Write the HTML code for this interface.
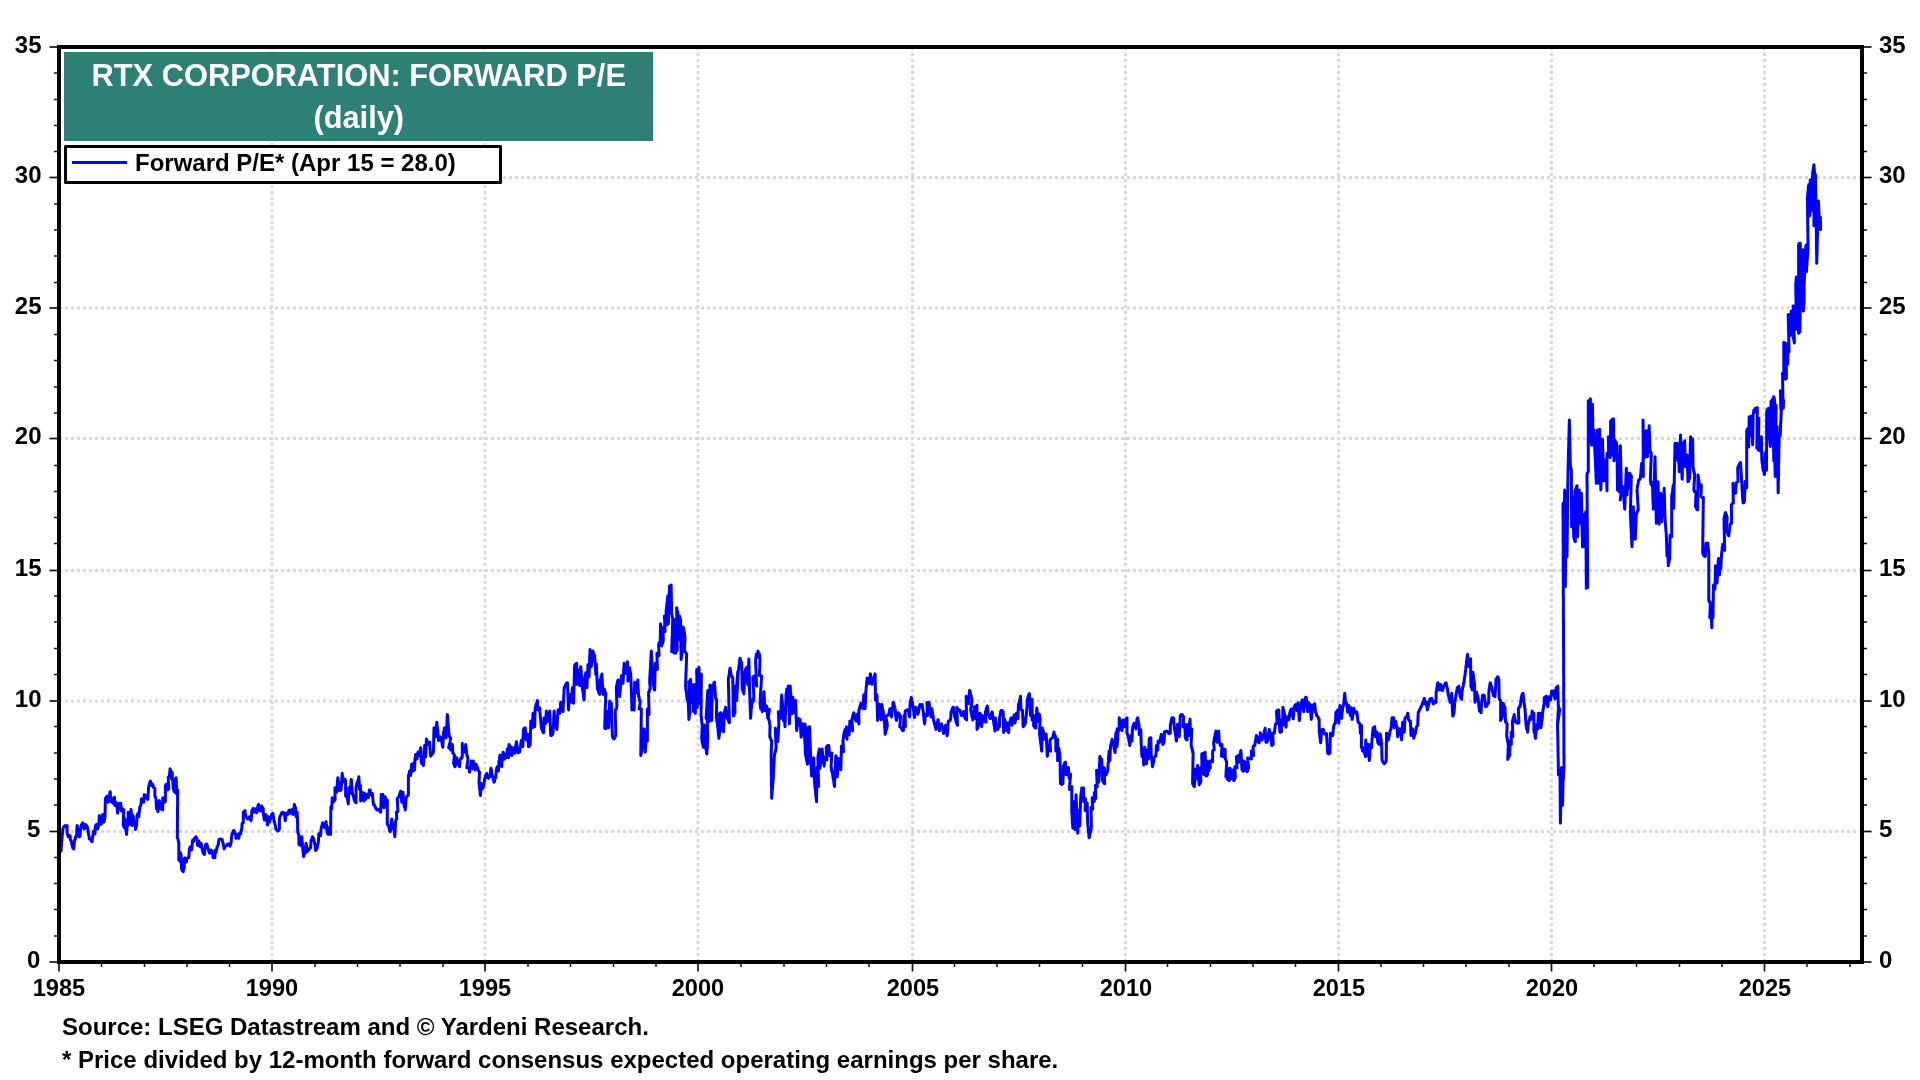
<!DOCTYPE html>
<html><head><meta charset="utf-8"><title>RTX Corporation: Forward P/E</title>
<style>
html,body{margin:0;padding:0;background:#fff;}
body{width:1920px;height:1080px;position:relative;overflow:hidden;font-family:"Liberation Sans",sans-serif;font-weight:bold;color:#000;}
.yl,.yr,.xl,.ft,#legend .tx,#title span{will-change:transform;}
#title span{display:block;}
.yl,.yr,.xl{position:absolute;font-size:24px;line-height:28px;height:28px;white-space:nowrap;}
.yl{left:0;width:41.5px;text-align:right;}
.yr{left:1879px;text-align:left;}
.xl{top:974px;width:80px;text-align:center;font-size:23.6px;}
#title{position:absolute;left:63.5px;top:51.5px;width:589.5px;height:89.5px;background:#2e7f74;color:#fff;text-align:center;font-size:30.8px;line-height:41.5px;box-sizing:border-box;padding-top:3.5px;}
#legend{position:absolute;left:63.5px;top:144.5px;width:438px;height:39px;border:3px solid #000;border-radius:1.5px;box-sizing:border-box;background:#fff;}
#legend .ln{position:absolute;left:5.5px;top:13.5px;width:55px;height:3px;background:#0000ff;}
#legend .tx{position:absolute;left:68.7px;top:0.5px;font-size:24px;line-height:30px;white-space:nowrap;}
.ft{position:absolute;left:62px;font-size:24px;line-height:28px;white-space:nowrap;}
</style></head><body>
<svg width="1920" height="1080" viewBox="0 0 1920 1080" style="position:absolute;left:0;top:0">
<line x1="59" x2="1860" y1="831.5" y2="831.5" stroke="#dadada" stroke-width="3" stroke-dasharray="3 3"/>
<line x1="59" x2="1860" y1="701" y2="701" stroke="#dadada" stroke-width="3" stroke-dasharray="3 3"/>
<line x1="59" x2="1860" y1="570.5" y2="570.5" stroke="#dadada" stroke-width="3" stroke-dasharray="3 3"/>
<line x1="59" x2="1860" y1="438.5" y2="438.5" stroke="#dadada" stroke-width="3" stroke-dasharray="3 3"/>
<line x1="59" x2="1860" y1="308" y2="308" stroke="#dadada" stroke-width="3" stroke-dasharray="3 3"/>
<line x1="59" x2="1860" y1="177.5" y2="177.5" stroke="#dadada" stroke-width="3" stroke-dasharray="3 3"/>
<line x1="272" x2="272" y1="47" y2="960" stroke="#dadada" stroke-width="3" stroke-dasharray="3 3"/>
<line x1="485" x2="485" y1="47" y2="960" stroke="#dadada" stroke-width="3" stroke-dasharray="3 3"/>
<line x1="698" x2="698" y1="47" y2="960" stroke="#dadada" stroke-width="3" stroke-dasharray="3 3"/>
<line x1="912.5" x2="912.5" y1="47" y2="960" stroke="#dadada" stroke-width="3" stroke-dasharray="3 3"/>
<line x1="1125.5" x2="1125.5" y1="47" y2="960" stroke="#dadada" stroke-width="3" stroke-dasharray="3 3"/>
<line x1="1338.5" x2="1338.5" y1="47" y2="960" stroke="#dadada" stroke-width="3" stroke-dasharray="3 3"/>
<line x1="1551.5" x2="1551.5" y1="47" y2="960" stroke="#dadada" stroke-width="3" stroke-dasharray="3 3"/>
<line x1="1764.5" x2="1764.5" y1="47" y2="960" stroke="#dadada" stroke-width="3" stroke-dasharray="3 3"/>
<path d="M61.0,851.1 61.1,850.6 61.2,848.2 61.2,848.4 61.3,847.3 61.4,844.9 61.5,845.1 61.6,843.3 61.6,843.0 61.7,840.6 61.8,840.9 61.9,838.6 62.0,838.9 62.1,837.9 62.2,835.6 62.3,834.5 62.4,834.8 62.5,832.5 62.6,832.8 62.7,831.1 62.9,829.4 63.2,828.2 63.5,827.1 63.8,826.7 64.9,825.6 66.0,826.7 67.1,825.6 67.1,826.0 67.1,827.1 67.1,829.5 67.1,830.6 67.1,830.5 67.1,832.2 67.4,834.0 67.7,835.1 67.9,834.9 68.2,836.7 69.1,836.8 69.9,835.6 70.0,836.0 70.2,837.1 70.3,838.2 70.4,840.0 71.0,840.5 71.6,842.2 71.8,844.0 72.0,843.8 72.2,846.2 72.4,846.0 72.7,847.8 73.8,848.9 73.9,847.1 74.0,847.3 74.1,844.9 74.1,845.1 74.2,842.7 74.3,842.2 74.6,840.5 74.9,839.4 75.2,839.5 75.4,837.8 76.0,836.0 76.6,835.6 76.6,833.9 76.7,834.2 76.7,833.2 76.8,830.9 76.8,829.9 76.9,828.9 76.9,829.2 77.0,826.9 77.1,825.9 77.1,825.6 77.5,826.0 77.9,828.4 78.2,828.9 78.3,830.6 78.4,830.5 78.5,832.9 78.5,834.0 78.6,833.8 78.7,834.9 78.8,836.7 79.9,836.7 80.0,834.9 80.1,835.1 80.2,832.7 80.3,832.9 80.4,831.1 80.6,829.4 80.8,828.2 81.0,828.4 81.2,826.0 81.4,824.9 81.6,824.4 82.1,824.3 82.7,822.8 82.9,823.1 83.2,824.1 83.5,826.3 83.8,826.7 84.1,828.4 84.3,828.9 84.6,828.4 84.9,826.0 85.2,826.2 85.4,824.4 86.6,825.6 86.9,826.0 87.3,827.1 87.7,828.9 87.9,829.4 88.0,831.8 88.2,831.6 88.4,834.0 88.6,833.8 88.8,835.6 89.0,836.0 89.1,837.1 89.3,838.9 90.2,838.8 91.0,840.0 91.6,841.5 92.1,841.7 92.2,840.0 92.3,839.0 92.4,838.0 92.6,837.0 92.7,836.7 92.9,834.9 93.1,835.1 93.3,832.7 93.6,831.6 93.8,831.1 94.3,833.1 94.9,833.9 95.0,833.5 95.0,831.2 95.1,831.4 95.2,830.4 95.3,828.1 95.4,827.0 95.4,826.7 96.0,824.9 96.6,824.4 96.8,824.9 97.1,827.3 97.4,828.4 97.7,828.9 97.9,827.1 98.2,827.3 98.5,824.9 98.8,824.4 98.8,822.7 98.9,821.6 99.0,821.8 99.1,820.6 99.1,819.5 99.2,817.1 99.3,816.0 99.3,815.6 100.4,816.7 100.5,818.4 100.6,818.2 100.7,819.4 100.8,820.5 100.8,821.6 100.9,824.0 101.0,824.4 101.3,824.0 101.6,821.6 101.8,820.5 102.1,820.0 102.2,819.5 102.3,818.4 102.4,816.0 102.6,816.2 102.7,814.4 102.8,814.9 103.0,816.0 103.1,817.1 103.3,819.5 103.5,819.4 103.6,821.8 103.8,822.2 104.1,821.8 104.3,820.6 104.6,819.5 104.9,817.8 104.9,817.4 105.0,816.3 105.0,815.3 105.0,814.2 105.0,813.2 105.1,812.1 105.1,809.8 105.1,810.0 105.2,809.0 105.2,806.6 105.2,805.6 105.3,805.8 105.3,803.5 105.3,802.4 105.4,801.4 105.4,800.3 105.4,799.3 105.4,798.9 106.0,797.3 106.6,797.7 107.1,796.1 107.3,797.8 107.5,797.5 107.7,799.8 107.9,800.8 108.0,800.6 108.2,802.2 108.4,801.8 108.7,800.6 108.9,799.5 109.1,797.1 109.3,796.7 109.5,796.3 109.6,795.3 109.8,793.0 110.0,793.3 110.1,791.7 110.2,792.0 110.3,793.1 110.3,794.1 110.4,795.1 110.5,797.5 110.6,797.2 110.7,798.9 111.0,800.6 111.3,801.8 111.6,802.2 111.9,800.5 112.3,799.4 112.7,798.9 112.8,799.4 112.9,800.5 113.1,801.6 113.2,803.3 113.4,803.0 113.6,801.9 113.8,800.9 114.0,798.6 114.1,797.6 114.3,797.2 114.4,797.6 114.5,800.0 114.5,799.7 114.6,800.7 114.7,803.1 114.8,804.1 114.8,803.9 114.9,805.6 115.3,805.1 115.6,802.7 116.0,802.2 116.2,802.7 116.4,803.8 116.7,804.9 116.9,807.3 117.1,807.8 117.2,808.2 117.3,809.4 117.4,811.8 117.6,811.6 117.7,813.3 117.7,812.9 117.8,811.8 117.9,810.6 117.9,808.2 118.0,808.4 118.1,806.0 118.2,806.2 118.2,804.4 119.3,803.3 119.4,805.1 119.6,804.9 119.7,807.3 119.8,808.4 119.9,808.9 120.1,808.4 120.2,806.0 120.4,806.2 120.6,805.1 120.8,803.3 120.9,805.1 121.0,806.2 121.1,806.0 121.2,808.4 121.3,808.2 121.4,809.4 121.6,811.1 122.1,810.6 122.7,808.9 123.8,810.0 123.7,810.4 123.7,811.4 123.7,812.5 123.6,813.5 123.6,814.5 123.6,816.9 123.5,816.6 123.5,817.6 123.4,820.0 123.4,821.0 123.4,822.1 123.3,821.8 123.3,824.1 123.3,823.9 123.2,825.6 123.8,826.0 124.3,827.8 124.4,827.3 124.5,824.9 124.5,825.1 124.6,822.7 124.7,822.9 124.8,820.5 124.8,819.4 124.9,818.9 125.0,819.3 125.1,820.3 125.2,822.6 125.3,822.3 125.4,823.3 125.4,824.4 125.5,825.4 125.6,826.4 125.7,827.4 125.8,829.7 125.9,829.4 126.0,831.1 126.2,831.6 126.4,834.0 126.6,834.4 126.6,832.7 126.7,832.9 126.8,831.8 126.9,830.6 127.0,829.5 127.0,827.1 127.1,826.7 127.4,826.2 127.7,823.8 128.0,823.3 128.0,821.7 128.0,822.0 128.1,819.7 128.1,819.9 128.1,818.9 128.1,816.6 128.1,816.9 128.2,815.9 128.2,813.6 128.2,813.9 128.2,812.2 129.3,813.3 129.4,813.7 129.4,816.0 129.5,817.0 129.5,818.0 129.6,817.7 129.6,818.7 129.7,819.8 129.7,822.1 129.8,823.1 129.8,822.8 129.9,824.4 130.0,822.8 130.0,823.1 130.1,820.8 130.2,821.1 130.3,820.1 130.3,817.8 130.4,818.1 130.5,815.8 130.6,816.1 130.6,815.1 130.7,812.8 130.8,813.1 130.9,810.8 130.9,809.8 131.0,809.4 131.1,809.8 131.2,812.1 131.3,811.9 131.4,812.9 131.5,813.9 131.6,815.6 131.6,815.9 131.7,818.2 131.7,817.9 131.8,818.9 131.8,821.2 131.9,822.2 131.9,821.9 132.0,822.9 132.1,825.2 132.1,825.6 132.2,825.2 132.3,824.2 132.4,823.2 132.6,822.2 132.7,821.2 132.8,818.9 132.9,819.2 133.0,818.2 133.1,815.9 133.2,815.6 133.3,817.3 133.4,817.1 133.5,818.2 133.6,819.4 133.7,821.8 133.8,822.2 134.9,821.7 135.0,823.4 135.0,824.5 135.1,825.6 135.2,826.8 135.3,826.6 135.4,829.0 135.4,829.4 135.7,827.8 136.0,828.1 136.3,825.9 136.6,825.6 136.6,823.9 136.7,824.2 136.7,821.9 136.8,820.9 136.8,821.2 136.9,818.9 136.9,819.2 137.0,816.9 137.1,817.2 137.1,815.6 137.7,813.8 138.2,813.3 138.4,815.1 138.6,816.2 138.8,816.7 138.9,816.3 139.0,815.3 139.1,813.0 139.2,813.3 139.3,811.0 139.4,811.3 139.6,809.0 139.7,809.3 139.8,808.3 139.9,806.7 140.4,806.2 141.0,804.4 141.1,802.7 141.2,802.9 141.3,801.8 141.4,799.4 141.6,798.9 142.7,800.0 143.2,801.8 143.8,802.2 143.9,801.8 143.9,799.4 144.0,799.5 144.1,798.4 144.2,796.0 144.3,796.2 144.3,794.4 145.4,795.6 146.0,797.3 146.6,797.8 147.1,798.0 147.7,799.4 147.8,799.1 147.9,798.1 147.9,797.0 148.0,794.7 148.1,795.0 148.2,793.3 148.3,793.0 148.4,790.6 148.5,789.6 148.5,788.6 148.6,787.5 148.7,786.5 148.8,786.1 149.1,785.8 149.4,783.5 149.8,783.8 150.1,781.5 150.4,781.1 150.7,781.6 151.0,782.7 151.3,783.8 151.6,785.6 152.7,784.4 153.0,784.9 153.4,787.3 153.8,787.8 154.9,788.3 154.9,790.0 154.9,789.8 154.9,792.1 154.9,793.1 154.9,794.2 154.9,795.2 154.9,796.3 154.9,796.7 155.4,797.1 156.0,798.9 156.1,799.2 156.1,801.5 156.2,802.5 156.2,803.5 156.3,803.2 156.3,805.5 156.4,805.2 156.4,806.2 156.5,808.5 156.6,808.9 157.0,809.2 157.5,810.1 158.0,811.7 158.1,810.0 158.2,809.0 158.3,809.2 158.4,806.9 158.6,807.2 158.7,806.1 158.8,804.4 159.0,802.5 159.1,801.2 159.3,800.6 159.5,800.9 159.6,802.0 159.8,803.0 159.9,804.1 160.0,805.1 160.2,806.2 160.3,807.2 160.4,808.9 160.7,808.4 161.0,807.3 161.3,806.2 161.6,804.4 161.8,804.9 162.0,806.0 162.2,807.1 162.4,808.2 162.7,810.0 162.7,809.6 162.7,807.3 162.7,807.6 162.7,805.3 162.7,804.3 162.7,803.2 162.7,802.2 162.7,802.5 162.7,800.2 162.7,800.5 162.7,799.4 162.7,797.8 162.9,798.2 163.2,800.6 163.5,800.5 163.8,802.2 164.6,802.3 165.4,801.1 165.4,800.7 165.4,798.4 165.4,798.6 165.4,796.3 165.4,796.6 165.4,795.5 165.4,793.2 165.4,792.2 165.4,792.4 165.4,790.1 165.4,790.4 165.4,788.0 165.4,788.3 165.4,785.9 165.4,785.6 166.3,784.1 167.1,783.9 167.2,785.6 167.3,786.6 167.4,787.6 167.5,787.3 167.6,789.6 167.7,790.0 168.8,788.9 168.7,788.5 168.7,786.1 168.6,786.4 168.6,784.0 168.5,782.9 168.5,781.9 168.4,782.1 168.4,779.8 168.3,778.7 168.3,777.6 168.2,777.2 169.3,776.1 169.4,774.4 169.6,774.7 169.7,772.4 169.8,771.3 169.9,771.6 170.0,769.3 170.1,768.9 170.6,770.6 171.0,771.1 171.1,772.9 171.2,774.0 171.2,773.8 171.3,774.9 171.4,776.0 171.5,777.1 171.6,778.9 171.6,778.4 171.7,776.0 171.8,776.2 171.9,773.8 172.0,772.7 172.1,772.2 172.2,774.0 172.3,775.1 172.3,776.2 172.4,776.0 172.5,778.4 172.6,779.5 172.7,780.0 172.7,781.8 172.8,781.6 172.9,784.0 173.0,785.1 173.1,786.2 173.1,787.3 173.2,787.8 173.5,789.4 173.8,789.1 174.1,791.3 174.3,791.7 174.4,791.3 174.5,788.9 174.5,787.9 174.6,788.1 174.6,785.8 174.7,784.7 174.8,783.7 174.8,782.6 174.9,782.2 175.2,780.5 175.4,779.4 175.7,778.2 176.0,777.8 176.1,778.1 176.1,779.1 176.2,780.1 176.2,781.1 176.3,782.1 176.3,783.1 176.4,785.4 176.4,785.1 176.5,787.4 176.6,787.8 176.4,788.2 176.2,790.6 176.1,790.5 175.9,792.9 175.8,793.3 176.4,791.6 177.0,790.5 177.7,790.0 177.7,790.4 177.7,792.7 177.6,792.4 177.6,794.7 177.6,795.7 177.6,795.4 177.6,796.5 177.6,798.8 177.6,798.5 177.6,800.8 177.6,801.8 177.6,802.8 177.6,802.6 177.6,804.9 177.6,804.6 177.6,806.9 177.5,806.6 177.5,808.9 177.5,810.0 177.5,809.7 177.5,812.0 177.5,811.7 177.5,814.0 177.5,815.0 177.5,814.8 177.5,817.1 177.5,818.1 177.5,817.8 177.5,820.1 177.5,819.8 177.4,820.9 177.4,821.9 177.4,822.9 177.4,825.2 177.4,826.2 177.4,827.2 177.4,827.0 177.4,828.0 177.4,830.3 177.4,831.3 177.4,831.0 177.4,832.0 177.4,833.1 177.4,834.1 177.3,836.4 177.3,836.1 177.3,837.8 177.7,838.2 178.1,839.4 178.4,841.8 178.8,842.2 178.8,842.6 178.8,843.7 178.8,846.0 178.8,847.1 178.8,848.1 178.8,849.1 178.8,850.2 178.8,851.2 178.8,852.3 178.8,852.0 178.8,853.1 178.8,854.1 178.8,856.5 178.8,857.5 178.8,857.3 178.8,859.6 178.8,860.0 179.9,861.1 179.9,859.4 179.9,859.5 179.9,857.1 179.9,857.3 179.9,856.2 179.9,853.8 179.9,852.7 179.9,852.2 180.4,852.7 181.0,854.4 181.0,854.8 181.1,855.9 181.1,858.2 181.2,859.2 181.2,859.0 181.2,861.3 181.3,862.3 181.3,863.3 181.4,864.4 181.4,865.4 181.4,866.4 181.5,867.5 181.5,868.5 181.6,868.9 182.1,870.5 182.7,870.1 183.2,871.7 183.4,870.0 183.7,869.0 183.9,869.3 184.1,868.3 184.3,866.7 184.3,864.9 184.2,865.1 184.1,864.0 184.0,862.9 183.9,861.8 183.9,860.6 183.8,858.9 184.9,857.8 185.2,859.5 185.4,860.6 185.7,860.5 186.0,862.2 186.4,861.8 186.7,859.4 187.1,858.9 187.9,857.7 188.8,857.8 188.8,857.3 188.9,856.2 189.0,855.1 189.1,854.0 189.1,851.6 189.2,851.8 189.3,849.4 189.3,848.9 190.2,847.1 191.0,846.7 191.2,848.4 191.4,849.5 191.6,850.0 191.7,849.6 191.8,848.6 191.9,847.6 192.0,845.4 192.1,844.4 192.2,844.6 192.3,843.6 192.4,841.4 192.6,840.4 192.7,840.0 193.8,841.1 194.1,839.4 194.5,838.2 194.9,837.8 196.0,836.7 196.4,838.4 196.7,838.2 197.1,840.0 197.2,840.5 197.3,841.6 197.4,844.0 197.6,845.1 197.7,845.6 197.9,843.8 198.2,842.7 198.5,842.9 198.8,841.1 199.0,842.9 199.2,844.0 199.4,845.1 199.7,844.9 199.9,846.7 200.3,844.9 200.6,845.1 201.0,843.3 201.2,843.8 201.4,844.9 201.7,846.0 201.9,847.1 202.1,848.9 202.4,850.6 202.7,850.5 202.9,851.6 203.2,853.3 204.3,854.4 204.5,854.0 204.6,851.6 204.8,850.5 204.9,850.6 205.0,849.5 205.2,847.1 205.3,847.3 205.4,845.6 206.0,844.1 206.6,843.9 206.8,844.2 207.1,845.2 207.4,846.2 207.7,847.8 208.0,848.2 208.4,849.4 208.8,851.1 209.3,852.9 209.9,853.3 210.3,852.9 210.6,851.8 211.0,850.0 212.1,851.1 212.3,852.9 212.5,852.7 212.7,855.1 212.9,854.9 213.0,857.3 213.2,857.8 214.9,857.8 215.0,856.0 215.0,856.2 215.1,853.8 215.2,852.7 215.3,851.6 215.4,850.5 215.4,850.0 215.8,851.8 216.1,852.2 216.3,850.5 216.6,849.4 216.8,849.5 217.0,847.1 217.2,846.7 217.8,846.2 218.3,844.4 218.4,842.8 218.6,843.1 218.7,840.8 218.8,841.1 218.9,839.4 220.6,838.9 222.2,839.4 222.4,841.1 222.7,842.1 222.9,843.1 223.1,842.8 223.3,844.4 223.6,846.2 223.8,846.0 224.0,848.4 224.2,848.9 224.7,847.3 225.1,846.4 225.6,846.1 226.7,845.6 227.5,844.1 228.3,843.9 229.2,844.4 230.0,846.1 230.3,844.5 230.6,844.8 230.8,843.8 231.1,842.2 231.2,841.8 231.3,840.6 231.4,838.2 231.5,837.1 231.6,836.0 231.7,835.6 232.0,833.8 232.4,834.0 232.8,832.2 233.3,830.7 233.9,830.6 234.4,832.0 235.0,832.2 235.2,833.9 235.4,833.6 235.6,834.6 235.7,835.6 235.9,838.0 236.1,838.3 236.4,836.7 236.7,835.7 236.9,836.1 237.2,834.4 237.6,834.8 237.9,837.0 238.3,838.0 238.7,838.3 238.8,836.7 239.0,837.0 239.1,836.0 239.3,833.7 239.4,833.3 240.6,833.9 240.8,833.5 241.0,831.2 241.2,831.5 241.4,830.5 241.7,828.9 241.8,828.4 241.9,827.3 242.0,824.9 242.1,825.1 242.2,823.3 243.3,822.8 243.3,821.1 243.3,820.0 243.3,820.3 243.3,817.9 243.3,816.9 243.3,817.1 243.3,816.0 243.3,815.0 243.3,812.6 243.3,812.2 244.2,812.0 245.0,810.6 245.1,812.2 245.2,813.2 245.3,814.2 245.4,813.9 245.6,815.6 246.1,817.3 246.7,817.8 247.5,819.0 248.3,818.9 248.9,817.1 249.4,816.7 249.9,817.0 250.3,818.0 250.7,820.2 251.1,820.6 251.2,818.9 251.3,817.8 251.4,816.7 251.5,817.0 251.6,815.9 251.6,813.6 251.7,813.8 251.8,811.5 251.9,811.7 252.0,810.0 252.7,809.8 253.3,808.3 253.6,809.0 253.9,811.6 254.2,812.2 254.7,810.5 255.1,809.4 255.6,808.9 255.8,809.2 256.1,810.2 256.4,811.2 256.7,812.8 256.9,812.4 257.0,810.1 257.2,809.1 257.4,808.1 257.6,807.0 257.8,806.7 258.2,804.9 258.6,804.4 258.7,806.1 258.9,805.8 259.1,808.1 259.3,809.1 259.4,809.4 260.0,810.9 260.6,811.1 260.8,809.5 261.0,808.5 261.2,808.8 261.4,807.8 261.7,806.1 262.4,807.9 263.1,808.3 263.2,808.7 263.2,811.0 263.2,810.7 263.3,811.7 263.3,813.3 263.5,815.1 263.7,816.2 263.9,816.0 264.1,818.4 264.3,819.5 264.4,820.0 264.7,818.2 264.9,818.4 265.1,817.3 265.3,816.2 265.6,814.4 265.9,814.9 266.3,816.0 266.7,817.8 266.8,818.2 266.9,819.2 267.0,821.5 267.2,822.6 267.3,822.3 267.4,824.6 267.6,825.0 267.7,824.6 267.8,822.3 267.8,822.5 267.9,821.5 268.0,819.1 268.1,819.4 268.2,817.1 268.3,816.7 268.6,818.4 268.8,818.2 269.0,819.4 269.2,821.8 269.4,822.2 269.7,820.5 270.0,820.6 270.3,819.5 270.6,817.8 270.9,817.3 271.3,816.2 271.7,814.4 272.8,813.3 273.0,813.8 273.1,816.2 273.3,816.0 273.5,817.1 273.7,819.5 273.9,820.0 274.2,821.8 274.4,821.6 274.7,822.7 275.0,824.4 275.2,824.8 275.4,825.8 275.7,828.1 275.9,829.1 276.1,829.4 276.9,829.6 277.8,831.1 278.6,830.6 279.4,828.9 279.4,828.5 279.4,827.5 279.4,825.2 279.4,824.2 279.4,823.2 279.4,822.2 279.4,821.2 279.4,820.2 279.4,819.2 279.4,818.9 279.9,817.1 280.3,816.0 280.7,814.9 281.1,814.4 281.7,812.7 282.2,812.2 283.9,812.8 284.1,814.5 284.3,815.6 284.5,815.5 284.7,816.6 284.9,817.7 285.1,820.1 285.3,820.6 285.4,820.2 285.6,817.8 285.7,818.1 285.8,815.8 285.9,816.0 286.0,815.0 286.1,813.3 286.9,813.2 287.8,814.4 288.2,814.0 288.6,811.6 289.0,810.5 289.4,810.0 289.8,811.8 290.2,812.9 290.6,813.3 291.0,813.0 291.4,812.0 291.8,809.8 292.2,809.4 292.4,811.1 292.6,812.1 292.8,813.1 292.9,814.1 293.1,814.4 293.2,814.1 293.4,811.8 293.5,810.8 293.6,811.1 293.8,808.8 293.9,809.1 294.0,808.1 294.2,807.1 294.3,804.8 294.4,804.4 294.8,806.2 295.2,807.3 295.6,807.8 295.6,809.5 295.7,809.4 295.8,811.8 295.8,812.9 295.9,814.0 296.0,815.1 296.0,814.9 296.1,816.7 296.4,816.2 296.7,815.1 296.9,814.0 297.2,812.2 297.2,812.6 297.3,814.9 297.3,814.6 297.3,815.6 297.4,816.6 297.4,818.9 297.4,818.6 297.4,820.9 297.5,820.6 297.5,821.6 297.5,823.9 297.6,823.6 297.6,825.9 297.6,825.6 297.6,827.9 297.7,828.9 297.7,828.6 297.7,829.6 297.8,831.9 297.8,832.2 298.3,834.0 298.9,834.4 298.9,834.8 298.9,835.8 298.9,838.1 298.9,837.8 298.9,840.1 298.9,839.8 298.9,842.1 298.9,841.8 298.9,844.1 298.9,844.4 299.7,844.4 300.6,845.6 300.7,843.8 300.8,844.0 301.0,841.6 301.1,840.5 301.2,839.4 301.4,838.2 301.5,837.1 301.7,836.7 301.8,837.0 301.9,838.0 302.0,840.3 302.1,841.4 302.2,841.1 302.3,842.1 302.4,843.1 302.5,845.4 302.6,846.4 302.7,846.1 302.8,847.8 302.9,849.5 303.0,850.6 303.1,851.8 303.2,852.9 303.3,854.0 303.4,855.1 303.5,854.9 303.6,856.7 304.0,854.9 304.5,853.8 305.0,853.3 305.1,853.0 305.2,852.0 305.3,851.0 305.4,850.0 305.6,849.0 305.7,846.7 305.8,845.7 305.9,846.0 306.0,845.0 306.1,843.3 306.2,845.0 306.4,844.8 306.5,845.8 306.7,848.1 306.8,849.2 306.9,850.2 307.1,850.0 307.2,851.7 308.1,850.2 308.9,850.0 309.7,848.2 310.6,847.8 310.6,847.3 310.7,846.2 310.8,845.1 310.9,844.0 311.0,841.6 311.0,840.5 311.1,840.0 311.6,839.5 312.0,838.4 312.4,836.7 312.9,838.4 313.4,838.2 313.9,840.0 314.2,841.8 314.4,841.6 314.7,844.0 315.0,844.4 315.1,844.8 315.2,845.8 315.3,848.1 315.4,847.9 315.5,850.2 315.6,850.6 316.1,849.0 316.7,849.4 317.2,847.8 317.4,846.0 317.7,844.9 317.9,843.8 318.1,844.0 318.3,842.2 318.4,841.8 318.5,839.5 318.5,839.7 318.6,837.4 318.7,837.7 318.8,836.6 318.8,834.3 318.9,833.9 319.7,834.1 320.6,835.6 320.6,835.1 320.7,834.0 320.8,831.6 320.9,831.8 321.0,830.6 321.1,828.9 321.4,827.2 321.7,826.2 321.9,826.5 322.2,824.2 322.5,823.1 322.8,822.8 323.1,823.1 323.3,824.1 323.6,826.3 323.9,826.7 325.0,827.8 325.2,827.4 325.4,826.4 325.6,825.4 325.7,824.4 325.9,822.0 326.1,821.7 326.2,823.4 326.3,824.4 326.4,824.2 326.6,825.2 326.7,826.3 326.8,828.6 326.9,828.4 327.0,829.5 327.1,831.8 327.2,832.2 327.8,834.0 328.3,834.4 328.4,834.0 328.5,831.6 328.6,830.5 328.7,829.4 328.8,828.2 328.9,827.8 329.2,829.5 329.4,830.6 329.7,830.5 330.0,831.6 330.3,834.0 330.6,834.4 330.6,832.8 330.6,831.7 330.6,830.7 330.6,829.7 330.6,828.7 330.6,828.9 330.6,826.6 330.7,826.9 330.7,825.8 330.7,823.5 330.7,823.8 330.7,821.4 330.7,820.4 330.7,819.4 330.7,818.4 330.8,818.6 330.8,817.6 330.8,815.3 330.8,814.2 330.8,813.2 330.8,813.5 330.8,811.2 330.8,811.4 330.9,810.4 330.9,809.4 330.9,807.0 330.9,806.7 331.3,807.1 331.7,808.9 331.7,808.5 331.8,807.5 331.8,806.5 331.9,804.2 331.9,804.5 332.0,802.2 332.0,802.5 332.1,800.2 332.1,800.4 332.2,798.1 332.2,797.8 332.5,798.2 332.8,800.6 333.1,800.5 333.3,802.2 334.2,800.5 335.0,800.0 335.0,799.6 335.0,798.6 335.0,797.6 335.0,796.6 335.0,795.6 335.0,794.5 335.0,793.5 335.0,791.2 335.0,790.2 335.0,789.2 335.0,788.1 335.0,787.8 335.4,789.5 335.8,790.6 336.2,790.5 336.7,792.2 336.7,790.5 336.8,789.5 336.9,789.8 337.0,788.7 337.1,786.4 337.1,786.7 337.2,785.6 337.3,783.3 337.4,782.3 337.5,781.3 337.5,780.2 337.6,780.5 337.7,779.5 337.8,777.8 338.0,778.2 338.1,780.6 338.3,781.8 338.5,781.6 338.7,782.7 338.9,784.4 339.0,784.8 339.1,787.1 339.2,788.1 339.3,787.9 339.4,788.9 339.4,790.6 341.1,790.0 341.2,789.6 341.2,787.3 341.3,786.2 341.4,785.2 341.5,785.4 341.5,783.1 341.6,783.4 341.7,781.0 341.7,781.3 341.8,778.9 341.9,777.9 341.9,778.1 342.0,775.8 342.1,774.8 342.2,775.0 342.2,773.3 342.3,773.8 342.4,774.9 342.6,776.0 342.7,777.1 342.8,778.2 342.9,780.6 343.0,780.5 343.1,782.2 343.6,781.8 344.0,779.4 344.4,778.9 345.0,779.4 345.6,781.1 345.6,781.5 345.6,782.5 345.6,784.9 345.6,785.9 345.6,786.9 345.6,786.7 345.6,787.7 345.6,788.7 345.6,791.0 345.6,792.1 345.6,793.1 345.6,794.1 345.6,795.2 345.6,795.6 346.4,796.8 347.2,796.7 347.4,797.0 347.5,799.4 347.7,800.4 347.9,800.1 348.0,802.5 348.2,802.2 348.3,803.9 348.4,803.5 348.4,802.5 348.4,800.2 348.5,800.5 348.5,798.2 348.5,797.2 348.6,797.5 348.6,795.2 348.6,794.2 348.7,793.2 348.7,793.5 348.8,791.2 348.8,791.4 348.8,789.1 348.9,788.1 348.9,787.8 349.1,789.5 349.3,789.4 349.6,791.8 349.8,792.9 350.0,793.3 350.1,792.9 350.2,790.5 350.3,790.8 350.4,789.7 350.5,788.6 350.6,786.3 350.7,786.5 350.8,785.4 350.9,784.4 351.0,782.0 351.1,780.9 351.2,779.9 351.3,779.4 351.4,779.9 351.5,782.2 351.6,782.0 351.6,783.1 351.7,785.4 351.8,785.2 351.9,787.5 351.9,787.3 352.0,788.4 352.1,789.4 352.1,790.5 352.2,792.2 352.5,792.7 352.8,795.1 353.1,794.9 353.3,796.7 353.7,797.1 354.1,799.5 354.4,800.0 355.0,801.6 355.6,801.2 356.1,802.8 356.1,801.1 356.1,800.1 356.1,800.4 356.1,798.1 356.1,798.4 356.1,797.4 356.1,796.4 356.1,794.1 356.1,793.1 356.1,792.1 356.1,792.4 356.1,791.3 356.1,789.0 356.1,789.3 356.1,788.3 356.1,786.7 356.4,786.2 356.8,783.8 357.1,782.7 357.4,782.9 357.8,781.1 358.1,780.6 358.3,779.5 358.6,778.4 358.9,776.7 358.9,777.0 359.0,779.4 359.0,779.1 359.1,781.4 359.1,781.1 359.2,782.1 359.2,783.1 359.3,785.5 359.3,786.5 359.4,786.2 359.4,787.2 359.4,788.9 359.8,787.1 360.2,786.0 360.6,785.6 360.6,787.2 360.6,788.3 360.6,789.3 360.6,789.1 360.6,791.4 360.6,791.1 360.6,792.2 360.6,794.5 360.6,794.2 360.6,796.6 360.6,797.6 360.6,797.4 360.6,799.7 360.6,800.7 360.6,801.1 360.7,800.8 360.9,798.5 361.1,798.8 361.3,796.5 361.5,796.8 361.7,794.5 361.9,794.8 362.0,793.9 362.2,792.2 362.4,792.6 362.6,793.5 362.8,795.8 363.0,795.5 363.1,797.8 363.3,797.5 363.5,799.8 363.7,799.5 363.9,801.1 364.0,800.6 364.0,798.2 364.1,798.4 364.2,796.0 364.3,796.2 364.4,795.1 364.4,793.3 364.6,795.0 364.8,796.0 365.0,795.7 365.2,798.1 365.4,797.8 365.6,799.4 365.9,797.8 366.2,798.1 366.6,797.1 366.9,794.8 367.2,794.4 367.6,794.9 368.0,796.0 368.3,797.8 368.5,797.3 368.7,796.2 368.8,795.1 369.0,792.7 369.1,792.9 369.3,790.5 369.4,790.0 370.1,790.0 370.4,791.8 370.7,792.9 370.9,792.7 371.2,794.4 372.3,793.3 372.4,795.0 372.5,796.0 372.6,795.7 372.7,798.0 372.8,797.7 372.9,798.7 373.0,801.1 373.1,802.1 373.2,801.8 373.3,802.8 373.4,804.4 374.3,804.9 375.1,806.7 375.7,808.4 376.2,808.2 376.8,810.0 378.4,809.4 379.2,809.7 379.9,811.9 380.7,812.2 380.7,811.8 380.7,809.5 380.8,809.7 380.8,808.7 380.8,807.6 380.9,806.6 380.9,804.3 380.9,804.5 381.0,802.2 381.0,801.1 381.0,801.4 381.1,799.0 381.1,798.0 381.1,796.9 381.2,797.2 381.2,796.1 381.2,794.4 382.9,794.4 383.0,796.1 383.1,795.8 383.1,798.2 383.2,799.2 383.3,798.9 383.4,801.2 383.5,801.0 383.6,803.3 383.7,803.0 383.7,804.1 383.8,806.4 383.9,806.1 384.0,807.8 384.1,806.1 384.2,806.4 384.3,804.1 384.4,804.4 384.5,803.4 384.6,801.1 384.7,800.1 384.8,799.0 384.9,799.3 385.0,798.3 385.1,796.7 385.3,798.3 385.5,798.0 385.7,800.3 385.9,800.0 386.0,802.3 386.2,803.2 386.4,804.2 386.6,803.9 386.8,805.6 386.9,803.8 387.0,802.7 387.1,802.9 387.2,801.8 387.3,800.0 387.3,801.7 387.3,801.4 387.3,803.7 387.3,803.4 387.3,805.7 387.3,806.8 387.3,806.5 387.3,808.8 387.3,808.5 387.3,809.5 387.3,811.9 387.3,811.6 387.3,813.9 387.3,813.6 387.3,815.9 387.3,815.6 387.3,816.7 387.3,819.0 387.3,818.7 387.3,819.7 387.3,820.7 387.3,821.8 387.3,824.1 387.3,824.4 388.0,824.9 388.7,826.7 389.0,827.0 389.2,828.0 389.5,830.3 389.8,831.3 390.1,831.7 390.4,831.0 390.6,829.7 390.9,827.8 391.0,826.0 391.1,826.2 391.2,823.8 391.3,824.0 391.4,821.6 391.6,820.5 391.7,820.6 391.8,818.9 391.9,820.5 392.0,821.5 392.1,821.2 392.2,823.5 392.3,824.5 392.4,824.2 392.6,826.5 392.7,827.5 392.8,827.2 392.9,828.9 393.0,828.5 393.2,826.2 393.4,826.5 393.5,824.2 393.7,823.9 393.8,824.3 393.9,826.7 393.9,827.7 394.0,828.8 394.1,829.9 394.2,830.9 394.3,832.0 394.4,833.1 394.5,834.1 394.6,835.2 394.7,835.0 394.8,836.7 394.8,835.0 394.9,835.2 395.0,834.2 395.0,833.2 395.1,832.1 395.1,829.8 395.2,828.8 395.3,829.0 395.3,828.0 395.4,825.6 395.4,824.6 395.5,824.9 395.5,823.8 395.6,821.5 395.7,821.1 396.2,819.4 396.8,818.9 396.7,818.4 396.7,816.0 396.6,816.2 396.6,815.1 396.5,812.7 396.4,812.2 397.9,811.7 397.8,810.0 397.8,808.9 397.8,807.8 397.7,808.1 397.7,807.0 397.6,805.9 397.6,804.9 397.5,802.5 397.5,802.7 397.4,801.7 397.4,800.6 397.3,798.9 398.2,797.1 399.0,796.7 399.3,796.2 399.7,793.8 400.0,792.7 400.3,792.9 400.7,791.1 400.8,792.8 400.9,793.8 401.0,793.5 401.1,794.5 401.2,795.5 401.3,797.8 401.4,798.8 401.5,798.5 401.6,800.9 401.7,800.6 401.8,802.2 401.9,801.9 402.0,799.6 402.1,799.9 402.2,797.6 402.3,797.9 402.4,795.6 402.6,794.6 402.7,794.9 402.8,792.6 402.9,792.2 403.0,793.9 403.1,793.6 403.2,794.6 403.3,796.9 403.4,798.0 403.4,799.0 403.5,800.0 403.6,799.7 403.7,800.7 403.8,801.8 403.9,804.1 404.0,804.4 404.3,806.2 404.5,807.3 404.8,807.1 405.1,808.2 405.3,810.0 405.4,808.3 405.5,807.3 405.6,807.6 405.6,805.3 405.7,804.3 405.8,803.2 405.9,803.5 405.9,802.5 406.0,800.2 406.1,799.2 406.1,798.1 406.2,797.8 407.1,796.0 407.9,795.6 408.4,794.4 408.4,794.0 408.4,791.7 408.4,791.9 408.4,789.6 408.4,789.8 408.4,787.5 408.4,787.7 408.4,785.4 408.4,784.4 408.4,783.3 408.4,783.6 408.4,782.5 408.4,781.5 408.4,779.1 408.4,778.1 408.4,777.0 408.4,776.0 408.4,775.6 408.7,775.1 409.0,774.0 409.3,772.9 409.6,771.1 409.8,772.9 410.1,772.7 410.4,773.8 410.7,775.6 410.7,775.2 410.8,774.2 410.9,773.2 411.0,770.9 411.1,769.9 411.2,770.1 411.2,769.1 411.3,766.8 411.4,765.8 411.5,766.1 411.6,764.4 411.8,764.9 412.0,767.3 412.2,768.4 412.4,768.2 412.7,770.6 412.9,771.1 413.0,770.6 413.0,769.5 413.1,768.4 413.2,766.0 413.3,766.2 413.4,765.1 413.4,763.3 413.6,765.1 413.8,764.9 414.0,766.0 414.2,768.4 414.4,768.2 414.6,770.0 414.6,768.4 414.6,768.6 414.7,766.4 414.7,766.6 414.7,764.4 414.8,764.6 414.8,762.4 414.8,762.6 414.9,760.4 414.9,760.0 415.0,758.2 415.2,758.4 415.4,757.3 415.5,756.2 415.7,754.4 416.0,754.9 416.4,757.3 416.8,758.4 417.1,758.9 417.2,757.1 417.4,756.0 417.5,756.2 417.6,753.8 417.8,752.7 417.9,752.2 418.3,752.7 418.6,755.1 419.0,755.6 419.2,755.1 419.5,754.0 419.7,751.6 420.0,750.5 420.2,750.6 420.4,749.5 420.7,747.8 420.7,749.5 420.7,750.5 420.8,751.5 420.8,752.6 420.9,752.3 420.9,753.3 420.9,755.6 421.0,755.4 421.0,756.4 421.1,757.4 421.1,758.5 421.1,759.5 421.2,760.5 421.2,762.2 421.8,763.7 422.3,763.2 422.9,764.1 423.4,765.6 423.5,763.9 423.6,762.9 423.6,761.9 423.7,760.9 423.7,759.9 423.8,760.2 423.8,757.9 423.9,756.9 423.9,757.2 424.0,756.2 424.1,755.2 424.1,754.2 424.2,751.9 424.2,750.9 424.3,749.9 424.3,750.2 424.4,747.9 424.4,748.2 424.5,747.2 424.6,745.6 424.7,745.9 424.8,746.9 424.9,747.9 425.0,750.2 425.1,751.3 425.2,751.0 425.3,753.3 425.4,753.0 425.5,754.0 425.6,756.3 425.7,756.7 425.7,756.3 425.8,755.2 425.8,752.9 425.8,753.1 425.9,752.1 425.9,749.7 426.0,750.0 426.0,749.0 426.1,746.6 426.1,745.6 426.2,745.8 426.2,744.8 426.3,742.4 426.3,742.7 426.4,740.3 426.4,740.6 426.4,738.9 426.7,740.6 427.0,740.5 427.3,741.6 427.6,744.0 427.9,744.4 428.7,744.0 429.6,742.2 429.6,742.6 429.7,743.7 429.8,746.1 429.9,745.8 430.0,748.2 430.1,749.3 430.2,750.4 430.2,750.1 430.3,751.2 430.4,753.6 430.5,753.3 430.6,755.7 430.7,756.1 431.5,754.6 432.3,754.4 432.9,752.7 433.4,752.2 433.5,750.6 433.5,749.5 433.5,748.5 433.5,747.5 433.6,746.5 433.6,746.8 433.6,744.4 433.6,743.4 433.7,743.7 433.7,741.4 433.7,740.4 433.7,739.4 433.7,739.6 433.8,737.3 433.8,737.6 433.8,735.3 433.8,734.3 433.9,733.2 433.9,733.5 433.9,731.2 433.9,731.5 434.0,730.5 434.0,729.4 434.0,727.8 434.2,729.4 434.4,730.4 434.6,731.4 434.7,731.1 434.9,733.4 435.1,734.4 435.3,734.0 435.5,735.0 435.7,736.7 435.7,735.0 435.8,735.3 435.9,734.2 436.0,731.9 436.1,732.2 436.1,731.1 436.2,730.1 436.3,729.1 436.4,728.0 436.5,725.7 436.5,724.7 436.6,724.9 436.7,722.6 436.8,722.2 436.9,722.6 437.0,724.9 437.1,725.9 437.2,725.6 437.3,727.9 437.4,727.6 437.6,728.6 437.7,729.6 437.8,730.6 437.9,732.2 438.0,732.6 438.0,733.7 438.1,736.0 438.2,737.0 438.2,736.8 438.3,737.8 438.4,740.2 438.4,740.6 438.9,740.2 439.3,739.3 439.7,738.3 440.1,736.7 440.4,737.1 440.8,739.5 441.1,740.6 441.4,740.5 441.8,742.2 442.0,742.6 442.2,743.6 442.4,745.9 442.7,746.9 442.9,747.2 442.9,745.5 443.0,744.4 443.0,743.4 443.1,742.3 443.1,741.2 443.2,740.2 443.2,739.1 443.3,739.4 443.3,738.3 443.4,737.2 443.4,734.9 443.4,734.4 443.6,732.7 443.8,731.6 444.0,731.8 444.2,729.4 444.4,728.2 444.6,727.8 444.7,728.1 444.9,729.1 445.1,731.4 445.2,732.4 445.4,732.1 445.6,734.4 445.7,734.1 445.9,735.1 446.1,736.1 446.2,737.8 446.3,736.1 446.3,736.4 446.4,734.1 446.4,733.1 446.5,732.1 446.5,732.3 446.6,731.3 446.6,729.0 446.7,729.3 446.7,728.3 446.8,727.3 446.8,726.3 446.9,725.2 446.9,722.9 446.9,723.2 447.0,720.9 447.0,721.2 447.1,720.2 447.1,717.9 447.2,716.8 447.2,715.8 447.3,714.8 447.3,714.4 447.4,714.8 447.5,717.1 447.6,716.8 447.7,717.8 447.8,720.1 447.8,721.1 447.9,722.1 448.0,721.8 448.1,722.8 448.2,725.1 448.2,724.8 448.3,725.8 448.4,728.1 448.5,727.8 448.6,728.8 448.7,731.1 448.8,732.1 448.8,731.8 448.9,734.1 449.0,734.4 449.4,736.2 449.8,737.3 450.2,737.1 450.7,738.9 450.4,739.2 450.2,741.5 450.0,742.5 449.8,743.5 449.6,744.5 449.3,744.2 449.1,746.5 448.9,746.1 448.7,747.8 449.7,748.2 450.7,750.0 451.0,749.5 451.3,748.4 451.7,747.3 452.0,746.2 452.3,744.4 452.4,744.9 452.5,747.3 452.5,747.1 452.6,749.5 452.7,750.6 452.8,751.8 452.8,752.9 452.9,753.3 453.7,753.8 454.6,755.6 454.4,756.0 454.2,757.1 454.1,759.5 453.9,759.4 453.8,761.8 453.6,762.9 453.4,763.3 454.0,763.8 454.6,766.2 455.1,766.7 455.3,765.0 455.5,765.3 455.7,763.1 455.9,763.4 456.0,761.1 456.2,760.1 456.4,760.4 456.6,758.1 456.8,757.8 457.0,759.5 457.1,759.4 457.3,760.5 457.5,761.6 457.7,764.0 457.9,764.4 458.7,764.9 459.6,766.7 459.6,766.2 459.7,763.8 459.8,762.7 459.9,762.9 460.0,761.8 460.1,760.0 460.7,758.5 461.2,757.7 461.8,758.1 462.3,756.7 462.3,756.3 462.3,755.3 462.3,752.9 462.3,753.2 462.3,750.9 462.3,749.9 462.3,750.1 462.3,749.1 462.3,748.1 462.3,747.1 462.3,744.7 462.3,743.7 462.3,743.3 462.5,745.0 462.7,746.0 462.9,746.9 463.1,746.6 463.3,748.9 463.4,748.6 463.6,750.9 463.8,751.9 464.0,752.2 464.2,751.8 464.5,750.6 464.7,749.5 465.0,747.1 465.2,746.0 465.4,746.2 465.7,744.4 465.8,746.1 465.9,745.8 466.0,748.1 466.1,747.8 466.2,748.8 466.3,751.1 466.4,752.1 466.6,751.8 466.7,754.1 466.8,754.4 467.1,756.2 467.3,756.0 467.6,757.1 467.9,758.9 467.8,760.6 467.6,761.8 467.5,762.9 467.3,764.0 467.2,763.8 467.1,764.9 466.9,767.3 466.8,767.8 467.9,767.1 469.0,767.8 469.1,769.5 469.3,770.6 469.4,771.8 469.6,772.2 469.7,771.9 469.9,769.6 470.0,768.5 470.2,768.8 470.3,766.5 470.5,765.5 470.6,764.5 470.8,764.8 470.9,763.8 471.1,762.8 471.2,761.1 471.5,761.6 471.7,764.0 471.9,763.8 472.2,764.9 472.4,766.0 472.7,767.1 472.9,768.9 473.0,767.1 473.0,767.3 473.1,766.2 473.2,763.8 473.3,764.0 473.4,762.9 473.4,761.1 473.6,762.7 473.8,762.4 474.0,763.4 474.2,765.7 474.4,765.4 474.6,766.4 474.7,768.7 474.9,768.4 475.1,770.0 475.3,768.2 475.6,767.1 475.8,767.3 476.0,764.9 476.2,764.4 476.6,766.2 477.1,767.3 477.5,767.1 477.9,768.9 478.4,770.6 479.0,771.8 479.6,772.2 479.5,773.9 479.4,773.6 479.4,774.6 479.3,776.9 479.3,777.9 479.2,777.6 479.2,778.6 479.1,780.9 479.1,781.9 479.0,782.2 479.1,783.9 479.2,783.6 479.3,784.6 479.4,787.0 479.6,786.7 479.7,789.0 479.8,790.1 479.9,789.8 480.0,790.8 480.1,793.1 480.2,792.9 480.3,793.9 480.4,795.6 480.5,795.2 480.6,794.2 480.6,791.9 480.7,792.1 480.8,789.8 480.8,788.8 480.9,789.1 481.0,786.8 481.0,785.7 481.1,784.7 481.2,783.7 481.2,783.3 481.4,783.8 481.7,786.2 481.9,786.0 482.1,787.1 482.3,788.9 482.9,788.4 483.4,786.7 483.6,784.9 483.8,785.1 484.0,784.0 484.2,782.9 484.4,781.8 484.6,780.0 484.8,778.2 485.1,778.4 485.4,776.0 485.7,775.6 486.2,775.1 486.8,773.3 487.1,775.0 487.4,776.0 487.8,775.7 488.1,778.0 488.4,778.3 489.3,776.9 490.1,776.7 490.2,776.3 490.3,775.2 490.4,774.2 490.5,771.9 490.6,772.1 490.7,769.8 490.8,768.7 490.9,768.3 491.1,768.7 491.3,769.7 491.5,770.8 491.7,773.1 491.9,774.1 492.1,775.2 492.3,775.6 492.6,776.0 492.9,777.1 493.2,779.5 493.4,779.4 493.7,780.5 494.0,782.2 494.4,781.8 494.8,779.4 495.2,778.2 495.7,777.8 495.8,777.3 495.9,774.9 495.9,775.1 496.0,774.0 496.1,772.9 496.2,771.1 496.5,769.4 496.8,768.2 497.1,767.1 497.3,766.7 497.6,768.4 497.9,768.2 498.2,769.4 498.4,771.1 498.5,769.5 498.6,768.5 498.6,768.8 498.7,766.5 498.7,766.8 498.8,765.8 498.8,764.8 498.9,763.8 498.9,761.5 499.0,761.1 499.2,760.7 499.4,759.7 499.6,757.4 499.7,757.7 499.9,755.4 500.1,755.0 500.3,756.7 500.4,757.8 500.6,757.5 500.7,759.9 500.9,759.7 501.0,762.0 501.2,763.1 501.3,762.8 501.5,763.9 501.6,766.3 501.8,766.7 501.9,764.9 501.9,763.8 502.0,762.7 502.1,761.6 502.2,761.8 502.3,759.4 502.3,758.9 502.5,758.4 502.6,756.0 502.7,754.9 502.9,753.8 503.0,752.7 503.1,752.2 503.4,752.7 503.6,755.1 503.8,756.2 504.1,757.3 504.3,757.1 504.6,758.9 505.4,757.7 506.2,757.8 506.4,756.0 506.5,754.9 506.6,753.8 506.8,752.7 506.9,752.9 507.1,751.8 507.2,749.4 507.3,748.9 507.5,750.6 507.6,751.8 507.8,752.9 507.9,754.0 508.0,755.1 508.2,756.2 508.3,756.0 508.4,757.8 508.5,757.4 508.5,756.4 508.6,754.1 508.6,754.3 508.7,753.3 508.7,752.3 508.7,749.9 508.8,750.2 508.8,749.2 508.9,746.9 508.9,745.8 509.0,746.1 509.0,744.4 509.8,746.2 510.7,746.7 510.8,748.4 510.9,748.2 511.1,749.4 511.2,750.5 511.4,752.9 511.5,754.0 511.6,755.1 511.8,755.6 511.9,753.8 512.1,754.0 512.3,752.9 512.4,751.8 512.6,750.6 512.7,748.2 512.9,747.8 513.2,748.2 513.6,749.4 513.9,750.5 514.2,752.9 514.6,753.3 514.7,751.6 514.9,751.8 515.1,750.6 515.3,748.2 515.5,747.1 515.7,746.7 515.8,745.0 516.0,744.0 516.1,744.3 516.3,743.3 516.4,741.7 516.6,743.3 516.7,744.3 516.8,744.0 517.0,746.4 517.1,746.1 517.2,748.4 517.4,749.4 517.5,749.1 517.6,750.1 517.8,752.4 517.9,752.8 519.6,752.2 519.7,750.5 519.9,750.6 520.0,748.2 520.2,747.1 520.3,747.3 520.5,746.2 520.7,744.4 520.9,742.7 521.2,741.6 521.5,740.5 521.8,740.0 522.0,740.5 522.1,741.6 522.3,744.0 522.5,745.1 522.7,746.2 522.9,746.7 522.9,745.0 523.0,743.9 523.0,744.2 523.0,743.1 523.1,740.8 523.1,739.8 523.1,740.0 523.2,739.0 523.2,737.9 523.2,736.9 523.3,734.6 523.3,734.8 523.3,733.8 523.4,731.4 523.4,731.7 523.4,730.0 524.3,728.2 525.2,727.8 525.3,729.4 525.4,729.2 525.5,730.2 525.6,731.2 525.7,732.2 525.8,734.5 525.9,734.3 526.0,736.6 526.1,736.3 526.1,737.3 526.2,738.3 526.3,740.0 526.7,738.2 527.0,738.4 527.3,736.0 527.7,734.9 528.0,734.4 528.0,734.8 528.1,735.8 528.1,738.1 528.2,737.9 528.2,740.2 528.3,741.2 528.3,740.9 528.4,743.2 528.4,744.3 528.5,745.3 528.5,746.3 528.6,746.7 529.4,746.2 530.2,744.4 530.2,742.8 530.3,741.8 530.3,742.1 530.3,741.0 530.3,740.0 530.4,739.0 530.4,736.7 530.4,737.0 530.4,734.7 530.5,733.6 530.5,732.6 530.5,731.6 530.5,731.9 530.6,729.6 530.6,728.6 530.6,728.9 530.6,726.5 530.7,725.5 530.7,724.5 530.7,723.5 530.7,722.5 530.8,721.5 530.8,721.1 531.1,722.9 531.3,724.0 531.6,725.1 531.9,726.2 532.2,726.0 532.4,727.8 532.5,726.1 532.5,726.4 532.6,724.0 532.6,724.3 532.6,722.0 532.7,722.2 532.7,719.9 532.8,720.2 532.8,719.1 532.8,716.8 532.9,717.1 532.9,714.7 533.0,713.7 533.0,713.3 533.1,713.7 533.3,714.7 533.4,715.8 533.5,716.8 533.6,717.8 533.8,720.1 533.9,719.9 534.0,720.9 534.2,723.2 534.3,722.9 534.4,724.0 534.5,725.0 534.7,726.7 534.7,726.3 534.7,723.9 534.8,724.2 534.8,723.1 534.8,720.8 534.9,721.0 534.9,720.0 534.9,718.9 534.9,717.9 535.0,715.5 535.0,714.5 535.0,713.4 535.1,712.4 535.1,712.6 535.1,711.6 535.2,710.5 535.2,708.2 535.2,707.8 535.5,707.4 535.9,705.1 536.2,704.0 536.5,704.3 536.8,703.3 537.1,702.2 537.4,700.6 537.5,701.0 537.6,703.3 537.6,703.1 537.7,704.1 537.8,706.5 537.8,707.5 537.9,707.3 537.9,708.3 538.0,710.0 538.8,709.5 539.7,707.8 539.8,708.1 539.8,709.1 539.9,711.4 540.0,712.4 540.1,713.4 540.2,714.4 540.2,714.1 540.3,716.4 540.4,717.4 540.5,717.1 540.6,718.1 540.7,719.1 540.8,721.4 540.8,722.4 540.9,722.1 541.0,723.1 541.1,725.4 541.2,726.4 541.2,726.1 541.3,727.8 541.8,729.4 542.2,729.1 542.7,731.4 543.1,732.4 543.6,732.8 543.6,731.1 543.6,730.1 543.7,729.1 543.7,729.4 543.7,728.4 543.8,727.4 543.8,726.4 543.9,725.4 543.9,724.4 543.9,722.1 544.0,722.4 544.0,721.4 544.0,720.4 544.1,718.1 544.1,717.8 544.4,719.5 544.8,719.4 545.1,720.5 545.4,722.9 545.8,723.3 545.8,721.7 545.9,720.6 545.9,720.9 546.0,718.6 546.0,718.9 546.1,717.9 546.1,715.6 546.1,715.8 546.2,713.5 546.2,713.8 546.3,712.8 546.3,711.1 546.5,712.8 546.7,712.5 546.8,713.5 547.0,714.5 547.2,715.5 547.3,717.8 547.5,718.8 547.7,719.8 547.8,719.5 548.0,721.1 548.2,719.5 548.3,718.5 548.5,717.5 548.7,716.5 548.8,716.8 549.0,714.5 549.2,714.8 549.3,713.8 549.5,712.8 549.7,711.1 549.7,711.5 549.8,713.8 549.8,714.8 549.9,714.5 549.9,715.6 549.9,717.9 550.0,717.6 550.0,718.6 550.1,719.6 550.1,720.6 550.2,721.7 550.2,724.0 550.3,723.7 550.3,726.0 550.4,725.7 550.4,728.1 550.5,727.8 550.5,728.8 550.5,731.1 550.6,732.1 550.6,733.1 550.7,734.2 550.7,735.2 550.8,735.6 551.5,735.5 552.3,734.7 553.0,733.3 553.1,731.7 553.1,730.7 553.2,731.0 553.2,728.6 553.3,727.6 553.3,726.6 553.4,726.9 553.4,725.9 553.5,724.9 553.5,723.9 553.6,721.6 553.6,721.9 553.7,720.9 553.7,718.5 553.8,718.8 553.8,717.8 553.9,715.5 553.9,714.5 554.0,714.8 554.0,713.8 554.1,711.5 554.1,711.1 554.2,712.8 554.3,712.5 554.4,714.8 554.5,715.8 554.6,715.6 554.7,716.6 554.8,717.6 554.9,719.9 554.9,719.6 555.0,720.6 555.1,721.7 555.2,723.3 555.5,725.0 555.8,724.7 556.1,725.7 556.3,728.1 556.6,727.8 556.9,729.4 556.9,727.8 557.0,728.0 557.1,727.0 557.1,726.0 557.2,725.0 557.2,722.7 557.3,722.9 557.4,721.9 557.4,719.6 557.5,718.6 557.5,718.8 557.6,717.8 557.6,716.8 557.7,714.5 557.8,713.4 557.8,712.4 557.9,712.7 557.9,711.7 558.0,710.0 558.6,711.8 559.1,712.9 559.7,713.3 559.8,713.0 559.9,712.0 560.0,711.0 560.1,708.6 560.2,707.6 560.3,707.9 560.4,706.9 560.5,704.6 560.6,703.6 560.7,702.6 560.8,702.2 561.6,703.4 562.4,703.3 562.5,703.7 562.6,706.1 562.7,707.1 562.7,706.9 562.8,709.2 562.9,708.9 562.9,710.0 563.0,711.7 563.1,711.3 563.1,710.2 563.2,709.2 563.2,706.9 563.3,705.8 563.3,704.8 563.4,703.8 563.4,704.0 563.5,701.7 563.5,700.7 563.6,699.6 563.6,699.9 563.7,697.6 563.7,696.5 563.8,695.5 563.8,695.8 563.9,694.7 563.9,693.7 564.0,692.6 564.0,691.6 564.1,689.3 564.1,688.9 564.5,687.1 564.9,687.3 565.4,684.9 565.8,684.4 566.6,683.0 567.4,682.8 567.5,683.1 567.5,685.4 567.6,686.5 567.6,686.2 567.7,688.5 567.7,688.2 567.7,689.2 567.8,691.5 567.8,692.5 567.9,693.5 567.9,693.2 567.9,695.5 568.0,695.2 568.0,697.5 568.1,698.6 568.1,699.6 568.1,699.3 568.2,700.3 568.2,702.6 568.3,702.3 568.3,703.3 568.3,705.6 568.4,706.6 568.4,707.6 568.5,707.3 568.5,709.6 568.6,710.0 568.6,708.3 568.7,707.3 568.8,706.2 568.9,705.2 568.9,704.2 569.0,703.1 569.1,702.1 569.1,701.1 569.2,701.3 569.3,699.0 569.4,697.9 569.4,696.9 569.5,695.9 569.6,694.8 569.7,694.4 569.9,694.9 570.1,697.3 570.4,698.4 570.6,699.5 570.9,700.6 571.1,701.8 571.3,702.2 571.4,701.8 571.5,700.8 571.6,698.5 571.7,697.4 571.7,696.4 571.8,695.4 571.9,695.6 572.0,693.3 572.0,693.6 572.1,692.6 572.2,690.2 572.3,689.2 572.4,689.5 572.4,687.8 572.5,689.5 572.6,689.2 572.7,690.2 572.7,692.6 572.8,692.3 572.9,694.6 573.0,694.4 573.0,695.4 573.1,696.5 573.2,697.5 573.3,698.5 573.3,700.9 573.4,701.9 573.5,701.6 573.6,703.3 573.6,701.7 573.6,701.9 573.6,699.6 573.7,698.6 573.7,698.9 573.7,697.9 573.8,696.8 573.8,694.5 573.8,694.8 573.9,692.5 573.9,692.8 573.9,691.7 573.9,690.7 574.0,688.4 574.0,688.7 574.0,687.6 574.1,685.3 574.1,685.6 574.1,683.3 574.2,683.6 574.2,681.2 574.2,681.5 574.2,680.5 574.3,679.5 574.3,677.2 574.3,676.1 574.4,676.4 574.4,675.4 574.4,673.1 574.5,673.4 574.5,671.0 574.5,671.3 574.5,669.0 574.6,668.0 574.6,666.9 574.6,667.2 574.7,665.6 575.7,663.8 576.7,663.3 576.7,663.7 576.7,666.0 576.7,665.7 576.7,668.0 576.7,669.0 576.7,670.0 576.7,671.0 576.8,670.7 576.8,673.0 576.8,674.0 576.8,673.7 576.8,676.0 576.8,675.8 576.8,676.8 576.8,679.1 576.8,678.8 576.8,681.1 576.9,682.1 576.9,681.8 576.9,682.8 576.9,684.4 577.0,682.8 577.1,683.0 577.2,680.7 577.4,681.0 577.5,679.9 577.6,678.9 577.7,677.9 577.8,675.5 578.0,675.8 578.1,673.5 578.2,672.4 578.3,672.7 578.4,671.7 578.6,670.0 578.6,671.7 578.7,672.7 578.8,673.8 578.9,673.5 578.9,675.8 579.0,675.6 579.1,676.6 579.1,678.9 579.2,678.7 579.3,679.7 579.4,680.8 579.4,683.1 579.5,682.8 579.6,683.9 579.7,685.6 579.7,683.9 579.8,684.1 579.9,683.1 579.9,682.0 580.0,681.0 580.0,679.9 580.1,678.9 580.2,677.8 580.2,676.8 580.3,675.7 580.3,673.4 580.4,672.3 580.5,671.3 580.5,670.2 580.6,669.2 580.7,669.4 580.7,667.1 580.8,666.7 580.9,667.0 580.9,668.0 581.0,670.3 581.1,671.4 581.2,671.1 581.2,673.4 581.3,674.4 581.4,674.1 581.5,676.4 581.5,677.4 581.6,677.1 581.7,679.4 581.8,680.4 581.8,681.5 581.9,681.2 582.0,682.2 582.1,683.2 582.1,684.2 582.2,686.5 582.3,687.5 582.4,688.5 582.4,688.9 582.6,690.5 582.7,690.3 582.9,691.3 583.1,693.6 583.2,693.3 583.4,694.3 583.5,696.6 583.7,696.3 583.8,698.6 584.0,699.6 584.1,700.0 584.1,698.3 584.2,698.6 584.2,697.6 584.2,696.6 584.2,695.6 584.3,694.6 584.3,692.3 584.3,692.6 584.3,690.3 584.4,689.3 584.4,688.3 584.4,688.6 584.5,687.6 584.5,686.6 584.5,685.6 584.5,684.6 584.6,683.6 584.6,681.3 584.6,680.2 584.6,680.5 584.7,678.9 584.9,677.2 585.0,676.2 585.2,675.2 585.4,675.5 585.6,674.4 585.8,672.8 585.9,673.1 585.9,674.1 586.0,675.1 586.1,676.1 586.1,677.1 586.2,679.4 586.3,680.4 586.4,681.4 586.4,681.1 586.5,682.1 586.6,684.4 586.7,684.1 586.7,686.4 586.8,686.1 586.9,687.8 586.9,687.4 587.0,686.4 587.0,685.4 587.1,684.4 587.1,683.4 587.2,681.0 587.2,681.3 587.3,679.0 587.3,679.3 587.4,678.3 587.4,676.0 587.5,676.3 587.5,675.2 587.6,674.2 587.6,673.2 587.7,672.2 587.7,671.2 587.8,668.9 587.8,669.2 587.9,668.1 587.9,665.8 588.0,664.8 588.0,664.4 588.1,664.8 588.2,667.1 588.3,666.9 588.4,669.2 588.5,670.2 588.6,671.2 588.6,672.2 588.7,671.9 588.8,674.3 588.9,675.3 589.0,676.3 589.1,676.7 589.1,676.3 589.2,675.3 589.2,674.3 589.2,673.3 589.3,672.3 589.3,670.0 589.3,669.0 589.4,668.0 589.4,668.2 589.4,665.9 589.5,664.9 589.5,665.2 589.5,664.2 589.6,663.2 589.6,660.9 589.6,659.9 589.7,658.9 589.7,657.9 589.7,656.9 589.8,657.2 589.8,654.8 589.8,655.1 589.9,654.1 589.9,653.1 589.9,652.1 590.0,649.8 590.0,649.4 590.1,649.8 590.2,652.1 590.2,653.1 590.3,652.8 590.4,655.2 590.5,654.9 590.5,657.2 590.6,658.2 590.7,657.9 590.8,660.2 590.9,661.2 590.9,661.0 591.0,663.3 591.1,664.3 591.2,665.3 591.3,665.0 591.3,666.7 591.4,665.0 591.6,663.9 591.7,662.9 591.8,661.9 591.9,662.1 592.0,661.1 592.1,658.8 592.2,659.0 592.3,656.7 592.4,656.9 592.6,655.9 592.7,654.9 592.8,653.8 592.9,652.8 593.0,651.1 593.4,652.9 593.8,654.0 594.2,655.1 594.7,655.6 594.7,657.3 594.8,658.3 594.9,659.4 594.9,659.1 595.0,660.2 595.0,661.2 595.1,663.6 595.2,663.3 595.2,665.6 595.3,665.4 595.3,667.7 595.4,668.8 595.5,669.8 595.5,670.9 595.6,671.9 595.7,671.7 595.7,674.0 595.8,674.4 595.8,674.0 595.9,671.7 595.9,671.9 596.0,670.9 596.1,668.5 596.1,668.8 596.2,667.7 596.2,665.4 596.3,664.3 596.3,663.9 596.4,664.2 596.4,666.5 596.5,667.5 596.5,668.5 596.6,669.5 596.6,669.2 596.6,671.5 596.7,671.2 596.7,673.5 596.8,674.5 596.8,674.2 596.9,675.2 596.9,676.2 597.0,678.5 597.0,678.2 597.0,680.5 597.1,681.5 597.1,681.2 597.2,683.5 597.2,684.5 597.3,684.2 597.3,686.5 597.4,687.5 597.4,687.2 597.4,688.9 597.9,689.4 598.3,690.5 598.8,692.9 599.2,692.7 599.7,694.4 599.7,692.8 599.7,693.0 599.8,690.7 599.8,689.7 599.9,688.6 599.9,688.9 599.9,686.6 600.0,685.5 600.0,684.5 600.1,683.5 600.1,683.7 600.1,682.7 600.2,680.4 600.2,680.0 600.5,679.6 600.8,678.6 601.1,676.3 601.3,676.6 601.6,675.6 601.9,673.9 601.9,674.3 602.0,676.6 602.1,677.6 602.1,678.6 602.2,679.7 602.2,680.7 602.3,680.4 602.3,682.8 602.4,683.8 602.4,683.5 602.5,684.5 602.6,685.6 602.6,686.6 602.7,688.9 602.7,688.7 602.8,689.7 602.8,690.7 602.9,693.0 602.9,692.8 603.0,694.4 603.2,694.0 603.4,692.9 603.7,690.5 603.9,689.4 604.1,688.9 604.4,689.4 604.8,690.5 605.1,692.9 605.4,692.7 605.8,694.4 605.7,696.1 605.7,695.8 605.7,696.9 605.6,699.2 605.6,700.2 605.6,701.3 605.5,702.3 605.5,703.3 605.5,704.3 605.4,705.4 605.4,706.4 605.4,706.1 605.3,708.4 605.3,709.5 605.3,709.2 605.2,710.2 605.2,712.6 605.2,712.3 605.1,713.3 605.1,715.6 605.1,715.4 605.0,716.4 605.0,717.4 605.0,719.7 604.9,720.8 604.9,720.5 604.9,722.8 604.8,723.8 604.8,723.6 604.8,725.9 604.7,726.9 604.7,728.0 604.7,728.3 605.8,728.7 606.9,727.8 607.0,726.1 607.0,726.3 607.1,725.3 607.2,724.3 607.2,721.9 607.3,720.9 607.4,719.8 607.4,720.1 607.5,719.1 607.6,716.7 607.7,717.0 607.7,715.9 607.8,713.6 607.9,713.8 607.9,712.8 608.0,711.1 608.0,712.8 608.1,713.8 608.1,713.6 608.1,714.6 608.2,717.0 608.2,718.0 608.2,719.1 608.3,720.1 608.3,719.8 608.3,722.2 608.4,721.9 608.4,723.0 608.5,725.3 608.5,725.0 608.5,727.4 608.6,727.8 608.6,726.1 608.6,726.4 608.7,725.4 608.7,723.0 608.8,723.3 608.8,722.3 608.9,719.9 608.9,720.2 608.9,717.9 609.0,718.2 609.0,715.8 609.1,716.1 609.1,713.8 609.2,712.8 609.2,713.0 609.2,710.7 609.3,711.0 609.3,710.0 609.4,707.6 609.4,707.9 609.5,706.9 609.5,705.9 609.5,703.5 609.6,703.8 609.6,701.5 609.7,701.1 610.5,702.9 611.3,703.3 611.4,703.7 611.4,706.1 611.4,707.1 611.5,706.9 611.5,709.2 611.5,709.0 611.5,710.0 611.6,712.4 611.6,712.1 611.6,714.5 611.7,714.2 611.7,715.3 611.7,717.6 611.8,718.7 611.8,719.7 611.8,720.8 611.9,721.8 611.9,722.2 611.9,723.9 612.0,723.6 612.0,726.0 612.0,727.0 612.1,726.7 612.1,727.8 612.2,728.8 612.2,731.1 612.2,730.9 612.3,731.9 612.3,734.2 612.4,735.3 612.4,735.0 612.4,736.7 613.3,738.4 614.1,738.9 614.5,738.4 614.9,737.3 615.4,736.2 615.8,734.4 615.8,734.1 615.7,731.8 615.7,732.1 615.7,729.7 615.7,728.7 615.6,729.0 615.6,726.7 615.6,725.7 615.6,726.0 615.5,724.9 615.5,723.9 615.5,721.6 615.5,721.9 615.4,719.6 615.4,719.9 615.4,718.9 615.4,717.8 615.3,715.5 615.3,714.5 615.3,713.5 615.3,712.5 615.2,711.5 615.2,711.1 615.6,709.4 616.1,709.5 616.5,708.4 616.9,706.7 616.9,705.0 616.8,703.9 616.8,702.9 616.8,703.1 616.7,700.8 616.7,701.0 616.7,700.0 616.6,698.9 616.6,697.9 616.6,696.8 616.5,694.5 616.5,693.4 616.5,693.7 616.5,691.3 616.4,690.3 616.4,690.5 616.4,688.2 616.3,687.8 616.6,686.0 616.8,684.9 617.0,683.8 617.3,684.0 617.5,681.6 617.8,680.5 618.0,680.0 618.1,681.7 618.2,682.7 618.3,683.8 618.4,684.8 618.5,684.6 618.6,685.6 618.7,687.9 618.8,687.7 618.9,690.0 619.0,689.8 619.1,692.1 619.2,693.1 619.4,692.9 619.5,693.9 619.6,695.0 619.7,696.7 619.8,695.0 619.8,695.3 619.9,692.9 620.0,693.2 620.1,692.2 620.2,689.9 620.3,688.8 620.4,689.1 620.4,686.8 620.5,685.8 620.6,686.0 620.7,685.0 620.8,683.3 620.9,681.6 621.0,680.5 621.1,679.4 621.2,678.2 621.3,677.1 621.4,676.0 621.6,675.6 621.8,676.0 622.0,678.4 622.2,679.5 622.4,679.4 622.6,681.8 622.8,682.9 623.0,683.3 623.1,681.7 623.1,680.7 623.2,681.0 623.2,680.0 623.3,677.7 623.3,678.0 623.4,677.0 623.4,674.7 623.5,673.7 623.6,672.7 623.6,671.7 623.7,672.0 623.7,669.7 623.8,668.7 623.8,669.0 623.9,668.0 623.9,667.0 624.0,666.0 624.1,665.0 624.1,663.3 624.3,665.0 624.4,664.7 624.6,665.7 624.8,668.0 624.9,667.7 625.1,670.0 625.3,671.0 625.4,672.0 625.6,673.0 625.8,673.3 625.9,672.9 626.1,670.6 626.2,670.8 626.4,668.4 626.5,667.4 626.7,667.6 626.8,666.6 627.0,664.2 627.1,664.4 627.3,663.4 627.4,661.7 627.5,663.3 627.5,664.4 627.5,665.4 627.6,666.4 627.6,667.4 627.6,667.2 627.6,668.2 627.7,669.2 627.7,670.2 627.7,671.3 627.8,672.3 627.8,673.3 627.8,674.3 627.9,676.6 627.9,676.4 627.9,677.4 627.9,679.7 628.0,680.7 628.0,681.1 628.1,680.7 628.3,678.4 628.4,677.4 628.5,677.7 628.6,676.6 628.8,674.3 628.9,674.6 629.0,672.3 629.2,671.2 629.3,671.5 629.4,669.2 629.5,668.2 629.7,667.8 629.8,669.5 630.0,670.6 630.1,670.5 630.3,672.9 630.5,672.7 630.6,673.8 630.8,675.6 630.8,675.9 630.9,678.3 630.9,679.3 630.9,679.0 631.0,680.0 631.0,682.4 631.1,683.4 631.1,683.1 631.2,685.4 631.2,685.2 631.2,686.2 631.3,688.5 631.3,688.9 631.4,690.5 631.4,690.2 631.4,691.3 631.4,692.3 631.5,693.3 631.5,694.3 631.5,696.6 631.5,697.6 631.6,698.6 631.6,699.6 631.6,699.3 631.7,700.3 631.7,701.3 631.7,703.6 631.7,703.3 631.8,704.3 631.8,706.6 631.8,707.6 631.8,708.6 631.9,708.3 631.9,710.0 633.0,709.4 634.1,710.0 634.1,709.6 634.2,708.6 634.2,706.3 634.2,705.2 634.2,704.2 634.2,704.5 634.3,703.4 634.3,702.4 634.3,700.1 634.3,699.1 634.3,698.0 634.4,698.3 634.4,696.0 634.4,696.2 634.4,695.2 634.4,692.9 634.5,691.9 634.5,692.1 634.5,689.8 634.5,690.1 634.5,689.0 634.6,686.7 634.6,685.7 634.6,686.0 634.6,684.9 634.6,682.6 634.7,682.2 634.8,683.9 634.9,683.6 635.0,684.6 635.1,686.9 635.2,687.9 635.3,688.9 635.4,689.9 635.5,691.0 635.6,690.7 635.7,691.7 635.8,693.3 635.9,693.0 636.1,690.6 636.2,690.9 636.4,689.9 636.5,688.9 636.7,686.5 636.9,685.5 637.0,685.8 637.2,684.8 637.3,683.7 637.5,682.7 637.6,681.7 637.8,680.0 637.8,680.4 637.9,681.4 637.9,683.8 638.0,684.8 638.0,685.8 638.1,685.6 638.1,687.9 638.2,688.9 638.2,690.0 638.3,691.0 638.3,690.8 638.4,693.1 638.5,694.1 638.5,693.9 638.6,695.6 638.8,697.3 639.1,697.1 639.4,699.5 639.7,700.6 639.9,701.8 640.2,702.2 640.0,704.0 639.9,703.8 639.7,706.2 639.5,706.0 639.3,708.4 639.1,708.9 640.2,708.2 641.3,708.9 641.3,709.3 641.3,710.3 641.3,712.6 641.3,713.6 641.3,714.6 641.3,715.6 641.2,716.6 641.2,716.4 641.2,717.4 641.2,719.7 641.2,720.7 641.2,721.7 641.2,721.4 641.2,723.7 641.2,724.8 641.1,725.8 641.1,725.5 641.1,726.5 641.1,727.5 641.1,728.5 641.1,729.5 641.1,730.6 641.1,732.9 641.0,733.9 641.0,733.6 641.0,735.9 641.0,736.9 641.0,736.6 641.0,739.0 641.0,740.0 641.0,739.7 640.9,742.0 640.9,743.0 640.9,742.7 640.9,745.0 640.9,746.1 640.9,747.1 640.9,746.8 640.9,749.1 640.9,748.8 640.8,751.1 640.8,752.1 640.8,753.2 640.8,752.9 640.8,753.9 640.8,755.6 641.0,753.9 641.1,754.2 641.3,753.2 641.5,751.0 641.7,751.3 641.9,749.0 642.1,748.0 642.3,748.3 642.4,746.7 642.5,746.3 642.6,743.9 642.6,742.9 642.7,741.8 642.8,742.1 642.8,739.7 642.9,740.0 643.0,737.7 643.0,737.9 643.1,736.9 643.2,734.5 643.2,734.8 643.3,733.7 643.4,731.4 643.4,731.6 643.5,729.3 643.6,728.9 643.6,730.6 643.7,731.6 643.8,731.3 643.8,733.6 643.9,734.6 644.0,735.6 644.1,736.6 644.1,737.7 644.2,738.7 644.3,738.4 644.4,740.7 644.4,741.7 644.5,742.7 644.6,743.7 644.6,744.8 644.7,744.5 644.8,745.5 644.9,747.8 644.9,747.5 645.0,748.5 645.1,750.8 645.1,751.9 645.2,752.2 645.3,750.6 645.4,750.8 645.4,748.5 645.5,747.5 645.6,746.5 645.7,746.8 645.7,744.5 645.8,744.8 645.9,742.4 645.9,741.4 646.0,741.7 646.1,739.4 646.2,739.7 646.2,738.7 646.3,737.7 646.4,735.3 646.5,735.6 646.5,734.6 646.6,732.3 646.7,731.3 646.7,731.6 646.8,729.3 646.9,728.9 646.9,729.3 647.0,730.3 647.0,732.6 647.1,732.3 647.1,733.3 647.2,734.4 647.2,735.4 647.3,737.7 647.3,737.4 647.4,739.7 647.4,739.4 647.4,741.1 647.4,740.8 647.4,739.7 647.4,737.4 647.4,737.7 647.4,736.7 647.4,734.4 647.4,733.4 647.4,733.7 647.4,731.4 647.4,730.4 647.4,730.7 647.4,728.4 647.4,727.4 647.4,727.7 647.4,726.7 647.4,725.6 647.4,723.3 647.4,722.3 647.4,721.3 647.4,720.3 647.4,720.6 647.4,718.3 647.4,717.3 647.4,717.6 647.4,716.6 647.4,714.3 647.4,714.6 647.4,713.6 647.4,712.6 647.4,710.3 647.4,709.2 647.4,708.9 647.8,710.6 648.1,710.5 648.4,711.6 648.8,712.7 649.1,714.4 649.1,712.8 649.1,713.1 649.0,712.1 649.0,711.1 649.0,710.0 649.0,707.7 648.9,708.0 648.9,705.7 648.9,706.0 648.9,705.0 648.8,704.0 648.8,701.7 648.8,700.7 648.8,699.7 648.7,698.6 648.7,698.9 648.7,696.6 648.7,695.6 648.6,695.9 648.6,693.6 648.6,693.9 648.6,692.2 649.1,691.8 649.7,689.4 650.2,688.9 650.2,688.5 650.1,686.2 650.0,686.4 649.9,684.1 649.9,684.3 649.8,683.3 649.7,682.2 649.7,680.6 649.7,678.9 649.8,679.2 649.8,676.9 649.9,675.8 650.0,674.8 650.0,673.8 650.1,672.8 650.1,673.1 650.2,670.8 650.2,671.1 650.3,670.0 650.4,669.0 650.4,668.0 650.5,665.7 650.5,664.7 650.6,665.0 650.6,662.6 650.7,661.6 650.8,660.6 650.8,660.9 650.9,659.9 650.9,658.9 651.0,657.9 651.0,655.5 651.1,654.5 651.2,654.8 651.2,652.5 651.3,651.5 651.3,651.1 651.4,652.8 651.4,653.8 651.5,654.8 651.5,654.5 651.6,655.5 651.6,657.8 651.7,658.8 651.7,658.5 651.8,659.6 651.8,661.9 651.9,661.6 651.9,663.9 652.0,663.6 652.0,664.6 652.1,666.9 652.1,667.9 652.2,667.6 652.2,669.9 652.3,669.7 652.3,670.7 652.4,673.0 652.4,672.7 652.5,675.0 652.5,674.7 652.6,675.7 652.6,678.0 652.7,679.0 652.7,678.7 652.8,681.1 652.8,682.1 652.9,681.8 652.9,682.8 653.0,684.4 653.3,684.9 653.7,686.0 654.0,688.4 654.3,689.5 654.7,690.0 654.7,688.3 654.7,688.6 654.7,687.6 654.8,685.2 654.8,685.5 654.8,683.2 654.8,682.2 654.8,682.4 654.9,680.1 654.9,679.1 654.9,679.4 654.9,678.3 654.9,676.0 655.0,676.3 655.0,674.0 655.0,672.9 655.0,673.2 655.1,672.2 655.1,669.9 655.1,668.8 655.1,669.1 655.1,666.8 655.2,667.1 655.2,666.0 655.2,665.0 655.2,663.3 655.6,665.0 656.0,666.0 656.3,667.0 656.7,668.1 657.1,667.8 657.4,669.4 657.4,667.8 657.4,666.8 657.3,665.8 657.3,664.8 657.3,665.1 657.2,662.8 657.2,663.0 657.2,662.0 657.1,659.7 657.1,658.7 657.1,657.7 657.0,656.7 657.0,655.7 657.0,656.0 656.9,653.7 656.9,653.3 657.6,653.4 658.4,654.2 659.1,655.6 659.1,655.2 659.0,652.9 659.0,653.2 658.9,650.9 658.9,651.2 658.8,650.1 658.8,647.8 658.7,648.1 658.7,645.8 658.6,646.1 658.6,644.4 659.1,642.7 659.7,642.9 660.2,641.1 660.2,639.4 660.3,638.4 660.3,637.4 660.3,637.7 660.3,636.7 660.3,634.4 660.4,634.7 660.4,633.7 660.4,632.6 660.4,630.3 660.4,630.6 660.5,629.6 660.5,628.6 660.5,627.6 660.5,626.6 660.5,624.3 660.6,623.9 660.6,625.5 660.7,626.6 660.7,627.6 660.8,627.3 660.8,628.3 660.9,630.6 660.9,630.3 661.0,632.6 661.0,633.6 661.1,634.6 661.1,634.4 661.2,635.4 661.2,636.4 661.3,638.7 661.3,639.7 661.4,640.7 661.4,641.7 661.5,642.7 661.5,643.7 661.6,644.7 661.6,644.5 661.7,646.1 662.0,644.4 662.3,643.2 662.7,643.4 663.0,641.0 663.3,640.6 663.3,640.2 663.2,639.2 663.2,638.1 663.2,635.8 663.1,636.1 663.1,635.1 663.0,634.0 663.0,631.7 662.9,632.0 662.9,629.6 662.9,629.9 662.8,627.6 662.8,627.2 663.3,627.7 663.9,628.8 664.4,629.9 665.0,631.7 665.0,630.0 664.9,628.9 664.9,629.2 664.9,626.9 664.8,627.1 664.8,626.1 664.7,625.1 664.7,622.7 664.7,621.7 664.6,621.9 664.6,619.6 664.6,618.6 664.5,618.8 664.5,617.8 664.4,616.1 664.6,617.8 664.7,617.5 664.8,618.5 664.9,619.5 665.1,620.5 665.2,622.2 665.4,620.4 665.7,620.7 665.9,619.0 666.0,619.3 666.2,620.3 666.3,621.3 666.4,622.3 666.5,623.3 666.7,625.0 666.6,623.3 666.6,622.3 666.5,621.3 666.5,621.5 666.5,620.5 666.4,618.2 666.4,618.5 666.3,616.1 666.3,616.4 666.2,614.1 666.2,614.4 666.2,612.0 666.1,611.7 666.2,610.0 666.3,608.9 666.4,609.2 666.6,606.9 666.7,607.1 666.8,604.8 666.9,605.1 667.0,602.7 667.1,603.0 667.2,601.9 667.3,600.9 667.4,598.6 667.6,597.5 667.7,597.8 667.8,596.1 667.8,596.5 667.8,597.5 667.8,599.8 667.9,600.9 667.9,601.9 667.9,602.9 667.9,604.0 667.9,603.7 668.0,604.7 668.0,605.7 668.0,608.1 668.0,609.1 668.0,608.8 668.1,611.2 668.1,612.2 668.1,611.9 668.1,614.3 668.1,615.3 668.2,615.0 668.2,617.3 668.2,618.4 668.2,618.1 668.3,620.4 668.3,621.5 668.3,622.5 668.3,622.2 668.3,623.9 668.4,622.2 668.4,621.2 668.4,621.5 668.5,620.5 668.5,618.1 668.5,618.4 668.5,617.4 668.6,616.4 668.6,615.3 668.6,614.3 668.7,613.3 668.7,612.3 668.7,610.0 668.8,608.9 668.8,607.9 668.8,608.2 668.8,607.2 668.9,606.2 668.9,603.8 668.9,604.1 669.0,601.8 669.0,602.1 669.0,601.1 669.1,598.7 669.1,599.0 669.1,598.0 669.1,597.0 669.2,596.0 669.2,593.6 669.2,592.6 669.3,592.9 669.3,590.6 669.3,589.5 669.4,588.5 669.4,588.8 669.4,587.8 669.4,586.1 670.3,586.2 671.1,585.0 671.1,586.7 671.2,587.7 671.2,587.4 671.2,588.5 671.2,589.5 671.2,590.5 671.2,592.9 671.3,592.6 671.3,593.6 671.3,596.0 671.3,595.7 671.3,596.7 671.4,599.1 671.4,598.8 671.4,601.1 671.4,600.9 671.4,603.2 671.5,602.9 671.5,604.0 671.5,605.0 671.5,607.3 671.5,607.0 671.6,609.4 671.6,610.4 671.6,611.4 671.6,611.2 671.6,613.5 671.7,613.9 671.9,614.4 672.1,615.5 672.3,617.9 672.6,617.7 672.8,619.4 672.7,619.8 672.7,620.8 672.7,621.8 672.6,624.1 672.6,623.8 672.6,626.1 672.5,625.8 672.5,628.1 672.5,627.9 672.4,628.9 672.4,629.9 672.4,632.2 672.3,633.2 672.3,632.9 672.3,635.2 672.2,636.2 672.2,635.9 672.2,636.9 672.1,637.9 672.1,640.2 672.0,639.9 672.0,642.2 672.0,643.3 671.9,644.3 671.9,645.3 671.9,645.0 671.8,647.3 671.8,648.3 671.8,649.3 671.7,650.3 671.7,651.3 671.7,651.7 672.8,651.6 673.9,652.8 673.9,651.1 674.0,651.4 674.0,650.4 674.0,649.4 674.1,647.1 674.1,646.1 674.1,646.4 674.2,644.0 674.2,644.3 674.2,643.3 674.3,641.0 674.3,640.0 674.3,639.0 674.4,638.0 674.4,637.0 674.4,636.0 674.5,636.3 674.5,633.9 674.5,632.9 674.6,633.2 674.6,632.2 674.6,629.9 674.7,630.2 674.7,629.2 674.7,628.2 674.8,625.9 674.8,624.9 674.8,623.8 674.9,622.8 674.9,623.1 674.9,620.8 675.0,619.8 675.0,619.4 675.0,621.1 675.0,620.8 675.1,621.9 675.1,624.2 675.1,623.9 675.1,625.0 675.1,627.3 675.1,627.0 675.2,628.0 675.2,629.1 675.2,631.4 675.2,632.4 675.2,633.4 675.2,633.2 675.3,634.2 675.3,635.2 675.3,636.3 675.3,637.3 675.3,639.6 675.3,640.6 675.4,640.4 675.4,642.7 675.4,642.4 675.4,644.7 675.4,645.8 675.4,645.5 675.5,647.8 675.5,647.5 675.5,648.6 675.5,650.9 675.5,650.6 675.5,651.7 675.6,653.3 676.1,651.8 676.7,650.8 677.2,650.6 677.2,650.2 677.2,649.2 677.2,648.1 677.2,645.8 677.2,646.1 677.1,643.8 677.1,644.1 677.1,641.8 677.1,642.0 677.1,639.7 677.1,640.0 677.1,639.0 677.1,636.7 677.0,635.6 677.0,634.6 677.0,633.6 677.0,632.6 677.0,631.6 677.0,630.6 677.0,629.5 676.9,629.8 676.9,628.8 676.9,627.8 676.9,625.5 676.9,625.7 676.9,624.7 676.9,622.4 676.9,621.4 676.8,620.4 676.8,620.6 676.8,619.6 676.8,617.3 676.8,616.3 676.8,615.3 676.8,615.6 676.7,613.2 676.7,613.5 676.7,611.2 676.7,610.2 676.7,610.5 676.7,609.4 676.7,607.8 676.9,609.5 677.1,610.5 677.3,611.6 677.5,611.3 677.7,612.3 677.9,613.4 678.1,615.7 678.3,616.1 678.3,616.5 678.3,618.8 678.3,618.5 678.2,620.8 678.2,620.6 678.2,621.6 678.2,623.9 678.1,624.9 678.1,625.9 678.1,625.6 678.1,626.7 678.1,627.7 678.0,630.0 678.0,631.0 678.0,632.0 678.0,633.1 677.9,632.8 677.9,635.1 677.9,634.8 677.9,637.1 677.8,636.9 677.8,639.2 677.8,640.2 677.8,640.6 677.8,638.9 677.9,639.2 678.0,638.1 678.1,635.8 678.1,634.8 678.2,633.8 678.3,632.8 678.3,633.1 678.4,630.7 678.5,629.7 678.5,628.7 678.6,629.0 678.7,628.0 678.8,626.9 678.8,624.6 678.9,624.9 679.0,623.9 679.0,621.6 679.1,620.6 679.2,619.5 679.2,618.5 679.3,618.8 679.4,617.8 679.4,616.1 679.7,616.6 680.0,619.0 680.3,618.8 680.6,620.6 680.6,622.2 680.6,623.3 680.6,624.3 680.6,625.3 680.6,626.3 680.6,627.3 680.7,628.4 680.7,629.4 680.7,630.4 680.7,630.1 680.7,631.2 680.7,633.5 680.7,633.2 680.8,634.2 680.8,636.6 680.8,637.6 680.8,637.3 680.8,639.6 680.8,639.4 680.8,640.4 680.9,641.4 680.9,642.4 680.9,643.4 680.9,644.5 680.9,645.5 680.9,647.8 681.0,647.5 681.0,649.9 681.0,650.9 681.0,651.9 681.0,652.9 681.0,654.0 681.0,655.0 681.1,654.7 681.1,657.0 681.1,656.7 681.1,659.1 681.1,659.4 681.2,659.0 681.4,657.9 681.5,655.5 681.7,655.6 681.8,653.2 681.9,653.4 682.1,651.0 682.2,650.6 682.2,650.2 682.2,649.2 682.1,646.9 682.1,645.9 682.1,646.2 682.1,643.8 682.0,644.1 682.0,641.8 682.0,640.8 682.0,639.8 681.9,640.1 681.9,637.8 681.9,638.1 681.9,637.1 681.8,634.8 681.8,633.7 681.8,632.7 681.8,631.7 681.7,630.7 681.7,631.0 681.7,628.7 681.7,628.3 682.5,627.1 683.3,627.2 683.5,628.9 683.7,628.6 683.8,629.6 684.0,631.9 684.2,631.6 684.3,632.6 684.5,633.6 684.7,635.9 684.8,635.6 685.0,637.2 685.0,637.6 684.9,638.6 684.9,641.0 684.8,640.7 684.8,641.7 684.8,642.8 684.7,645.1 684.7,646.1 684.6,647.2 684.6,648.2 684.6,647.9 684.5,649.0 684.5,650.0 684.4,651.7 685.2,651.9 685.9,652.9 686.7,654.4 686.6,656.1 686.6,655.8 686.6,656.9 686.5,659.2 686.5,658.9 686.5,661.2 686.4,662.2 686.4,662.0 686.3,664.3 686.3,664.0 686.3,666.3 686.2,667.4 686.2,668.4 686.2,668.1 686.1,670.4 686.1,671.4 686.1,671.2 686.0,673.5 686.0,673.2 685.9,674.2 685.9,675.2 685.9,676.3 685.8,677.3 685.8,678.3 685.8,680.6 685.7,680.4 685.7,681.4 685.7,683.7 685.6,684.7 685.6,685.7 685.6,686.1 685.7,687.8 685.8,688.8 685.9,689.8 686.1,690.9 686.2,691.9 686.3,691.6 686.5,692.6 686.6,693.7 686.7,696.0 686.8,695.7 687.0,698.0 687.1,699.1 687.2,699.4 687.6,699.9 688.0,702.3 688.3,702.8 688.4,704.5 688.4,705.5 688.4,706.6 688.5,707.6 688.5,708.6 688.5,708.4 688.6,709.4 688.6,711.8 688.6,711.5 688.7,713.8 688.7,713.6 688.8,714.6 688.8,715.7 688.8,718.0 688.9,719.1 688.9,719.4 689.1,717.7 689.3,716.6 689.4,715.5 689.6,714.4 689.8,713.2 690.0,712.8 690.0,712.4 689.9,711.4 689.9,710.4 689.9,708.1 689.8,708.4 689.8,707.4 689.7,705.1 689.7,705.4 689.7,703.1 689.6,702.1 689.6,701.1 689.6,700.1 689.5,700.4 689.5,699.4 689.5,697.1 689.4,697.4 689.4,695.1 689.4,695.4 689.3,694.4 689.3,692.1 689.2,691.1 689.2,691.3 689.2,690.3 689.1,688.0 689.1,687.0 689.1,686.0 689.0,686.3 689.0,684.0 689.0,683.0 688.9,682.0 688.9,681.7 689.7,681.2 690.6,679.4 690.6,679.8 690.7,682.1 690.7,681.8 690.7,684.2 690.8,683.9 690.8,684.9 690.9,685.9 690.9,686.9 691.0,689.2 691.0,688.9 691.1,690.0 691.1,692.3 691.2,692.0 691.2,694.3 691.3,695.3 691.3,696.3 691.4,696.0 691.4,697.1 691.5,699.4 691.5,700.4 691.6,700.1 691.6,701.1 691.7,702.8 691.7,701.1 691.8,700.0 691.9,699.0 691.9,697.9 692.0,696.9 692.1,695.9 692.1,696.1 692.2,695.1 692.3,692.7 692.3,693.0 692.4,691.9 692.5,690.9 692.5,689.8 692.6,687.5 692.6,687.7 692.7,686.7 692.8,685.0 692.8,685.4 692.8,686.4 692.9,688.7 692.9,689.8 692.9,689.5 693.0,690.5 693.0,692.8 693.0,692.6 693.0,694.9 693.1,694.6 693.1,695.6 693.1,698.0 693.2,699.0 693.2,700.0 693.2,701.0 693.3,700.8 693.3,703.1 693.3,702.8 693.3,703.8 693.4,704.9 693.4,705.9 693.4,708.2 693.5,709.2 693.5,710.3 693.5,710.0 693.6,711.7 693.6,711.3 693.6,709.0 693.7,709.3 693.7,708.3 693.7,706.0 693.8,705.0 693.8,704.0 693.8,704.3 693.9,701.9 693.9,700.9 693.9,701.2 694.0,698.9 694.0,697.9 694.0,696.9 694.0,697.2 694.1,694.9 694.1,693.9 694.1,694.2 694.2,693.2 694.2,692.2 694.2,689.8 694.3,688.8 694.3,689.1 694.3,688.1 694.4,685.8 694.4,686.1 694.4,684.4 694.5,684.8 694.5,685.9 694.5,688.2 694.6,689.2 694.6,690.3 694.6,691.3 694.7,691.0 694.7,693.3 694.7,693.1 694.8,694.1 694.8,695.1 694.8,696.2 694.9,697.2 694.9,699.5 694.9,699.3 695.0,701.6 695.0,701.3 695.0,703.7 695.0,703.4 695.1,705.7 695.1,705.5 695.1,707.8 695.2,708.8 695.2,709.9 695.2,709.6 695.3,711.9 695.3,713.0 695.3,713.3 695.4,711.7 695.4,710.7 695.4,709.6 695.4,708.6 695.5,708.9 695.5,706.6 695.5,705.6 695.5,704.6 695.6,704.8 695.6,703.8 695.6,701.5 695.7,701.8 695.7,700.8 695.7,699.8 695.7,698.8 695.8,697.7 695.8,695.4 695.8,694.4 695.8,693.4 695.9,693.7 695.9,692.7 695.9,691.6 696.0,689.3 696.0,689.6 696.0,687.3 696.0,687.6 696.1,686.6 696.1,684.3 696.1,683.9 696.2,685.6 696.2,686.6 696.3,686.3 696.3,687.3 696.4,688.3 696.4,689.3 696.4,690.3 696.5,692.7 696.5,693.7 696.6,693.4 696.6,694.4 696.7,695.4 696.7,696.4 696.8,698.7 696.8,699.8 696.9,700.8 696.9,701.8 697.0,701.5 697.0,703.8 697.1,703.5 697.1,704.5 697.2,705.6 697.2,707.2 697.2,705.6 697.2,704.5 697.2,704.8 697.2,703.8 697.1,701.5 697.1,701.7 697.1,700.7 697.1,698.4 697.1,697.4 697.1,696.4 697.1,695.3 697.0,695.6 697.0,694.6 697.0,692.3 697.0,691.3 697.0,690.2 697.0,689.2 697.0,688.2 696.9,687.2 696.9,686.2 696.9,685.1 696.9,684.1 696.9,683.1 696.9,682.1 696.8,681.0 696.8,680.0 696.8,679.0 696.8,679.3 696.8,678.3 696.8,675.9 696.8,674.9 696.7,673.9 696.7,674.2 696.7,671.9 696.7,672.1 696.7,669.8 696.7,669.4 696.7,671.1 696.7,670.8 696.8,673.1 696.8,672.8 696.9,673.8 696.9,674.9 696.9,677.2 697.0,678.2 697.0,677.9 697.1,678.9 697.1,681.2 697.2,682.2 697.2,683.2 697.2,684.2 697.3,683.9 697.3,685.0 697.4,686.0 697.4,688.3 697.4,689.3 697.5,690.3 697.5,691.3 697.6,691.0 697.6,693.3 697.6,693.0 697.7,694.0 697.7,695.1 697.8,696.1 697.8,697.1 697.8,699.4 697.9,699.1 697.9,701.4 698.0,701.1 698.0,702.8 698.0,701.1 698.1,700.1 698.1,699.1 698.1,698.1 698.1,697.0 698.2,697.3 698.2,696.3 698.2,695.3 698.2,694.3 698.3,693.3 698.3,691.0 698.3,691.2 698.3,690.2 698.4,689.2 698.4,688.2 698.4,685.9 698.4,684.9 698.5,685.1 698.5,682.8 698.5,683.1 698.5,680.8 698.6,679.8 698.6,680.1 698.6,679.0 698.6,678.0 698.7,677.0 698.7,674.7 698.7,675.0 698.7,674.0 698.8,673.0 698.8,670.6 698.8,670.9 698.8,668.6 698.9,668.9 698.9,667.2 698.9,668.9 699.0,668.6 699.0,670.9 699.0,671.9 699.0,671.7 699.1,672.7 699.1,673.7 699.1,674.7 699.2,675.7 699.2,676.8 699.2,679.1 699.3,680.1 699.3,681.1 699.3,680.8 699.4,683.1 699.4,684.2 699.4,685.2 699.4,686.2 699.5,685.9 699.5,686.9 699.5,688.0 699.6,689.0 699.6,690.0 699.6,692.3 699.7,693.3 699.7,693.1 699.7,694.1 699.8,695.1 699.8,697.4 699.8,697.1 699.8,698.1 699.9,699.2 699.9,700.2 699.9,702.5 700.0,702.2 700.0,703.9 700.0,702.2 700.1,701.2 700.1,701.5 700.2,700.5 700.2,698.2 700.3,697.2 700.3,697.5 700.4,695.2 700.4,694.2 700.4,694.5 700.5,693.5 700.5,691.2 700.6,691.5 700.6,689.2 700.7,689.5 700.7,688.5 700.8,687.5 700.8,686.5 700.8,684.2 700.9,684.5 700.9,682.2 701.0,682.5 701.0,681.5 701.1,679.2 701.1,678.2 701.2,677.2 701.2,676.2 701.2,676.5 701.3,675.5 701.3,673.9 701.3,674.2 701.3,676.5 701.3,677.6 701.3,677.3 701.3,679.6 701.3,679.3 701.3,680.3 701.3,682.6 701.3,682.3 701.3,684.6 701.3,684.3 701.3,686.6 701.3,687.6 701.3,688.6 701.3,688.3 701.2,689.3 701.2,690.3 701.2,691.3 701.2,692.3 701.2,694.6 701.2,695.6 701.2,696.7 701.2,697.7 701.2,698.7 701.2,698.4 701.2,699.4 701.2,700.4 701.2,701.4 701.2,703.7 701.2,704.7 701.2,705.7 701.2,706.7 701.2,707.7 701.2,708.7 701.1,708.4 701.1,709.4 701.1,710.4 701.1,712.7 701.1,713.7 701.1,713.5 701.1,714.5 701.1,716.1 701.2,716.6 701.4,717.7 701.5,720.1 701.7,721.2 701.8,722.3 701.9,723.4 702.1,723.2 702.2,725.0 702.2,726.7 702.1,727.7 702.1,728.7 702.1,728.5 702.0,729.5 702.0,731.8 701.9,731.5 701.9,733.9 701.8,734.9 701.8,734.6 701.8,735.6 701.7,736.7 701.7,738.3 701.9,738.7 702.0,741.0 702.2,741.9 702.4,742.9 702.6,742.6 702.8,743.6 703.0,745.9 703.1,745.6 703.3,747.2 703.4,746.9 703.4,745.9 703.5,744.8 703.5,742.5 703.6,742.8 703.6,740.5 703.7,739.5 703.7,739.8 703.8,738.8 703.8,737.8 703.9,735.5 703.9,734.5 704.0,734.7 704.0,733.7 704.1,732.7 704.1,731.7 704.2,730.7 704.2,728.4 704.3,728.7 704.3,726.4 704.4,726.7 704.4,725.0 704.5,725.4 704.5,727.7 704.6,728.7 704.6,728.4 704.7,730.7 704.7,730.4 704.8,732.8 704.8,733.8 704.9,733.5 704.9,735.8 705.0,736.8 705.0,736.5 705.1,738.8 705.1,739.9 705.2,740.9 705.2,741.9 705.3,741.6 705.3,743.9 705.4,743.6 705.4,744.6 705.5,745.7 705.5,746.7 705.6,748.3 705.8,748.8 706.1,749.9 706.4,751.0 706.6,753.4 706.9,753.9 706.9,752.2 707.0,751.1 707.0,750.1 707.1,749.1 707.2,749.3 707.2,748.3 707.3,747.2 707.3,744.9 707.4,743.8 707.4,744.1 707.5,743.0 707.5,740.7 707.6,739.6 707.6,738.6 707.7,738.9 707.7,737.8 707.8,736.1 707.7,734.4 707.7,734.7 707.7,733.6 707.6,732.6 707.6,730.3 707.6,729.2 707.5,728.2 707.5,728.4 707.5,726.1 707.4,726.3 707.4,724.0 707.4,724.3 707.3,723.2 707.3,720.9 707.3,719.8 707.2,719.4 706.1,718.3 706.2,716.7 706.2,716.9 706.3,714.6 706.4,713.6 706.4,713.8 706.5,712.8 706.5,711.8 706.6,709.5 706.7,709.7 706.7,708.7 706.8,707.7 706.9,705.3 706.9,704.3 707.0,703.3 707.0,703.6 707.1,701.2 707.2,700.2 707.2,699.2 707.3,698.1 707.3,698.4 707.4,697.4 707.5,696.3 707.5,694.0 707.6,694.3 707.7,692.0 707.7,692.2 707.8,690.6 707.8,692.2 707.8,691.9 707.9,692.9 707.9,695.2 708.0,696.2 708.0,695.9 708.0,696.9 708.1,699.2 708.1,698.9 708.1,699.9 708.2,700.9 708.2,703.2 708.2,704.3 708.3,704.0 708.3,705.0 708.4,707.3 708.4,707.0 708.4,708.0 708.5,709.0 708.5,711.3 708.5,712.3 708.6,713.3 708.6,713.0 708.6,715.3 708.7,715.0 708.7,717.3 708.7,717.0 708.8,719.3 708.8,719.0 708.9,721.3 708.9,721.7 708.9,720.0 709.0,720.3 709.0,718.0 709.0,718.2 709.0,715.9 709.1,716.2 709.1,715.2 709.1,714.2 709.2,713.1 709.2,712.1 709.2,709.8 709.3,708.8 709.3,707.8 709.3,708.1 709.4,707.0 709.4,704.7 709.4,703.7 709.4,704.0 709.5,703.0 709.5,700.6 709.5,699.6 709.6,698.6 709.6,698.9 709.6,696.6 709.7,695.6 709.7,694.5 709.7,693.5 709.8,693.8 709.8,692.8 709.8,691.8 709.8,689.4 709.9,688.4 709.9,688.7 709.9,686.4 710.0,685.4 710.0,685.0 710.0,686.7 710.1,686.4 710.1,687.4 710.2,688.4 710.2,690.7 710.3,691.7 710.3,692.8 710.4,692.5 710.4,693.5 710.5,695.8 710.5,695.5 710.6,697.8 710.6,697.6 710.7,698.6 710.7,700.9 710.8,701.9 710.8,702.9 710.9,702.6 710.9,703.7 711.0,704.7 711.0,705.7 711.0,706.7 711.1,707.7 711.1,710.0 711.2,709.7 711.2,710.8 711.3,713.1 711.3,714.1 711.4,713.8 711.4,714.8 711.5,717.1 711.5,718.2 711.6,717.9 711.6,720.2 711.7,720.6 711.7,718.9 711.7,719.2 711.7,716.9 711.7,715.9 711.8,714.9 711.8,713.8 711.8,714.1 711.8,713.1 711.8,712.1 711.8,711.1 711.9,708.8 711.9,707.8 711.9,708.1 711.9,707.1 711.9,704.8 711.9,705.0 712.0,704.0 712.0,701.7 712.0,700.7 712.0,701.0 712.0,698.7 712.0,699.0 712.1,696.7 712.1,697.0 712.1,694.7 712.1,693.6 712.1,692.6 712.1,691.6 712.2,690.6 712.2,690.9 712.2,689.9 712.2,688.9 712.2,687.2 712.7,685.6 713.1,685.9 713.6,684.9 714.0,682.6 714.4,682.2 714.5,682.6 714.6,684.9 714.7,685.9 714.7,685.6 714.8,686.6 714.9,687.6 715.0,688.6 715.0,690.9 715.1,690.6 715.2,691.6 715.3,692.6 715.3,693.6 715.4,695.9 715.5,695.6 715.6,697.2 715.9,699.0 716.3,698.8 716.7,700.6 716.7,702.2 716.6,703.3 716.6,704.3 716.6,704.1 716.6,706.4 716.6,707.5 716.6,708.5 716.6,708.2 716.5,710.6 716.5,711.6 716.5,712.7 716.5,712.4 716.5,713.4 716.5,714.5 716.5,715.5 716.4,717.2 716.6,718.9 716.7,718.6 716.8,720.9 717.0,721.9 717.1,721.6 717.2,722.6 717.4,723.6 717.5,724.6 717.6,726.9 717.8,727.2 717.9,728.9 718.0,728.6 718.1,729.6 718.2,731.9 718.3,732.9 718.4,733.9 718.5,733.6 718.6,736.0 718.7,735.7 718.8,736.7 718.9,738.3 719.0,736.7 719.1,735.7 719.2,736.0 719.3,735.0 719.4,734.0 719.6,731.7 719.7,732.0 719.8,729.7 719.9,728.7 720.0,728.3 720.0,726.7 719.9,726.9 719.9,725.9 719.8,723.6 719.8,723.8 719.8,722.8 719.7,721.8 719.7,720.7 719.6,718.4 719.6,717.4 719.6,717.6 719.5,715.3 719.5,715.6 719.4,713.9 720.3,712.7 721.1,712.8 721.2,713.2 721.2,715.5 721.3,716.6 721.4,716.3 721.4,718.7 721.5,718.4 721.6,719.4 721.6,721.8 721.7,722.8 721.8,722.6 721.8,724.9 721.9,726.0 722.0,725.7 722.0,726.8 722.1,729.1 722.2,728.9 722.2,730.6 723.6,731.7 723.6,730.0 723.6,728.9 723.7,729.2 723.7,728.1 723.8,725.8 723.8,726.0 723.8,723.7 723.9,724.0 723.9,722.9 723.9,720.6 724.0,719.5 724.0,718.5 724.1,717.4 724.1,716.4 724.1,716.6 724.2,715.6 724.2,713.9 724.4,713.4 724.7,711.0 724.9,709.9 725.1,710.1 725.3,709.0 725.6,707.2 725.7,707.6 725.9,709.9 726.0,709.6 726.2,711.9 726.3,711.6 726.5,712.6 726.6,713.6 726.8,716.0 726.9,717.0 727.1,718.0 727.2,718.3 727.8,718.8 728.3,719.9 728.9,722.3 729.4,722.8 729.4,722.4 729.4,721.4 729.4,719.1 729.3,719.4 729.3,717.0 729.3,716.0 729.3,716.3 729.2,714.0 729.2,714.3 729.2,711.9 729.2,710.9 729.1,709.9 729.1,708.9 729.1,709.2 729.0,708.1 729.0,705.8 729.0,704.8 729.0,705.1 728.9,702.8 728.9,701.8 728.9,700.7 728.9,701.0 728.8,698.7 728.8,699.0 728.8,698.0 728.8,696.9 728.7,694.6 728.7,693.6 728.7,692.6 728.7,692.9 728.6,690.6 728.6,689.5 728.6,689.8 728.5,687.5 728.5,687.8 728.5,686.8 728.5,685.7 728.4,683.4 728.4,682.4 728.4,681.4 728.4,680.4 728.3,680.0 728.5,678.3 728.6,677.2 728.8,676.2 728.9,676.4 729.1,675.3 729.2,674.3 729.4,673.2 729.5,670.9 729.7,669.8 729.8,670.0 730.0,668.3 730.2,668.8 730.4,671.2 730.6,671.0 730.7,673.4 730.9,673.2 731.1,675.0 731.7,676.8 732.2,676.6 732.8,678.3 732.8,680.0 732.8,681.0 732.8,680.7 732.8,683.1 732.9,684.1 732.9,685.1 732.9,684.8 732.9,687.2 732.9,686.9 732.9,689.2 732.9,690.2 733.0,691.2 733.0,691.0 733.0,692.0 733.0,693.0 733.0,695.3 733.0,696.3 733.0,696.1 733.1,698.4 733.1,698.1 733.1,699.1 733.1,701.4 733.1,702.5 733.1,702.2 733.2,704.5 733.2,704.2 733.2,705.3 733.2,706.3 733.2,707.3 733.2,708.3 733.2,709.3 733.3,710.4 733.3,712.7 733.3,713.7 733.3,714.7 733.3,714.4 733.3,716.1 733.9,715.6 734.4,713.2 735.0,712.8 735.0,711.1 735.0,711.4 734.9,710.4 734.9,708.0 734.9,708.3 734.9,706.0 734.8,705.0 734.8,704.0 734.8,704.2 734.8,703.2 734.8,700.9 734.7,701.2 734.7,700.1 734.7,697.8 734.7,698.1 734.6,697.1 734.6,696.0 734.6,693.7 734.6,694.0 734.6,693.0 734.5,692.0 734.5,689.6 734.5,689.9 734.5,687.6 734.4,687.2 735.6,686.0 736.7,686.1 736.7,685.7 736.8,683.4 736.9,682.4 737.0,682.6 737.1,680.3 737.1,679.3 737.2,679.5 737.3,677.2 737.4,677.5 737.5,676.4 737.5,674.1 737.6,674.4 737.7,672.0 737.8,671.7 737.7,672.0 737.7,674.4 737.7,675.4 737.6,676.4 737.6,677.5 737.5,678.5 737.5,678.2 737.5,679.3 737.4,680.3 737.4,682.6 737.3,683.7 737.3,684.7 737.3,684.4 737.2,686.8 737.2,686.5 737.1,688.8 737.1,689.9 737.1,689.6 737.0,691.9 737.0,693.0 736.9,692.7 736.9,693.7 736.9,696.0 736.8,697.1 736.8,698.1 736.7,699.1 736.7,698.9 736.7,700.6 736.7,698.9 736.8,699.2 736.8,696.9 736.9,697.2 736.9,694.9 737.0,693.9 737.1,692.9 737.1,691.9 737.2,692.2 737.2,689.9 737.3,690.2 737.3,689.2 737.4,688.2 737.4,687.2 737.5,684.9 737.6,685.2 737.6,684.2 737.7,683.2 737.7,682.2 737.8,681.2 737.8,678.9 737.9,679.2 737.9,676.9 738.0,675.9 738.1,674.9 738.1,675.2 738.2,672.9 738.2,671.9 738.3,672.2 738.3,670.6 738.5,670.2 738.6,669.2 738.8,666.9 738.9,665.8 739.0,664.8 739.2,665.1 739.3,664.1 739.4,663.1 739.6,662.0 739.7,659.7 739.9,660.0 740.0,658.3 740.4,658.8 740.8,661.2 741.2,662.3 741.7,662.8 741.7,663.2 741.7,664.2 741.7,666.5 741.8,667.5 741.8,668.5 741.8,668.3 741.8,670.6 741.8,671.6 741.9,671.3 741.9,673.6 741.9,674.7 741.9,675.7 742.0,676.7 742.0,677.7 742.0,678.8 742.0,678.5 742.0,679.5 742.1,680.5 742.1,681.6 742.1,682.6 742.1,684.9 742.2,684.6 742.2,685.6 742.2,686.7 742.2,688.3 742.6,690.1 742.9,689.9 743.2,692.3 743.6,692.1 743.9,693.9 743.9,692.2 744.0,691.2 744.0,691.5 744.1,689.2 744.1,689.5 744.2,688.5 744.2,686.2 744.3,685.2 744.3,685.4 744.4,683.1 744.4,682.1 744.5,682.4 744.5,681.4 744.6,679.1 744.6,679.4 744.7,677.1 744.7,677.4 744.8,675.1 744.8,675.3 744.9,673.0 744.9,673.3 745.0,671.7 745.4,669.9 745.8,668.8 746.2,669.0 746.7,667.2 746.7,668.9 746.8,668.7 746.9,671.0 746.9,672.1 747.0,671.8 747.1,674.1 747.1,675.2 747.2,674.9 747.3,677.3 747.3,678.3 747.4,679.4 747.5,679.1 747.5,680.2 747.6,682.5 747.6,682.3 747.7,683.3 747.8,685.0 747.8,683.3 747.9,683.6 747.9,682.6 747.9,680.3 748.0,679.3 748.0,678.3 748.1,677.3 748.1,677.6 748.2,675.3 748.2,674.3 748.2,673.3 748.3,672.3 748.3,672.6 748.4,670.3 748.4,669.3 748.5,668.3 748.5,668.6 748.5,667.6 748.6,666.6 748.6,664.3 748.7,664.6 748.7,662.3 748.8,661.3 748.8,660.2 748.8,660.5 748.9,658.9 748.9,659.2 748.9,661.6 749.0,662.6 749.0,662.3 749.0,663.3 749.0,665.6 749.0,666.6 749.1,666.3 749.1,668.6 749.1,669.6 749.1,669.3 749.1,671.6 749.2,672.6 749.2,673.7 749.2,674.7 749.2,674.4 749.2,675.4 749.3,676.4 749.3,677.4 749.3,678.4 749.3,679.4 749.3,681.7 749.4,681.4 749.4,682.4 749.4,683.4 749.4,684.5 749.4,686.1 749.5,686.5 749.5,687.5 749.5,689.8 749.6,690.8 749.6,691.8 749.7,692.8 749.7,693.8 749.7,694.8 749.8,695.8 749.8,695.5 749.8,697.8 749.9,698.8 749.9,698.6 749.9,700.9 750.0,700.6 750.0,702.9 750.0,703.9 750.1,703.6 750.1,705.9 750.1,705.6 750.2,707.9 750.2,708.9 750.2,709.9 750.3,709.6 750.3,711.9 750.3,711.6 750.4,712.6 750.4,715.0 750.5,714.7 750.5,717.0 750.5,716.7 750.6,718.3 750.6,718.0 750.7,716.9 750.8,715.9 750.9,714.9 751.0,712.5 751.0,711.5 751.1,710.5 751.2,709.4 751.3,708.4 751.3,708.7 751.4,707.6 751.5,706.6 751.6,705.6 751.7,703.9 751.8,703.4 752.0,702.3 752.2,701.1 752.4,699.4 752.8,699.9 753.1,701.8 753.3,701.3 753.5,700.1 753.7,697.7 753.9,697.2 753.8,696.9 753.8,695.9 753.7,693.6 753.7,693.9 753.6,691.6 753.6,690.6 753.5,689.6 753.4,689.9 753.4,687.6 753.3,687.9 753.3,685.6 753.2,684.6 753.2,684.9 753.1,683.9 753.1,682.9 753.0,680.6 752.9,679.6 752.9,678.6 752.8,677.6 752.8,677.2 753.9,676.0 755.0,676.1 755.2,677.8 755.3,677.5 755.5,679.8 755.7,679.5 755.8,681.8 756.0,682.8 756.2,683.8 756.3,684.8 756.5,685.8 756.7,686.1 756.6,685.7 756.6,683.4 756.5,683.7 756.5,682.7 756.4,681.6 756.4,679.3 756.4,679.6 756.3,678.6 756.3,677.6 756.2,675.2 756.2,674.2 756.1,674.5 756.1,672.2 756.0,671.1 756.0,670.1 756.0,670.4 755.9,668.1 755.9,668.4 755.8,667.3 755.8,665.0 755.7,664.0 755.7,663.0 755.6,663.2 755.6,662.2 755.6,660.6 755.7,658.8 755.8,659.1 756.0,658.0 756.1,655.6 756.2,655.9 756.4,654.1 756.6,654.6 756.9,655.8 757.2,657.5 757.3,655.8 757.4,654.7 757.6,653.7 757.7,653.9 757.9,651.5 758.0,651.1 758.1,651.5 758.3,653.9 758.4,654.9 758.5,654.7 758.7,656.4 759.0,654.4 759.3,653.6 759.5,655.3 759.6,656.4 759.7,656.1 759.9,658.5 760.0,658.9 760.0,660.6 759.9,660.3 759.9,662.7 759.9,663.7 759.8,663.4 759.8,664.5 759.8,665.5 759.7,667.9 759.7,667.6 759.7,668.7 759.6,671.0 759.6,670.7 759.5,671.8 759.5,674.1 759.5,675.2 759.4,675.6 760.6,675.2 761.7,676.1 761.6,676.5 761.5,677.5 761.5,679.8 761.4,680.9 761.3,680.6 761.3,681.6 761.2,682.6 761.2,685.0 761.1,684.7 761.0,687.0 761.0,688.0 760.9,687.8 760.8,688.8 760.8,689.8 760.7,690.8 760.6,693.2 760.6,692.9 760.5,693.9 760.4,694.9 760.4,696.0 760.3,698.3 760.3,698.0 760.2,700.4 760.1,701.4 760.1,702.4 760.0,702.8 760.1,704.4 760.2,704.1 760.4,706.4 760.5,707.5 760.6,707.2 760.7,708.8 761.0,707.1 761.2,706.0 761.5,705.6 761.6,707.3 761.7,707.0 761.8,709.3 762.0,710.3 762.1,710.0 762.2,711.7 762.3,710.0 762.4,709.0 762.5,708.0 762.6,708.3 762.6,706.0 762.7,705.0 762.8,704.0 762.9,704.3 763.0,703.3 763.1,702.3 763.1,700.0 763.2,700.3 763.3,698.0 763.4,698.3 763.5,697.3 763.6,695.0 763.6,694.0 763.7,694.3 763.8,692.0 763.9,691.7 764.0,692.1 764.0,693.1 764.1,694.2 764.1,695.2 764.2,696.3 764.3,697.3 764.3,699.7 764.4,700.7 764.4,701.8 764.5,701.5 764.6,703.9 764.6,703.6 764.7,704.7 764.8,705.7 764.8,706.8 764.9,709.1 764.9,710.2 765.0,710.6 765.4,710.1 765.8,709.0 766.2,707.9 766.7,706.1 766.8,706.5 766.9,707.5 766.9,709.8 767.0,710.8 767.1,710.6 767.2,711.6 767.3,712.6 767.4,713.6 767.5,714.6 767.6,715.6 767.7,718.0 767.8,718.3 768.0,718.0 768.1,717.0 768.3,714.7 768.5,715.0 768.7,712.7 768.9,713.1 769.1,710.8 769.3,709.8 769.4,709.4 769.3,711.2 769.1,711.0 769.0,712.1 768.8,714.5 768.7,715.6 768.5,715.5 768.3,717.2 768.6,717.7 768.8,720.1 769.0,719.9 769.3,721.0 769.5,723.4 769.8,724.5 770.0,725.0 770.0,726.7 770.0,727.7 769.9,727.4 769.9,729.7 769.9,730.7 769.9,731.8 769.9,731.5 769.9,733.8 769.8,733.5 769.8,734.5 769.8,736.9 769.8,737.2 770.4,737.7 771.0,740.1 771.7,740.6 771.6,742.2 771.6,743.3 771.5,744.3 771.5,745.3 771.5,745.1 771.4,747.4 771.4,748.4 771.3,748.2 771.3,749.2 771.3,751.5 771.2,751.3 771.2,752.3 771.2,754.6 771.1,755.0 771.1,755.4 771.1,757.7 771.1,757.4 771.2,758.4 771.2,759.4 771.2,760.4 771.2,762.7 771.2,762.4 771.2,764.7 771.2,764.4 771.3,765.4 771.3,766.4 771.3,768.8 771.3,768.5 771.3,769.5 771.3,770.5 771.3,772.8 771.3,773.8 771.4,773.5 771.4,774.5 771.4,776.8 771.4,776.5 771.4,777.5 771.4,778.5 771.4,780.8 771.4,781.9 771.5,782.9 771.5,783.9 771.5,784.9 771.5,785.9 771.5,785.6 771.5,787.9 771.5,787.6 771.6,788.6 771.6,790.9 771.6,790.6 771.6,792.9 771.6,792.6 771.6,793.7 771.6,796.0 771.6,797.0 771.7,798.0 771.7,798.3 771.7,798.0 771.8,797.0 771.9,794.7 772.0,793.7 772.1,792.7 772.1,791.7 772.2,790.6 772.3,789.6 772.4,789.9 772.5,788.9 772.5,787.9 772.6,786.9 772.7,785.9 772.8,783.6 772.9,783.9 772.9,781.6 773.0,781.9 773.1,779.6 773.2,778.6 773.3,778.9 773.3,777.2 773.4,775.6 773.4,775.9 773.5,774.8 773.5,772.5 773.6,772.8 773.6,771.8 773.7,770.8 773.7,768.5 773.8,767.5 773.8,766.5 773.9,765.5 773.9,765.8 774.0,764.7 774.0,762.4 774.1,762.7 774.1,761.7 774.2,760.7 774.2,758.4 774.3,757.4 774.3,756.4 774.4,756.7 774.4,755.0 774.7,753.2 775.0,753.4 775.3,751.0 775.6,751.2 775.8,748.8 776.1,748.3 776.1,746.7 776.0,745.7 776.0,746.0 776.0,743.7 775.9,744.0 775.9,741.7 775.8,742.0 775.8,739.7 775.8,738.7 775.7,739.0 775.7,736.7 775.6,737.0 775.6,736.0 775.6,735.0 775.5,734.0 775.5,733.0 775.5,732.0 775.4,731.0 775.4,728.7 775.3,728.3 775.4,728.7 775.5,729.7 775.6,730.7 775.7,731.7 775.8,732.7 775.9,733.7 776.0,734.7 776.1,737.0 776.1,737.4 776.3,736.9 776.5,734.4 776.7,733.1 776.9,732.6 777.0,733.0 777.1,734.0 777.2,735.0 777.3,737.3 777.4,738.3 777.5,739.3 777.6,740.3 777.7,741.3 777.8,741.7 777.8,740.0 777.9,738.9 778.0,739.2 778.0,736.8 778.1,737.1 778.1,736.0 778.2,733.7 778.3,733.9 778.3,732.9 778.4,731.8 778.5,730.8 778.5,729.7 778.6,727.4 778.6,726.3 778.7,726.6 778.8,725.5 778.8,723.2 778.9,722.8 778.8,721.1 778.8,721.4 778.7,720.4 778.7,719.4 778.6,717.1 778.6,716.1 778.5,716.4 778.5,715.3 778.4,713.0 778.4,713.3 778.3,711.7 778.5,713.4 778.7,713.3 778.9,714.4 779.1,716.2 779.4,714.4 779.8,713.8 780.0,714.3 780.2,715.4 780.4,717.9 780.6,718.3 780.6,716.7 780.7,717.0 780.7,715.9 780.7,714.9 780.8,713.9 780.8,712.9 780.9,711.9 780.9,710.9 781.0,708.6 781.0,708.8 781.1,706.5 781.1,705.5 781.2,705.8 781.2,704.8 781.3,702.5 781.3,702.8 781.4,700.4 781.4,700.7 781.5,698.4 781.5,697.4 781.6,697.7 781.6,695.4 781.7,695.0 781.8,696.7 781.8,697.7 781.9,698.7 782.0,699.8 782.1,699.5 782.2,701.8 782.3,702.8 782.4,702.6 782.4,703.6 782.5,704.6 782.6,705.6 782.7,706.7 782.8,708.3 782.8,710.0 782.9,711.1 783.0,710.8 783.0,713.1 783.1,712.9 783.1,713.9 783.2,716.3 783.3,716.0 783.3,717.0 783.4,719.4 783.5,720.4 783.5,720.8 783.6,719.0 783.8,718.0 783.9,716.9 784.0,715.8 784.1,714.7 784.2,714.2 784.3,714.6 784.4,716.9 784.4,718.0 784.5,719.0 784.6,720.0 784.6,719.8 784.7,720.8 784.7,723.2 784.8,722.9 784.9,723.9 784.9,725.0 785.0,726.7 785.0,725.0 785.1,724.0 785.1,724.3 785.1,721.9 785.2,722.2 785.2,721.2 785.3,718.9 785.3,717.8 785.3,716.8 785.4,717.1 785.4,714.8 785.4,713.8 785.5,714.0 785.5,711.7 785.5,712.0 785.6,711.0 785.6,708.7 785.6,707.6 785.7,707.9 785.7,705.6 785.8,705.9 785.8,703.5 785.8,702.5 785.9,701.5 785.9,701.8 785.9,699.5 786.0,698.4 786.0,697.4 786.0,697.7 786.1,695.4 786.1,695.0 786.2,693.3 786.4,692.3 786.5,692.6 786.6,690.3 786.7,689.3 786.8,689.0 787.1,690.7 787.3,690.4 787.6,692.2 787.7,690.5 787.8,689.5 788.0,688.5 788.1,687.5 788.2,687.8 788.3,686.1 788.4,686.5 788.4,687.5 788.4,689.8 788.5,689.5 788.5,690.6 788.5,691.6 788.5,692.6 788.6,693.6 788.6,694.7 788.6,697.0 788.7,696.7 788.7,699.0 788.7,700.0 788.8,699.8 788.8,700.8 788.8,701.8 788.8,702.8 788.9,703.8 788.9,706.2 788.9,705.9 789.0,706.9 789.0,707.9 789.0,710.2 789.1,711.3 789.1,712.3 789.1,713.3 789.1,714.3 789.2,714.0 789.2,716.4 789.2,716.1 789.3,717.1 789.3,719.4 789.3,719.2 789.4,720.2 789.4,721.2 789.4,722.2 789.4,723.9 789.5,723.5 789.5,722.5 789.5,720.2 789.5,719.2 789.5,719.4 789.6,717.1 789.6,716.1 789.6,716.4 789.6,714.0 789.7,713.0 789.7,713.3 789.7,711.0 789.7,711.3 789.7,710.2 789.8,709.2 789.8,706.9 789.8,707.2 789.8,706.2 789.8,703.8 789.9,704.1 789.9,701.8 789.9,700.8 789.9,701.1 789.9,700.0 790.0,699.0 790.0,696.7 790.0,697.0 790.0,696.0 790.1,694.9 790.1,693.9 790.1,691.6 790.1,690.6 790.1,690.8 790.2,689.8 790.2,687.5 790.2,687.8 790.2,686.1 790.3,687.8 790.3,687.5 790.4,689.8 790.4,690.9 790.5,691.9 790.5,692.9 790.6,692.7 790.7,693.7 790.7,696.0 790.8,697.0 790.8,696.8 790.9,699.1 790.9,698.8 791.0,699.9 791.0,700.9 791.1,701.9 791.1,704.3 791.2,704.0 791.2,705.0 791.3,707.3 791.3,707.1 791.4,709.4 791.5,710.4 791.5,710.2 791.6,711.2 791.6,713.5 791.7,713.9 791.7,713.5 791.8,712.5 791.9,711.4 791.9,710.4 792.0,708.0 792.1,708.3 792.2,705.9 792.2,704.9 792.3,705.2 792.4,702.8 792.4,701.8 792.5,702.0 792.6,699.7 792.6,698.7 792.7,697.6 792.8,697.2 792.9,697.6 792.9,698.6 793.0,701.0 793.1,702.0 793.1,701.8 793.2,702.8 793.3,703.8 793.4,706.2 793.4,705.9 793.5,708.2 793.6,709.3 793.7,709.0 793.7,710.1 793.8,712.4 793.9,712.8 794.0,711.1 794.2,711.4 794.3,709.1 794.4,709.4 794.6,707.0 794.7,707.3 794.9,706.3 795.0,704.0 795.1,704.3 795.3,703.2 795.4,702.2 795.6,700.6 795.6,700.9 795.6,703.2 795.7,702.9 795.7,705.2 795.7,704.9 795.8,705.9 795.8,706.9 795.9,707.9 795.9,710.2 795.9,711.2 796.0,710.9 796.0,713.2 796.0,714.2 796.1,715.2 796.1,714.9 796.1,717.2 796.2,718.2 796.2,719.2 796.3,720.2 796.3,721.2 796.3,722.2 796.4,721.9 796.4,722.9 796.4,725.2 796.5,724.9 796.5,727.2 796.6,726.9 796.6,729.2 796.6,728.9 796.7,730.6 796.8,728.9 796.9,729.2 797.1,726.9 797.2,725.8 797.4,726.1 797.5,723.8 797.6,722.8 797.8,723.1 797.9,720.7 798.1,721.0 798.2,720.0 798.3,718.3 799.2,719.5 800.0,719.4 800.1,719.8 800.1,722.2 800.2,721.9 800.3,723.0 800.3,725.3 800.4,725.1 800.5,726.1 800.5,728.5 800.6,728.2 800.7,729.3 800.7,731.6 800.8,731.3 800.8,732.4 800.9,733.4 801.0,734.5 801.0,735.5 801.1,737.2 801.2,736.8 801.4,735.8 801.5,734.8 801.6,733.8 801.8,732.7 801.9,731.7 802.0,730.7 802.1,729.7 802.3,727.3 802.4,727.6 802.5,726.6 802.6,724.3 802.8,723.9 802.9,725.5 803.1,726.5 803.3,727.5 803.4,728.5 803.6,728.2 803.8,729.2 803.9,730.2 804.1,731.2 804.3,732.2 804.4,733.9 804.5,734.2 804.6,736.5 804.6,737.5 804.7,738.5 804.7,738.2 804.8,739.2 804.8,740.2 804.9,742.5 804.9,742.2 805.0,744.5 805.1,744.2 805.1,745.2 805.2,747.5 805.2,748.5 805.3,748.2 805.3,749.2 805.4,750.2 805.4,751.2 805.5,752.2 805.6,753.9 805.7,754.2 805.9,756.5 806.1,757.5 806.2,757.2 806.4,758.2 806.6,760.5 806.7,760.2 806.9,761.2 807.1,762.2 807.2,763.9 807.3,763.5 807.3,762.5 807.3,761.5 807.3,760.5 807.4,759.4 807.4,758.4 807.4,757.4 807.5,756.4 807.5,755.4 807.5,753.1 807.6,753.3 807.6,751.0 807.6,750.0 807.7,749.0 807.7,748.0 807.7,748.2 807.7,747.2 807.8,744.9 807.8,743.9 807.8,744.2 807.9,743.1 807.9,740.8 807.9,739.8 808.0,740.1 808.0,737.8 808.0,738.1 808.1,735.7 808.1,736.0 808.1,733.7 808.1,734.0 808.2,733.0 808.2,730.6 808.2,730.9 808.3,729.9 808.3,727.6 808.3,727.2 808.4,728.9 808.4,728.6 808.4,729.6 808.5,730.6 808.5,732.9 808.5,732.6 808.6,733.6 808.6,735.9 808.7,735.6 808.7,736.6 808.7,737.6 808.8,739.9 808.8,739.6 808.8,740.6 808.9,742.9 808.9,743.9 808.9,744.9 809.0,745.9 809.0,745.6 809.1,746.6 809.1,747.6 809.1,750.0 809.2,751.0 809.2,750.7 809.2,753.0 809.3,754.0 809.3,755.0 809.3,756.0 809.4,757.0 809.4,758.0 809.4,758.3 809.1,760.0 808.8,759.6 808.5,760.6 808.1,762.9 807.8,762.5 807.5,764.2 807.4,762.5 807.4,762.7 807.4,761.7 807.3,760.6 807.3,758.3 807.3,757.3 807.2,757.5 807.2,756.5 807.2,754.1 807.1,753.1 807.1,752.1 807.1,752.3 807.0,751.3 807.0,748.9 807.0,747.9 806.9,748.1 806.9,745.8 806.8,744.8 806.8,743.7 806.8,743.3 806.7,745.0 806.5,744.7 806.4,745.7 806.3,746.7 806.1,747.7 806.0,750.0 805.9,751.1 805.8,750.8 805.6,753.1 805.5,754.1 805.4,754.4 805.4,752.8 805.3,751.8 805.3,750.7 805.3,749.7 805.3,750.0 805.2,749.0 805.2,748.0 805.2,746.9 805.2,745.9 805.2,744.9 805.1,742.6 805.1,741.6 805.1,740.6 805.1,739.5 805.0,739.8 805.0,737.5 805.0,736.5 805.0,736.8 804.9,734.4 804.9,733.4 804.9,732.4 804.9,731.4 804.9,731.7 804.8,729.4 804.8,729.6 804.8,727.3 804.8,726.3 804.7,725.3 804.7,725.6 804.7,723.9 804.9,724.2 805.1,725.2 805.3,726.2 805.5,728.5 805.7,729.5 805.9,729.2 806.1,731.5 806.3,732.5 806.5,732.2 806.7,734.5 806.9,735.5 807.1,736.4 807.3,737.4 807.5,737.8 807.7,736.1 807.9,736.4 808.0,734.1 808.2,733.1 808.4,733.4 808.6,731.1 808.8,730.1 809.0,729.0 809.2,728.0 809.4,728.3 809.6,726.7 809.6,728.3 809.6,728.1 809.7,730.4 809.7,731.4 809.7,731.1 809.8,732.1 809.8,734.4 809.9,735.5 809.9,736.5 809.9,737.5 810.0,738.5 810.0,739.5 810.0,740.6 810.1,740.3 810.1,741.3 810.1,743.6 810.2,743.3 810.2,744.4 810.3,745.4 810.3,746.4 810.3,748.7 810.4,749.7 810.4,750.7 810.4,751.8 810.5,751.5 810.5,752.5 810.6,754.8 810.6,754.5 810.6,755.6 810.7,757.2 810.7,757.6 810.8,758.7 810.8,759.7 810.9,762.0 810.9,763.1 811.0,762.8 811.0,765.2 811.1,766.2 811.2,765.9 811.2,768.3 811.3,768.0 811.3,769.1 811.4,770.1 811.4,771.2 811.5,773.5 811.5,773.2 811.6,774.3 811.6,776.0 811.8,775.6 811.9,773.3 812.0,772.3 812.1,771.3 812.2,771.6 812.3,770.6 812.4,769.6 812.6,767.3 812.7,766.3 812.8,766.6 812.9,765.6 813.0,763.3 813.1,762.3 813.3,762.6 813.4,760.3 813.5,759.3 813.6,758.3 813.7,757.9 813.8,758.3 813.8,759.4 813.8,761.7 813.8,762.7 813.9,762.5 813.9,763.5 813.9,764.6 814.0,765.6 814.0,767.9 814.0,769.0 814.1,768.7 814.1,771.1 814.1,772.1 814.2,771.9 814.2,772.9 814.2,775.2 814.3,775.0 814.3,777.3 814.3,778.4 814.4,779.4 814.4,779.1 814.4,780.8 814.5,782.5 814.6,782.3 814.7,783.3 814.8,785.6 814.9,785.4 815.0,787.7 815.1,787.5 815.2,789.8 815.4,789.6 815.5,790.6 815.6,792.9 815.7,794.0 815.8,793.7 815.9,796.1 816.0,797.1 816.1,798.1 816.2,797.9 816.3,798.9 816.4,801.3 816.5,801.7 816.5,800.0 816.5,800.3 816.6,798.0 816.6,798.2 816.6,795.9 816.6,794.9 816.6,795.2 816.7,792.8 816.7,793.1 816.7,792.1 816.7,791.1 816.7,788.8 816.8,787.7 816.8,788.0 816.8,787.0 816.8,784.7 816.8,785.0 816.9,782.6 816.9,781.6 816.9,780.6 816.9,779.6 816.9,778.5 817.0,777.5 817.0,777.8 817.0,775.5 817.0,775.8 817.1,774.7 817.1,773.7 817.1,771.4 817.1,770.4 817.1,769.4 817.2,769.6 817.2,767.3 817.2,766.9 817.3,768.6 817.3,768.3 817.4,770.7 817.5,770.4 817.6,771.4 817.6,772.4 817.7,774.8 817.8,775.8 817.9,776.8 817.9,777.8 818.0,777.6 818.1,779.9 818.1,780.9 818.2,781.9 818.3,782.9 818.4,782.7 818.4,785.0 818.5,784.7 818.6,786.4 818.6,786.0 818.5,785.0 818.5,784.0 818.5,783.0 818.5,782.0 818.4,781.0 818.4,778.7 818.4,779.0 818.4,778.0 818.3,777.0 818.3,774.7 818.3,773.7 818.3,772.7 818.2,773.0 818.2,772.0 818.2,770.9 818.2,769.9 818.2,768.9 818.1,767.9 818.1,765.6 818.1,765.9 818.1,764.9 818.0,763.9 818.0,762.9 818.0,761.9 818.0,760.9 817.9,759.9 817.9,757.6 817.9,757.2 818.1,756.8 818.2,754.5 818.4,754.7 818.6,752.4 818.8,752.7 818.9,751.6 819.1,750.6 819.3,748.9 819.3,749.3 819.4,751.6 819.4,751.3 819.4,752.3 819.5,754.7 819.5,755.7 819.5,756.7 819.6,757.7 819.6,757.4 819.6,759.8 819.7,759.5 819.7,760.5 819.8,762.8 819.8,763.9 819.8,764.9 819.9,764.6 819.9,765.6 819.9,766.7 820.0,768.3 820.1,766.7 820.2,765.6 820.3,765.9 820.4,763.6 820.5,763.9 820.6,762.8 820.7,761.8 820.8,760.8 821.0,759.8 821.1,758.7 821.2,757.7 821.3,756.7 821.4,755.7 821.5,754.7 821.6,752.3 821.7,751.3 821.8,750.3 821.9,750.6 822.1,748.9 822.2,749.3 822.3,751.6 822.4,751.3 822.5,752.3 822.7,753.3 822.8,755.7 822.9,755.4 823.0,757.7 823.2,758.7 823.3,758.5 823.4,760.8 823.5,760.5 823.6,762.8 823.8,763.8 823.9,764.9 824.0,764.6 824.1,766.2 824.2,764.6 824.3,763.6 824.4,763.9 824.4,762.9 824.5,760.6 824.6,760.9 824.7,759.9 824.8,757.6 824.8,757.2 825.5,758.8 826.2,758.4 826.9,760.0 826.9,759.6 826.8,758.6 826.7,757.5 826.7,756.5 826.6,755.4 826.6,754.4 826.5,752.1 826.5,751.0 826.4,751.3 826.3,748.9 826.3,747.9 826.2,747.5 827.1,746.2 827.9,745.5 828.7,745.4 828.8,747.1 828.9,746.9 829.0,747.9 829.1,748.9 829.2,751.3 829.3,751.0 829.4,752.1 829.5,754.4 829.6,754.1 829.7,755.8 830.4,755.6 831.1,754.6 831.8,753.1 831.7,753.5 831.7,754.5 831.6,756.9 831.6,756.7 831.5,757.7 831.5,758.8 831.4,759.9 831.4,761.0 831.3,763.3 831.2,763.1 831.2,765.5 831.1,765.2 831.1,766.9 831.3,767.3 831.5,769.6 831.7,770.6 831.8,771.6 832.0,771.3 832.2,772.4 832.4,773.4 832.6,774.4 832.8,775.4 833.0,777.7 833.2,778.1 833.3,779.7 833.5,779.5 833.7,780.5 833.9,782.9 834.0,783.9 834.2,785.0 834.4,786.0 834.6,786.4 834.6,786.0 834.6,785.0 834.6,783.9 834.6,781.6 834.7,780.5 834.7,779.5 834.7,779.7 834.7,777.4 834.8,776.4 834.8,775.3 834.8,775.6 834.8,773.9 834.9,773.5 835.0,772.5 835.0,770.2 835.1,769.2 835.1,768.2 835.2,767.2 835.3,767.5 835.3,765.2 835.4,765.5 835.5,764.5 835.5,762.2 835.6,762.5 835.6,760.2 835.7,759.2 835.8,758.2 835.8,757.2 835.9,756.2 835.9,755.8 836.0,756.2 836.1,757.3 836.2,758.3 836.2,759.4 836.3,761.7 836.4,761.4 836.4,763.8 836.5,763.5 836.6,764.6 836.6,766.9 836.7,767.9 836.8,769.0 836.8,770.0 836.9,769.8 837.0,770.8 837.1,771.9 837.1,772.9 837.2,775.2 837.3,776.3 837.3,776.7 837.4,775.0 837.5,775.3 837.6,773.0 837.6,772.0 837.7,771.0 837.8,770.0 837.9,770.3 838.0,768.0 838.0,767.0 838.1,766.0 838.2,765.0 838.3,764.0 838.3,764.3 838.4,762.0 838.5,761.0 838.6,760.0 838.6,760.3 838.7,758.6 838.9,760.3 839.1,761.3 839.3,762.3 839.5,763.3 839.7,763.0 839.9,764.0 840.0,766.3 840.2,766.0 840.4,767.1 840.6,769.4 840.8,769.7 840.8,768.0 840.9,768.3 840.9,766.0 840.9,766.3 841.0,763.9 841.0,762.9 841.0,761.9 841.0,762.2 841.1,759.8 841.1,760.1 841.1,757.8 841.2,758.1 841.2,755.7 841.2,754.7 841.3,755.0 841.3,753.9 841.3,751.6 841.3,751.9 841.4,750.9 841.4,749.8 841.4,747.5 841.5,747.8 841.5,746.1 841.9,746.6 842.3,749.0 842.8,750.1 843.2,751.2 843.6,751.7 843.5,751.3 843.5,749.0 843.4,749.3 843.3,748.3 843.3,746.0 843.2,745.0 843.1,745.2 843.1,742.9 843.0,743.2 843.0,740.9 842.9,740.6 843.1,740.2 843.3,739.2 843.5,738.2 843.6,735.9 843.8,734.9 844.0,733.8 844.2,732.8 844.4,733.1 844.6,730.8 844.8,731.1 845.0,729.4 845.2,731.2 845.4,732.3 845.7,733.3 845.9,733.1 846.1,735.5 846.4,735.3 846.6,737.7 846.8,737.4 847.1,739.2 847.0,738.8 846.9,736.4 846.9,736.7 846.8,734.4 846.8,733.3 846.7,733.6 846.7,732.5 846.6,730.2 846.5,729.1 846.5,729.4 846.4,728.4 846.4,726.7 846.7,728.4 847.1,728.1 847.4,729.1 847.8,730.2 848.1,731.2 848.4,733.6 848.8,733.3 849.1,735.0 849.2,733.3 849.2,733.5 849.3,731.1 849.4,730.1 849.4,729.0 849.5,727.9 849.5,726.9 849.6,725.8 849.6,726.0 849.7,725.0 849.7,723.9 849.8,722.8 849.8,721.1 850.1,722.7 850.4,722.4 850.7,723.4 850.9,725.6 851.2,725.3 851.5,727.6 851.8,727.3 852.1,728.2 852.3,730.5 852.6,730.8 852.5,730.5 852.5,728.2 852.4,727.2 852.4,726.1 852.3,726.4 852.2,725.4 852.2,723.1 852.1,722.1 852.0,721.1 852.0,720.1 851.9,719.7 852.2,719.4 852.4,718.4 852.7,716.1 852.9,716.4 853.2,714.1 853.5,714.4 853.7,712.8 854.0,713.2 854.3,715.5 854.6,715.3 854.9,716.3 855.2,718.6 855.5,719.7 855.8,720.7 856.1,721.1 856.3,719.5 856.5,718.5 856.7,718.8 856.9,716.5 857.1,715.5 857.3,714.5 857.5,714.2 857.6,714.6 857.8,715.7 857.9,718.1 858.1,719.1 858.2,718.9 858.4,720.0 858.6,721.1 858.7,723.5 858.9,723.9 858.9,723.5 858.9,722.4 858.9,721.3 858.9,720.3 858.9,719.2 858.9,718.1 858.9,715.8 858.9,714.7 858.9,714.9 858.9,712.6 858.9,711.5 858.9,711.7 858.9,710.0 859.2,709.7 859.5,708.7 859.8,706.4 860.1,706.7 860.3,705.7 860.6,704.7 860.9,703.1 861.4,704.8 861.8,705.9 862.2,705.7 862.6,708.1 863.0,708.6 863.1,708.2 863.1,707.1 863.2,704.8 863.2,705.0 863.3,703.9 863.3,701.6 863.4,701.8 863.5,699.4 863.5,698.3 863.6,697.3 863.6,696.2 863.7,695.1 863.7,694.7 863.8,695.1 863.9,696.2 864.0,697.3 864.1,698.3 864.3,699.4 864.4,701.8 864.5,701.6 864.6,702.6 864.7,705.0 864.8,706.1 864.9,707.1 865.0,708.2 865.1,708.6 865.2,706.9 865.2,707.2 865.2,706.1 865.3,705.1 865.3,704.1 865.4,703.0 865.4,702.0 865.5,700.9 865.5,699.9 865.5,697.5 865.6,697.8 865.6,695.5 865.7,695.7 865.7,693.4 865.8,693.6 865.8,691.9 865.9,690.2 866.0,690.5 866.1,689.4 866.2,687.0 866.3,687.3 866.4,686.2 866.6,685.1 866.7,682.7 866.8,681.7 866.9,680.6 867.0,679.5 867.1,678.5 867.2,678.1 867.6,678.5 868.0,680.9 868.4,682.0 868.9,683.1 869.3,683.6 869.4,683.2 869.5,682.1 869.6,679.7 869.8,678.6 869.9,677.6 870.0,676.5 870.1,676.7 870.3,674.3 870.4,673.9 870.6,674.3 870.7,675.3 870.9,677.7 871.1,678.7 871.2,678.4 871.4,680.8 871.6,680.5 871.7,682.9 871.9,682.6 872.1,684.3 872.3,682.6 872.5,682.9 872.8,681.8 873.0,679.5 873.2,679.7 873.4,678.1 873.9,677.7 874.3,676.6 874.7,675.6 875.1,673.9 875.1,675.6 875.1,675.3 875.2,677.6 875.2,677.3 875.2,678.3 875.2,679.3 875.2,681.6 875.2,682.7 875.3,683.7 875.3,684.7 875.3,684.4 875.3,685.4 875.3,687.7 875.3,688.7 875.4,688.5 875.4,690.8 875.4,691.8 875.4,692.8 875.4,692.5 875.4,694.8 875.4,694.6 875.5,695.6 875.5,697.9 875.5,698.9 875.5,698.6 875.5,700.3 875.8,699.8 876.1,697.4 876.4,697.6 876.6,695.2 876.9,694.7 876.9,696.4 877.0,696.1 877.0,697.2 877.0,699.5 877.1,699.2 877.1,700.2 877.1,702.6 877.1,703.6 877.2,703.3 877.2,705.6 877.2,706.7 877.2,706.4 877.3,708.7 877.3,709.8 877.3,710.8 877.4,710.5 877.4,712.8 877.4,712.6 877.4,713.6 877.5,714.6 877.5,717.0 877.5,716.7 877.6,719.0 877.6,718.7 877.6,720.4 877.7,720.1 877.9,719.1 878.0,716.8 878.1,717.1 878.3,716.1 878.4,715.1 878.5,712.8 878.7,711.8 878.8,710.8 878.9,711.1 879.0,710.1 879.2,707.8 879.3,706.8 879.4,707.1 879.6,704.8 879.7,704.4 879.8,704.8 879.9,705.8 880.0,708.1 880.1,707.9 880.2,708.9 880.2,711.2 880.3,710.9 880.4,713.2 880.5,714.3 880.6,714.0 880.7,715.0 880.8,717.3 880.9,717.0 881.0,718.1 881.1,719.7 881.1,718.1 881.2,717.0 881.2,717.3 881.3,715.0 881.3,714.0 881.4,713.0 881.4,711.9 881.5,712.2 881.5,709.9 881.5,708.9 881.6,707.9 881.6,706.9 881.7,705.8 881.7,706.1 881.8,704.4 882.0,706.1 882.2,707.1 882.3,708.1 882.5,707.8 882.7,710.1 882.9,711.2 883.1,710.9 883.3,711.9 883.5,714.2 883.7,713.9 883.9,715.6 883.9,717.2 884.0,717.0 884.1,719.3 884.2,720.4 884.2,720.1 884.3,721.2 884.4,723.5 884.5,723.2 884.6,724.3 884.6,725.3 884.7,727.7 884.8,727.4 884.9,729.7 884.9,729.5 885.0,730.5 885.1,732.9 885.2,733.9 885.2,734.3 885.5,732.7 885.7,731.6 885.9,730.6 886.2,729.6 886.4,729.9 886.6,728.9 886.9,727.9 887.1,726.9 887.3,725.3 887.2,723.6 887.0,722.5 886.8,721.5 886.6,721.8 886.5,720.7 886.3,718.4 886.1,718.6 885.9,716.9 886.9,715.6 887.8,714.9 888.7,714.9 889.0,713.2 889.2,712.1 889.4,712.4 889.6,710.0 889.9,709.0 890.1,708.6 890.3,710.3 890.5,711.3 890.6,712.4 890.8,713.4 891.0,714.5 891.2,715.5 891.3,716.6 891.5,716.9 891.6,716.6 891.7,714.2 891.9,714.5 892.0,712.1 892.1,711.1 892.2,710.0 892.3,710.3 892.5,709.3 892.6,706.9 892.7,707.2 892.8,706.1 892.9,705.1 893.0,702.8 893.2,702.4 893.5,702.8 893.8,703.8 894.1,704.8 894.4,705.9 894.7,706.9 895.0,708.6 895.1,709.0 895.2,710.1 895.4,711.2 895.5,713.6 895.6,714.6 895.7,715.7 895.9,716.8 896.0,717.8 896.1,718.9 896.2,720.0 896.4,720.4 896.7,720.0 897.0,717.6 897.3,717.8 897.6,715.4 897.8,714.3 898.1,714.5 898.4,712.8 899.0,714.5 899.5,714.2 900.0,715.3 900.5,716.9 900.5,717.4 900.4,719.8 900.3,719.5 900.2,721.9 900.1,723.0 900.1,722.8 900.0,725.2 899.9,724.9 899.8,726.7 900.5,726.9 901.2,727.7 901.9,729.8 902.6,730.6 903.3,730.8 903.4,729.2 903.4,728.1 903.4,728.4 903.5,727.4 903.5,725.1 903.6,725.4 903.6,724.4 903.7,722.0 903.7,722.3 903.8,720.0 903.8,719.0 903.9,719.3 903.9,716.9 904.0,717.2 904.0,715.6 904.1,715.9 904.3,718.2 904.4,717.9 904.5,718.9 904.6,720.0 904.8,721.0 904.9,723.3 905.0,723.0 905.1,724.0 905.3,725.0 905.4,726.7 905.4,725.0 905.4,725.3 905.3,724.3 905.3,721.9 905.3,720.9 905.3,721.2 905.3,720.2 905.2,719.2 905.2,718.1 905.2,717.1 905.2,714.8 905.2,713.8 905.1,714.1 905.1,713.1 905.1,711.4 906.1,710.3 907.1,709.8 908.2,710.0 908.4,710.3 908.6,712.6 908.8,713.6 909.0,714.6 909.2,715.6 909.4,715.3 909.6,716.9 909.6,716.6 909.6,715.6 909.7,713.2 909.7,712.2 909.8,712.5 909.8,711.5 909.9,710.5 909.9,709.4 910.0,707.1 910.0,706.1 910.1,706.4 910.1,704.1 910.2,704.4 910.2,702.0 910.2,701.7 910.5,701.3 910.7,700.2 911.0,699.2 911.2,697.5 911.4,697.9 911.7,700.2 911.9,701.3 912.1,702.3 912.4,702.1 912.6,703.1 912.8,705.4 913.0,705.8 913.2,707.6 913.3,708.6 913.4,708.4 913.5,710.8 913.7,710.5 913.8,711.6 913.9,714.0 914.0,715.1 914.2,714.8 914.3,717.2 914.4,717.6 914.6,717.2 914.7,714.9 914.8,715.2 915.0,714.1 915.1,713.1 915.2,712.0 915.4,709.7 915.5,710.0 915.7,707.6 915.8,707.2 916.1,707.6 916.4,708.6 916.7,710.8 917.0,711.8 917.3,711.5 917.6,713.8 917.9,714.2 918.1,712.4 918.4,712.7 918.6,710.3 918.8,709.2 919.0,709.4 919.3,708.3 919.5,706.0 919.7,706.2 920.0,704.4 921.0,705.1 922.1,704.4 922.2,704.8 922.4,707.2 922.6,706.9 922.8,709.3 922.9,710.3 923.1,711.3 923.3,712.4 923.4,712.8 923.5,713.1 923.6,715.4 923.7,716.5 923.8,716.2 923.9,718.5 924.1,719.5 924.2,720.5 924.3,721.5 924.4,721.2 924.5,722.2 924.6,723.9 924.7,722.2 924.8,722.4 924.9,721.3 925.0,720.2 925.1,717.8 925.2,718.1 925.3,717.0 925.4,714.6 925.5,714.2 926.6,715.5 927.6,715.6 927.6,715.2 927.5,714.2 927.5,711.9 927.4,712.1 927.3,709.8 927.3,710.1 927.2,709.1 927.2,706.8 927.1,707.1 927.1,706.1 927.0,703.7 927.0,704.0 926.9,702.4 928.0,703.0 929.0,702.4 929.1,702.8 929.3,705.1 929.4,704.8 929.6,705.9 929.7,708.2 929.9,708.0 930.0,709.0 930.2,710.0 930.3,711.1 930.5,713.4 930.6,714.5 930.8,714.2 930.9,716.6 931.1,716.9 931.2,716.6 931.3,715.5 931.3,713.2 931.4,712.1 931.5,712.4 931.6,711.3 931.7,709.0 931.8,708.6 932.0,709.0 932.1,711.3 932.3,712.4 932.5,712.1 932.6,713.2 932.8,714.2 933.0,715.3 933.2,717.6 933.3,717.3 933.5,719.7 933.7,720.7 933.9,721.1 934.1,721.5 934.4,723.8 934.6,723.6 934.9,724.6 935.2,727.0 935.4,726.7 935.7,727.8 935.9,729.4 936.2,729.0 936.4,727.9 936.6,725.6 936.9,725.8 937.1,724.7 937.3,722.3 937.6,722.5 937.8,720.2 938.0,719.7 938.2,720.1 938.3,722.4 938.4,722.1 938.5,724.4 938.7,725.4 938.8,726.4 938.9,726.1 939.0,727.2 939.2,728.2 939.3,729.2 939.4,730.8 939.7,729.2 940.0,728.2 940.3,728.5 940.6,726.2 940.9,726.5 941.2,724.2 941.5,723.9 941.7,725.6 942.0,725.4 942.2,727.8 942.4,727.6 942.7,728.6 942.9,731.0 943.1,732.1 943.4,731.9 943.6,733.6 943.8,731.9 944.1,732.2 944.4,731.1 944.6,728.8 944.9,727.8 945.1,726.7 945.4,727.0 945.7,725.3 945.8,725.7 945.9,728.0 946.1,727.8 946.2,730.1 946.4,729.8 946.5,730.9 946.6,731.9 946.8,734.3 946.9,734.0 947.1,735.7 947.2,735.3 947.3,733.0 947.4,733.2 947.5,730.9 947.6,731.1 947.7,730.1 947.8,729.1 947.8,726.7 947.9,725.7 948.0,724.6 948.1,724.9 948.2,722.5 948.3,721.5 948.4,721.1 949.5,721.1 950.5,719.7 950.6,718.0 950.7,718.3 950.8,715.9 950.9,716.2 951.0,713.9 951.0,712.8 951.1,713.1 951.2,711.4 951.7,711.0 952.3,708.7 952.8,707.6 953.3,707.2 953.5,709.0 953.6,708.7 953.8,711.1 953.9,712.2 954.1,712.0 954.2,713.1 954.4,714.1 954.5,715.2 954.7,716.9 955.0,717.3 955.4,718.4 955.7,719.4 956.1,721.8 956.4,722.8 956.8,723.8 957.1,724.9 957.5,725.3 957.4,723.6 957.4,723.9 957.4,721.6 957.3,721.9 957.3,719.6 957.2,718.6 957.2,717.6 957.2,716.6 957.1,715.6 957.1,714.6 957.0,713.6 957.0,712.6 957.0,711.6 956.9,711.9 956.9,709.6 956.9,708.6 956.8,707.6 956.8,707.2 957.7,708.8 958.6,709.7 959.6,710.0 960.0,710.5 960.4,711.6 960.8,714.0 961.2,713.8 961.6,715.6 962.2,715.2 962.7,714.1 963.2,713.1 963.7,711.4 963.9,711.9 964.1,713.0 964.3,715.4 964.5,715.3 964.7,717.0 965.3,718.7 966.0,718.4 966.6,720.0 966.6,718.3 966.6,717.3 966.5,716.3 966.5,715.2 966.5,714.2 966.5,713.2 966.5,712.1 966.4,712.4 966.4,710.1 966.4,710.3 966.4,708.0 966.4,707.0 966.3,707.3 966.3,706.2 966.3,705.2 966.3,702.9 966.3,703.1 966.2,700.8 966.2,699.8 966.2,698.7 966.2,697.7 966.2,698.0 966.1,696.3 966.5,698.0 966.8,699.1 967.1,698.8 967.4,701.2 967.7,700.9 968.1,703.3 968.4,703.7 968.5,702.0 968.6,702.3 968.6,700.0 968.7,699.0 968.8,697.9 968.9,696.9 969.0,695.9 969.1,696.1 969.2,693.8 969.3,694.1 969.4,691.8 969.5,690.7 969.6,690.4 969.8,690.8 970.1,691.8 970.3,692.8 970.6,695.2 970.8,694.9 971.1,695.9 971.3,698.3 971.6,698.0 971.8,699.1 972.1,700.7 971.9,701.1 971.7,702.1 971.6,704.4 971.4,705.3 971.3,705.0 971.1,707.3 970.9,707.0 970.8,708.0 970.6,709.6 970.8,710.0 971.0,712.4 971.3,713.4 971.5,713.1 971.7,714.2 971.9,716.5 972.1,717.5 972.4,717.3 972.6,718.3 972.8,720.0 972.9,718.3 973.0,718.6 973.2,716.3 973.3,716.5 973.4,715.5 973.5,714.5 973.6,712.2 973.7,711.1 973.8,711.4 974.0,710.4 974.1,709.4 974.2,707.0 974.3,706.7 974.4,707.1 974.5,708.2 974.6,710.5 974.7,711.6 974.8,711.4 974.9,712.5 975.1,713.6 975.2,715.9 975.3,717.0 975.4,716.8 975.5,718.5 975.6,718.1 975.7,715.8 975.8,716.1 975.9,713.8 976.1,712.7 976.2,713.0 976.3,710.7 976.4,709.7 976.5,708.6 976.6,707.6 976.7,706.6 976.8,705.6 977.0,705.2 977.0,706.9 977.0,707.9 977.0,707.6 977.0,709.9 977.0,710.9 977.0,710.6 977.0,711.7 977.0,714.0 977.0,715.0 977.0,716.0 977.0,715.7 977.0,716.8 977.0,719.1 977.0,718.8 977.0,721.1 977.0,720.8 977.0,721.9 977.0,722.9 977.0,723.9 977.0,726.2 977.0,727.2 977.0,728.2 977.0,728.0 977.0,729.6 977.3,727.9 977.7,728.2 978.0,727.2 978.4,724.8 978.7,724.4 978.8,724.1 979.0,723.1 979.1,720.8 979.2,721.1 979.3,718.7 979.4,719.0 979.5,716.7 979.6,717.0 979.7,714.7 979.8,713.7 979.9,713.3 980.1,713.7 980.2,714.7 980.3,717.1 980.5,716.8 980.6,717.8 980.7,720.1 980.9,721.2 981.0,720.9 981.2,723.2 981.3,722.9 981.4,725.3 981.6,725.0 981.7,726.7 981.8,726.3 981.8,725.3 981.9,724.3 982.0,723.3 982.0,722.3 982.1,720.0 982.2,718.9 982.2,717.9 982.3,718.2 982.4,715.9 982.4,715.6 982.8,715.9 983.1,716.9 983.4,717.9 983.7,720.2 984.0,721.1 984.4,721.5 986.1,722.2 986.1,720.5 986.0,720.8 985.9,719.8 985.9,717.4 985.8,717.7 985.7,716.6 985.6,715.6 985.6,714.6 985.5,712.2 985.4,711.9 985.7,711.5 986.0,710.5 986.4,708.2 986.7,708.6 987.0,707.6 987.3,705.9 987.5,707.7 987.6,708.8 987.7,709.9 987.9,709.7 988.0,712.1 988.1,713.2 988.2,713.1 988.4,714.8 988.9,715.1 989.3,716.0 989.8,718.2 990.3,718.5 990.6,718.1 990.9,715.6 991.2,715.8 991.5,713.4 991.8,713.6 992.1,711.9 992.2,712.3 992.4,713.3 992.6,714.4 992.7,716.8 992.9,717.9 993.1,718.9 993.2,718.7 993.4,721.1 993.6,721.5 993.7,721.9 993.9,724.3 994.0,725.3 994.2,725.1 994.4,726.2 994.5,727.3 994.7,729.6 994.9,729.4 995.0,731.1 995.0,729.4 995.0,729.7 995.0,728.7 995.0,727.7 995.0,725.3 995.0,724.3 995.0,723.3 995.0,722.3 995.0,722.5 995.0,721.5 995.0,720.5 995.0,719.5 995.0,717.8 995.3,718.1 995.5,719.1 995.7,720.1 995.9,722.4 996.1,722.1 996.4,724.4 996.6,724.0 996.8,725.0 997.0,727.3 997.3,728.3 997.5,729.3 997.7,729.6 998.3,728.0 998.9,727.0 999.5,726.7 999.5,724.9 999.5,723.8 999.5,722.7 999.5,722.9 999.5,720.5 999.5,720.6 999.5,719.5 999.5,717.8 999.7,717.4 999.9,716.3 1000.1,715.3 1000.3,714.2 1000.5,713.1 1000.8,710.8 1001.0,710.4 1002.1,710.5 1003.2,711.9 1003.2,712.2 1003.2,714.6 1003.3,714.3 1003.3,716.6 1003.3,717.7 1003.3,717.4 1003.3,718.5 1003.4,720.8 1003.4,721.8 1003.4,721.6 1003.4,722.6 1003.5,723.6 1003.5,724.7 1003.5,725.7 1003.5,726.8 1003.5,727.8 1003.6,730.1 1003.6,729.9 1003.6,730.9 1003.6,732.6 1003.7,730.9 1003.8,731.2 1003.9,730.2 1003.9,729.1 1004.0,726.8 1004.1,725.8 1004.2,724.8 1004.3,723.7 1004.3,724.0 1004.4,721.7 1004.5,722.0 1004.6,719.6 1004.7,719.3 1004.8,720.9 1004.9,720.6 1005.1,721.6 1005.2,723.9 1005.3,725.0 1005.5,724.7 1005.6,725.7 1005.7,726.7 1005.9,729.0 1006.0,728.7 1006.1,730.4 1006.3,728.7 1006.4,728.9 1006.5,727.8 1006.6,726.8 1006.7,725.7 1006.8,724.7 1006.9,723.0 1007.1,724.7 1007.3,725.8 1007.5,725.5 1007.7,726.6 1007.9,727.7 1008.1,730.0 1008.3,729.8 1008.5,732.2 1008.7,732.6 1008.7,732.2 1008.8,731.2 1008.8,728.9 1008.9,729.2 1008.9,726.9 1009.0,725.8 1009.1,724.8 1009.1,724.4 1009.4,722.8 1009.7,721.9 1010.1,722.2 1010.4,721.3 1010.7,719.0 1011.0,718.1 1011.3,717.8 1011.4,718.2 1011.5,720.5 1011.7,720.3 1011.8,721.4 1011.9,723.7 1012.0,724.8 1012.1,725.2 1012.3,723.5 1012.5,722.5 1012.7,722.7 1013.0,720.4 1013.2,719.4 1013.4,718.3 1013.6,718.6 1013.9,716.2 1014.1,715.2 1014.3,714.8 1014.4,715.2 1014.5,717.5 1014.6,718.5 1014.7,719.5 1014.8,720.6 1014.9,721.6 1014.9,721.3 1015.0,723.0 1015.2,721.2 1015.4,720.2 1015.5,720.4 1015.7,719.3 1015.9,718.3 1016.0,717.2 1016.2,716.1 1016.4,715.1 1016.5,713.3 1016.8,713.7 1017.1,716.1 1017.4,717.1 1017.7,718.1 1018.0,718.5 1018.0,716.9 1018.1,717.2 1018.1,716.2 1018.1,715.1 1018.2,712.8 1018.2,713.1 1018.2,710.8 1018.3,711.1 1018.3,710.1 1018.3,707.8 1018.3,706.8 1018.4,707.1 1018.4,706.1 1018.4,704.4 1018.7,704.1 1019.0,703.1 1019.2,702.0 1019.5,701.0 1019.7,700.0 1020.0,699.0 1020.3,698.0 1020.5,696.3 1020.6,698.0 1020.6,697.7 1020.6,700.0 1020.7,699.7 1020.7,700.8 1020.7,703.1 1020.8,704.1 1020.8,705.2 1020.8,704.9 1020.9,705.9 1020.9,708.2 1020.9,709.3 1021.0,709.6 1022.4,710.4 1022.5,710.7 1022.5,711.8 1022.6,712.8 1022.6,715.1 1022.7,716.1 1022.7,717.1 1022.8,716.9 1022.8,717.9 1022.9,718.9 1022.9,721.2 1023.0,720.9 1023.0,723.2 1023.0,724.3 1023.1,725.3 1023.1,726.3 1023.2,726.7 1023.7,725.1 1024.3,725.5 1024.9,724.5 1025.4,723.0 1025.5,722.6 1025.6,720.3 1025.7,719.3 1025.8,718.3 1025.9,718.6 1026.0,716.3 1026.1,715.3 1026.3,715.6 1026.4,714.6 1026.5,712.3 1026.6,712.6 1026.7,711.5 1026.8,709.2 1026.9,708.9 1026.9,708.5 1027.0,707.4 1027.0,706.3 1027.1,704.0 1027.1,704.2 1027.2,703.1 1027.2,700.7 1027.3,699.7 1027.3,699.3 1027.7,698.8 1028.2,696.4 1028.6,695.2 1029.0,694.1 1029.4,693.6 1029.5,695.3 1029.5,696.4 1029.6,696.1 1029.6,698.5 1029.7,698.2 1029.7,700.5 1029.8,701.6 1029.9,702.6 1029.9,703.7 1030.0,703.4 1030.0,704.5 1030.1,705.5 1030.1,706.6 1030.2,708.9 1030.3,708.6 1030.3,709.7 1030.4,712.0 1030.4,711.8 1030.5,714.1 1030.5,713.9 1030.6,715.6 1030.7,715.2 1030.8,714.2 1030.9,713.1 1031.0,710.8 1031.1,711.1 1031.1,710.1 1031.2,707.8 1031.3,708.1 1031.4,707.0 1031.5,704.7 1031.6,705.0 1031.7,704.0 1031.8,703.0 1031.9,701.9 1032.0,699.6 1032.1,699.3 1032.1,700.9 1032.1,700.7 1032.1,703.0 1032.1,704.1 1032.1,703.8 1032.1,706.1 1032.1,705.9 1032.1,708.2 1032.1,707.9 1032.1,710.3 1032.1,711.3 1032.1,711.1 1032.1,713.4 1032.1,713.1 1032.1,714.2 1032.1,715.2 1032.1,717.5 1032.1,717.3 1032.1,719.6 1032.1,720.0 1032.5,718.2 1033.0,718.4 1033.4,716.0 1033.9,715.6 1033.8,717.2 1033.8,718.3 1033.8,719.3 1033.7,719.1 1033.7,721.4 1033.7,722.4 1033.6,723.5 1033.6,724.5 1033.6,724.2 1033.6,725.9 1034.3,726.0 1035.0,728.1 1035.8,728.1 1035.8,727.8 1035.9,726.8 1035.9,724.5 1036.0,723.5 1036.0,722.5 1036.1,721.5 1036.1,720.5 1036.2,720.8 1036.2,719.8 1036.3,718.8 1036.3,716.5 1036.4,715.5 1036.5,715.8 1036.5,713.5 1036.6,713.8 1036.6,711.5 1036.7,711.8 1036.7,709.5 1036.8,709.8 1036.8,708.1 1036.9,709.8 1037.0,709.5 1037.1,710.6 1037.2,711.6 1037.3,713.9 1037.4,713.7 1037.5,714.7 1037.5,717.0 1037.6,718.0 1037.7,717.8 1037.8,720.1 1037.9,719.8 1038.0,721.5 1038.2,719.8 1038.3,718.7 1038.5,719.0 1038.7,716.6 1038.8,716.8 1039.0,714.5 1039.2,714.1 1039.4,714.5 1039.7,716.9 1040.0,718.1 1040.2,718.5 1040.2,718.9 1040.1,719.9 1040.1,721.0 1040.0,722.0 1040.0,724.4 1039.9,725.4 1039.9,725.1 1039.8,727.5 1039.8,727.2 1039.7,728.2 1039.7,730.6 1039.6,730.3 1039.6,732.6 1039.5,733.7 1039.5,734.1 1039.6,734.4 1039.7,735.4 1039.9,736.4 1040.0,737.4 1040.1,738.4 1040.3,740.7 1040.4,740.4 1040.5,741.4 1040.7,743.7 1040.8,743.4 1040.9,744.4 1041.1,745.5 1041.2,746.5 1041.3,748.8 1041.4,748.5 1041.6,750.8 1041.7,751.1 1041.7,749.4 1041.8,748.4 1041.8,747.3 1041.8,747.6 1041.9,745.2 1041.9,744.2 1041.9,744.5 1042.0,743.4 1042.0,742.4 1042.0,741.3 1042.1,740.3 1042.1,739.2 1042.1,738.2 1042.2,735.8 1042.2,734.8 1042.2,735.1 1042.3,734.0 1042.3,731.7 1042.3,731.9 1042.4,729.6 1042.4,729.8 1042.4,728.1 1042.6,729.8 1042.8,729.5 1043.1,730.5 1043.3,731.5 1043.5,732.5 1043.7,733.6 1043.9,735.9 1044.1,735.6 1044.3,736.6 1044.5,738.9 1044.7,739.3 1045.0,737.6 1045.3,736.5 1045.6,736.8 1045.9,735.8 1046.1,734.1 1046.2,734.4 1046.3,736.7 1046.3,736.5 1046.4,738.8 1046.4,738.5 1046.5,739.5 1046.5,740.5 1046.6,742.8 1046.6,742.5 1046.7,743.5 1046.7,744.5 1046.8,746.8 1046.8,747.9 1046.9,747.6 1047.0,749.9 1047.0,749.6 1047.1,751.9 1047.1,752.9 1047.2,752.6 1047.2,754.9 1047.3,754.6 1047.3,756.3 1047.4,755.9 1047.5,754.9 1047.6,753.9 1047.7,751.6 1047.8,750.6 1047.9,749.6 1048.0,749.9 1048.1,748.9 1048.2,747.9 1048.3,746.8 1048.4,745.2 1048.7,746.8 1049.1,747.8 1049.5,748.8 1049.9,749.8 1050.2,749.5 1050.6,751.1 1050.5,749.4 1050.4,749.7 1050.4,747.4 1050.3,746.3 1050.2,745.3 1050.1,744.2 1050.1,743.2 1050.0,742.2 1049.9,742.4 1049.9,740.7 1050.6,739.4 1051.3,738.6 1052.1,737.9 1052.8,737.8 1053.0,737.4 1053.2,735.2 1053.4,734.2 1053.6,734.5 1053.8,733.5 1054.0,731.9 1054.3,733.6 1054.6,734.7 1054.9,735.8 1055.2,735.6 1055.5,736.8 1055.8,738.5 1055.8,740.2 1055.8,741.3 1055.8,742.3 1055.8,743.4 1055.8,743.1 1055.8,745.5 1055.8,745.2 1055.8,747.6 1055.8,748.6 1055.8,748.4 1055.8,749.4 1055.8,751.1 1055.9,750.7 1056.1,748.3 1056.3,748.5 1056.4,746.2 1056.6,746.4 1056.7,745.3 1056.9,744.2 1057.1,743.1 1057.2,742.1 1057.4,739.7 1057.6,739.3 1057.6,739.6 1057.6,740.7 1057.6,741.7 1057.6,744.0 1057.6,745.0 1057.6,746.0 1057.6,747.1 1057.6,748.1 1057.6,747.8 1057.6,750.1 1057.6,751.2 1057.6,750.9 1057.6,751.9 1057.6,752.9 1057.6,754.0 1057.6,755.0 1057.6,757.3 1057.6,757.0 1057.6,759.3 1057.6,760.4 1057.6,760.7 1057.7,760.3 1057.8,759.3 1057.9,758.2 1058.0,755.9 1058.0,754.8 1058.1,753.8 1058.2,754.0 1058.3,751.7 1058.4,751.9 1058.5,749.6 1058.6,749.8 1058.7,748.1 1058.9,749.9 1059.1,749.6 1059.2,750.7 1059.4,753.0 1059.6,752.8 1059.8,755.1 1059.9,755.6 1059.9,755.9 1060.0,758.2 1060.0,759.2 1060.0,758.9 1060.0,761.2 1060.1,760.9 1060.1,761.9 1060.1,762.9 1060.1,764.0 1060.1,765.0 1060.2,767.3 1060.2,767.0 1060.2,769.3 1060.2,770.3 1060.2,771.3 1060.3,772.3 1060.3,773.3 1060.3,773.0 1060.3,775.3 1060.3,776.3 1060.4,777.3 1060.4,777.0 1060.4,778.0 1060.4,779.0 1060.5,781.3 1060.5,782.3 1060.5,783.3 1060.5,783.7 1061.7,784.4 1062.9,783.7 1062.9,783.3 1063.0,782.3 1063.0,780.0 1063.0,778.9 1063.1,777.9 1063.1,776.9 1063.1,777.2 1063.2,776.1 1063.2,773.8 1063.2,772.8 1063.3,771.7 1063.3,772.0 1063.3,769.7 1063.3,770.0 1063.4,767.6 1063.4,767.9 1063.4,766.9 1063.5,765.2 1064.1,764.8 1064.8,762.6 1065.4,762.2 1065.5,762.6 1065.5,765.0 1065.6,764.7 1065.7,767.1 1065.7,766.8 1065.8,767.9 1065.8,768.9 1065.9,770.0 1066.0,772.3 1066.0,772.1 1066.1,774.4 1066.1,774.8 1066.5,773.1 1066.8,772.0 1067.1,771.0 1067.4,769.9 1067.7,768.9 1068.1,769.1 1068.4,767.4 1068.4,767.8 1068.5,770.1 1068.6,771.1 1068.6,772.1 1068.7,773.1 1068.8,772.8 1068.8,775.1 1068.9,776.1 1069.0,775.8 1069.0,776.9 1069.1,778.5 1069.5,778.1 1069.9,776.9 1070.2,775.8 1070.6,774.1 1070.5,775.8 1070.4,776.8 1070.4,776.5 1070.3,778.9 1070.2,779.9 1070.1,779.6 1070.0,780.7 1070.0,781.7 1069.9,782.8 1069.8,785.1 1069.7,784.8 1069.6,787.2 1069.6,788.2 1069.5,789.2 1069.4,789.6 1070.2,788.0 1071.0,788.3 1071.8,786.7 1071.8,788.3 1071.8,789.4 1071.8,789.1 1071.8,790.1 1071.8,791.2 1071.8,793.5 1071.8,793.2 1071.8,794.3 1071.8,795.3 1071.8,797.6 1071.8,797.4 1071.8,799.7 1071.8,799.4 1071.8,800.4 1071.8,801.5 1071.8,802.5 1071.8,804.8 1071.8,804.6 1071.8,805.6 1071.8,806.6 1071.8,809.0 1071.8,810.0 1071.8,810.4 1071.8,812.1 1071.9,813.1 1072.0,814.2 1072.0,813.9 1072.1,816.2 1072.1,816.0 1072.2,818.3 1072.3,819.4 1072.3,820.4 1072.4,821.5 1072.4,821.2 1072.5,823.6 1072.6,823.3 1072.6,824.4 1072.7,826.7 1072.8,826.5 1072.8,828.1 1072.9,827.8 1072.9,825.4 1073.0,825.7 1073.0,824.7 1073.1,822.4 1073.2,821.3 1073.2,820.3 1073.3,820.6 1073.3,819.6 1073.4,818.5 1073.4,817.5 1073.5,816.5 1073.6,814.2 1073.6,814.4 1073.7,813.4 1073.7,811.1 1073.8,811.4 1073.8,810.3 1073.9,809.3 1074.0,808.3 1074.0,807.3 1074.1,804.9 1074.1,803.9 1074.2,802.9 1074.2,803.2 1074.3,801.5 1074.3,803.1 1074.3,804.1 1074.4,805.1 1074.4,806.2 1074.4,805.9 1074.5,806.9 1074.5,807.9 1074.5,808.9 1074.5,811.2 1074.6,810.9 1074.6,811.9 1074.6,814.2 1074.6,815.2 1074.7,814.9 1074.7,817.2 1074.7,818.2 1074.7,817.9 1074.8,818.9 1074.8,819.9 1074.8,820.9 1074.9,821.9 1074.9,822.9 1074.9,824.0 1074.9,825.0 1075.0,826.0 1075.0,828.3 1075.0,828.0 1075.0,829.6 1075.1,829.3 1075.1,828.2 1075.1,825.9 1075.2,824.9 1075.2,823.9 1075.2,824.1 1075.3,821.8 1075.3,820.8 1075.3,819.8 1075.3,820.0 1075.4,817.7 1075.4,818.0 1075.4,817.0 1075.5,814.6 1075.5,813.6 1075.5,812.6 1075.6,812.9 1075.6,810.5 1075.6,809.5 1075.6,809.8 1075.7,808.8 1075.7,807.8 1075.7,806.7 1075.8,804.4 1075.8,804.7 1075.8,803.7 1075.9,801.3 1075.9,800.3 1075.9,799.3 1076.0,799.6 1076.0,798.5 1076.0,797.5 1076.0,796.5 1076.1,794.8 1076.1,795.2 1076.2,797.5 1076.2,797.2 1076.2,798.2 1076.3,800.5 1076.3,801.5 1076.4,802.6 1076.4,803.6 1076.5,803.3 1076.5,804.3 1076.5,805.3 1076.6,807.6 1076.6,807.3 1076.7,809.7 1076.7,809.4 1076.8,810.4 1076.8,812.7 1076.8,812.4 1076.9,814.7 1076.9,814.4 1077.0,816.8 1077.0,816.5 1077.1,818.8 1077.1,818.5 1077.1,819.5 1077.2,820.5 1077.2,821.5 1077.3,822.5 1077.3,823.6 1077.4,825.9 1077.4,826.9 1077.4,827.9 1077.5,827.6 1077.5,829.9 1077.6,830.9 1077.6,830.7 1077.7,833.0 1077.7,833.3 1077.8,832.9 1077.8,830.6 1077.8,829.6 1077.9,829.8 1077.9,827.5 1078.0,827.7 1078.0,826.7 1078.1,825.6 1078.1,823.3 1078.2,822.2 1078.2,822.5 1078.3,821.5 1078.3,820.4 1078.4,818.1 1078.4,818.3 1078.5,817.3 1078.5,814.9 1078.6,815.2 1078.6,812.9 1078.6,811.8 1078.7,810.8 1078.7,810.4 1078.8,812.1 1078.9,813.1 1078.9,812.8 1079.0,815.2 1079.1,814.9 1079.2,815.9 1079.2,818.3 1079.3,819.3 1079.4,819.1 1079.4,821.4 1079.5,822.4 1079.6,823.5 1079.6,823.2 1079.7,825.5 1079.8,825.9 1079.8,825.6 1079.8,824.6 1079.9,822.3 1079.9,822.6 1079.9,820.2 1080.0,820.5 1080.0,818.2 1080.0,818.5 1080.1,816.2 1080.1,815.2 1080.1,814.2 1080.2,814.5 1080.2,812.2 1080.2,812.5 1080.3,811.5 1080.3,810.5 1080.3,809.5 1080.3,808.5 1080.4,807.5 1080.4,805.2 1080.4,805.5 1080.5,804.5 1080.5,802.2 1080.5,802.4 1080.6,800.1 1080.6,799.1 1080.6,798.1 1080.7,797.8 1080.8,796.1 1080.9,795.0 1081.0,795.2 1081.1,792.8 1081.2,791.8 1081.4,792.0 1081.5,790.9 1081.6,789.9 1081.7,788.1 1083.6,788.1 1083.6,789.8 1083.6,789.5 1083.6,790.6 1083.6,792.9 1083.6,792.6 1083.6,795.0 1083.6,796.0 1083.6,797.0 1083.6,798.0 1083.6,797.8 1083.6,798.8 1083.6,801.1 1083.6,801.5 1084.2,801.1 1084.8,798.9 1085.4,798.5 1085.4,798.9 1085.4,800.0 1085.3,802.4 1085.3,802.2 1085.3,803.3 1085.2,805.6 1085.2,806.7 1085.2,807.8 1085.2,807.6 1085.1,808.6 1085.1,810.4 1085.4,808.7 1085.7,807.6 1086.0,807.8 1086.3,806.8 1086.6,804.4 1086.9,804.7 1087.2,803.0 1087.2,803.3 1087.2,804.3 1087.3,806.7 1087.3,807.7 1087.3,807.4 1087.3,809.7 1087.3,810.7 1087.4,811.7 1087.4,811.4 1087.4,812.4 1087.4,813.5 1087.5,815.8 1087.5,816.8 1087.5,817.8 1087.5,817.5 1087.6,819.8 1087.6,820.8 1087.6,821.9 1087.6,822.2 1087.7,822.6 1087.8,824.9 1087.9,826.0 1088.0,825.7 1088.1,826.8 1088.2,827.8 1088.3,828.8 1088.4,829.9 1088.5,832.2 1088.6,833.2 1088.7,833.0 1088.8,834.0 1088.9,836.4 1089.0,836.1 1089.1,837.8 1089.4,837.4 1089.6,836.3 1089.9,833.9 1090.1,832.8 1090.3,833.1 1090.6,830.7 1090.8,829.6 1091.1,829.9 1091.3,828.1 1091.3,826.5 1091.3,825.4 1091.3,824.4 1091.3,824.6 1091.3,822.3 1091.2,821.3 1091.2,820.2 1091.2,820.5 1091.2,819.5 1091.2,817.1 1091.2,816.1 1091.2,815.1 1091.1,814.0 1091.1,814.3 1091.1,811.9 1091.1,812.2 1091.1,811.2 1091.1,808.8 1091.1,807.8 1091.0,807.4 1091.9,807.5 1092.8,808.9 1092.7,808.5 1092.7,807.5 1092.6,805.2 1092.5,804.2 1092.5,804.5 1092.4,803.5 1092.3,801.2 1092.3,801.5 1092.2,799.1 1092.1,798.1 1092.1,797.8 1092.6,799.4 1093.2,799.0 1093.7,799.9 1094.3,801.5 1094.3,801.0 1094.3,798.6 1094.3,797.5 1094.3,797.7 1094.3,795.3 1094.3,795.5 1094.3,794.4 1094.3,792.6 1094.5,792.9 1094.8,795.2 1095.0,794.9 1095.3,795.9 1095.5,798.2 1095.8,798.5 1095.8,796.8 1095.7,797.1 1095.7,796.1 1095.7,795.1 1095.7,792.7 1095.6,791.7 1095.6,792.0 1095.6,791.0 1095.6,789.9 1095.5,787.6 1095.5,786.6 1095.5,785.6 1095.5,785.2 1096.4,785.3 1097.3,786.7 1097.2,785.0 1097.2,785.3 1097.1,784.3 1097.1,781.9 1097.0,782.2 1097.0,779.9 1096.9,780.2 1096.9,779.2 1096.8,776.9 1096.8,777.1 1096.8,776.1 1096.7,775.1 1096.7,774.1 1096.6,771.8 1096.6,770.7 1096.5,770.4 1096.7,772.0 1096.9,773.0 1097.1,772.7 1097.3,775.0 1097.4,774.7 1097.6,776.9 1097.8,776.6 1098.0,778.9 1098.2,778.6 1098.4,779.6 1098.6,780.6 1098.7,782.2 1098.8,781.8 1098.8,780.8 1098.9,779.8 1098.9,777.4 1099.0,777.7 1099.0,776.6 1099.1,774.3 1099.1,774.6 1099.2,772.2 1099.2,771.2 1099.3,771.5 1099.3,769.1 1099.4,768.1 1099.4,768.4 1099.5,766.0 1099.5,766.3 1099.5,765.2 1099.6,762.9 1099.6,763.2 1099.7,760.8 1099.7,761.1 1099.8,760.1 1099.8,757.7 1099.9,756.7 1099.9,756.3 1100.5,757.9 1101.1,758.9 1101.7,759.3 1101.7,760.9 1101.8,760.7 1101.8,763.0 1101.8,764.0 1101.9,765.0 1101.9,766.0 1102.0,765.8 1102.0,766.8 1102.0,769.1 1102.1,768.8 1102.1,769.9 1102.1,770.9 1102.2,773.2 1102.2,774.2 1102.2,775.3 1102.3,776.3 1102.3,776.0 1102.3,778.3 1102.4,778.0 1102.4,779.1 1102.4,780.7 1103.2,781.1 1103.9,783.4 1104.7,783.7 1104.6,783.3 1104.6,781.0 1104.5,781.3 1104.5,780.3 1104.4,778.0 1104.4,776.9 1104.3,775.9 1104.3,774.9 1104.2,773.9 1104.2,772.9 1104.2,773.1 1104.1,772.1 1104.1,769.8 1104.0,770.1 1104.0,767.8 1103.9,767.4 1104.2,767.8 1104.6,770.2 1104.9,771.2 1105.2,772.3 1105.5,773.3 1105.8,774.4 1106.1,774.8 1106.5,773.1 1106.9,773.2 1107.3,772.1 1107.6,770.4 1107.7,770.0 1107.8,769.0 1107.9,768.0 1107.9,767.0 1108.0,766.0 1108.1,763.6 1108.2,762.6 1108.3,762.9 1108.3,761.9 1108.4,760.9 1108.5,758.6 1108.6,757.6 1108.6,756.5 1108.7,756.8 1108.8,755.8 1108.9,753.5 1109.0,753.8 1109.0,752.8 1109.1,751.1 1109.2,752.8 1109.3,752.6 1109.4,753.7 1109.4,754.7 1109.5,757.1 1109.6,758.2 1109.7,759.3 1109.8,759.0 1109.9,760.7 1109.9,759.1 1110.0,759.3 1110.0,758.3 1110.0,757.2 1110.1,754.9 1110.1,753.9 1110.2,752.8 1110.2,753.1 1110.3,750.8 1110.3,749.7 1110.4,748.7 1110.4,748.9 1110.5,746.6 1110.5,746.9 1110.6,745.2 1110.8,744.8 1111.1,743.9 1111.3,742.9 1111.6,741.9 1111.8,740.9 1112.1,739.3 1112.3,740.9 1112.5,740.7 1112.8,743.0 1113.0,742.7 1113.2,743.7 1113.4,744.8 1113.7,745.8 1113.9,746.8 1114.1,749.1 1114.4,748.9 1114.6,751.2 1114.8,750.9 1115.0,752.6 1115.1,750.9 1115.1,749.9 1115.2,750.2 1115.2,749.2 1115.2,748.2 1115.3,747.2 1115.3,744.8 1115.3,745.1 1115.4,744.1 1115.4,741.8 1115.5,740.8 1115.5,741.1 1115.5,740.1 1115.6,739.1 1115.6,736.7 1115.7,737.0 1115.7,734.7 1115.7,735.0 1115.8,733.3 1116.1,732.9 1116.5,731.8 1116.9,730.6 1117.3,728.9 1117.3,729.3 1117.3,731.6 1117.4,732.6 1117.4,732.4 1117.5,734.7 1117.5,734.5 1117.6,736.8 1117.6,737.8 1117.7,738.9 1117.7,739.3 1117.6,739.7 1117.5,740.7 1117.4,741.8 1117.3,744.1 1117.2,745.2 1117.1,745.0 1117.0,746.7 1117.1,745.0 1117.1,743.9 1117.2,742.9 1117.3,743.2 1117.4,742.1 1117.4,741.1 1117.5,738.8 1117.6,739.0 1117.7,738.0 1117.7,735.6 1117.8,734.6 1117.9,734.9 1118.0,732.5 1118.0,732.8 1118.1,731.1 1118.7,730.6 1119.2,728.9 1119.2,728.5 1119.2,726.2 1119.2,726.5 1119.2,724.2 1119.2,723.2 1119.2,723.5 1119.2,722.5 1119.2,721.5 1119.2,720.4 1119.2,719.4 1119.2,717.8 1119.5,719.5 1119.8,719.4 1120.1,721.8 1120.3,722.9 1120.6,724.0 1120.9,724.4 1121.1,724.8 1121.3,727.1 1121.4,726.9 1121.6,729.2 1121.8,730.2 1122.0,730.6 1122.1,728.9 1122.2,729.1 1122.3,726.7 1122.4,725.7 1122.6,724.6 1122.7,724.9 1122.8,722.5 1122.9,721.5 1123.0,720.4 1123.1,720.0 1123.4,721.8 1123.7,722.9 1123.9,724.0 1124.2,723.8 1124.5,724.9 1124.8,726.7 1124.9,724.9 1125.1,725.1 1125.3,722.7 1125.4,722.9 1125.6,721.8 1125.7,720.6 1125.9,718.9 1127.0,717.8 1127.0,718.2 1127.0,720.5 1127.0,721.5 1127.0,722.6 1127.0,722.3 1127.0,723.4 1127.0,724.4 1127.0,726.7 1127.0,727.8 1127.0,727.5 1127.0,728.5 1127.0,729.6 1127.0,731.9 1127.0,731.6 1127.0,733.3 1127.3,733.8 1127.7,734.9 1128.0,736.0 1128.3,737.1 1128.7,738.9 1128.9,739.4 1129.0,741.8 1129.2,741.6 1129.4,742.7 1129.6,743.8 1129.8,745.6 1129.9,745.2 1130.0,744.2 1130.1,743.2 1130.2,742.2 1130.3,741.2 1130.4,738.9 1130.6,737.9 1130.7,738.2 1130.8,737.2 1130.9,735.6 1131.1,737.3 1131.3,738.4 1131.6,739.5 1131.8,739.4 1132.0,741.1 1132.0,739.4 1132.1,739.7 1132.1,737.4 1132.2,736.4 1132.2,736.6 1132.3,735.6 1132.3,734.6 1132.3,732.3 1132.4,731.2 1132.4,730.2 1132.5,730.5 1132.5,729.5 1132.6,727.8 1133.0,726.0 1133.4,724.9 1133.8,723.8 1134.2,723.3 1134.6,723.8 1134.9,724.9 1135.2,726.0 1135.6,727.1 1135.9,728.9 1136.0,728.4 1136.1,726.0 1136.2,724.9 1136.3,723.8 1136.4,724.0 1136.6,721.6 1136.7,721.1 1137.0,719.4 1137.3,718.2 1137.6,717.8 1137.7,718.1 1137.9,720.4 1138.1,721.4 1138.3,721.1 1138.5,723.4 1138.7,723.1 1138.9,724.0 1139.0,726.3 1139.2,726.7 1139.2,728.4 1139.2,729.5 1139.2,729.4 1139.2,730.5 1139.2,731.6 1139.2,734.0 1139.2,734.4 1139.6,734.0 1140.1,731.6 1140.5,731.8 1140.9,730.0 1140.9,731.7 1140.9,732.7 1140.9,732.4 1141.0,734.7 1141.0,734.4 1141.0,736.8 1141.0,737.8 1141.0,737.5 1141.1,739.8 1141.1,740.8 1141.1,740.6 1141.1,742.2 1141.2,742.6 1141.2,744.9 1141.3,744.7 1141.4,745.7 1141.4,746.7 1141.5,749.1 1141.6,750.1 1141.6,751.1 1141.7,752.2 1141.7,751.9 1141.8,754.2 1141.9,755.3 1141.9,756.3 1142.0,756.7 1142.2,754.9 1142.3,753.8 1142.5,752.7 1142.6,751.6 1142.8,751.8 1143.0,749.4 1143.1,748.9 1143.1,749.2 1143.2,751.6 1143.2,752.6 1143.2,753.6 1143.3,754.6 1143.3,755.6 1143.4,755.3 1143.4,756.3 1143.4,758.6 1143.5,759.6 1143.5,759.3 1143.5,760.3 1143.6,762.6 1143.6,763.6 1143.6,764.6 1143.7,765.0 1143.7,763.3 1143.8,763.6 1143.9,762.5 1143.9,761.5 1144.0,759.1 1144.1,758.1 1144.1,758.3 1144.2,757.3 1144.3,756.2 1144.3,755.2 1144.4,752.8 1144.5,753.1 1144.5,750.8 1144.6,749.7 1144.6,748.7 1144.7,748.9 1144.8,747.2 1144.9,748.9 1145.0,750.0 1145.1,751.0 1145.2,752.0 1145.3,753.1 1145.4,752.8 1145.5,755.2 1145.6,754.9 1145.7,755.9 1145.8,757.0 1145.9,758.0 1146.0,759.1 1146.1,761.4 1146.2,761.2 1146.3,762.2 1146.4,763.9 1146.5,763.5 1146.5,762.4 1146.6,760.0 1146.6,760.3 1146.7,757.9 1146.7,756.8 1146.7,757.1 1146.8,756.0 1146.8,754.9 1146.9,753.9 1146.9,752.8 1147.0,750.4 1147.0,750.0 1147.2,750.3 1147.3,752.6 1147.5,752.3 1147.6,754.6 1147.8,754.3 1148.0,756.6 1148.1,756.3 1148.3,757.3 1148.4,758.9 1148.5,758.5 1148.5,757.5 1148.6,756.5 1148.6,755.5 1148.6,753.2 1148.7,752.2 1148.7,751.2 1148.8,751.5 1148.8,749.2 1148.8,749.5 1148.9,748.5 1148.9,746.2 1148.9,745.2 1149.0,744.2 1149.0,743.2 1149.1,743.5 1149.1,741.2 1149.1,741.5 1149.2,739.2 1149.2,738.9 1150.1,737.7 1150.9,737.8 1150.9,739.5 1150.9,740.5 1150.9,740.2 1150.9,741.3 1151.0,743.6 1151.0,743.4 1151.0,744.4 1151.0,746.7 1151.0,746.5 1151.0,747.5 1151.1,749.8 1151.1,750.9 1151.1,751.9 1151.1,752.9 1151.1,753.3 1151.2,755.0 1151.3,756.0 1151.4,757.1 1151.6,758.1 1151.7,759.1 1151.8,760.1 1151.9,759.9 1152.0,762.2 1152.1,761.9 1152.2,764.2 1152.3,764.0 1152.4,766.3 1152.6,766.7 1152.7,766.3 1152.9,764.0 1153.1,763.1 1153.3,763.4 1153.5,761.1 1153.7,761.4 1153.9,759.1 1154.0,758.1 1154.2,757.8 1155.1,756.3 1155.9,756.1 1155.9,754.4 1156.0,753.4 1156.1,753.6 1156.1,752.5 1156.2,751.5 1156.2,750.4 1156.3,748.1 1156.3,747.0 1156.4,747.3 1156.4,745.6 1156.8,747.3 1157.1,748.4 1157.4,749.5 1157.8,750.0 1157.8,749.5 1157.9,747.1 1157.9,746.0 1157.9,744.9 1158.0,743.8 1158.0,742.7 1158.1,742.9 1158.1,741.1 1158.9,742.3 1159.8,742.2 1160.0,741.8 1160.3,740.6 1160.5,738.2 1160.7,737.1 1161.0,736.0 1161.2,734.9 1161.4,734.4 1161.6,736.1 1161.7,735.8 1161.9,738.1 1162.0,737.8 1162.2,738.8 1162.3,741.1 1162.5,740.8 1162.6,741.8 1162.7,744.1 1162.9,744.4 1163.3,744.0 1163.8,742.9 1164.2,741.1 1164.2,739.4 1164.3,739.7 1164.3,738.6 1164.3,736.3 1164.3,736.5 1164.4,734.2 1164.4,733.1 1164.4,732.1 1164.4,731.7 1165.4,732.0 1166.4,731.1 1167.3,731.3 1168.1,732.8 1169.2,733.7 1170.3,733.3 1170.3,731.6 1170.3,731.8 1170.3,730.6 1170.3,729.5 1170.3,727.1 1170.3,727.3 1170.3,725.6 1170.6,723.8 1170.8,724.0 1171.0,721.6 1171.3,721.8 1171.5,719.4 1171.8,718.2 1172.0,717.8 1173.7,718.3 1173.7,720.0 1173.8,721.1 1173.9,722.1 1173.9,721.9 1174.0,724.2 1174.1,723.9 1174.2,726.3 1174.2,726.7 1174.4,728.4 1174.6,729.5 1174.8,730.6 1175.0,730.5 1175.1,731.6 1175.3,733.3 1175.5,735.1 1175.7,736.2 1175.8,736.0 1176.0,737.1 1176.1,739.5 1176.3,739.4 1176.4,741.1 1176.5,739.4 1176.6,738.4 1176.7,737.3 1176.7,736.3 1176.8,735.3 1176.9,734.2 1176.9,734.5 1177.0,733.4 1177.1,732.4 1177.1,731.3 1177.2,730.3 1177.3,728.0 1177.3,728.2 1177.4,725.9 1177.5,724.8 1177.6,724.4 1177.7,724.8 1177.8,727.1 1178.0,726.9 1178.1,727.9 1178.2,728.9 1178.4,731.2 1178.5,730.9 1178.7,733.2 1178.8,734.3 1178.9,735.3 1179.1,736.3 1179.2,736.7 1179.3,736.3 1179.3,734.0 1179.4,734.3 1179.4,732.0 1179.5,732.3 1179.5,731.3 1179.6,729.0 1179.6,728.0 1179.7,728.3 1179.8,727.3 1179.8,725.0 1179.9,724.0 1179.9,724.2 1180.0,721.9 1180.0,722.2 1180.1,719.9 1180.1,718.9 1180.2,717.9 1180.2,718.2 1180.3,717.2 1180.3,715.6 1181.2,714.4 1182.0,714.4 1182.8,716.2 1183.7,716.7 1183.6,718.3 1183.6,718.0 1183.5,720.3 1183.4,720.0 1183.4,722.3 1183.3,722.0 1183.3,723.0 1183.2,724.0 1183.2,725.0 1183.1,726.7 1183.9,724.9 1184.8,724.4 1184.8,724.8 1184.9,727.1 1184.9,726.9 1184.9,729.2 1185.0,728.9 1185.0,729.9 1185.1,732.3 1185.1,732.0 1185.2,733.0 1185.2,735.4 1185.2,736.4 1185.3,737.4 1185.3,737.8 1186.2,739.5 1187.0,740.0 1187.0,739.6 1187.1,738.6 1187.1,737.5 1187.1,735.2 1187.2,734.2 1187.2,733.1 1187.3,733.4 1187.3,732.4 1187.3,730.0 1187.4,729.0 1187.4,727.9 1187.4,728.2 1187.5,727.2 1187.5,726.1 1187.6,724.4 1187.7,726.1 1187.9,727.1 1188.0,728.1 1188.2,727.8 1188.3,728.8 1188.5,729.9 1188.6,730.9 1188.8,731.9 1188.9,734.2 1189.1,733.9 1189.2,735.6 1189.3,735.2 1189.3,734.1 1189.4,733.1 1189.4,730.7 1189.5,731.0 1189.5,728.7 1189.6,727.6 1189.6,726.6 1189.7,726.8 1189.7,725.8 1189.8,724.7 1189.8,723.7 1189.9,721.4 1189.9,720.3 1190.0,720.6 1190.0,718.9 1190.0,719.2 1190.1,720.2 1190.1,721.2 1190.1,722.2 1190.2,723.2 1190.2,725.5 1190.2,726.5 1190.3,727.5 1190.3,728.5 1190.3,728.9 1191.8,728.9 1191.7,730.6 1191.7,731.6 1191.7,731.4 1191.6,732.4 1191.6,733.4 1191.5,734.5 1191.5,736.8 1191.4,737.9 1191.4,738.9 1191.4,738.7 1191.3,739.7 1191.3,742.0 1191.2,743.1 1191.2,742.8 1191.2,745.2 1191.1,745.6 1191.4,745.9 1191.6,746.9 1191.9,749.1 1192.1,748.8 1192.4,749.8 1192.6,752.0 1192.9,751.7 1193.1,753.3 1193.1,755.0 1193.1,756.0 1193.1,757.0 1193.0,758.1 1193.0,757.8 1193.0,758.8 1193.0,759.8 1193.0,760.8 1192.9,761.9 1192.9,762.9 1192.9,765.2 1192.9,764.9 1192.9,765.9 1192.9,768.2 1192.8,769.3 1192.8,770.3 1192.8,771.3 1192.8,772.3 1192.8,772.0 1192.7,774.4 1192.7,775.4 1192.7,776.4 1192.7,777.4 1192.7,777.1 1192.6,779.4 1192.6,779.2 1192.6,780.2 1192.6,781.2 1192.6,783.5 1192.6,783.9 1193.2,784.2 1193.8,786.4 1194.4,786.7 1194.5,785.0 1194.5,785.2 1194.6,784.2 1194.6,781.8 1194.6,782.1 1194.7,781.0 1194.7,778.7 1194.8,779.0 1194.8,776.6 1194.8,776.9 1194.9,775.8 1194.9,774.8 1195.0,772.4 1195.0,771.4 1195.0,771.6 1195.1,770.6 1195.1,768.9 1195.2,770.5 1195.4,771.5 1195.5,772.5 1195.6,773.5 1195.8,774.5 1195.9,775.5 1196.0,776.5 1196.2,777.5 1196.3,777.2 1196.4,778.9 1196.5,778.5 1196.6,777.5 1196.7,775.2 1196.8,775.4 1196.9,773.1 1197.0,772.1 1197.0,772.4 1197.1,770.0 1197.2,770.3 1197.3,768.0 1197.4,768.3 1197.5,767.2 1197.6,765.6 1197.6,765.9 1197.7,768.3 1197.8,769.3 1197.9,770.3 1198.0,771.3 1198.1,772.3 1198.2,772.1 1198.3,773.1 1198.3,775.4 1198.4,776.4 1198.5,777.5 1198.6,777.2 1198.7,779.5 1198.8,779.2 1198.9,781.6 1199.0,782.6 1199.0,782.3 1199.1,783.3 1199.2,785.0 1199.6,783.4 1200.1,782.4 1200.5,782.7 1200.9,781.1 1200.8,780.7 1200.8,778.4 1200.8,777.4 1200.7,777.7 1200.7,776.6 1200.6,775.6 1200.6,774.6 1200.5,773.6 1200.5,771.2 1200.5,771.5 1200.4,769.2 1200.4,768.2 1200.3,767.8 1200.7,768.2 1201.0,769.4 1201.3,771.8 1201.7,771.6 1202.0,773.3 1202.0,771.7 1202.0,771.9 1202.0,769.6 1202.0,769.9 1201.9,768.9 1201.9,766.5 1201.9,766.8 1201.9,764.5 1201.9,764.8 1201.9,762.4 1201.9,762.7 1201.9,760.4 1201.8,759.4 1201.8,758.4 1201.8,758.6 1201.8,756.3 1201.8,756.6 1201.8,754.3 1201.8,753.9 1203.1,753.3 1203.1,753.7 1203.2,756.0 1203.2,755.7 1203.2,758.0 1203.2,759.0 1203.3,758.7 1203.3,759.7 1203.3,762.0 1203.3,761.7 1203.4,762.7 1203.4,763.7 1203.4,766.0 1203.5,767.1 1203.5,766.8 1203.5,767.8 1203.5,768.8 1203.6,769.8 1203.6,770.8 1203.6,773.1 1203.6,774.1 1203.7,774.4 1203.7,774.1 1203.8,773.1 1203.9,770.8 1203.9,769.8 1204.0,770.0 1204.1,769.0 1204.1,766.7 1204.2,765.7 1204.3,766.0 1204.3,765.0 1204.4,764.0 1204.5,761.7 1204.5,760.7 1204.6,761.0 1204.7,759.9 1204.7,758.9 1204.8,756.6 1204.8,756.9 1204.9,755.9 1205.0,754.9 1205.0,753.9 1205.1,752.2 1205.1,753.9 1205.2,754.9 1205.2,756.0 1205.2,757.0 1205.3,756.8 1205.3,757.8 1205.3,760.1 1205.4,761.2 1205.4,762.2 1205.4,763.3 1205.5,763.0 1205.5,764.0 1205.6,766.4 1205.6,767.4 1205.6,768.5 1205.7,768.2 1205.7,769.2 1205.7,771.6 1205.8,771.3 1205.8,772.3 1205.8,774.7 1205.9,775.7 1205.9,776.1 1206.7,775.9 1207.6,774.4 1207.5,772.8 1207.5,773.0 1207.4,770.7 1207.4,771.0 1207.3,770.0 1207.3,768.9 1207.3,766.6 1207.2,766.9 1207.2,764.6 1207.1,764.8 1207.1,763.8 1207.0,762.8 1207.0,761.1 1207.2,761.5 1207.3,763.8 1207.5,764.8 1207.7,765.8 1207.8,766.8 1208.0,766.5 1208.2,768.8 1208.3,768.5 1208.5,769.5 1208.7,771.1 1209.2,769.4 1209.8,768.2 1210.3,767.8 1210.2,766.0 1210.1,766.2 1210.1,763.8 1210.0,762.7 1209.9,762.9 1209.8,761.1 1211.2,760.7 1212.6,761.7 1212.6,761.3 1212.6,758.9 1212.6,757.9 1212.6,756.8 1212.6,757.0 1212.6,756.0 1212.6,754.9 1212.6,752.6 1212.6,751.5 1212.6,751.1 1213.4,749.9 1214.2,750.0 1214.1,748.2 1214.1,747.1 1214.0,746.0 1213.9,744.9 1213.8,745.1 1213.7,742.7 1213.7,742.2 1213.9,741.9 1214.1,739.6 1214.3,739.8 1214.5,737.5 1214.7,736.5 1214.9,736.8 1215.1,735.8 1215.3,733.5 1215.5,733.8 1215.7,732.8 1215.9,731.1 1216.0,732.8 1216.1,733.8 1216.2,733.5 1216.3,735.8 1216.4,735.5 1216.5,737.8 1216.6,737.5 1216.7,739.8 1216.8,739.6 1216.9,741.9 1217.0,742.2 1217.2,741.9 1217.3,739.6 1217.5,739.8 1217.6,738.8 1217.8,736.5 1217.9,736.8 1218.1,735.8 1218.2,734.8 1218.4,733.8 1218.5,731.5 1218.7,731.1 1218.7,732.8 1218.8,733.8 1218.8,733.5 1218.9,734.5 1218.9,735.5 1219.0,736.5 1219.0,738.8 1219.1,738.5 1219.1,739.6 1219.2,740.6 1219.2,742.2 1219.6,742.7 1220.0,743.8 1220.3,745.6 1221.2,744.4 1222.0,744.4 1221.9,744.9 1221.9,745.9 1221.8,748.3 1221.8,748.0 1221.7,750.4 1221.7,750.2 1221.6,752.5 1221.6,752.3 1221.5,753.3 1221.5,755.7 1221.4,756.1 1223.1,756.7 1223.2,754.9 1223.3,755.1 1223.3,754.0 1223.4,751.6 1223.5,751.8 1223.6,750.6 1223.7,748.9 1225.1,749.4 1225.1,749.8 1225.2,752.2 1225.2,753.2 1225.2,753.0 1225.2,755.3 1225.3,756.4 1225.3,757.4 1225.3,757.2 1225.3,758.9 1225.8,759.2 1226.2,761.4 1226.7,761.7 1226.6,763.3 1226.6,764.3 1226.5,765.3 1226.5,765.0 1226.4,767.3 1226.4,768.3 1226.3,769.3 1226.3,769.0 1226.2,771.3 1226.1,772.3 1226.1,772.0 1226.0,774.3 1226.0,774.0 1225.9,776.3 1225.9,776.7 1226.4,776.9 1227.0,777.9 1227.6,779.4 1228.4,779.4 1229.2,780.6 1229.1,778.8 1229.0,779.1 1228.9,778.0 1228.8,777.0 1228.7,774.6 1228.6,773.5 1228.5,773.8 1228.4,772.7 1228.3,771.7 1228.2,770.6 1228.1,768.9 1230.0,768.3 1230.1,768.7 1230.2,771.1 1230.3,772.1 1230.4,773.2 1230.4,774.3 1230.5,775.3 1230.6,775.1 1230.7,777.4 1230.8,778.5 1230.9,778.9 1231.1,778.6 1231.3,777.6 1231.4,775.3 1231.6,775.6 1231.8,774.6 1232.0,773.6 1232.2,772.6 1232.4,771.6 1232.6,770.0 1232.7,770.4 1232.8,772.8 1232.9,772.5 1233.0,774.9 1233.1,774.6 1233.2,777.0 1233.3,778.0 1233.4,779.1 1233.6,778.9 1233.7,780.6 1234.2,780.3 1234.8,778.1 1235.3,777.8 1235.3,776.1 1235.2,775.1 1235.2,774.1 1235.1,773.1 1235.1,772.1 1235.0,771.1 1235.0,771.4 1234.9,769.0 1234.9,769.3 1234.8,767.0 1234.8,766.7 1235.9,767.9 1237.0,767.8 1236.9,767.4 1236.9,766.4 1236.8,765.4 1236.8,763.1 1236.7,762.1 1236.7,762.4 1236.6,761.4 1236.6,760.3 1236.5,759.3 1236.5,757.0 1236.4,756.7 1237.3,756.8 1238.1,755.6 1238.2,756.0 1238.3,757.1 1238.4,759.5 1238.5,759.4 1238.6,760.5 1238.7,762.2 1238.9,760.6 1239.0,760.9 1239.2,759.9 1239.4,757.6 1239.6,757.9 1239.8,755.6 1240.0,754.7 1240.1,755.0 1240.3,753.3 1240.6,751.3 1240.9,750.6 1240.9,752.2 1241.0,753.3 1241.1,753.0 1241.1,755.3 1241.2,755.0 1241.2,757.3 1241.3,757.1 1241.4,758.1 1241.4,760.4 1241.5,761.4 1241.5,761.2 1241.6,762.2 1241.6,763.2 1241.7,765.5 1241.8,766.6 1241.8,766.3 1241.9,767.3 1241.9,769.6 1242.0,770.0 1243.1,771.2 1244.2,771.1 1244.2,770.8 1244.1,768.5 1244.1,767.5 1244.0,766.5 1243.9,765.5 1243.9,764.5 1243.8,763.5 1243.8,762.5 1243.7,761.5 1243.7,761.1 1244.5,762.3 1245.3,762.2 1245.5,762.6 1245.7,763.7 1245.9,766.0 1246.1,765.8 1246.3,766.8 1246.4,767.9 1246.6,770.2 1246.8,771.3 1247.0,771.7 1247.4,771.3 1247.8,770.4 1248.2,768.1 1248.7,767.8 1248.6,767.4 1248.4,765.1 1248.3,764.1 1248.2,763.1 1248.1,763.4 1248.0,762.4 1247.9,761.4 1247.8,760.4 1247.7,758.1 1247.6,757.8 1248.7,758.4 1249.8,757.8 1250.6,759.0 1251.4,758.9 1251.4,757.1 1251.4,756.0 1251.4,754.9 1251.4,753.8 1251.4,752.7 1251.4,751.6 1251.4,751.1 1252.0,752.9 1252.6,752.7 1253.1,753.8 1253.7,755.6 1253.6,753.8 1253.5,752.7 1253.5,751.6 1253.4,751.8 1253.3,750.6 1253.2,749.5 1253.2,748.4 1253.1,746.7 1253.9,745.5 1254.8,745.6 1254.9,745.2 1255.1,742.9 1255.3,743.2 1255.4,740.9 1255.6,739.9 1255.8,740.2 1255.9,739.2 1256.1,736.9 1256.3,737.2 1256.4,735.6 1256.7,737.3 1257.0,737.1 1257.3,739.5 1257.6,740.0 1258.1,741.6 1258.7,742.5 1259.2,742.8 1259.3,741.1 1259.4,741.4 1259.6,739.1 1259.7,738.1 1259.8,737.1 1259.9,736.1 1260.0,736.4 1260.1,735.4 1260.2,734.4 1260.3,732.8 1260.6,734.5 1260.8,734.2 1261.0,736.5 1261.3,737.6 1261.5,738.6 1261.8,739.6 1262.0,740.0 1262.3,739.5 1262.7,737.1 1263.0,737.3 1263.3,736.2 1263.7,734.4 1263.9,734.1 1264.1,733.1 1264.4,730.7 1264.6,731.0 1264.9,730.0 1265.1,728.3 1265.2,730.1 1265.2,731.1 1265.3,730.9 1265.4,733.3 1265.4,733.0 1265.5,734.1 1265.5,736.5 1265.6,737.5 1265.6,738.6 1265.7,739.7 1265.8,739.4 1265.8,740.5 1265.9,742.2 1266.7,742.3 1267.6,741.1 1267.7,739.4 1267.9,738.3 1268.0,737.3 1268.2,736.2 1268.3,735.2 1268.5,735.4 1268.6,733.0 1268.8,732.0 1268.9,730.9 1269.1,729.9 1269.2,729.4 1269.4,729.8 1269.6,730.9 1269.8,731.9 1270.1,733.0 1270.3,734.0 1270.5,735.0 1270.7,736.1 1270.9,737.8 1271.0,738.2 1271.1,740.6 1271.3,740.5 1271.4,741.6 1271.5,744.0 1271.7,743.8 1271.8,745.6 1273.2,744.4 1273.2,742.8 1273.1,743.1 1273.1,742.1 1273.0,739.8 1273.0,740.0 1272.9,737.7 1272.9,738.0 1272.8,735.7 1272.8,736.0 1272.7,735.0 1272.7,733.3 1274.3,733.3 1274.5,731.6 1274.6,731.8 1274.8,729.4 1274.9,728.2 1275.0,728.4 1275.2,726.0 1275.3,724.9 1275.4,724.4 1276.3,723.2 1277.1,723.3 1277.1,723.0 1277.0,721.9 1277.0,720.9 1276.9,718.6 1276.9,717.6 1276.8,716.6 1276.8,716.9 1276.7,714.5 1276.7,714.8 1276.6,712.5 1276.6,712.8 1276.6,711.1 1277.7,709.9 1278.8,710.0 1278.8,710.4 1278.9,712.7 1278.9,713.7 1279.0,713.4 1279.0,714.4 1279.1,716.7 1279.1,717.7 1279.2,718.7 1279.2,718.4 1279.3,720.8 1279.3,720.5 1279.4,722.8 1279.4,723.8 1279.5,723.5 1279.5,725.8 1279.6,725.5 1279.6,727.8 1279.7,728.8 1279.7,728.5 1279.8,729.6 1279.8,730.6 1279.9,732.2 1281.6,731.7 1281.5,730.0 1281.5,730.2 1281.4,729.1 1281.4,726.8 1281.3,727.0 1281.3,726.0 1281.2,723.6 1281.2,722.5 1281.1,721.5 1281.1,720.4 1281.0,720.0 1281.3,721.8 1281.7,722.9 1282.0,724.0 1282.3,723.8 1282.7,725.6 1282.7,725.2 1282.7,724.2 1282.7,721.9 1282.7,720.8 1282.7,721.1 1282.7,718.8 1282.8,717.8 1282.8,718.1 1282.8,715.7 1282.8,716.0 1282.8,715.0 1282.8,714.0 1282.8,711.7 1282.8,711.9 1282.9,710.9 1282.9,709.9 1282.9,708.9 1282.9,707.2 1283.1,708.9 1283.4,709.9 1283.6,709.6 1283.9,711.9 1284.1,711.7 1284.3,713.3 1284.5,713.8 1284.6,714.8 1284.7,717.2 1284.8,718.3 1285.0,718.0 1285.1,720.4 1285.2,720.2 1285.4,721.2 1285.5,723.6 1285.6,724.7 1285.7,724.4 1285.9,726.8 1286.0,727.2 1286.1,726.8 1286.1,725.8 1286.2,723.4 1286.2,722.4 1286.3,722.6 1286.3,720.2 1286.4,719.2 1286.4,718.1 1286.5,718.4 1286.6,716.7 1287.1,718.1 1287.7,719.0 1288.2,719.8 1288.8,720.0 1288.9,719.5 1289.1,718.4 1289.3,717.3 1289.4,714.9 1289.6,715.1 1289.7,712.7 1289.9,712.2 1290.4,710.5 1291.0,709.4 1291.6,708.9 1291.7,709.2 1291.9,711.5 1292.1,711.2 1292.2,713.5 1292.4,713.2 1292.6,715.5 1292.7,716.5 1292.9,716.2 1293.1,718.5 1293.2,718.9 1293.3,717.2 1293.4,717.5 1293.5,715.2 1293.6,715.5 1293.7,714.4 1293.8,713.4 1293.9,711.1 1294.0,711.4 1294.1,709.1 1294.1,709.4 1294.2,707.0 1294.3,706.7 1295.2,704.9 1296.0,704.4 1296.2,706.1 1296.4,705.8 1296.6,708.1 1296.7,707.9 1296.9,710.2 1297.1,710.6 1297.3,708.8 1297.4,707.7 1297.6,707.9 1297.7,706.8 1297.9,705.6 1298.1,703.2 1298.2,702.8 1298.3,704.5 1298.4,705.5 1298.4,706.6 1298.5,707.6 1298.5,708.7 1298.6,708.4 1298.7,709.4 1298.7,710.5 1298.8,712.8 1298.9,712.6 1298.9,714.9 1299.0,714.7 1299.1,717.0 1299.1,716.8 1299.2,719.1 1299.3,720.2 1299.3,720.6 1299.4,718.9 1299.5,719.2 1299.6,716.9 1299.7,715.8 1299.8,714.8 1299.9,715.1 1300.0,712.8 1300.1,711.8 1300.2,710.7 1300.3,711.0 1300.4,710.0 1300.4,708.3 1300.7,706.6 1300.9,705.6 1301.1,705.9 1301.3,703.5 1301.5,703.8 1301.7,701.4 1301.9,701.7 1302.1,700.0 1302.3,700.4 1302.4,701.5 1302.6,703.8 1302.7,704.9 1302.9,706.0 1303.0,707.0 1303.2,708.1 1303.3,707.8 1303.5,708.9 1303.6,710.0 1303.8,711.7 1303.9,710.0 1304.0,710.2 1304.1,709.1 1304.1,708.1 1304.2,705.7 1304.3,704.6 1304.4,703.6 1304.5,702.5 1304.6,702.7 1304.7,700.4 1304.8,699.3 1304.9,698.9 1305.6,697.4 1306.2,697.2 1306.3,697.6 1306.4,698.6 1306.5,701.0 1306.6,700.7 1306.7,701.7 1306.8,704.1 1306.9,703.8 1307.0,704.8 1307.2,705.9 1307.3,706.9 1307.4,707.9 1307.5,710.3 1307.6,710.0 1307.7,711.7 1307.8,709.9 1307.9,708.8 1308.1,709.0 1308.2,706.6 1308.4,705.5 1308.5,704.4 1308.6,704.5 1308.8,702.8 1309.3,704.3 1309.9,704.4 1310.0,704.8 1310.1,707.1 1310.2,706.8 1310.3,707.8 1310.4,708.8 1310.5,709.8 1310.6,710.8 1310.7,711.8 1310.8,714.1 1310.9,715.1 1310.9,714.8 1311.0,717.1 1311.1,716.8 1311.2,717.8 1311.3,719.4 1311.4,717.8 1311.5,718.0 1311.6,717.0 1311.7,716.0 1311.8,714.9 1311.9,713.9 1312.0,711.6 1312.1,711.8 1312.2,709.5 1312.3,709.8 1312.4,708.7 1312.5,706.4 1312.6,706.7 1312.7,705.0 1313.7,705.1 1314.7,703.9 1314.8,705.6 1314.9,705.3 1315.0,706.4 1315.1,708.7 1315.2,708.4 1315.2,709.5 1315.3,710.5 1315.4,712.2 1315.9,712.5 1316.3,713.5 1316.7,715.8 1317.1,716.1 1317.8,716.4 1318.4,718.6 1319.1,718.9 1319.1,719.3 1319.1,721.6 1319.2,722.6 1319.2,722.3 1319.2,724.7 1319.2,725.7 1319.2,726.7 1319.2,727.7 1319.3,727.5 1319.3,729.8 1319.3,729.5 1319.3,731.8 1319.3,732.2 1319.5,732.6 1319.6,733.7 1319.7,734.7 1319.9,737.1 1320.0,738.1 1320.1,739.2 1320.3,739.0 1320.4,741.3 1320.5,741.1 1320.7,742.8 1320.7,742.4 1320.8,741.3 1320.9,740.2 1321.0,739.2 1321.0,738.1 1321.1,735.7 1321.2,736.0 1321.3,733.6 1321.3,732.5 1321.4,731.5 1321.5,730.4 1321.6,730.0 1323.2,729.4 1323.5,729.9 1323.8,732.3 1324.1,733.4 1324.3,733.9 1325.4,733.2 1326.6,733.9 1326.6,735.6 1326.7,736.6 1326.7,737.6 1326.8,737.3 1326.8,738.4 1326.9,739.4 1327.0,741.7 1327.0,742.7 1327.1,743.7 1327.1,744.8 1327.2,744.5 1327.3,746.8 1327.3,746.5 1327.4,747.6 1327.4,749.9 1327.5,749.6 1327.5,751.9 1327.6,751.7 1327.7,753.3 1328.8,754.0 1329.9,753.3 1329.9,751.7 1329.9,750.7 1330.0,751.0 1330.0,748.7 1330.0,749.0 1330.1,748.0 1330.1,747.0 1330.1,746.0 1330.1,745.0 1330.2,742.7 1330.2,741.7 1330.2,742.0 1330.2,741.0 1330.3,738.7 1330.3,739.0 1330.3,738.0 1330.4,735.7 1330.4,734.7 1330.4,733.7 1330.4,733.3 1331.2,734.7 1331.9,734.2 1332.7,735.6 1332.8,735.2 1332.9,732.9 1333.0,731.9 1333.1,732.2 1333.2,729.9 1333.3,728.9 1333.4,729.2 1333.6,726.9 1333.7,727.2 1333.8,725.6 1334.6,723.8 1335.4,723.3 1335.5,721.7 1335.5,722.0 1335.6,719.7 1335.6,719.9 1335.7,718.9 1335.7,717.9 1335.8,715.6 1335.8,714.6 1335.9,713.6 1335.9,712.6 1336.0,712.2 1336.8,711.8 1337.7,710.0 1337.8,711.7 1337.8,711.4 1337.9,713.7 1338.0,714.8 1338.1,715.8 1338.2,716.8 1338.3,717.8 1338.4,718.9 1338.4,719.9 1338.5,720.9 1338.6,721.9 1338.7,723.0 1338.8,723.3 1338.8,722.9 1338.9,720.6 1339.0,719.5 1339.0,718.5 1339.1,717.5 1339.2,717.7 1339.2,715.4 1339.3,715.6 1339.4,714.6 1339.4,713.5 1339.5,712.5 1339.6,710.1 1339.6,710.4 1339.7,709.3 1339.8,708.3 1339.8,707.3 1339.9,705.6 1340.0,707.3 1340.2,707.0 1340.3,709.4 1340.4,709.2 1340.6,710.2 1340.7,712.6 1340.9,712.4 1341.0,714.7 1341.1,714.5 1341.3,715.6 1341.4,717.9 1341.6,718.3 1341.7,716.6 1341.8,716.9 1341.9,715.8 1342.0,713.5 1342.1,712.4 1342.2,711.4 1342.3,711.6 1342.4,709.2 1342.6,709.5 1342.7,707.8 1342.9,706.2 1343.2,706.5 1343.5,704.2 1343.8,703.9 1343.9,702.2 1344.0,701.1 1344.0,700.1 1344.1,699.0 1344.2,699.3 1344.3,698.2 1344.4,695.9 1344.5,694.8 1344.6,695.0 1344.7,693.3 1344.8,693.8 1344.9,694.9 1345.0,697.3 1345.1,697.1 1345.2,698.2 1345.3,700.6 1345.4,701.1 1346.0,702.6 1346.6,702.8 1346.7,703.2 1346.8,705.5 1346.9,705.3 1347.0,706.3 1347.2,708.7 1347.3,709.7 1347.4,710.8 1347.5,711.8 1347.7,712.2 1347.9,711.8 1348.0,710.6 1348.2,708.2 1348.4,708.4 1348.6,706.0 1348.8,705.6 1348.9,705.9 1349.1,706.9 1349.3,707.9 1349.4,710.2 1349.6,709.9 1349.8,712.2 1349.9,711.9 1350.1,714.2 1350.3,713.9 1350.4,715.6 1350.5,713.8 1350.6,714.0 1350.7,711.6 1350.8,711.8 1350.8,709.4 1350.9,709.5 1351.0,707.8 1351.1,708.2 1351.2,710.5 1351.3,711.6 1351.4,712.7 1351.5,712.4 1351.6,714.8 1351.7,715.9 1351.8,715.6 1351.9,718.0 1352.0,719.0 1352.1,719.4 1352.3,719.1 1352.4,716.8 1352.6,717.1 1352.7,716.1 1352.9,713.7 1353.0,714.0 1353.2,713.0 1353.3,712.0 1353.5,709.7 1353.6,710.0 1353.8,708.3 1354.1,710.0 1354.4,711.0 1354.8,710.7 1355.1,713.0 1355.4,713.3 1356.9,712.2 1357.0,713.9 1357.2,714.9 1357.3,714.6 1357.4,716.9 1357.6,717.9 1357.7,717.6 1357.8,719.9 1358.0,720.9 1358.1,721.9 1358.2,722.2 1359.1,722.7 1359.9,724.4 1360.0,724.9 1360.0,727.3 1360.1,727.1 1360.2,728.2 1360.2,729.4 1360.3,731.8 1360.4,732.9 1360.4,733.3 1360.6,732.9 1360.8,730.5 1360.9,730.6 1361.1,728.2 1361.2,728.4 1361.4,726.0 1361.6,725.6 1361.5,725.9 1361.5,728.2 1361.5,727.9 1361.5,728.9 1361.5,731.2 1361.5,732.2 1361.5,733.2 1361.5,734.2 1361.5,733.9 1361.4,736.2 1361.4,737.2 1361.4,738.2 1361.4,737.9 1361.4,740.2 1361.4,739.9 1361.4,742.2 1361.4,741.9 1361.4,744.2 1361.3,743.9 1361.3,745.6 1361.6,747.3 1361.9,748.4 1362.1,748.2 1362.4,750.6 1362.7,751.1 1363.0,749.4 1363.4,748.2 1363.8,747.8 1364.0,748.1 1364.1,750.4 1364.3,751.4 1364.5,751.1 1364.7,753.4 1364.9,754.4 1365.1,754.0 1365.3,755.0 1365.4,756.7 1365.5,756.3 1365.5,755.2 1365.5,754.2 1365.5,753.1 1365.5,750.8 1365.6,749.8 1365.6,750.0 1365.6,749.0 1365.6,746.6 1365.7,745.6 1365.7,744.6 1365.7,744.8 1365.7,743.8 1365.7,741.4 1365.8,741.7 1365.8,740.0 1365.9,741.7 1366.0,742.7 1366.0,742.5 1366.1,744.8 1366.2,745.8 1366.3,746.9 1366.4,747.9 1366.5,748.9 1366.6,748.7 1366.7,749.7 1366.8,752.1 1366.8,753.1 1366.9,754.1 1367.0,753.9 1367.1,755.6 1367.2,753.9 1367.3,754.2 1367.4,751.9 1367.5,750.9 1367.6,751.2 1367.7,748.8 1367.8,747.8 1367.9,746.8 1368.0,747.1 1368.1,744.8 1368.2,744.4 1368.3,746.1 1368.4,747.1 1368.4,746.8 1368.5,747.8 1368.6,748.8 1368.6,749.8 1368.7,752.1 1368.8,753.1 1368.8,754.2 1368.9,755.2 1369.0,754.9 1369.1,757.2 1369.1,756.9 1369.2,759.2 1369.3,760.2 1369.3,760.6 1369.4,758.9 1369.5,757.9 1369.5,756.9 1369.6,757.2 1369.7,756.2 1369.8,755.2 1369.8,752.9 1369.9,751.9 1370.0,750.8 1370.0,751.1 1370.1,750.1 1370.2,747.8 1370.2,746.8 1370.3,747.1 1370.4,746.1 1370.4,744.4 1370.8,746.2 1371.2,747.3 1371.6,747.8 1371.6,746.1 1371.7,746.4 1371.7,744.1 1371.8,744.4 1371.8,743.4 1371.9,742.4 1371.9,741.4 1372.0,740.4 1372.1,739.4 1372.1,737.8 1372.2,737.4 1372.3,736.4 1372.4,734.1 1372.6,734.4 1372.7,733.4 1372.8,731.1 1372.9,730.1 1373.0,730.4 1373.1,728.1 1373.2,727.8 1374.7,726.7 1374.7,728.3 1374.8,729.3 1374.9,729.0 1375.0,730.0 1375.1,732.3 1375.1,732.0 1375.2,733.0 1375.3,734.0 1375.4,736.3 1375.4,736.7 1375.9,736.2 1376.3,735.1 1376.7,732.7 1377.1,732.2 1377.2,733.9 1377.2,734.9 1377.3,734.6 1377.3,736.9 1377.4,737.9 1377.4,738.9 1377.5,739.9 1377.6,739.6 1377.6,741.9 1377.7,742.2 1378.5,744.0 1379.3,744.4 1379.4,742.7 1379.5,741.7 1379.6,740.6 1379.7,740.9 1379.8,738.5 1379.9,737.5 1380.0,736.4 1380.0,736.6 1380.1,735.6 1380.2,733.9 1380.4,735.6 1380.5,735.3 1380.7,736.4 1380.8,737.4 1381.0,738.5 1381.1,739.5 1381.3,741.9 1381.4,742.9 1381.6,743.3 1381.6,745.0 1381.6,744.8 1381.7,747.1 1381.7,746.9 1381.7,749.2 1381.8,748.9 1381.8,750.0 1381.8,751.0 1381.9,753.4 1381.9,754.4 1381.9,755.4 1382.0,756.5 1382.0,756.2 1382.0,757.3 1382.1,758.3 1382.1,760.0 1382.7,761.6 1383.2,762.6 1383.8,762.3 1384.3,763.9 1385.0,762.1 1385.6,762.3 1386.2,760.6 1386.2,758.9 1386.2,757.9 1386.3,758.2 1386.3,755.9 1386.3,756.2 1386.3,753.9 1386.3,754.1 1386.3,753.1 1386.3,752.1 1386.3,751.1 1386.4,748.8 1386.4,749.1 1386.4,748.1 1386.4,745.8 1386.4,744.8 1386.4,743.8 1386.4,744.1 1386.4,743.1 1386.5,740.7 1386.5,739.7 1386.5,738.7 1386.5,739.0 1386.5,738.0 1386.5,737.0 1386.5,734.7 1386.5,735.0 1386.6,733.3 1386.8,735.1 1387.1,734.9 1387.4,736.0 1387.7,737.1 1387.9,738.2 1388.2,740.0 1388.5,739.5 1388.7,738.4 1388.9,736.0 1389.2,736.2 1389.4,733.8 1389.7,734.0 1389.9,732.2 1390.4,730.2 1391.0,729.4 1391.1,727.7 1391.2,726.7 1391.3,726.9 1391.4,725.9 1391.5,724.8 1391.6,722.4 1391.7,721.4 1391.8,721.6 1391.9,719.2 1392.0,718.2 1392.1,717.8 1393.8,717.8 1393.8,719.4 1393.9,720.4 1393.9,721.4 1394.0,721.1 1394.1,723.4 1394.1,723.1 1394.2,724.1 1394.2,725.1 1394.3,727.4 1394.3,727.8 1394.5,727.3 1394.7,724.9 1394.9,723.8 1395.1,724.0 1395.3,721.6 1395.4,721.1 1395.7,721.6 1396.0,722.7 1396.3,725.1 1396.6,726.2 1396.8,726.0 1397.1,727.8 1397.2,729.5 1397.2,730.6 1397.3,731.8 1397.4,731.6 1397.5,732.7 1397.5,733.8 1397.6,736.2 1397.7,736.7 1397.8,736.2 1398.0,733.8 1398.1,732.7 1398.3,731.6 1398.5,730.5 1398.6,729.4 1398.8,728.9 1400.4,728.9 1400.5,730.5 1400.6,730.3 1400.7,731.3 1400.8,732.3 1400.9,734.6 1401.1,735.6 1401.2,736.6 1401.3,737.6 1401.4,737.3 1401.5,738.3 1401.6,740.0 1401.6,739.6 1401.7,738.6 1401.8,736.2 1401.8,736.5 1401.9,735.4 1401.9,734.4 1402.0,732.0 1402.1,731.0 1402.1,731.2 1402.2,730.2 1402.3,727.8 1402.3,728.1 1402.4,727.1 1402.5,726.0 1402.5,723.7 1402.6,722.6 1402.7,722.2 1402.8,723.9 1403.0,723.6 1403.2,724.6 1403.3,725.6 1403.5,727.9 1403.7,728.9 1403.8,729.9 1404.0,730.9 1404.2,731.9 1404.3,732.2 1404.4,730.5 1404.4,729.5 1404.5,728.5 1404.5,728.8 1404.5,727.7 1404.6,725.4 1404.6,725.7 1404.7,724.7 1404.7,722.3 1404.8,722.6 1404.8,721.6 1404.8,720.6 1404.9,718.9 1405.7,717.1 1406.6,716.7 1406.9,716.2 1407.3,715.1 1407.7,713.3 1407.9,713.8 1408.0,716.2 1408.2,716.0 1408.4,718.4 1408.6,719.5 1408.8,720.0 1409.6,721.2 1410.4,721.1 1410.5,722.8 1410.5,722.5 1410.6,724.9 1410.6,725.9 1410.6,726.9 1410.7,726.7 1410.7,729.0 1410.8,728.7 1410.8,731.0 1410.8,732.1 1410.9,731.8 1410.9,732.8 1411.0,733.9 1411.0,735.6 1411.3,735.1 1411.6,734.0 1411.8,732.9 1412.1,730.5 1412.4,729.4 1412.7,728.9 1412.8,729.3 1412.9,731.6 1413.0,732.7 1413.2,732.4 1413.3,733.5 1413.4,735.8 1413.5,736.9 1413.7,736.6 1413.8,738.3 1414.1,736.7 1414.4,735.7 1414.8,734.7 1415.1,733.7 1415.4,733.3 1415.6,731.6 1415.8,730.5 1416.0,729.4 1416.2,729.5 1416.4,727.1 1416.6,726.7 1417.7,725.6 1417.7,725.2 1417.8,724.2 1417.8,723.1 1417.8,720.8 1417.9,721.1 1417.9,718.8 1418.0,719.0 1418.0,718.0 1418.1,715.7 1418.1,714.6 1418.1,714.9 1418.2,712.6 1418.2,712.2 1418.8,711.8 1419.3,710.6 1419.9,708.9 1420.4,708.4 1421.0,706.7 1421.6,706.4 1422.1,704.2 1422.7,703.9 1423.0,702.1 1423.3,702.3 1423.7,701.2 1424.0,698.8 1424.3,698.3 1424.6,700.0 1424.8,701.0 1425.1,700.7 1425.3,703.1 1425.5,704.1 1425.8,704.4 1426.2,704.0 1426.7,702.2 1426.7,704.0 1426.8,703.8 1426.9,706.2 1427.0,706.0 1427.1,708.4 1427.1,708.2 1427.2,710.0 1427.5,709.5 1427.8,707.1 1428.1,707.3 1428.3,706.2 1428.6,705.1 1428.9,703.3 1429.2,701.6 1429.4,701.8 1429.7,699.4 1430.0,698.9 1431.7,698.3 1432.0,700.1 1432.3,699.9 1432.7,702.3 1433.0,703.4 1433.3,703.9 1433.9,703.6 1434.4,702.7 1435.0,701.1 1436.1,702.2 1436.1,701.8 1436.1,699.4 1436.1,699.5 1436.1,697.1 1436.1,697.3 1436.1,694.9 1436.1,695.1 1436.1,693.3 1436.3,691.6 1436.4,690.6 1436.6,690.8 1436.8,688.5 1436.9,687.4 1437.1,686.4 1437.3,685.3 1437.4,684.2 1437.6,684.5 1437.8,682.8 1438.0,683.2 1438.3,685.5 1438.5,686.5 1438.7,687.6 1439.0,687.3 1439.2,689.6 1439.4,690.0 1439.7,688.2 1439.9,687.1 1440.1,687.3 1440.3,686.2 1440.6,684.4 1440.8,684.8 1441.1,685.8 1441.4,686.9 1441.7,689.2 1441.9,690.2 1442.2,690.6 1442.6,690.2 1442.9,689.2 1443.2,688.2 1443.6,685.9 1443.9,685.6 1444.6,685.3 1445.4,683.1 1446.1,682.8 1446.3,684.4 1446.6,685.4 1446.8,686.4 1447.0,687.4 1447.2,687.8 1447.4,688.2 1447.6,689.4 1447.8,691.8 1448.0,691.6 1448.1,694.0 1448.3,694.4 1448.6,696.2 1448.8,696.0 1449.0,698.4 1449.3,698.2 1449.5,699.4 1449.8,700.5 1450.0,702.2 1450.2,700.6 1450.4,700.9 1450.6,699.9 1450.7,698.9 1450.9,696.6 1451.1,695.6 1451.3,696.0 1451.5,693.7 1451.7,693.3 1451.7,695.0 1451.8,694.8 1451.8,697.1 1451.9,696.8 1451.9,697.9 1452.0,698.9 1452.0,699.9 1452.1,701.0 1452.1,702.0 1452.2,704.3 1452.2,705.4 1452.3,706.4 1452.3,707.4 1452.4,707.2 1452.4,709.5 1452.5,710.5 1452.5,711.6 1452.6,712.6 1452.6,713.7 1452.7,713.4 1452.7,714.4 1452.8,716.1 1453.3,715.4 1453.9,713.3 1454.0,713.0 1454.1,710.6 1454.2,710.9 1454.3,708.6 1454.4,707.6 1454.4,707.9 1454.5,706.9 1454.6,704.5 1454.7,703.5 1454.8,702.5 1454.9,701.5 1455.0,701.1 1455.2,700.6 1455.4,698.2 1455.6,697.1 1455.7,697.3 1455.9,696.2 1456.1,694.4 1456.3,694.0 1456.5,691.6 1456.7,691.8 1456.9,690.6 1457.0,689.5 1457.2,687.8 1458.1,687.6 1458.9,686.1 1459.0,687.8 1459.1,688.9 1459.3,689.9 1459.4,691.0 1459.5,692.0 1459.6,693.1 1459.8,692.8 1459.9,693.9 1460.0,695.6 1460.4,697.2 1460.8,698.1 1461.2,697.8 1461.7,699.4 1461.7,697.7 1461.8,696.7 1461.9,695.6 1461.9,694.6 1462.0,694.8 1462.0,693.8 1462.1,691.4 1462.2,691.7 1462.2,690.0 1462.5,689.5 1462.7,687.1 1462.9,687.3 1463.2,686.2 1463.4,683.8 1463.7,684.0 1463.9,682.2 1464.1,681.8 1464.3,679.4 1464.4,678.2 1464.6,678.4 1464.8,676.0 1465.0,675.6 1465.1,673.9 1465.2,674.2 1465.3,671.9 1465.4,670.9 1465.6,671.2 1465.7,670.2 1465.8,669.2 1465.9,666.9 1466.0,667.2 1466.1,665.6 1466.2,665.2 1466.4,664.2 1466.5,661.9 1466.6,660.9 1466.8,661.2 1466.9,658.8 1467.0,657.8 1467.2,656.8 1467.3,657.1 1467.4,654.8 1467.6,654.4 1467.7,654.8 1467.8,655.8 1467.9,658.1 1468.0,659.2 1468.1,658.9 1468.2,659.9 1468.3,660.9 1468.4,661.9 1468.6,664.3 1468.7,665.3 1468.8,665.0 1468.9,666.7 1469.1,666.2 1469.4,665.1 1469.6,664.0 1469.8,662.9 1470.1,661.8 1470.3,659.4 1470.6,658.9 1470.6,659.3 1470.6,661.6 1470.6,662.6 1470.6,662.4 1470.6,664.7 1470.6,664.4 1470.6,665.4 1470.7,666.5 1470.7,668.8 1470.7,668.5 1470.7,669.6 1470.7,671.9 1470.7,671.6 1470.7,672.6 1470.7,675.0 1470.8,674.7 1470.8,677.0 1470.8,676.8 1470.8,679.1 1470.8,678.8 1470.8,679.8 1470.8,680.9 1470.8,681.9 1470.9,682.9 1470.9,684.0 1470.9,685.0 1470.9,686.7 1471.3,687.1 1471.8,688.2 1472.2,690.0 1472.3,689.6 1472.3,687.3 1472.3,686.2 1472.4,686.5 1472.4,684.1 1472.4,684.4 1472.5,682.0 1472.5,682.3 1472.5,679.9 1472.5,678.9 1472.6,679.1 1472.6,676.8 1472.6,675.8 1472.7,674.7 1472.7,675.0 1472.7,672.6 1472.8,672.2 1472.9,673.9 1473.1,673.6 1473.2,674.6 1473.4,675.6 1473.5,677.9 1473.7,678.9 1473.8,679.9 1474.0,679.7 1474.1,680.7 1474.3,681.7 1474.4,683.3 1474.5,685.0 1474.5,684.8 1474.5,685.8 1474.6,686.9 1474.6,689.2 1474.6,690.3 1474.7,691.3 1474.7,691.1 1474.7,693.4 1474.8,693.2 1474.8,694.2 1474.8,696.6 1474.8,696.3 1474.9,698.7 1474.9,699.7 1474.9,700.8 1475.0,701.8 1475.0,702.2 1475.2,700.6 1475.3,699.6 1475.5,699.9 1475.7,698.9 1475.8,696.6 1476.0,695.6 1476.2,695.9 1476.3,693.6 1476.5,692.6 1476.7,692.2 1476.9,694.0 1477.1,695.1 1477.4,694.9 1477.6,696.0 1477.9,697.1 1478.1,698.2 1478.3,700.0 1478.4,701.7 1478.5,701.4 1478.6,702.4 1478.7,704.7 1478.8,705.7 1478.9,706.7 1479.0,707.7 1479.1,707.4 1479.2,708.4 1479.3,709.5 1479.4,711.1 1480.3,711.3 1481.1,712.8 1481.2,711.1 1481.2,711.3 1481.3,709.0 1481.3,707.9 1481.4,706.9 1481.4,707.1 1481.5,704.7 1481.6,705.0 1481.6,703.9 1481.7,702.2 1481.8,701.8 1482.0,699.5 1482.1,699.8 1482.3,698.7 1482.5,696.4 1482.6,695.4 1482.8,695.0 1484.4,695.6 1484.5,697.2 1484.6,696.9 1484.7,699.2 1484.8,698.9 1484.9,700.0 1485.1,701.0 1485.2,702.0 1485.3,703.0 1485.4,705.3 1485.5,705.0 1485.6,706.7 1486.4,706.5 1487.2,705.0 1487.9,703.2 1488.7,702.8 1488.7,701.1 1488.7,700.0 1488.7,700.2 1488.7,697.9 1488.8,698.1 1488.8,695.8 1488.8,694.7 1488.8,694.9 1488.8,693.9 1488.9,691.5 1488.9,691.1 1489.1,689.4 1489.2,688.4 1489.4,687.3 1489.6,687.6 1489.7,686.6 1489.9,684.2 1490.1,684.5 1490.2,682.8 1490.6,683.1 1490.9,685.4 1491.3,686.3 1491.7,686.7 1491.9,687.0 1492.0,688.0 1492.2,690.3 1492.4,691.3 1492.6,692.3 1492.8,691.9 1493.0,692.9 1493.1,693.9 1493.3,695.6 1494.2,695.5 1495.0,696.7 1495.1,695.0 1495.1,693.9 1495.2,692.9 1495.3,691.8 1495.3,690.8 1495.4,691.0 1495.5,690.0 1495.5,689.0 1495.6,687.9 1495.7,686.9 1495.7,685.8 1495.8,683.5 1495.8,682.4 1495.9,681.4 1496.0,681.6 1496.0,680.6 1496.1,678.9 1496.8,678.4 1497.6,676.7 1498.0,677.1 1498.4,678.2 1498.9,680.0 1498.9,681.7 1498.9,682.7 1498.9,682.5 1498.9,684.8 1499.0,685.9 1499.0,686.9 1499.0,686.7 1499.0,687.7 1499.0,690.1 1499.0,689.8 1499.0,690.9 1499.0,693.2 1499.1,692.9 1499.1,694.0 1499.1,696.3 1499.1,696.1 1499.1,697.8 1499.6,699.4 1500.1,700.3 1500.6,700.6 1500.6,700.9 1500.6,703.2 1500.6,704.2 1500.6,705.2 1500.6,706.2 1500.6,707.2 1500.6,708.2 1500.6,709.2 1500.6,710.2 1500.6,709.9 1500.6,710.9 1500.6,711.9 1500.6,712.9 1500.6,713.9 1500.6,716.2 1500.6,715.9 1500.6,716.9 1500.6,717.9 1500.6,720.2 1500.6,720.6 1501.0,718.9 1501.4,719.3 1501.8,718.3 1502.2,716.7 1502.3,715.0 1502.4,715.3 1502.5,712.9 1502.6,711.9 1502.6,710.9 1502.7,709.9 1502.8,710.1 1502.9,707.8 1503.0,708.1 1503.1,707.1 1503.2,704.7 1503.2,705.0 1503.3,703.3 1503.8,705.1 1504.2,706.2 1504.6,707.3 1505.0,707.8 1505.0,709.5 1505.1,710.5 1505.1,710.2 1505.2,711.3 1505.2,713.6 1505.2,713.3 1505.3,714.4 1505.3,715.4 1505.4,717.7 1505.4,717.4 1505.4,718.5 1505.5,719.5 1505.5,720.5 1505.6,722.2 1506.4,722.7 1507.2,724.4 1507.2,724.8 1507.1,725.8 1507.1,726.8 1507.0,729.1 1507.0,728.8 1506.9,731.2 1506.9,730.9 1506.8,731.9 1506.8,734.2 1506.7,733.9 1506.7,735.6 1506.9,737.2 1507.0,736.9 1507.2,737.9 1507.4,740.2 1507.6,741.1 1507.8,742.1 1508.0,741.8 1508.1,744.1 1508.3,744.4 1508.3,744.8 1508.3,745.8 1508.2,748.1 1508.2,747.8 1508.1,750.1 1508.1,751.1 1508.1,752.1 1508.0,753.1 1508.0,754.1 1508.0,753.8 1507.9,756.1 1507.9,757.1 1507.9,756.8 1507.8,757.8 1507.8,759.4 1508.3,757.8 1508.8,756.9 1509.3,755.9 1509.8,755.6 1509.8,755.2 1509.8,752.8 1509.8,751.8 1509.8,752.1 1509.9,749.7 1509.9,750.0 1509.9,747.7 1509.9,748.0 1509.9,745.6 1509.9,744.6 1510.0,743.6 1510.0,743.8 1510.0,742.8 1510.0,741.1 1510.4,741.6 1510.9,744.0 1511.3,744.4 1511.3,742.8 1511.3,743.1 1511.3,740.7 1511.3,739.7 1511.2,740.0 1511.2,739.0 1511.2,738.0 1511.2,736.9 1511.2,734.6 1511.1,733.6 1511.1,732.6 1511.1,732.2 1511.5,734.0 1511.9,735.1 1512.4,734.9 1512.8,736.7 1512.8,735.0 1512.7,735.3 1512.7,732.9 1512.7,733.2 1512.7,730.9 1512.6,731.1 1512.6,730.1 1512.6,729.1 1512.6,726.7 1512.5,725.7 1512.5,726.0 1512.5,723.6 1512.5,723.9 1512.4,722.2 1512.7,720.5 1513.0,719.4 1513.2,718.2 1513.5,717.1 1513.7,717.3 1514.0,716.2 1514.2,714.4 1514.4,716.2 1514.6,717.3 1514.8,717.1 1515.0,719.5 1515.2,719.4 1515.4,720.5 1515.6,722.2 1516.4,722.1 1517.2,723.3 1518.9,722.8 1518.8,722.4 1518.8,720.0 1518.8,718.9 1518.7,719.2 1518.7,716.8 1518.6,717.0 1518.6,715.9 1518.5,713.6 1518.5,712.5 1518.5,712.7 1518.4,711.7 1518.4,709.3 1518.3,708.9 1519.2,707.1 1520.0,706.7 1520.2,705.0 1520.3,705.3 1520.5,704.3 1520.6,703.3 1520.8,701.0 1520.9,701.3 1521.1,700.2 1521.2,697.9 1521.4,696.9 1521.5,697.2 1521.7,695.6 1522.4,693.8 1523.1,693.3 1523.2,695.1 1523.3,696.2 1523.4,696.0 1523.5,697.1 1523.6,698.2 1523.7,700.6 1523.8,701.8 1523.9,702.2 1524.1,702.7 1524.3,705.1 1524.4,704.9 1524.6,706.0 1524.8,708.4 1525.0,708.9 1525.1,709.3 1525.1,711.6 1525.2,711.4 1525.3,712.4 1525.3,713.4 1525.4,714.5 1525.5,715.5 1525.6,716.6 1525.6,718.9 1525.7,720.0 1525.8,721.0 1525.8,720.7 1525.9,723.1 1526.0,722.8 1526.0,725.2 1526.1,725.6 1526.4,727.3 1526.6,728.4 1526.8,729.5 1527.1,729.4 1527.3,730.5 1527.6,732.2 1527.7,730.5 1527.8,730.6 1527.9,728.2 1528.0,728.4 1528.1,727.3 1528.2,724.9 1528.3,724.4 1528.6,722.7 1528.8,722.9 1529.0,720.5 1529.3,720.6 1529.5,719.5 1529.8,718.4 1530.0,716.7 1530.6,717.4 1531.1,719.4 1531.2,717.8 1531.4,716.7 1531.5,715.7 1531.7,715.9 1531.8,714.9 1531.9,713.8 1532.1,711.5 1532.2,711.1 1533.1,712.9 1533.9,713.3 1533.9,715.0 1533.9,714.8 1533.9,717.1 1533.9,716.9 1533.9,719.2 1533.9,718.9 1533.9,721.3 1533.9,722.3 1533.9,723.4 1533.9,724.4 1533.9,725.4 1533.9,726.5 1533.9,727.5 1533.9,727.3 1533.9,729.6 1533.9,730.0 1534.1,731.7 1534.3,732.7 1534.5,732.5 1534.7,733.5 1534.9,734.6 1535.1,736.9 1535.3,737.9 1535.6,738.3 1535.6,737.9 1535.7,735.5 1535.8,734.5 1535.9,734.7 1536.0,732.3 1536.1,732.6 1536.2,730.2 1536.2,730.4 1536.3,728.1 1536.4,727.0 1536.5,725.9 1536.6,726.2 1536.7,724.4 1536.9,724.9 1537.2,726.0 1537.5,727.1 1537.8,728.9 1537.8,727.2 1537.9,726.2 1537.9,725.1 1537.9,725.4 1538.0,724.4 1538.0,722.0 1538.0,721.0 1538.1,719.9 1538.1,720.2 1538.1,719.2 1538.2,718.1 1538.2,715.8 1538.3,716.1 1538.3,713.7 1538.3,713.3 1540.0,713.3 1540.1,715.0 1540.1,714.7 1540.2,715.8 1540.3,718.1 1540.3,719.1 1540.4,720.2 1540.4,721.2 1540.5,720.9 1540.6,723.3 1540.6,723.0 1540.7,725.3 1540.8,726.4 1540.8,726.1 1540.9,727.8 1541.1,726.0 1541.2,726.2 1541.4,725.1 1541.6,722.7 1541.7,721.6 1541.9,720.5 1542.1,720.6 1542.2,718.9 1542.3,717.1 1542.4,717.3 1542.5,714.9 1542.5,713.8 1542.6,712.7 1542.7,712.9 1542.8,711.1 1543.0,710.8 1543.1,708.5 1543.3,708.8 1543.5,706.5 1543.7,706.8 1543.9,704.5 1544.1,704.8 1544.3,703.9 1544.4,702.2 1544.4,701.8 1544.3,700.6 1544.3,698.2 1544.2,697.8 1545.2,697.6 1546.1,696.1 1546.3,697.8 1546.4,698.9 1546.6,698.6 1546.8,701.0 1546.9,702.0 1547.1,703.1 1547.3,704.1 1547.4,705.2 1547.6,706.3 1547.8,706.7 1547.9,706.3 1548.0,704.0 1548.1,704.3 1548.2,703.3 1548.3,701.0 1548.4,701.3 1548.6,700.3 1548.7,698.0 1548.8,698.3 1548.9,696.7 1549.4,697.1 1550.0,698.2 1550.6,700.0 1550.7,699.5 1550.8,697.1 1551.0,696.0 1551.1,696.2 1551.2,695.1 1551.4,692.7 1551.5,691.6 1551.7,691.1 1553.3,691.1 1553.6,692.9 1553.8,692.7 1554.0,695.1 1554.3,696.2 1554.5,697.3 1554.8,697.1 1555.0,698.9 1555.1,698.5 1555.2,696.2 1555.3,695.2 1555.4,694.2 1555.5,693.2 1555.6,692.2 1555.7,691.2 1555.8,690.2 1555.9,689.1 1556.0,689.4 1556.1,687.8 1556.9,687.6 1557.8,686.1 1557.8,687.8 1557.8,688.8 1557.9,688.5 1557.9,689.6 1557.9,691.9 1557.9,691.6 1558.0,694.0 1558.0,695.0 1558.0,696.0 1558.1,697.0 1558.1,698.1 1558.1,699.1 1558.1,700.1 1558.2,701.1 1558.2,700.9 1558.2,701.9 1558.2,704.2 1558.3,704.0 1558.3,705.0 1558.3,706.7 1558.8,706.9 1559.3,709.2 1559.8,709.4 1559.6,711.1 1559.5,710.8 1559.3,711.8 1559.2,714.1 1559.1,715.1 1558.9,716.0 1558.8,715.7 1558.6,716.7 1558.5,717.7 1558.3,720.0 1558.2,719.7 1558.1,720.7 1557.9,723.0 1557.8,723.3 1557.8,721.7 1557.9,720.7 1557.9,719.6 1558.0,719.9 1558.0,717.6 1558.1,716.6 1558.1,716.9 1558.2,715.9 1558.2,714.8 1558.3,713.8 1558.3,711.5 1558.4,710.5 1558.4,710.8 1558.5,708.5 1558.5,708.1 1558.4,708.5 1558.4,709.5 1558.3,710.6 1558.2,711.6 1558.2,712.7 1558.1,713.7 1558.0,714.7 1558.0,715.8 1557.9,716.8 1557.8,719.1 1557.8,718.9 1557.7,719.9 1557.6,722.3 1557.6,723.3 1557.5,723.7 1557.5,724.1 1557.5,725.1 1557.6,727.4 1557.6,727.1 1557.6,728.1 1557.6,729.1 1557.6,731.4 1557.7,732.4 1557.7,733.4 1557.7,733.1 1557.7,735.4 1557.7,736.4 1557.8,736.1 1557.8,737.1 1557.8,738.1 1557.8,739.1 1557.8,740.1 1557.9,741.1 1557.9,743.4 1557.9,744.4 1557.9,745.4 1557.9,745.1 1558.0,746.1 1558.0,747.1 1558.0,749.4 1558.0,750.4 1558.0,751.4 1558.0,751.1 1558.1,753.4 1558.1,754.4 1558.1,754.1 1558.1,756.4 1558.1,756.1 1558.2,758.4 1558.2,758.1 1558.2,759.1 1558.2,761.4 1558.2,761.1 1558.3,763.4 1558.3,764.4 1558.3,764.1 1558.3,765.1 1558.3,766.1 1558.4,768.4 1558.4,769.4 1558.4,770.4 1558.4,770.1 1558.4,771.1 1558.5,772.1 1558.5,774.4 1558.5,774.8 1559.2,773.4 1560.0,773.3 1560.0,775.0 1560.0,776.0 1560.0,777.0 1560.0,776.7 1560.0,779.0 1560.0,780.0 1560.1,779.8 1560.1,780.8 1560.1,781.8 1560.1,782.8 1560.1,785.1 1560.1,784.8 1560.1,787.1 1560.1,786.9 1560.1,787.9 1560.1,790.2 1560.1,791.2 1560.1,790.9 1560.2,793.2 1560.2,792.9 1560.2,794.0 1560.2,795.0 1560.2,797.3 1560.2,797.0 1560.2,798.0 1560.2,799.0 1560.2,800.0 1560.2,801.0 1560.2,803.4 1560.2,803.1 1560.3,804.1 1560.3,806.4 1560.3,807.4 1560.3,807.1 1560.3,809.4 1560.3,809.2 1560.3,810.2 1560.3,812.5 1560.3,812.2 1560.3,813.2 1560.3,814.2 1560.3,815.2 1560.4,816.3 1560.4,818.6 1560.4,818.3 1560.4,819.3 1560.4,821.6 1560.4,821.3 1560.4,823.0 1560.4,821.3 1560.4,821.6 1560.5,820.6 1560.5,819.6 1560.5,818.6 1560.5,817.6 1560.5,815.3 1560.6,815.6 1560.6,814.6 1560.6,812.2 1560.6,811.2 1560.6,810.2 1560.7,810.5 1560.7,808.2 1560.7,807.2 1560.7,806.2 1560.7,806.5 1560.8,804.2 1560.8,804.4 1560.8,802.1 1560.8,802.4 1560.8,800.1 1560.9,800.4 1560.9,799.4 1560.9,798.4 1560.9,797.4 1560.9,796.4 1561.0,794.0 1561.0,793.0 1561.0,793.3 1561.0,791.0 1561.0,791.3 1561.1,789.0 1561.1,789.3 1561.1,788.3 1561.1,786.0 1561.1,786.2 1561.2,783.9 1561.2,784.2 1561.2,783.2 1561.2,782.2 1561.2,779.9 1561.3,780.2 1561.3,779.2 1561.3,776.9 1561.3,775.8 1561.3,776.1 1561.4,773.8 1561.4,774.1 1561.4,771.8 1561.4,770.8 1561.4,769.8 1561.5,768.8 1561.5,769.1 1561.5,767.4 1561.5,769.1 1561.6,770.1 1561.6,771.1 1561.6,772.1 1561.6,771.9 1561.7,774.2 1561.7,773.9 1561.7,774.9 1561.7,777.2 1561.8,777.0 1561.8,779.3 1561.8,779.0 1561.9,780.0 1561.9,781.1 1561.9,782.1 1561.9,784.4 1562.0,784.1 1562.0,786.4 1562.0,786.2 1562.0,788.5 1562.1,789.5 1562.1,790.5 1562.1,790.2 1562.1,792.6 1562.2,793.6 1562.2,793.3 1562.2,795.6 1562.3,795.4 1562.3,797.7 1562.3,798.7 1562.3,798.4 1562.4,799.4 1562.4,800.5 1562.4,802.8 1562.4,803.8 1562.5,803.5 1562.5,805.2 1562.5,803.5 1562.5,803.8 1562.6,802.8 1562.6,800.5 1562.6,799.4 1562.6,799.7 1562.7,798.7 1562.7,796.4 1562.7,795.3 1562.7,794.3 1562.8,794.6 1562.8,793.6 1562.8,791.2 1562.8,790.2 1562.9,789.2 1562.9,788.2 1562.9,788.4 1562.9,786.1 1563.0,786.4 1563.0,784.1 1563.0,783.7 1563.1,782.0 1563.1,781.0 1563.2,781.3 1563.2,780.3 1563.3,778.0 1563.4,778.2 1563.4,775.9 1563.5,774.9 1563.6,773.9 1563.6,772.9 1563.7,773.1 1563.8,770.8 1563.8,769.8 1563.9,768.8 1563.9,767.8 1564.0,767.4 1564.0,765.7 1564.0,766.0 1564.0,763.7 1564.0,764.0 1564.0,763.0 1564.0,762.0 1564.0,761.0 1564.0,758.7 1564.0,757.7 1564.0,758.0 1564.0,757.0 1564.0,756.0 1564.0,753.7 1563.9,754.0 1563.9,753.0 1563.9,752.0 1563.9,749.7 1563.9,750.0 1563.9,749.0 1563.9,746.7 1563.9,747.0 1563.9,746.0 1563.9,745.0 1563.9,744.0 1563.9,741.7 1563.9,740.7 1563.9,741.0 1563.9,740.0 1563.9,739.0 1563.9,736.7 1563.9,737.0 1563.9,734.7 1563.9,735.0 1563.9,732.7 1563.9,731.7 1563.9,730.7 1563.9,731.0 1563.9,730.0 1563.9,727.7 1563.8,726.7 1563.8,727.0 1563.8,724.7 1563.8,725.0 1563.8,722.7 1563.8,721.7 1563.8,720.7 1563.8,719.7 1563.8,720.0 1563.8,717.7 1563.8,718.0 1563.8,717.0 1563.8,714.7 1563.8,715.0 1563.8,714.0 1563.8,711.7 1563.8,712.0 1563.8,711.0 1563.8,708.7 1563.8,709.0 1563.8,706.7 1563.8,707.0 1563.8,704.7 1563.8,703.7 1563.8,704.0 1563.8,703.0 1563.8,700.7 1563.7,699.7 1563.7,698.7 1563.7,699.0 1563.7,696.7 1563.7,695.7 1563.7,694.7 1563.7,695.0 1563.7,692.7 1563.7,691.7 1563.7,692.0 1563.7,689.7 1563.7,690.0 1563.7,689.0 1563.7,686.7 1563.7,687.0 1563.7,686.0 1563.7,685.0 1563.7,684.0 1563.7,681.7 1563.7,680.7 1563.7,679.7 1563.7,678.7 1563.7,677.7 1563.7,678.0 1563.7,675.7 1563.7,676.0 1563.6,675.0 1563.6,672.7 1563.6,673.0 1563.6,672.0 1563.6,671.0 1563.6,670.0 1563.6,669.0 1563.6,668.0 1563.6,665.7 1563.6,664.7 1563.6,663.7 1563.6,662.7 1563.6,661.7 1563.6,662.0 1563.6,659.7 1563.6,658.7 1563.6,657.7 1563.6,658.0 1563.6,655.7 1563.6,654.7 1563.6,655.0 1563.6,654.0 1563.6,651.7 1563.6,652.0 1563.6,651.0 1563.6,648.7 1563.5,647.7 1563.5,646.7 1563.5,647.0 1563.5,644.7 1563.5,643.7 1563.5,644.0 1563.5,643.0 1563.5,642.0 1563.5,641.0 1563.5,640.0 1563.5,637.7 1563.5,636.7 1563.5,635.7 1563.5,634.7 1563.5,633.7 1563.5,632.7 1563.5,631.7 1563.5,632.0 1563.5,629.7 1563.5,630.0 1563.5,627.7 1563.5,626.7 1563.5,627.0 1563.5,624.7 1563.5,625.0 1563.5,622.7 1563.5,621.7 1563.4,622.0 1563.4,621.0 1563.4,620.0 1563.4,617.7 1563.4,618.0 1563.4,617.0 1563.4,614.7 1563.4,613.7 1563.4,612.7 1563.4,611.7 1563.4,610.7 1563.4,611.0 1563.4,608.7 1563.4,607.7 1563.4,608.0 1563.4,605.7 1563.4,604.7 1563.4,603.7 1563.4,604.0 1563.4,601.7 1563.4,600.7 1563.4,599.7 1563.4,598.7 1563.4,597.7 1563.4,598.0 1563.4,597.0 1563.3,596.0 1563.3,595.0 1563.3,594.0 1563.3,593.0 1563.3,592.0 1563.3,591.0 1563.3,588.7 1563.3,589.0 1563.3,588.0 1563.3,587.0 1563.3,586.0 1563.3,583.7 1563.3,584.0 1563.3,583.0 1563.3,580.7 1563.3,579.7 1563.3,578.7 1563.3,577.7 1563.3,578.0 1563.3,575.7 1563.3,574.7 1563.3,573.7 1563.3,572.7 1563.3,573.0 1563.3,570.7 1563.3,569.7 1563.2,570.0 1563.2,569.0 1563.2,566.7 1563.2,567.0 1563.2,566.0 1563.2,565.0 1563.2,564.0 1563.2,563.0 1563.2,562.0 1563.2,561.0 1563.2,558.7 1563.2,557.7 1563.2,558.0 1563.2,555.7 1563.2,556.0 1563.2,555.0 1563.2,552.7 1563.2,553.0 1563.2,552.0 1563.2,549.7 1563.2,550.0 1563.2,547.7 1563.2,546.7 1563.2,545.7 1563.2,546.0 1563.2,545.0 1563.2,542.7 1563.1,543.0 1563.1,542.0 1563.1,541.0 1563.1,540.0 1563.1,539.0 1563.1,538.0 1563.1,535.7 1563.1,534.7 1563.1,535.0 1563.1,532.7 1563.1,533.0 1563.1,530.7 1563.1,529.7 1563.1,530.0 1563.1,527.7 1563.1,526.7 1563.1,525.7 1563.1,524.7 1563.1,523.7 1563.1,522.7 1563.1,523.0 1563.1,520.7 1563.1,521.0 1563.1,518.7 1563.1,517.7 1563.1,516.7 1563.0,517.0 1563.0,514.7 1563.0,515.0 1563.0,514.0 1563.0,513.0 1563.0,512.0 1563.0,509.7 1563.0,508.7 1563.0,509.0 1563.0,506.7 1563.0,507.0 1563.0,506.0 1563.0,503.7 1563.0,503.3 1563.0,505.0 1563.0,504.7 1563.0,505.7 1563.0,506.7 1563.0,509.0 1563.1,508.7 1563.1,509.7 1563.1,512.0 1563.1,513.0 1563.1,512.7 1563.1,513.7 1563.1,516.0 1563.1,517.0 1563.1,516.7 1563.1,519.0 1563.2,518.7 1563.2,521.0 1563.2,522.0 1563.2,523.0 1563.2,522.7 1563.2,525.0 1563.2,526.0 1563.2,527.0 1563.2,528.0 1563.2,527.7 1563.2,528.7 1563.3,529.7 1563.3,530.7 1563.3,531.7 1563.3,532.7 1563.3,535.0 1563.3,534.7 1563.3,535.7 1563.3,536.7 1563.3,539.0 1563.3,540.0 1563.4,539.7 1563.4,540.7 1563.4,541.7 1563.4,542.7 1563.4,543.7 1563.4,546.0 1563.4,545.7 1563.4,546.7 1563.4,547.7 1563.4,548.7 1563.4,549.7 1563.5,552.0 1563.5,551.7 1563.5,554.0 1563.5,555.0 1563.5,556.0 1563.5,555.7 1563.5,556.7 1563.5,557.7 1563.5,558.7 1563.5,561.0 1563.6,562.0 1563.6,561.7 1563.6,562.7 1563.6,563.7 1563.6,564.7 1563.6,565.7 1563.6,566.7 1563.6,567.7 1563.6,570.0 1563.6,571.0 1563.6,572.0 1563.7,571.7 1563.7,573.3 1563.7,573.0 1563.7,570.7 1563.7,569.7 1563.7,568.7 1563.7,569.0 1563.7,566.7 1563.8,565.7 1563.8,564.7 1563.8,564.9 1563.8,562.6 1563.8,562.9 1563.8,561.9 1563.8,559.6 1563.8,558.6 1563.8,557.6 1563.9,556.6 1563.9,555.6 1563.9,555.9 1563.9,553.6 1563.9,552.6 1563.9,552.9 1563.9,551.9 1563.9,549.6 1564.0,549.9 1564.0,548.9 1564.0,546.6 1564.0,545.6 1564.0,545.9 1564.0,544.9 1564.0,543.9 1564.0,542.9 1564.1,540.6 1564.1,540.9 1564.1,538.5 1564.1,537.5 1564.1,536.5 1564.1,535.5 1564.1,535.8 1564.1,533.5 1564.1,533.8 1564.2,532.8 1564.2,530.5 1564.2,529.5 1564.2,529.8 1564.2,528.8 1564.2,526.5 1564.2,525.5 1564.2,524.5 1564.3,523.5 1564.3,523.8 1564.3,522.8 1564.3,520.5 1564.3,519.5 1564.3,519.8 1564.3,517.5 1564.3,517.8 1564.4,516.8 1564.4,515.8 1564.4,513.4 1564.4,512.4 1564.4,512.7 1564.4,511.7 1564.4,509.4 1564.4,508.4 1564.4,508.7 1564.5,507.7 1564.5,506.7 1564.5,504.4 1564.5,504.7 1564.5,503.7 1564.5,502.7 1564.5,501.7 1564.5,499.4 1564.6,499.7 1564.6,498.7 1564.6,496.4 1564.6,495.4 1564.6,495.7 1564.6,494.7 1564.6,493.7 1564.6,492.7 1564.7,491.7 1564.7,490.0 1564.7,491.7 1564.7,492.7 1564.7,493.7 1564.7,494.7 1564.7,494.4 1564.7,496.7 1564.7,496.4 1564.7,498.7 1564.7,499.7 1564.7,500.7 1564.7,501.7 1564.8,501.4 1564.8,502.4 1564.8,504.7 1564.8,505.8 1564.8,505.5 1564.8,506.5 1564.8,508.8 1564.8,508.5 1564.8,509.5 1564.8,510.5 1564.8,512.8 1564.8,513.8 1564.8,514.8 1564.8,514.5 1564.8,516.8 1564.9,516.5 1564.9,517.5 1564.9,519.9 1564.9,519.6 1564.9,520.6 1564.9,521.6 1564.9,523.9 1564.9,523.6 1564.9,524.6 1564.9,525.6 1564.9,526.6 1564.9,528.9 1564.9,528.6 1564.9,529.6 1565.0,530.6 1565.0,531.6 1565.0,533.9 1565.0,533.7 1565.0,536.0 1565.0,535.7 1565.0,536.7 1565.0,537.7 1565.0,538.7 1565.0,539.7 1565.0,542.0 1565.0,541.7 1565.0,544.0 1565.0,543.7 1565.0,544.7 1565.1,545.7 1565.1,546.7 1565.1,547.8 1565.1,548.8 1565.1,551.1 1565.1,552.1 1565.1,553.1 1565.1,552.8 1565.1,555.1 1565.1,554.8 1565.1,557.1 1565.1,556.8 1565.1,559.1 1565.1,558.8 1565.2,559.8 1565.2,560.8 1565.2,561.9 1565.2,562.9 1565.2,563.9 1565.2,566.2 1565.2,565.9 1565.2,566.9 1565.2,569.2 1565.2,570.2 1565.2,569.9 1565.2,570.9 1565.2,571.9 1565.2,572.9 1565.2,575.2 1565.3,576.2 1565.3,577.2 1565.3,577.0 1565.3,579.3 1565.3,579.0 1565.3,580.0 1565.3,582.3 1565.3,583.3 1565.3,584.3 1565.3,584.0 1565.3,586.3 1565.3,586.7 1565.3,586.3 1565.4,585.3 1565.4,583.0 1565.4,583.3 1565.4,581.0 1565.4,581.3 1565.4,579.0 1565.4,579.3 1565.4,577.0 1565.4,577.3 1565.5,575.0 1565.5,575.3 1565.5,574.3 1565.5,573.3 1565.5,571.0 1565.5,571.3 1565.5,569.0 1565.5,568.0 1565.5,566.9 1565.5,565.9 1565.6,566.2 1565.6,565.2 1565.6,562.9 1565.6,563.2 1565.6,560.9 1565.6,561.2 1565.6,560.2 1565.6,557.9 1565.6,558.2 1565.7,557.2 1565.7,556.2 1565.7,555.2 1565.7,554.2 1565.7,553.2 1565.7,552.2 1565.7,551.2 1565.7,548.9 1565.7,547.9 1565.8,548.2 1565.8,545.9 1565.8,544.9 1565.8,545.2 1565.8,542.9 1565.8,541.9 1565.8,540.9 1565.8,539.9 1565.8,538.8 1565.8,539.1 1565.9,538.1 1565.9,537.1 1565.9,534.8 1565.9,535.1 1565.9,532.8 1565.9,533.1 1565.9,532.1 1565.9,531.1 1565.9,530.1 1566.0,527.8 1566.0,528.1 1566.0,527.1 1566.0,526.1 1566.0,523.8 1566.0,522.8 1566.0,523.1 1566.0,520.8 1566.0,521.1 1566.1,518.8 1566.1,517.8 1566.1,518.1 1566.1,517.1 1566.1,514.8 1566.1,513.8 1566.1,512.8 1566.1,513.1 1566.1,512.0 1566.2,511.0 1566.2,510.0 1566.2,507.7 1566.2,508.0 1566.2,505.7 1566.2,506.0 1566.2,503.7 1566.2,502.7 1566.2,503.0 1566.2,500.7 1566.3,501.0 1566.3,500.0 1566.3,499.0 1566.3,498.0 1566.3,495.7 1566.3,496.0 1566.3,493.7 1566.3,493.3 1566.3,495.0 1566.4,496.0 1566.4,495.7 1566.4,496.7 1566.4,497.7 1566.4,498.7 1566.4,501.0 1566.4,500.7 1566.4,503.0 1566.4,502.7 1566.4,503.7 1566.5,504.7 1566.5,507.1 1566.5,508.1 1566.5,509.1 1566.5,510.1 1566.5,511.1 1566.5,512.1 1566.5,513.1 1566.5,514.1 1566.6,513.8 1566.6,516.1 1566.6,517.1 1566.6,518.1 1566.6,517.8 1566.6,520.1 1566.6,521.1 1566.6,522.1 1566.6,523.1 1566.7,522.8 1566.7,523.8 1566.7,524.9 1566.7,527.2 1566.7,526.9 1566.7,529.2 1566.7,530.2 1566.7,531.2 1566.7,532.2 1566.7,533.2 1566.8,532.9 1566.8,533.9 1566.8,534.9 1566.8,535.9 1566.8,538.2 1566.8,537.9 1566.8,540.2 1566.8,541.2 1566.8,542.2 1566.9,543.2 1566.9,542.9 1566.9,544.0 1566.9,546.3 1566.9,547.3 1566.9,547.0 1566.9,549.3 1566.9,550.3 1566.9,551.3 1566.9,551.0 1567.0,553.3 1567.0,553.0 1567.0,555.3 1567.0,555.0 1567.0,556.7 1567.0,556.3 1567.0,555.3 1567.0,554.3 1567.0,552.0 1567.1,551.0 1567.1,550.0 1567.1,550.3 1567.1,548.0 1567.1,547.0 1567.1,547.3 1567.1,546.3 1567.1,544.0 1567.2,543.0 1567.2,543.3 1567.2,541.0 1567.2,540.0 1567.2,540.3 1567.2,538.0 1567.2,537.0 1567.2,536.0 1567.2,536.3 1567.3,534.0 1567.3,534.3 1567.3,532.0 1567.3,531.0 1567.3,530.0 1567.3,530.3 1567.3,528.0 1567.3,527.0 1567.4,527.3 1567.4,525.0 1567.4,525.3 1567.4,524.3 1567.4,523.3 1567.4,522.3 1567.4,520.0 1567.4,520.3 1567.4,518.0 1567.5,518.3 1567.5,517.3 1567.5,516.3 1567.5,515.3 1567.5,514.3 1567.5,512.0 1567.5,511.0 1567.5,510.0 1567.6,509.0 1567.6,509.3 1567.6,507.0 1567.6,506.0 1567.6,506.3 1567.6,505.3 1567.6,503.0 1567.6,503.3 1567.6,501.0 1567.7,501.3 1567.7,499.0 1567.7,498.0 1567.7,497.0 1567.7,496.0 1567.7,495.0 1567.7,495.3 1567.7,493.0 1567.8,492.0 1567.8,492.3 1567.8,490.0 1567.8,489.0 1567.8,489.3 1567.8,487.0 1567.8,487.3 1567.8,485.0 1567.8,484.0 1567.9,483.0 1567.9,483.3 1567.9,481.0 1567.9,481.3 1567.9,479.0 1567.9,479.3 1567.9,477.0 1567.9,476.0 1568.0,475.0 1568.0,475.3 1568.0,473.0 1568.0,472.0 1568.0,471.7 1568.0,470.0 1568.1,470.3 1568.1,469.3 1568.1,468.3 1568.1,467.3 1568.2,466.2 1568.2,465.2 1568.2,464.2 1568.2,463.2 1568.3,462.2 1568.3,459.9 1568.3,458.9 1568.3,459.1 1568.4,458.1 1568.4,457.1 1568.4,454.8 1568.4,453.8 1568.5,454.1 1568.5,451.8 1568.5,452.1 1568.5,451.0 1568.6,450.0 1568.6,449.0 1568.6,448.0 1568.7,447.0 1568.7,446.0 1568.7,443.7 1568.7,444.0 1568.8,442.9 1568.8,441.9 1568.8,440.9 1568.8,439.9 1568.9,437.6 1568.9,436.6 1568.9,435.6 1568.9,435.8 1569.0,434.8 1569.0,433.8 1569.0,432.8 1569.0,431.8 1569.1,429.5 1569.1,428.5 1569.1,428.8 1569.2,427.7 1569.2,426.7 1569.2,425.7 1569.2,424.7 1569.3,423.7 1569.3,422.7 1569.3,420.4 1569.3,420.0 1569.4,420.4 1569.4,422.7 1569.4,423.7 1569.4,424.7 1569.4,424.4 1569.5,425.4 1569.5,426.5 1569.5,428.8 1569.5,429.8 1569.6,429.5 1569.6,430.5 1569.6,432.8 1569.6,433.8 1569.6,434.9 1569.7,435.9 1569.7,436.9 1569.7,437.9 1569.7,437.6 1569.7,438.6 1569.8,440.9 1569.8,442.0 1569.8,441.7 1569.8,444.0 1569.9,445.0 1569.9,444.7 1569.9,445.7 1569.9,448.0 1569.9,447.8 1570.0,450.1 1570.0,449.8 1570.0,452.1 1570.0,451.8 1570.1,452.8 1570.1,455.1 1570.1,456.2 1570.1,455.9 1570.1,456.9 1570.2,457.9 1570.2,458.9 1570.2,461.2 1570.2,460.9 1570.2,462.0 1570.3,463.0 1570.3,464.0 1570.3,465.0 1570.3,466.7 1570.7,467.1 1571.0,468.2 1571.3,470.0 1571.3,470.4 1571.3,472.7 1571.4,473.7 1571.4,473.4 1571.4,474.4 1571.4,475.4 1571.4,477.7 1571.4,478.7 1571.4,478.5 1571.4,480.8 1571.4,481.8 1571.4,482.8 1571.4,483.8 1571.4,484.8 1571.4,484.5 1571.4,486.8 1571.4,487.9 1571.4,487.6 1571.4,488.6 1571.5,490.9 1571.5,491.9 1571.5,491.6 1571.5,492.6 1571.5,494.9 1571.5,494.6 1571.5,497.0 1571.5,498.0 1571.5,497.7 1571.5,498.7 1571.5,499.7 1571.5,502.0 1571.5,503.0 1571.5,504.0 1571.5,505.1 1571.5,506.1 1571.5,505.8 1571.6,506.8 1571.6,507.8 1571.6,510.1 1571.6,509.8 1571.6,512.1 1571.6,513.1 1571.6,512.9 1571.6,513.9 1571.6,514.9 1571.6,517.2 1571.6,516.9 1571.6,517.9 1571.6,518.9 1571.6,519.9 1571.6,521.0 1571.6,522.0 1571.6,523.0 1571.7,525.3 1571.7,526.3 1571.7,526.7 1571.7,526.3 1571.8,524.0 1571.8,524.3 1571.8,523.3 1571.9,522.3 1571.9,521.3 1572.0,520.3 1572.0,518.0 1572.1,518.3 1572.1,517.3 1572.2,516.3 1572.2,514.0 1572.2,514.3 1572.3,513.3 1572.3,512.3 1572.4,510.0 1572.4,510.3 1572.5,509.3 1572.5,508.3 1572.6,507.3 1572.6,506.3 1572.6,505.3 1572.7,504.3 1572.7,503.3 1572.8,501.0 1572.8,501.3 1572.9,500.3 1572.9,499.3 1573.0,497.0 1573.0,496.7 1573.0,497.0 1573.0,499.3 1573.0,500.3 1573.1,501.3 1573.1,502.3 1573.1,502.0 1573.1,503.0 1573.1,504.0 1573.2,506.3 1573.2,507.3 1573.2,507.0 1573.2,508.0 1573.2,509.0 1573.2,511.3 1573.2,511.0 1573.3,512.0 1573.3,513.0 1573.3,514.0 1573.3,515.0 1573.3,516.0 1573.4,518.3 1573.4,518.0 1573.4,519.0 1573.4,521.3 1573.4,521.0 1573.4,522.0 1573.5,524.3 1573.5,524.0 1573.5,526.3 1573.5,527.3 1573.5,528.3 1573.5,528.0 1573.5,529.0 1573.6,530.0 1573.6,532.3 1573.6,533.3 1573.6,533.0 1573.6,534.0 1573.7,536.3 1573.7,536.7 1574.0,538.3 1574.3,539.3 1574.7,540.3 1575.0,541.3 1575.3,541.7 1575.3,540.0 1575.3,539.0 1575.3,539.3 1575.3,537.0 1575.3,536.0 1575.3,536.3 1575.3,534.0 1575.3,534.3 1575.3,533.3 1575.3,531.0 1575.3,531.3 1575.3,529.0 1575.2,528.0 1575.2,528.3 1575.2,527.3 1575.2,526.3 1575.2,525.3 1575.2,524.3 1575.2,523.3 1575.2,522.3 1575.2,520.0 1575.2,519.0 1575.2,518.0 1575.2,517.0 1575.2,516.0 1575.2,516.3 1575.2,515.3 1575.1,514.3 1575.1,512.0 1575.1,512.3 1575.1,511.3 1575.1,510.3 1575.1,508.0 1575.1,507.0 1575.1,507.3 1575.1,506.3 1575.1,504.0 1575.1,504.3 1575.1,503.3 1575.1,502.3 1575.1,500.0 1575.1,500.3 1575.0,499.3 1575.0,498.3 1575.0,497.3 1575.0,496.3 1575.0,494.0 1575.0,494.3 1575.0,492.0 1575.0,491.7 1575.3,490.0 1575.7,489.1 1576.0,489.4 1576.3,488.4 1576.7,486.2 1577.0,485.8 1577.0,486.2 1577.0,488.5 1577.0,489.5 1577.0,489.2 1577.0,490.3 1577.1,492.6 1577.1,493.6 1577.1,493.3 1577.1,494.3 1577.1,495.4 1577.1,497.7 1577.1,498.7 1577.1,499.7 1577.1,500.7 1577.2,501.7 1577.2,502.7 1577.2,503.8 1577.2,503.5 1577.2,504.5 1577.2,506.8 1577.2,507.8 1577.2,508.8 1577.2,509.9 1577.2,509.6 1577.2,510.6 1577.3,511.6 1577.3,512.6 1577.3,513.6 1577.3,516.0 1577.3,517.0 1577.3,516.7 1577.3,517.7 1577.3,520.0 1577.3,521.0 1577.3,522.1 1577.4,521.8 1577.4,524.1 1577.4,523.8 1577.4,526.1 1577.4,527.1 1577.4,526.9 1577.4,529.2 1577.4,530.2 1577.4,531.2 1577.5,532.2 1577.5,531.9 1577.5,534.3 1577.5,534.0 1577.5,536.3 1577.5,536.7 1577.5,536.3 1577.6,535.3 1577.6,533.0 1577.6,532.0 1577.7,532.2 1577.7,529.9 1577.8,528.9 1577.8,527.9 1577.8,528.2 1577.9,527.2 1577.9,526.2 1577.9,523.8 1578.0,524.1 1578.0,523.1 1578.0,520.8 1578.1,519.8 1578.1,518.8 1578.2,519.1 1578.2,518.0 1578.2,515.7 1578.3,516.0 1578.3,515.0 1578.3,514.0 1578.4,511.7 1578.4,512.0 1578.4,510.9 1578.5,509.9 1578.5,507.6 1578.6,507.9 1578.6,506.9 1578.6,505.9 1578.7,503.6 1578.7,503.8 1578.7,502.8 1578.8,501.8 1578.8,500.8 1578.8,498.5 1578.9,497.5 1578.9,497.8 1578.9,495.4 1579.0,495.7 1579.0,493.4 1579.1,492.4 1579.1,491.4 1579.1,490.4 1579.2,490.0 1579.2,491.7 1579.2,491.4 1579.2,493.7 1579.2,493.4 1579.2,494.4 1579.3,496.7 1579.3,497.7 1579.3,498.7 1579.3,499.7 1579.3,500.8 1579.3,501.8 1579.3,501.5 1579.4,502.5 1579.4,503.5 1579.4,505.8 1579.4,506.8 1579.4,507.8 1579.4,508.8 1579.5,508.5 1579.5,509.6 1579.5,511.9 1579.5,512.9 1579.5,513.9 1579.5,514.9 1579.5,514.6 1579.6,516.9 1579.6,516.6 1579.6,518.9 1579.6,518.6 1579.6,519.7 1579.6,522.0 1579.7,521.7 1579.7,523.3 1579.7,523.0 1579.8,520.7 1579.8,521.0 1579.9,520.0 1579.9,519.0 1580.0,518.0 1580.1,515.7 1580.1,516.0 1580.2,513.7 1580.2,512.7 1580.3,511.7 1580.3,510.7 1580.4,511.0 1580.4,508.7 1580.5,507.7 1580.6,508.0 1580.6,507.0 1580.7,504.7 1580.7,503.7 1580.8,502.7 1580.8,501.7 1580.9,502.0 1580.9,499.7 1581.0,500.0 1581.1,497.7 1581.1,498.0 1581.2,497.0 1581.2,496.0 1581.3,493.7 1581.3,493.3 1581.4,493.7 1581.4,496.0 1581.4,497.0 1581.4,496.7 1581.4,497.7 1581.5,498.7 1581.5,499.7 1581.5,500.7 1581.5,501.7 1581.6,504.0 1581.6,505.1 1581.6,504.8 1581.6,505.8 1581.6,508.1 1581.7,507.8 1581.7,510.1 1581.7,509.8 1581.7,510.8 1581.8,513.1 1581.8,512.8 1581.8,513.8 1581.8,516.1 1581.8,515.8 1581.9,516.8 1581.9,519.1 1581.9,518.8 1581.9,519.9 1581.9,520.9 1582.0,523.2 1582.0,522.9 1582.0,523.9 1582.0,526.2 1582.1,525.9 1582.1,528.2 1582.1,527.9 1582.1,528.9 1582.1,529.9 1582.2,530.9 1582.2,533.2 1582.2,534.2 1582.2,533.9 1582.3,536.2 1582.3,537.3 1582.3,538.3 1582.3,538.0 1582.3,539.0 1582.4,540.0 1582.4,542.3 1582.4,542.0 1582.4,544.3 1582.5,544.0 1582.5,545.0 1582.5,546.7 1584.2,546.7 1584.1,546.3 1584.1,544.0 1584.1,544.2 1584.1,541.9 1584.1,542.2 1584.1,539.9 1584.0,540.1 1584.0,539.1 1584.0,536.8 1584.0,535.8 1584.0,534.7 1583.9,535.0 1583.9,534.0 1583.9,533.0 1583.9,530.6 1583.9,529.6 1583.8,529.9 1583.8,527.6 1583.8,527.8 1583.8,526.8 1583.8,524.5 1583.7,524.8 1583.7,522.4 1583.7,521.4 1583.7,520.4 1583.7,520.0 1583.8,519.5 1584.0,517.1 1584.1,516.0 1584.2,514.8 1584.4,514.3 1584.6,514.7 1584.9,515.7 1585.1,517.3 1585.2,516.9 1585.4,515.7 1585.5,514.6 1585.7,512.2 1585.8,511.7 1585.8,513.3 1585.8,514.3 1585.9,515.3 1585.9,516.4 1585.9,516.1 1585.9,517.1 1585.9,518.1 1585.9,520.4 1585.9,521.4 1585.9,521.1 1585.9,523.4 1585.9,523.1 1585.9,524.1 1585.9,526.4 1585.9,526.1 1585.9,527.2 1585.9,528.2 1586.0,529.2 1586.0,530.2 1586.0,532.5 1586.0,532.2 1586.0,533.2 1586.0,534.2 1586.0,536.5 1586.0,537.5 1586.0,537.2 1586.0,538.3 1586.0,540.6 1586.0,540.3 1586.0,542.6 1586.0,542.3 1586.0,544.6 1586.1,544.3 1586.1,546.6 1586.1,547.6 1586.1,547.3 1586.1,548.3 1586.1,549.4 1586.1,550.4 1586.1,552.7 1586.1,553.7 1586.1,553.4 1586.1,555.7 1586.1,556.7 1586.1,556.4 1586.1,557.4 1586.1,559.7 1586.1,559.4 1586.2,560.4 1586.2,562.8 1586.2,563.8 1586.2,563.5 1586.2,564.5 1586.2,565.5 1586.2,566.5 1586.2,567.5 1586.2,568.5 1586.2,569.5 1586.2,570.5 1586.2,572.8 1586.2,572.6 1586.2,573.6 1586.2,575.9 1586.3,576.9 1586.3,576.6 1586.3,578.9 1586.3,579.9 1586.3,580.9 1586.3,581.9 1586.3,582.9 1586.3,583.9 1586.3,584.9 1586.3,586.0 1586.3,587.0 1586.3,588.0 1586.3,588.3 1587.7,587.5 1587.7,585.8 1587.7,584.8 1587.6,585.1 1587.6,584.1 1587.6,581.8 1587.6,582.1 1587.6,581.1 1587.6,580.1 1587.6,579.1 1587.6,578.1 1587.6,575.8 1587.6,576.1 1587.6,575.1 1587.6,574.1 1587.6,571.8 1587.6,572.1 1587.6,571.1 1587.6,570.1 1587.6,567.8 1587.5,566.8 1587.5,565.8 1587.5,566.1 1587.5,565.0 1587.5,564.0 1587.5,563.0 1587.5,562.0 1587.5,561.0 1587.5,558.7 1587.5,557.7 1587.5,556.7 1587.5,557.0 1587.5,554.7 1587.5,555.0 1587.5,552.7 1587.5,553.0 1587.5,552.0 1587.4,549.7 1587.4,548.7 1587.4,547.7 1587.4,546.7 1587.4,545.7 1587.4,546.0 1587.4,545.0 1587.4,542.7 1587.4,541.6 1587.4,540.6 1587.4,540.9 1587.4,538.6 1587.4,538.9 1587.4,537.9 1587.4,536.9 1587.4,534.6 1587.4,533.6 1587.3,532.6 1587.3,532.9 1587.3,531.9 1587.3,529.6 1587.3,529.9 1587.3,527.6 1587.3,527.9 1587.3,525.6 1587.3,525.9 1587.3,524.9 1587.3,523.9 1587.3,522.9 1587.3,521.9 1587.3,520.9 1587.3,519.8 1587.3,518.8 1587.2,516.5 1587.2,515.5 1587.2,515.8 1587.2,513.5 1587.2,512.5 1587.2,511.5 1587.2,510.5 1587.2,510.8 1587.2,509.8 1587.2,508.8 1587.2,507.8 1587.2,505.5 1587.2,505.8 1587.2,503.5 1587.2,502.5 1587.2,502.8 1587.2,501.8 1587.1,499.5 1587.1,499.8 1587.1,497.5 1587.1,496.4 1587.1,496.7 1587.1,495.7 1587.1,494.7 1587.1,493.7 1587.1,491.4 1587.1,491.7 1587.1,490.7 1587.1,488.4 1587.1,487.4 1587.1,486.4 1587.1,485.4 1587.1,485.7 1587.1,484.7 1587.0,483.7 1587.0,482.7 1587.0,481.7 1587.0,480.7 1587.0,479.7 1587.0,477.4 1587.0,477.7 1587.0,475.4 1587.0,475.0 1587.4,473.2 1587.9,472.1 1588.3,471.7 1588.3,470.0 1588.3,470.3 1588.3,468.0 1588.3,467.0 1588.3,467.3 1588.3,466.2 1588.3,463.9 1588.3,464.2 1588.3,463.2 1588.3,462.2 1588.3,459.9 1588.3,458.9 1588.3,459.2 1588.3,458.1 1588.3,457.1 1588.3,454.8 1588.3,455.1 1588.3,452.8 1588.3,453.1 1588.3,450.8 1588.3,449.8 1588.3,450.1 1588.3,447.7 1588.3,448.0 1588.3,445.7 1588.3,444.7 1588.3,445.0 1588.3,444.0 1588.3,441.7 1588.3,440.7 1588.3,440.9 1588.3,439.9 1588.3,438.9 1588.3,437.9 1588.3,436.9 1588.3,435.9 1588.3,434.9 1588.3,432.6 1588.3,432.9 1588.3,431.8 1588.3,430.8 1588.3,428.5 1588.3,427.5 1588.3,427.8 1588.3,425.5 1588.3,424.5 1588.3,424.8 1588.3,422.4 1588.3,422.7 1588.3,420.4 1588.3,419.4 1588.3,419.7 1588.3,418.7 1588.3,417.7 1588.3,415.4 1588.3,414.4 1588.3,414.6 1588.3,413.6 1588.3,411.3 1588.3,411.6 1588.3,410.6 1588.3,409.6 1588.3,408.6 1588.3,406.3 1588.3,406.5 1588.3,404.2 1588.3,403.2 1588.3,403.5 1588.3,402.5 1588.3,400.8 1588.4,401.2 1588.4,403.5 1588.4,403.2 1588.4,404.3 1588.5,405.3 1588.5,406.3 1588.5,407.3 1588.5,408.4 1588.6,409.4 1588.6,411.7 1588.6,411.4 1588.6,412.4 1588.7,413.5 1588.7,414.5 1588.7,416.8 1588.7,417.8 1588.8,417.5 1588.8,418.6 1588.8,420.9 1588.8,420.6 1588.9,421.6 1588.9,423.9 1588.9,425.0 1588.9,424.7 1589.0,427.0 1589.0,428.0 1589.0,429.0 1589.0,430.1 1589.1,429.8 1589.1,432.1 1589.1,433.1 1589.1,432.9 1589.2,435.2 1589.2,436.2 1589.2,435.9 1589.2,436.9 1589.3,438.0 1589.3,440.3 1589.3,441.3 1589.3,441.7 1589.4,440.0 1589.4,440.3 1589.4,439.3 1589.4,438.3 1589.4,436.0 1589.5,436.3 1589.5,434.0 1589.5,433.0 1589.5,432.0 1589.6,431.0 1589.6,430.0 1589.6,430.3 1589.6,428.0 1589.7,427.0 1589.7,427.3 1589.7,426.3 1589.7,425.3 1589.8,423.0 1589.8,422.0 1589.8,421.0 1589.8,421.3 1589.8,420.3 1589.9,418.0 1589.9,417.0 1589.9,417.3 1589.9,416.3 1590.0,415.3 1590.0,413.0 1590.0,413.3 1590.0,411.0 1590.1,410.0 1590.1,409.0 1590.1,408.0 1590.1,408.3 1590.1,406.0 1590.2,405.0 1590.2,405.3 1590.2,404.3 1590.2,403.3 1590.3,402.3 1590.3,400.0 1590.3,400.3 1590.3,398.7 1590.4,399.0 1590.4,401.3 1590.4,402.3 1590.4,402.0 1590.5,404.4 1590.5,405.4 1590.5,406.4 1590.5,407.4 1590.6,408.4 1590.6,409.4 1590.6,409.1 1590.6,411.4 1590.7,412.4 1590.7,412.1 1590.7,413.1 1590.7,414.1 1590.8,416.4 1590.8,417.4 1590.8,417.2 1590.8,419.5 1590.9,420.5 1590.9,421.5 1590.9,422.5 1590.9,422.2 1591.0,424.5 1591.0,424.2 1591.0,426.5 1591.0,426.2 1591.1,428.5 1591.1,429.5 1591.1,430.5 1591.1,430.2 1591.2,431.3 1591.2,433.6 1591.2,434.6 1591.2,434.3 1591.3,436.6 1591.3,436.3 1591.3,437.3 1591.3,439.6 1591.4,440.6 1591.4,441.6 1591.4,442.6 1591.4,443.6 1591.5,443.3 1591.5,445.0 1591.5,443.3 1591.5,442.3 1591.6,442.6 1591.6,440.3 1591.6,439.2 1591.7,439.5 1591.7,438.5 1591.7,436.2 1591.7,436.5 1591.8,435.4 1591.8,434.4 1591.8,432.1 1591.8,432.4 1591.8,431.4 1591.9,429.0 1591.9,429.3 1591.9,428.3 1592.0,426.0 1592.0,426.3 1592.0,425.2 1592.0,422.9 1592.0,423.2 1592.1,422.2 1592.1,419.9 1592.1,418.8 1592.2,419.1 1592.2,418.1 1592.2,415.8 1592.2,416.0 1592.2,415.0 1592.3,412.7 1592.3,413.0 1592.3,412.0 1592.3,410.9 1592.4,408.6 1592.4,408.9 1592.4,407.9 1592.5,406.9 1592.5,404.5 1592.5,404.2 1592.5,405.8 1592.5,406.9 1592.5,407.9 1592.5,408.9 1592.6,409.9 1592.6,409.6 1592.6,410.7 1592.6,413.0 1592.6,412.7 1592.6,415.0 1592.6,416.0 1592.7,415.8 1592.7,418.1 1592.7,419.1 1592.7,418.8 1592.7,421.1 1592.7,422.2 1592.7,423.2 1592.7,424.2 1592.8,423.9 1592.8,425.0 1592.8,426.0 1592.8,427.0 1592.8,428.0 1592.8,430.3 1592.8,431.4 1592.8,432.4 1592.8,433.4 1592.9,434.4 1592.9,434.1 1592.9,436.5 1592.9,437.5 1592.9,437.2 1592.9,439.5 1592.9,440.5 1593.0,441.6 1593.0,441.3 1593.0,443.6 1593.0,443.3 1593.0,445.0 1593.1,444.6 1593.2,443.6 1593.2,441.4 1593.3,441.6 1593.4,439.4 1593.5,438.4 1593.5,437.4 1593.6,437.6 1593.7,436.6 1593.8,434.4 1593.9,433.4 1593.9,432.4 1594.0,431.4 1594.1,430.4 1594.2,430.0 1594.2,430.4 1594.2,432.7 1594.3,433.7 1594.3,433.4 1594.3,435.7 1594.4,436.7 1594.4,437.8 1594.5,437.5 1594.5,439.8 1594.5,439.5 1594.6,441.8 1594.6,442.8 1594.6,442.5 1594.7,444.9 1594.7,445.9 1594.7,445.6 1594.8,447.9 1594.8,448.9 1594.9,449.9 1594.9,450.9 1594.9,452.0 1595.0,451.7 1595.0,453.3 1595.0,453.7 1595.1,454.7 1595.1,455.7 1595.2,456.7 1595.2,459.0 1595.3,460.0 1595.3,459.7 1595.4,460.7 1595.4,463.0 1595.4,464.0 1595.5,465.0 1595.5,466.0 1595.6,465.7 1595.6,468.0 1595.7,467.7 1595.7,470.0 1595.8,469.7 1595.8,472.0 1595.8,471.7 1595.9,472.7 1595.9,475.0 1596.0,476.0 1596.0,477.0 1596.1,478.0 1596.1,477.7 1596.2,478.7 1596.2,481.0 1596.2,480.7 1596.3,483.0 1596.3,483.3 1596.4,481.7 1596.4,482.0 1596.4,481.0 1596.4,478.7 1596.4,479.0 1596.5,476.6 1596.5,475.6 1596.5,474.6 1596.5,474.9 1596.6,473.9 1596.6,472.9 1596.6,471.9 1596.6,470.9 1596.6,469.9 1596.7,468.9 1596.7,466.6 1596.7,466.9 1596.7,465.9 1596.8,463.6 1596.8,463.9 1596.8,461.6 1596.8,461.8 1596.8,459.5 1596.9,458.5 1596.9,457.5 1596.9,456.5 1596.9,455.5 1596.9,455.8 1597.0,453.5 1597.0,452.5 1597.0,452.8 1597.0,451.8 1597.1,449.5 1597.1,449.8 1597.1,447.5 1597.1,446.5 1597.1,446.8 1597.2,444.4 1597.2,444.7 1597.2,442.4 1597.2,442.7 1597.3,441.7 1597.3,440.7 1597.3,439.7 1597.3,438.7 1597.3,437.7 1597.4,436.7 1597.4,435.7 1597.4,434.7 1597.4,433.7 1597.5,431.4 1597.5,431.7 1597.5,430.0 1597.5,430.4 1597.5,432.7 1597.6,433.7 1597.6,434.7 1597.6,434.4 1597.6,436.7 1597.7,437.7 1597.7,437.4 1597.7,438.4 1597.7,439.4 1597.7,441.7 1597.8,441.4 1597.8,443.7 1597.8,444.7 1597.8,445.7 1597.9,446.8 1597.9,447.8 1597.9,447.5 1597.9,449.8 1597.9,450.8 1598.0,450.5 1598.0,452.8 1598.0,452.5 1598.0,453.5 1598.1,455.8 1598.1,455.5 1598.1,456.5 1598.1,457.5 1598.1,458.5 1598.2,459.5 1598.2,461.8 1598.2,461.6 1598.2,462.6 1598.2,464.9 1598.3,464.6 1598.3,466.9 1598.3,467.9 1598.3,467.6 1598.4,468.6 1598.4,470.9 1598.4,470.6 1598.4,471.6 1598.4,472.6 1598.5,473.6 1598.5,474.6 1598.5,476.9 1598.5,477.9 1598.6,477.7 1598.6,480.0 1598.6,479.7 1598.6,480.7 1598.6,481.7 1598.7,483.3 1598.7,483.0 1598.7,480.7 1598.7,479.7 1598.7,478.7 1598.8,477.7 1598.8,478.0 1598.8,477.0 1598.8,476.0 1598.8,473.7 1598.9,472.7 1598.9,471.6 1598.9,471.9 1598.9,470.9 1598.9,468.6 1598.9,468.9 1599.0,467.9 1599.0,466.9 1599.0,464.6 1599.0,463.6 1599.0,463.9 1599.1,462.9 1599.1,461.9 1599.1,459.6 1599.1,458.6 1599.1,458.9 1599.1,457.9 1599.2,456.9 1599.2,454.6 1599.2,454.9 1599.2,453.9 1599.2,451.6 1599.3,451.9 1599.3,450.9 1599.3,449.9 1599.3,448.9 1599.3,446.6 1599.4,446.9 1599.4,445.9 1599.4,444.9 1599.4,443.9 1599.4,442.9 1599.4,440.6 1599.5,439.6 1599.5,439.8 1599.5,437.5 1599.5,437.8 1599.5,435.5 1599.6,435.8 1599.6,434.8 1599.6,432.5 1599.6,432.8 1599.6,431.8 1599.6,430.8 1599.7,429.2 1599.7,430.8 1599.7,431.8 1599.7,432.9 1599.7,433.9 1599.8,433.6 1599.8,435.9 1599.8,435.6 1599.8,437.9 1599.8,438.9 1599.9,440.0 1599.9,439.7 1599.9,442.0 1599.9,443.0 1599.9,444.0 1600.0,443.7 1600.0,446.0 1600.0,445.8 1600.0,446.8 1600.0,449.1 1600.1,448.8 1600.1,451.1 1600.1,450.8 1600.1,453.1 1600.1,452.9 1600.2,453.9 1600.2,454.9 1600.2,457.2 1600.2,456.9 1600.2,459.2 1600.2,458.9 1600.3,459.9 1600.3,461.0 1600.3,463.3 1600.3,463.0 1600.3,464.0 1600.4,465.0 1600.4,466.0 1600.4,467.0 1600.4,468.1 1600.4,470.4 1600.5,470.1 1600.5,471.1 1600.5,472.1 1600.5,474.4 1600.5,474.1 1600.6,476.5 1600.6,476.2 1600.6,477.2 1600.6,478.2 1600.6,480.5 1600.7,480.2 1600.7,482.5 1600.7,483.6 1600.7,484.6 1600.7,485.6 1600.8,485.3 1600.8,486.3 1600.8,488.6 1600.8,488.3 1600.8,490.0 1600.9,489.6 1600.9,487.3 1600.9,486.3 1601.0,485.3 1601.0,485.6 1601.0,483.2 1601.1,483.5 1601.1,482.5 1601.1,481.5 1601.2,480.5 1601.2,478.2 1601.2,478.4 1601.3,476.1 1601.3,475.1 1601.3,475.4 1601.4,473.1 1601.4,472.1 1601.4,472.3 1601.5,470.0 1601.5,469.0 1601.5,468.0 1601.6,467.0 1601.6,467.3 1601.6,465.0 1601.7,463.9 1601.7,464.2 1601.7,463.2 1601.8,460.9 1601.8,459.9 1601.8,460.1 1601.9,459.1 1601.9,456.8 1601.9,457.1 1602.0,456.1 1602.0,453.8 1602.0,452.8 1602.1,453.0 1602.1,452.0 1602.1,449.7 1602.2,448.7 1602.2,447.7 1602.2,447.9 1602.3,446.9 1602.3,444.6 1602.3,444.9 1602.4,442.6 1602.4,442.9 1602.4,441.9 1602.5,440.8 1602.5,439.2 1602.5,439.5 1602.6,441.8 1602.6,441.6 1602.6,443.9 1602.6,444.9 1602.7,445.9 1602.7,445.6 1602.7,447.9 1602.8,449.0 1602.8,450.0 1602.8,449.7 1602.8,450.7 1602.9,451.7 1602.9,452.7 1602.9,453.8 1603.0,456.1 1603.0,457.1 1603.0,456.8 1603.0,459.1 1603.1,458.8 1603.1,459.9 1603.1,460.9 1603.2,461.9 1603.2,464.2 1603.2,463.9 1603.2,466.2 1603.3,466.0 1603.3,467.0 1603.3,469.3 1603.4,469.0 1603.4,471.3 1603.4,471.0 1603.4,473.4 1603.5,474.4 1603.5,475.4 1603.5,476.4 1603.6,477.4 1603.6,478.4 1603.6,478.2 1603.6,480.5 1603.7,480.8 1603.7,479.1 1603.8,479.4 1603.9,477.1 1603.9,477.3 1604.0,475.0 1604.1,475.2 1604.1,474.2 1604.2,471.9 1604.3,472.1 1604.3,469.8 1604.4,470.0 1604.5,467.7 1604.5,467.9 1604.6,465.6 1604.7,465.9 1604.7,463.5 1604.8,463.8 1604.9,462.7 1604.9,461.7 1605.0,460.0 1605.0,460.4 1605.1,462.7 1605.1,463.8 1605.1,463.5 1605.2,464.6 1605.2,465.6 1605.2,466.7 1605.3,467.7 1605.3,470.1 1605.3,471.1 1605.4,470.9 1605.4,473.2 1605.4,474.3 1605.5,474.0 1605.5,476.4 1605.5,477.4 1605.6,477.2 1605.6,478.2 1605.6,479.3 1605.7,481.0 1605.7,480.6 1605.8,478.3 1605.8,477.3 1605.9,477.6 1606.0,475.3 1606.0,475.6 1606.1,474.6 1606.1,473.5 1606.2,471.2 1606.3,471.5 1606.3,469.9 1606.4,470.3 1606.4,472.6 1606.4,472.4 1606.5,473.4 1606.5,475.8 1606.5,476.8 1606.6,477.9 1606.6,477.6 1606.6,478.7 1606.7,479.7 1606.7,480.7 1606.7,481.8 1606.8,484.1 1606.8,485.2 1606.8,484.9 1606.9,487.3 1606.9,487.0 1606.9,488.1 1607.0,489.1 1607.0,490.8 1607.0,489.2 1607.0,488.2 1607.0,488.4 1607.0,487.4 1607.0,485.1 1607.0,484.1 1607.0,483.1 1607.0,483.4 1607.0,481.1 1607.0,481.3 1607.0,480.3 1607.0,478.0 1607.0,477.0 1607.0,477.3 1607.0,475.0 1607.0,475.3 1607.0,474.3 1607.0,471.9 1607.0,472.2 1607.0,469.9 1607.0,470.2 1607.0,469.2 1607.0,468.2 1607.0,467.2 1607.0,466.1 1607.0,463.8 1607.0,464.1 1607.0,463.1 1607.0,460.8 1607.0,461.1 1607.0,460.1 1607.0,457.8 1607.0,456.7 1607.0,455.7 1607.0,456.0 1607.0,453.7 1607.0,453.3 1607.6,455.1 1608.1,454.9 1608.7,456.7 1608.7,456.3 1608.6,454.0 1608.6,454.3 1608.6,452.0 1608.6,451.0 1608.6,450.0 1608.5,449.0 1608.5,448.0 1608.5,448.3 1608.5,446.0 1608.5,446.3 1608.5,444.0 1608.5,443.0 1608.4,442.0 1608.4,442.3 1608.4,441.3 1608.4,439.0 1608.4,438.0 1608.3,438.3 1608.3,436.7 1608.4,438.3 1608.4,439.3 1608.5,440.4 1608.5,440.1 1608.6,442.4 1608.6,442.1 1608.7,444.4 1608.7,444.1 1608.8,445.1 1608.8,447.4 1608.9,448.4 1608.9,448.2 1608.9,450.5 1609.0,450.8 1609.1,449.1 1609.2,449.3 1609.3,448.3 1609.4,445.9 1609.5,446.1 1609.6,443.8 1609.7,443.3 1609.7,445.0 1609.8,444.7 1609.8,445.7 1609.8,448.0 1609.9,447.7 1609.9,448.8 1610.0,449.8 1610.0,450.8 1610.1,451.8 1610.1,454.1 1610.2,455.1 1610.2,456.1 1610.3,457.1 1610.3,457.5 1610.3,457.1 1610.4,454.8 1610.4,455.1 1610.4,452.8 1610.4,451.8 1610.4,452.0 1610.4,451.0 1610.4,450.0 1610.4,449.0 1610.4,448.0 1610.4,446.9 1610.4,445.9 1610.5,444.9 1610.5,443.9 1610.5,441.6 1610.5,440.6 1610.5,439.5 1610.5,438.5 1610.5,437.5 1610.5,437.8 1610.5,435.5 1610.5,434.4 1610.5,434.7 1610.6,433.7 1610.6,431.4 1610.6,430.4 1610.6,430.6 1610.6,429.6 1610.6,427.3 1610.6,427.6 1610.6,426.6 1610.6,425.6 1610.6,424.5 1610.6,422.2 1610.7,421.2 1610.7,420.8 1610.7,421.2 1610.7,423.5 1610.7,424.5 1610.8,425.5 1610.8,425.3 1610.8,427.6 1610.8,428.6 1610.9,429.6 1610.9,429.3 1610.9,431.6 1611.0,431.4 1611.0,433.7 1611.0,434.7 1611.0,434.4 1611.1,435.4 1611.1,436.4 1611.1,437.4 1611.1,438.5 1611.2,439.5 1611.2,441.8 1611.2,442.8 1611.2,442.5 1611.3,443.5 1611.3,444.6 1611.3,445.6 1611.3,446.6 1611.4,447.6 1611.4,448.6 1611.4,450.9 1611.4,450.7 1611.5,453.0 1611.5,453.3 1611.5,451.7 1611.5,450.7 1611.6,451.0 1611.6,448.7 1611.6,449.0 1611.6,448.0 1611.6,445.6 1611.7,444.6 1611.7,443.6 1611.7,442.6 1611.7,441.6 1611.7,440.6 1611.8,439.6 1611.8,438.6 1611.8,438.9 1611.8,436.6 1611.8,436.9 1611.9,434.6 1611.9,433.6 1611.9,432.6 1611.9,432.9 1611.9,430.6 1612.0,429.6 1612.0,428.6 1612.0,427.6 1612.0,427.9 1612.0,425.6 1612.0,425.8 1612.1,424.8 1612.1,423.8 1612.1,421.5 1612.1,421.8 1612.1,419.5 1612.2,419.2 1612.2,419.5 1612.2,421.9 1612.2,422.9 1612.3,422.6 1612.3,424.9 1612.3,426.0 1612.3,425.7 1612.4,426.7 1612.4,429.0 1612.4,430.1 1612.4,429.8 1612.5,430.8 1612.5,433.1 1612.5,432.9 1612.5,433.9 1612.5,436.2 1612.6,437.2 1612.6,436.9 1612.6,438.0 1612.6,439.0 1612.7,440.0 1612.7,441.0 1612.7,443.4 1612.7,443.1 1612.8,445.4 1612.8,446.4 1612.8,447.5 1612.8,447.2 1612.9,449.5 1612.9,450.5 1612.9,450.3 1612.9,451.3 1613.0,453.6 1613.0,453.3 1613.0,455.0 1613.0,454.6 1613.0,453.6 1613.0,451.3 1613.1,451.6 1613.1,450.6 1613.1,448.3 1613.1,447.3 1613.1,446.3 1613.1,445.3 1613.1,444.3 1613.2,444.5 1613.2,443.5 1613.2,441.2 1613.2,440.2 1613.2,439.2 1613.2,439.5 1613.2,437.2 1613.2,437.5 1613.3,435.2 1613.3,435.5 1613.3,433.2 1613.3,432.1 1613.3,432.4 1613.3,430.1 1613.3,430.4 1613.4,428.1 1613.4,428.4 1613.4,427.4 1613.4,425.1 1613.4,424.1 1613.4,423.1 1613.4,423.4 1613.5,422.3 1613.5,421.3 1613.5,419.0 1613.5,418.7 1613.5,420.3 1613.5,421.3 1613.5,421.0 1613.5,422.0 1613.6,424.3 1613.6,424.0 1613.6,426.3 1613.6,427.3 1613.6,428.4 1613.6,429.4 1613.6,430.4 1613.6,430.1 1613.7,431.1 1613.7,432.1 1613.7,433.1 1613.7,434.1 1613.7,436.4 1613.7,437.4 1613.7,438.4 1613.7,438.1 1613.8,440.4 1613.8,441.4 1613.8,442.4 1613.8,442.1 1613.8,444.4 1613.8,444.1 1613.8,446.4 1613.8,447.4 1613.8,447.1 1613.9,448.1 1613.9,450.4 1613.9,450.1 1613.9,452.4 1613.9,452.2 1613.9,454.5 1613.9,455.5 1613.9,456.5 1614.0,457.5 1614.0,457.2 1614.0,458.2 1614.0,460.5 1614.0,460.8 1614.0,459.1 1614.1,458.1 1614.2,457.1 1614.2,456.0 1614.2,455.0 1614.3,455.2 1614.3,454.2 1614.4,453.1 1614.5,450.8 1614.5,449.8 1614.5,448.7 1614.6,449.0 1614.7,447.9 1614.7,445.6 1614.8,444.6 1614.8,444.8 1614.8,442.5 1614.9,442.7 1615.0,441.7 1615.0,440.0 1615.1,440.4 1615.3,442.7 1615.4,442.4 1615.5,443.4 1615.7,445.1 1616.0,444.4 1616.3,442.4 1616.5,442.8 1616.6,445.1 1616.7,446.1 1616.9,445.8 1617.0,447.5 1617.0,449.2 1617.0,450.2 1617.0,449.9 1617.0,450.9 1617.1,453.2 1617.1,454.2 1617.1,455.2 1617.1,454.9 1617.1,457.3 1617.1,457.0 1617.1,458.0 1617.1,459.0 1617.2,460.0 1617.2,461.0 1617.2,463.3 1617.2,463.0 1617.2,465.4 1617.2,466.4 1617.2,466.1 1617.2,468.4 1617.2,468.1 1617.3,470.4 1617.3,470.1 1617.3,472.4 1617.3,473.4 1617.3,474.5 1617.3,475.5 1617.3,475.2 1617.3,476.2 1617.4,478.5 1617.4,479.5 1617.4,479.2 1617.4,480.2 1617.4,482.6 1617.4,482.3 1617.4,484.6 1617.4,484.3 1617.5,485.3 1617.5,486.3 1617.5,487.3 1617.5,488.3 1617.5,490.0 1618.3,490.2 1619.2,491.7 1619.2,490.0 1619.2,489.0 1619.2,488.0 1619.3,486.9 1619.3,485.9 1619.3,486.2 1619.3,485.2 1619.4,482.9 1619.4,483.1 1619.4,482.1 1619.5,479.8 1619.5,478.8 1619.5,479.1 1619.5,476.8 1619.6,477.0 1619.6,474.7 1619.6,473.7 1619.6,472.7 1619.7,471.7 1619.7,470.6 1619.7,469.6 1619.7,468.6 1619.8,467.6 1619.8,467.9 1619.8,466.9 1619.8,465.8 1619.9,464.8 1619.9,462.5 1619.9,462.8 1619.9,460.5 1620.0,460.7 1620.0,458.4 1620.0,458.7 1620.0,456.4 1620.1,455.4 1620.1,455.6 1620.1,454.6 1620.2,453.6 1620.2,451.3 1620.2,450.3 1620.2,450.6 1620.3,449.5 1620.3,447.2 1620.3,447.5 1620.3,445.8 1620.4,446.2 1620.4,447.2 1620.4,448.2 1620.4,450.5 1620.5,451.5 1620.5,452.6 1620.5,453.6 1620.5,453.3 1620.5,455.6 1620.6,456.6 1620.6,457.6 1620.6,457.3 1620.6,458.3 1620.7,459.4 1620.7,460.4 1620.7,461.4 1620.7,462.4 1620.8,463.4 1620.8,465.7 1620.8,465.4 1620.8,466.4 1620.9,468.7 1620.9,468.5 1620.9,469.5 1620.9,471.8 1621.0,471.5 1621.0,472.5 1621.0,474.8 1621.0,474.5 1621.0,476.8 1621.1,476.6 1621.1,477.6 1621.1,478.6 1621.1,480.9 1621.2,481.9 1621.2,482.9 1621.2,483.9 1621.2,484.9 1621.3,484.6 1621.3,487.0 1621.3,488.0 1621.3,488.3 1621.2,490.0 1621.2,491.1 1621.1,492.2 1621.0,493.2 1620.9,493.0 1620.8,495.3 1620.7,496.4 1620.6,497.5 1620.5,497.2 1620.4,498.3 1620.3,500.0 1620.4,499.6 1620.5,497.3 1620.6,497.6 1620.7,496.6 1620.8,495.6 1620.9,493.3 1621.0,493.6 1621.1,491.3 1621.2,490.9 1621.4,491.5 1621.7,492.7 1621.9,493.9 1622.1,495.7 1622.2,495.4 1622.3,494.4 1622.4,492.1 1622.5,491.1 1622.6,490.0 1622.7,490.3 1622.8,489.3 1622.9,488.3 1623.0,486.7 1623.1,488.3 1623.2,489.4 1623.2,490.4 1623.3,491.4 1623.4,491.1 1623.5,492.2 1623.5,494.5 1623.6,494.2 1623.7,495.2 1623.8,496.2 1623.8,497.3 1623.9,499.6 1624.0,500.6 1624.1,501.6 1624.1,502.7 1624.2,503.7 1624.3,503.4 1624.4,504.4 1624.4,505.4 1624.5,506.5 1624.6,507.5 1624.7,509.2 1624.7,507.5 1624.8,507.8 1624.8,506.8 1624.8,505.7 1624.9,504.7 1624.9,503.7 1625.0,502.7 1625.0,501.6 1625.0,499.3 1625.1,498.3 1625.1,497.3 1625.2,497.6 1625.2,495.2 1625.2,495.5 1625.3,494.5 1625.3,493.5 1625.4,492.5 1625.4,491.4 1625.5,490.4 1625.5,488.1 1625.5,487.1 1625.6,487.4 1625.6,485.0 1625.7,485.3 1625.7,483.0 1625.8,483.3 1625.8,482.3 1625.8,479.9 1625.9,478.9 1625.9,479.2 1626.0,478.2 1626.0,475.9 1626.0,474.8 1626.1,473.8 1626.1,474.1 1626.2,471.8 1626.2,472.0 1626.2,469.7 1626.3,468.7 1626.3,468.3 1626.4,468.7 1626.4,471.0 1626.4,472.1 1626.4,471.8 1626.5,474.1 1626.5,473.8 1626.5,474.9 1626.5,475.9 1626.6,476.9 1626.6,477.9 1626.6,480.3 1626.6,480.0 1626.7,481.0 1626.7,482.0 1626.7,483.1 1626.7,484.1 1626.8,485.1 1626.8,487.4 1626.8,487.2 1626.8,489.5 1626.9,489.2 1626.9,490.2 1626.9,492.6 1626.9,493.6 1627.0,494.6 1627.0,495.0 1627.1,493.3 1627.1,493.5 1627.2,491.2 1627.2,491.4 1627.3,490.4 1627.3,489.3 1627.4,488.3 1627.4,487.2 1627.5,484.9 1627.5,483.8 1627.6,482.8 1627.6,481.7 1627.7,480.7 1627.7,480.3 1627.8,482.0 1627.9,481.8 1628.0,484.3 1628.1,485.4 1628.2,485.2 1628.3,487.6 1628.4,488.1 1628.5,486.4 1628.5,485.3 1628.6,484.3 1628.6,484.5 1628.7,483.5 1628.7,481.1 1628.8,480.1 1628.9,479.0 1628.9,477.9 1629.0,478.2 1629.0,477.1 1629.1,476.1 1629.1,475.0 1629.2,473.3 1629.9,473.5 1630.6,475.6 1631.3,475.8 1631.3,476.2 1631.3,478.5 1631.3,478.2 1631.2,479.2 1631.2,481.6 1631.2,482.6 1631.1,482.3 1631.1,484.6 1631.1,485.6 1631.1,485.3 1631.0,486.3 1631.0,487.3 1631.0,488.4 1631.0,490.7 1630.9,490.4 1630.9,491.4 1630.9,493.7 1630.8,494.7 1630.8,494.4 1630.8,495.5 1630.8,496.5 1630.7,498.8 1630.7,498.5 1630.7,500.8 1630.7,501.8 1630.6,501.5 1630.6,503.8 1630.6,504.9 1630.5,505.9 1630.5,505.6 1630.5,506.6 1630.5,507.6 1630.4,509.9 1630.4,509.6 1630.4,510.7 1630.4,511.7 1630.3,513.3 1630.4,513.7 1630.4,514.7 1630.5,517.0 1630.5,518.0 1630.6,517.7 1630.6,520.0 1630.7,519.8 1630.7,522.1 1630.8,521.8 1630.8,522.8 1630.9,525.1 1630.9,526.1 1631.0,527.1 1631.0,528.1 1631.1,529.1 1631.1,530.1 1631.2,531.2 1631.2,532.2 1631.3,533.2 1631.3,532.9 1631.4,535.2 1631.4,536.2 1631.5,535.9 1631.5,536.9 1631.6,539.2 1631.6,540.2 1631.7,540.0 1631.7,541.0 1631.8,542.0 1631.8,544.3 1631.9,544.0 1631.9,546.3 1632.0,546.7 1632.0,546.3 1632.1,545.3 1632.1,544.3 1632.1,543.3 1632.2,541.0 1632.2,541.3 1632.2,540.3 1632.3,538.0 1632.3,537.0 1632.3,536.0 1632.4,536.3 1632.4,535.3 1632.4,534.3 1632.5,533.3 1632.5,531.0 1632.5,530.0 1632.6,529.0 1632.6,528.0 1632.6,527.0 1632.7,527.3 1632.7,526.3 1632.7,524.0 1632.8,523.0 1632.8,522.0 1632.8,521.0 1632.9,521.3 1632.9,519.0 1632.9,518.0 1633.0,518.3 1633.0,516.0 1633.0,516.3 1633.1,514.0 1633.1,513.0 1633.1,512.0 1633.2,512.3 1633.2,510.0 1633.2,509.0 1633.3,509.3 1633.3,508.3 1633.3,506.7 1633.4,508.3 1633.4,508.0 1633.4,509.0 1633.5,511.3 1633.5,512.3 1633.5,513.3 1633.5,513.0 1633.6,515.4 1633.6,516.4 1633.6,516.1 1633.7,517.1 1633.7,519.4 1633.7,520.4 1633.8,520.1 1633.8,521.1 1633.8,523.4 1633.8,523.1 1633.9,524.1 1633.9,526.4 1633.9,526.1 1634.0,528.4 1634.0,528.8 1634.1,528.4 1634.1,527.3 1634.2,526.2 1634.2,525.2 1634.3,524.1 1634.4,521.7 1634.4,520.7 1634.5,520.9 1634.5,519.8 1634.6,517.5 1634.7,517.1 1634.7,517.4 1634.7,518.4 1634.7,519.4 1634.8,520.4 1634.8,522.7 1634.8,523.7 1634.9,523.4 1634.9,525.8 1634.9,525.5 1635.0,526.5 1635.0,527.5 1635.0,529.8 1635.1,529.5 1635.1,531.8 1635.1,532.8 1635.1,533.8 1635.2,534.8 1635.2,535.8 1635.2,535.5 1635.3,537.8 1635.3,537.5 1635.3,539.2 1635.4,538.8 1635.4,536.5 1635.5,535.4 1635.5,534.4 1635.5,534.6 1635.6,532.3 1635.6,531.3 1635.7,530.2 1635.7,530.5 1635.7,528.2 1635.8,527.1 1635.8,526.1 1635.9,525.1 1635.9,524.1 1635.9,524.3 1636.0,522.0 1636.0,521.0 1636.1,519.9 1636.1,520.2 1636.1,517.9 1636.2,516.8 1636.2,515.8 1636.3,514.8 1636.3,515.0 1636.3,513.3 1637.0,512.9 1637.7,510.5 1638.3,510.0 1638.3,509.6 1638.2,508.6 1638.1,507.6 1638.1,506.6 1638.0,504.4 1637.9,504.6 1637.9,503.6 1637.8,502.6 1637.7,501.6 1637.7,499.4 1637.6,498.4 1637.5,497.4 1637.5,496.4 1637.4,495.4 1637.3,494.4 1637.3,494.6 1637.2,492.4 1637.1,491.4 1637.1,491.6 1637.0,490.0 1637.2,488.4 1637.3,487.4 1637.5,486.4 1637.7,485.4 1637.8,484.4 1638.0,484.6 1638.2,483.6 1638.3,481.4 1638.5,480.4 1638.7,480.0 1639.5,479.8 1640.3,478.3 1640.4,476.7 1640.5,475.7 1640.6,476.0 1640.7,473.7 1640.8,474.0 1640.9,473.0 1641.0,470.7 1641.0,469.7 1641.1,468.7 1641.2,469.0 1641.3,468.0 1641.4,467.0 1641.5,466.0 1641.6,463.7 1641.7,463.3 1641.8,465.0 1641.9,466.0 1642.1,467.1 1642.2,468.1 1642.3,469.1 1642.4,468.8 1642.6,469.9 1642.7,470.9 1642.8,471.9 1642.9,474.2 1643.1,475.3 1643.2,476.3 1643.3,476.7 1643.3,475.0 1643.3,475.3 1643.3,473.0 1643.3,472.0 1643.3,471.0 1643.3,469.9 1643.3,470.2 1643.3,469.2 1643.3,468.2 1643.3,465.9 1643.3,466.2 1643.3,463.9 1643.3,464.2 1643.2,461.9 1643.2,462.1 1643.2,459.8 1643.2,458.8 1643.2,457.8 1643.2,456.8 1643.2,457.1 1643.2,456.1 1643.2,455.1 1643.2,452.7 1643.2,451.7 1643.2,452.0 1643.2,449.7 1643.2,448.7 1643.2,447.7 1643.2,448.0 1643.2,445.7 1643.1,444.6 1643.1,443.6 1643.1,442.6 1643.1,442.9 1643.1,441.9 1643.1,439.6 1643.1,438.6 1643.1,438.9 1643.1,436.6 1643.1,436.8 1643.1,435.8 1643.1,434.8 1643.1,432.5 1643.1,432.8 1643.1,431.8 1643.1,430.8 1643.1,428.5 1643.0,428.7 1643.0,426.4 1643.0,425.4 1643.0,425.7 1643.0,424.7 1643.0,423.7 1643.0,422.7 1643.0,421.7 1643.0,420.0 1643.0,421.7 1643.1,422.7 1643.1,423.7 1643.1,424.7 1643.1,424.5 1643.2,425.5 1643.2,426.5 1643.2,427.5 1643.2,428.5 1643.3,429.6 1643.3,431.9 1643.3,432.9 1643.3,433.9 1643.4,433.6 1643.4,434.7 1643.4,435.7 1643.4,438.0 1643.5,439.0 1643.5,438.7 1643.5,439.8 1643.6,442.1 1643.6,443.1 1643.6,444.1 1643.6,445.1 1643.7,445.5 1643.7,443.8 1643.8,442.8 1643.8,441.7 1643.9,440.7 1643.9,439.7 1644.0,439.9 1644.0,437.6 1644.1,437.8 1644.1,435.5 1644.2,434.5 1644.2,433.4 1644.3,433.7 1644.3,432.0 1644.3,433.7 1644.4,434.7 1644.4,434.4 1644.4,436.7 1644.5,436.5 1644.5,438.8 1644.5,439.8 1644.5,440.8 1644.6,440.5 1644.6,442.8 1644.6,443.9 1644.6,443.6 1644.7,445.9 1644.7,446.9 1644.7,446.7 1644.8,447.7 1644.8,450.0 1644.8,451.0 1644.8,450.7 1644.9,451.8 1644.9,454.1 1644.9,455.1 1644.9,456.1 1645.0,455.8 1645.0,457.5 1645.1,455.8 1645.1,454.8 1645.2,453.8 1645.2,452.7 1645.3,453.0 1645.3,450.7 1645.4,451.0 1645.4,449.9 1645.5,447.6 1645.5,447.9 1645.6,446.9 1645.6,445.8 1645.7,444.8 1645.7,443.8 1645.8,442.8 1645.8,440.4 1645.9,440.7 1645.9,438.4 1646.0,438.7 1646.0,437.6 1646.1,436.6 1646.1,434.3 1646.2,434.6 1646.2,433.5 1646.3,432.5 1646.3,430.8 1646.4,432.5 1646.4,433.5 1646.5,434.6 1646.5,435.6 1646.6,436.6 1646.6,437.7 1646.7,437.4 1646.7,439.7 1646.8,440.8 1646.8,441.8 1646.8,442.8 1646.9,443.9 1646.9,443.6 1647.0,445.9 1647.0,445.7 1647.1,446.7 1647.1,449.1 1647.2,448.8 1647.2,451.1 1647.3,450.9 1647.3,453.2 1647.4,454.2 1647.4,455.2 1647.5,455.0 1647.5,456.7 1647.6,456.3 1647.6,455.3 1647.7,452.9 1647.7,451.9 1647.8,450.9 1647.8,449.9 1647.9,450.1 1647.9,449.1 1648.0,446.8 1648.1,447.0 1648.1,444.7 1648.2,443.7 1648.2,444.0 1648.3,441.6 1648.3,441.9 1648.4,439.6 1648.4,439.8 1648.5,437.5 1648.6,437.8 1648.6,435.5 1648.7,435.7 1648.7,433.4 1648.8,432.4 1648.8,432.6 1648.9,430.3 1648.9,430.6 1649.0,429.6 1649.1,427.2 1649.1,426.2 1649.2,425.8 1649.2,427.5 1649.2,428.5 1649.3,429.6 1649.3,429.3 1649.3,431.6 1649.4,431.4 1649.4,433.7 1649.4,433.4 1649.5,434.5 1649.5,436.8 1649.5,436.6 1649.6,437.6 1649.6,439.9 1649.6,439.7 1649.7,442.0 1649.7,443.0 1649.7,444.1 1649.8,445.1 1649.8,446.1 1649.8,447.1 1649.9,446.9 1649.9,447.9 1649.9,449.0 1650.0,450.0 1650.0,451.7 1650.7,451.9 1651.3,453.3 1651.3,455.0 1651.3,456.0 1651.2,455.8 1651.2,456.8 1651.1,459.1 1651.1,458.8 1651.1,461.2 1651.0,462.2 1651.0,463.2 1650.9,464.2 1650.9,465.3 1650.9,466.3 1650.8,466.0 1650.8,468.3 1650.8,468.1 1650.7,469.1 1650.7,470.1 1650.6,472.4 1650.6,472.2 1650.6,474.5 1650.5,474.2 1650.5,476.5 1650.4,477.6 1650.4,478.6 1650.4,479.6 1650.3,480.0 1650.5,480.5 1650.7,482.9 1650.9,482.8 1651.0,484.5 1651.4,482.7 1651.8,482.1 1651.9,483.9 1652.1,485.0 1652.3,486.2 1652.5,486.7 1652.5,487.0 1652.6,488.1 1652.6,489.1 1652.7,490.1 1652.7,492.4 1652.7,492.2 1652.8,494.5 1652.8,495.5 1652.8,496.5 1652.9,497.5 1652.9,497.3 1653.0,499.6 1653.0,500.6 1653.0,501.6 1653.1,502.7 1653.1,502.4 1653.1,503.4 1653.2,504.4 1653.2,505.4 1653.3,506.5 1653.3,508.8 1653.3,509.2 1653.4,507.5 1653.4,507.8 1653.4,505.5 1653.5,505.8 1653.5,504.8 1653.5,502.5 1653.6,502.7 1653.6,500.4 1653.6,499.4 1653.7,499.7 1653.7,498.7 1653.7,497.7 1653.8,495.4 1653.8,495.7 1653.8,493.4 1653.8,492.4 1653.9,492.7 1653.9,490.3 1653.9,490.6 1654.0,488.3 1654.0,487.3 1654.0,486.3 1654.1,486.6 1654.1,484.3 1654.1,483.3 1654.2,483.6 1654.2,482.6 1654.2,481.5 1654.3,479.2 1654.3,478.2 1654.3,477.2 1654.4,477.5 1654.4,476.5 1654.4,474.2 1654.5,473.2 1654.5,472.2 1654.5,472.5 1654.6,470.2 1654.6,469.1 1654.6,468.1 1654.6,468.4 1654.7,466.1 1654.7,465.1 1654.7,464.1 1654.8,463.1 1654.8,462.1 1654.8,462.4 1654.9,461.4 1654.9,459.0 1654.9,458.0 1655.0,457.0 1655.0,456.7 1655.0,457.0 1655.0,459.3 1655.1,460.3 1655.1,461.4 1655.1,461.1 1655.1,463.4 1655.1,464.4 1655.2,464.1 1655.2,466.4 1655.2,467.4 1655.2,467.1 1655.2,468.1 1655.3,470.4 1655.3,471.5 1655.3,472.5 1655.3,473.5 1655.3,474.5 1655.4,475.5 1655.4,475.2 1655.4,477.5 1655.4,477.2 1655.4,478.2 1655.5,480.5 1655.5,480.3 1655.5,481.3 1655.5,483.6 1655.5,484.6 1655.6,485.6 1655.6,486.6 1655.6,486.3 1655.6,488.6 1655.6,489.6 1655.7,490.6 1655.7,491.7 1655.7,491.4 1655.7,493.7 1655.7,493.4 1655.8,494.4 1655.8,496.7 1655.8,496.4 1655.8,498.7 1655.8,499.7 1655.9,500.8 1655.9,501.8 1655.9,501.5 1655.9,503.8 1655.9,503.5 1656.0,505.8 1656.0,505.5 1656.0,506.5 1656.0,508.8 1656.1,508.5 1656.1,509.6 1656.1,510.6 1656.1,511.6 1656.1,512.6 1656.2,514.9 1656.2,514.6 1656.2,515.6 1656.2,517.9 1656.2,518.9 1656.3,519.9 1656.3,519.7 1656.3,522.0 1656.3,521.7 1656.3,523.3 1656.4,523.0 1656.4,520.7 1656.5,520.9 1656.5,518.6 1656.5,518.9 1656.6,517.9 1656.6,516.9 1656.7,515.9 1656.7,514.8 1656.7,513.8 1656.8,511.5 1656.8,510.5 1656.9,509.5 1656.9,509.8 1656.9,507.4 1657.0,506.4 1657.0,506.7 1657.1,505.7 1657.1,503.4 1657.1,503.7 1657.2,501.3 1657.2,501.6 1657.3,500.6 1657.3,498.3 1657.3,497.3 1657.4,496.3 1657.4,496.5 1657.5,495.5 1657.5,494.5 1657.6,493.5 1657.6,491.2 1657.6,491.5 1657.7,490.4 1657.7,489.4 1657.8,487.1 1657.8,486.1 1657.8,486.4 1657.9,484.1 1657.9,484.3 1658.0,483.3 1658.0,481.7 1658.0,482.0 1658.1,484.3 1658.1,484.1 1658.1,485.1 1658.1,487.4 1658.2,488.4 1658.2,488.1 1658.2,489.1 1658.2,490.1 1658.3,492.4 1658.3,493.4 1658.3,494.5 1658.4,494.2 1658.4,496.5 1658.4,496.2 1658.4,498.5 1658.5,498.2 1658.5,500.5 1658.5,501.5 1658.6,502.6 1658.6,502.3 1658.6,503.3 1658.6,505.6 1658.7,505.3 1658.7,507.6 1658.7,507.3 1658.8,508.3 1658.8,510.6 1658.8,510.4 1658.8,512.7 1658.9,512.4 1658.9,514.7 1658.9,514.4 1658.9,515.4 1659.0,517.7 1659.0,518.7 1659.0,519.8 1659.1,519.5 1659.1,521.8 1659.1,521.5 1659.1,522.5 1659.2,524.2 1659.2,522.5 1659.3,522.8 1659.3,520.4 1659.4,519.4 1659.4,518.4 1659.5,517.4 1659.6,517.6 1659.6,515.3 1659.7,515.6 1659.7,514.5 1659.8,513.5 1659.8,512.5 1659.9,510.2 1659.9,510.4 1660.0,509.4 1660.1,508.4 1660.1,507.3 1660.2,506.3 1660.2,504.0 1660.3,504.3 1660.3,503.2 1660.4,502.2 1660.4,499.9 1660.5,498.9 1660.6,497.8 1660.6,496.8 1660.7,495.8 1660.7,494.7 1660.8,493.7 1660.8,493.3 1660.9,493.7 1660.9,494.7 1660.9,495.7 1661.0,498.0 1661.0,499.0 1661.0,500.1 1661.0,501.1 1661.1,502.1 1661.1,501.8 1661.1,504.1 1661.2,503.8 1661.2,504.8 1661.2,505.8 1661.2,508.1 1661.3,509.2 1661.3,510.2 1661.3,511.2 1661.4,512.2 1661.4,511.9 1661.4,514.2 1661.5,515.2 1661.5,514.9 1661.5,517.3 1661.5,518.3 1661.6,518.0 1661.6,520.3 1661.6,521.3 1661.7,521.7 1661.7,521.3 1661.7,520.3 1661.8,519.2 1661.8,518.2 1661.9,517.2 1661.9,514.8 1661.9,515.1 1662.0,514.1 1662.0,513.0 1662.0,512.0 1662.1,509.7 1662.1,510.0 1662.2,507.6 1662.2,507.9 1662.2,506.9 1662.3,505.8 1662.3,503.5 1662.3,503.8 1662.4,501.4 1662.4,500.4 1662.5,500.7 1662.5,499.0 1662.6,499.4 1662.6,500.4 1662.7,502.6 1662.8,502.4 1662.8,504.6 1662.9,504.4 1663.0,506.6 1663.0,506.3 1663.1,508.6 1663.2,508.3 1663.2,509.3 1663.3,511.0 1663.4,510.6 1663.4,509.6 1663.4,507.3 1663.5,507.5 1663.5,505.2 1663.5,504.2 1663.6,503.1 1663.6,502.1 1663.7,501.1 1663.7,501.3 1663.7,500.3 1663.8,498.0 1663.8,497.0 1663.9,495.9 1663.9,496.2 1663.9,493.9 1664.0,494.1 1664.0,493.1 1664.1,492.1 1664.1,491.0 1664.1,488.7 1664.2,488.3 1664.2,490.0 1664.2,491.0 1664.2,492.0 1664.3,493.0 1664.3,494.0 1664.3,493.7 1664.4,494.7 1664.4,497.0 1664.4,498.0 1664.4,497.7 1664.5,498.7 1664.5,499.7 1664.5,502.0 1664.6,501.7 1664.6,504.0 1664.6,505.0 1664.6,504.7 1664.7,505.7 1664.7,506.7 1664.7,509.0 1664.8,510.0 1664.8,511.0 1664.8,512.0 1664.8,513.0 1664.9,512.7 1664.9,513.7 1664.9,516.0 1664.9,517.0 1665.0,516.7 1665.0,518.3 1665.1,520.0 1665.2,521.1 1665.2,520.8 1665.3,521.9 1665.4,524.2 1665.5,525.2 1665.6,526.3 1665.7,527.3 1665.8,528.4 1665.8,528.1 1665.9,530.4 1666.0,531.5 1666.1,531.2 1666.2,532.3 1666.2,533.3 1666.3,535.0 1666.4,536.7 1666.4,537.7 1666.4,537.5 1666.5,538.5 1666.5,539.6 1666.5,541.9 1666.6,541.7 1666.6,544.0 1666.6,545.1 1666.7,546.1 1666.7,547.2 1666.7,548.2 1666.8,549.3 1666.8,549.0 1666.8,550.1 1666.9,552.4 1666.9,553.5 1666.9,554.5 1667.0,554.3 1667.0,556.0 1667.1,555.6 1667.1,553.3 1667.2,552.3 1667.2,551.3 1667.3,550.3 1667.4,549.3 1667.4,549.6 1667.5,547.2 1667.5,546.2 1667.6,546.5 1667.7,544.9 1667.7,546.6 1667.7,547.6 1667.8,548.7 1667.8,548.4 1667.8,549.5 1667.9,550.5 1667.9,552.9 1667.9,552.6 1668.0,555.0 1668.0,554.7 1668.0,555.7 1668.1,558.1 1668.1,557.8 1668.1,558.9 1668.2,561.2 1668.2,561.0 1668.2,563.3 1668.3,564.4 1668.3,565.4 1668.3,565.8 1668.5,564.1 1668.7,563.0 1668.9,563.3 1669.1,560.9 1669.3,559.8 1669.5,560.1 1669.7,558.3 1669.7,556.7 1669.7,555.7 1669.7,555.9 1669.7,553.6 1669.7,552.6 1669.8,552.9 1669.8,550.6 1669.8,549.6 1669.8,548.6 1669.8,548.8 1669.8,546.5 1669.8,546.8 1669.9,545.8 1669.9,544.8 1669.9,543.8 1669.9,541.5 1669.9,541.7 1669.9,540.7 1669.9,539.7 1670.0,537.4 1670.0,537.7 1670.0,535.4 1670.0,535.0 1670.8,535.2 1671.7,536.7 1671.7,536.3 1671.7,535.3 1671.7,532.9 1671.7,533.2 1671.7,530.9 1671.7,531.2 1671.7,530.1 1671.7,529.1 1671.7,528.1 1671.7,527.1 1671.7,526.0 1671.7,525.0 1671.7,524.0 1671.7,521.7 1671.7,520.6 1671.7,520.9 1671.7,519.9 1671.7,517.6 1671.7,517.8 1671.7,516.8 1671.7,514.5 1671.7,513.5 1671.7,513.7 1671.7,511.4 1671.7,511.7 1671.7,509.4 1671.7,509.6 1671.7,507.3 1671.7,506.3 1671.7,505.2 1671.7,505.5 1671.7,504.5 1671.7,503.5 1671.7,502.4 1671.7,500.1 1671.7,500.4 1671.7,499.4 1671.7,497.0 1671.7,496.7 1671.8,495.0 1672.0,493.9 1672.1,494.1 1672.3,493.1 1672.4,492.0 1672.6,491.0 1672.7,489.9 1672.9,488.8 1673.0,487.8 1673.2,485.4 1673.3,485.0 1673.3,485.4 1673.4,487.7 1673.4,487.4 1673.4,488.4 1673.4,490.7 1673.4,490.4 1673.4,492.8 1673.4,493.8 1673.5,493.5 1673.5,495.8 1673.5,496.8 1673.5,496.5 1673.5,497.5 1673.5,499.9 1673.6,499.6 1673.6,501.9 1673.6,501.6 1673.6,502.6 1673.6,503.6 1673.6,505.9 1673.6,505.7 1673.7,506.7 1673.7,508.3 1673.7,508.0 1673.7,507.0 1673.7,504.6 1673.8,504.9 1673.8,503.9 1673.8,501.6 1673.8,501.9 1673.8,499.6 1673.9,499.9 1673.9,498.8 1673.9,496.5 1673.9,495.5 1673.9,495.8 1674.0,493.5 1674.0,492.5 1674.0,491.5 1674.0,491.7 1674.1,490.7 1674.1,488.4 1674.1,488.7 1674.1,487.7 1674.1,485.4 1674.2,484.4 1674.2,483.3 1674.2,483.6 1674.2,481.3 1674.3,481.6 1674.3,480.6 1674.3,479.6 1674.3,477.2 1674.3,476.2 1674.4,476.5 1674.4,475.5 1674.4,474.5 1674.4,473.5 1674.4,472.5 1674.5,470.1 1674.5,469.1 1674.5,469.4 1674.5,468.4 1674.6,466.1 1674.6,465.1 1674.6,465.4 1674.6,463.0 1674.6,463.3 1674.7,461.7 1674.7,461.3 1674.7,460.3 1674.7,458.0 1674.7,456.9 1674.8,457.2 1674.8,454.9 1674.8,455.2 1674.8,454.2 1674.8,453.1 1674.9,452.1 1674.9,449.8 1674.9,450.1 1674.9,449.1 1674.9,448.1 1674.9,447.0 1675.0,446.0 1675.0,445.0 1675.0,443.3 1675.1,443.7 1675.2,444.8 1675.2,445.8 1675.3,448.1 1675.4,447.9 1675.5,448.9 1675.6,450.0 1675.7,452.3 1675.8,452.1 1675.8,454.4 1675.9,455.4 1676.0,456.5 1676.1,456.2 1676.2,458.6 1676.2,459.6 1676.3,460.0 1676.4,459.6 1676.4,458.6 1676.5,456.2 1676.5,455.2 1676.6,455.4 1676.6,454.4 1676.7,453.4 1676.8,451.0 1676.8,451.3 1676.9,448.9 1676.9,449.2 1677.0,446.9 1677.0,447.1 1677.1,444.8 1677.1,443.7 1677.2,443.3 1677.3,443.7 1677.4,446.1 1677.5,445.9 1677.6,446.9 1677.7,449.3 1677.8,450.3 1677.9,450.1 1678.0,451.2 1678.1,453.5 1678.2,453.3 1678.3,455.0 1678.4,455.4 1678.5,456.4 1678.5,457.5 1678.6,459.8 1678.6,460.9 1678.7,460.6 1678.8,462.9 1678.8,464.0 1678.9,463.7 1679.0,464.8 1679.0,465.8 1679.1,466.9 1679.1,467.9 1679.2,470.2 1679.3,471.3 1679.3,471.7 1679.4,470.0 1679.4,470.3 1679.4,468.0 1679.5,468.2 1679.5,467.2 1679.5,466.2 1679.6,465.2 1679.6,462.9 1679.6,461.9 1679.7,462.1 1679.7,461.1 1679.7,458.8 1679.8,457.8 1679.8,458.1 1679.8,457.0 1679.9,456.0 1679.9,455.0 1679.9,454.0 1679.9,453.0 1680.0,451.9 1680.0,449.6 1680.0,449.9 1680.1,448.9 1680.1,446.6 1680.1,446.9 1680.2,445.8 1680.2,443.5 1680.2,443.8 1680.3,441.5 1680.3,440.5 1680.3,439.4 1680.4,438.4 1680.4,438.7 1680.4,437.7 1680.5,435.4 1680.5,435.0 1680.5,436.7 1680.6,437.7 1680.6,437.4 1680.7,438.4 1680.7,439.4 1680.7,440.4 1680.8,442.7 1680.8,442.4 1680.8,444.7 1680.9,445.7 1680.9,446.7 1681.0,447.7 1681.0,447.4 1681.0,449.7 1681.1,450.7 1681.1,450.4 1681.1,451.4 1681.2,453.7 1681.2,453.4 1681.3,455.7 1681.3,455.4 1681.3,456.4 1681.4,457.4 1681.4,459.7 1681.4,460.7 1681.5,460.4 1681.5,462.8 1681.6,462.5 1681.6,463.5 1681.6,465.8 1681.7,466.8 1681.7,467.8 1681.8,468.8 1681.8,469.8 1681.8,470.8 1681.9,470.5 1681.9,471.5 1681.9,473.8 1682.0,474.8 1682.0,475.8 1682.1,476.8 1682.1,477.8 1682.1,478.8 1682.2,479.2 1682.2,477.5 1682.2,477.8 1682.2,476.8 1682.3,474.5 1682.3,474.8 1682.3,473.8 1682.3,471.5 1682.4,470.5 1682.4,469.5 1682.4,468.5 1682.4,467.5 1682.5,466.5 1682.5,465.5 1682.5,465.7 1682.5,463.4 1682.6,463.7 1682.6,461.4 1682.6,461.7 1682.6,459.4 1682.7,459.7 1682.7,457.4 1682.7,457.7 1682.7,456.7 1682.8,455.7 1682.8,454.7 1682.8,453.7 1682.8,451.4 1682.9,451.7 1682.9,449.4 1682.9,448.4 1682.9,447.4 1683.0,446.4 1683.0,446.7 1683.0,445.0 1683.4,444.6 1683.8,442.3 1684.2,442.5 1684.7,440.8 1684.7,441.2 1684.7,443.5 1684.8,444.6 1684.8,445.6 1684.8,446.6 1684.9,447.7 1684.9,448.7 1684.9,449.7 1685.0,450.8 1685.0,451.8 1685.0,451.6 1685.1,453.9 1685.1,453.6 1685.1,454.7 1685.2,455.7 1685.2,456.7 1685.2,457.8 1685.3,460.1 1685.3,461.1 1685.3,462.1 1685.4,463.2 1685.4,462.9 1685.4,465.2 1685.5,465.0 1685.5,466.7 1685.7,465.0 1685.8,465.2 1686.0,462.8 1686.1,461.8 1686.3,462.0 1686.4,459.7 1686.6,459.9 1686.7,458.8 1686.9,456.5 1687.0,456.7 1687.2,455.0 1687.2,455.4 1687.2,457.7 1687.3,457.4 1687.3,459.8 1687.3,459.5 1687.4,460.5 1687.4,462.8 1687.4,463.9 1687.5,463.6 1687.5,465.9 1687.5,466.9 1687.6,468.0 1687.6,467.7 1687.6,468.7 1687.6,469.7 1687.7,472.1 1687.7,473.1 1687.7,472.8 1687.8,475.1 1687.8,474.9 1687.8,475.9 1687.9,478.2 1687.9,479.2 1687.9,480.3 1688.0,480.0 1688.0,481.7 1688.6,481.2 1689.1,478.8 1689.7,478.3 1689.7,478.0 1689.7,475.7 1689.7,474.6 1689.7,473.6 1689.8,473.9 1689.8,472.9 1689.8,470.6 1689.8,470.9 1689.8,468.5 1689.9,467.5 1689.9,466.5 1689.9,466.8 1689.9,465.8 1690.0,464.8 1690.0,463.7 1690.0,462.7 1690.0,461.7 1690.0,459.4 1690.1,459.7 1690.1,457.4 1690.1,457.6 1690.1,456.6 1690.1,454.3 1690.2,454.6 1690.2,452.3 1690.2,452.6 1690.2,450.2 1690.2,450.5 1690.3,449.5 1690.3,448.5 1690.3,447.5 1690.3,446.5 1690.3,444.1 1690.4,443.1 1690.4,442.1 1690.4,442.4 1690.4,440.1 1690.4,440.4 1690.5,438.0 1690.5,437.0 1690.5,436.7 1691.2,438.1 1691.9,439.0 1692.7,439.2 1692.7,439.5 1692.7,441.9 1692.7,442.9 1692.7,443.9 1692.7,443.6 1692.7,445.9 1692.8,445.6 1692.8,448.0 1692.8,447.7 1692.8,450.0 1692.8,451.0 1692.8,450.7 1692.8,453.1 1692.8,452.8 1692.9,455.1 1692.9,456.1 1692.9,455.8 1692.9,458.1 1692.9,457.9 1692.9,460.2 1692.9,461.2 1692.9,460.9 1693.0,461.9 1693.0,463.0 1693.0,464.0 1693.0,465.0 1693.0,466.7 1693.2,468.4 1693.4,469.4 1693.6,470.4 1693.8,471.5 1694.0,471.2 1694.2,473.6 1694.5,473.3 1694.7,475.0 1694.6,476.6 1694.6,476.4 1694.5,478.6 1694.4,479.6 1694.4,480.6 1694.3,481.6 1694.3,481.4 1694.2,482.4 1694.2,483.4 1694.1,484.4 1694.1,486.6 1694.0,487.6 1693.9,487.4 1693.9,489.6 1693.8,490.0 1694.6,491.8 1695.3,491.6 1696.0,493.3 1696.0,495.0 1695.9,494.7 1695.9,497.1 1695.8,496.8 1695.8,497.8 1695.8,498.8 1695.7,501.2 1695.7,500.9 1695.7,503.2 1695.6,502.9 1695.6,504.0 1695.5,505.0 1695.5,506.7 1696.2,507.1 1696.9,509.5 1697.7,510.0 1697.7,508.4 1697.7,507.4 1697.7,506.4 1697.7,505.4 1697.7,504.4 1697.7,504.6 1697.7,503.6 1697.7,501.4 1697.8,501.6 1697.8,499.4 1697.8,498.4 1697.8,498.6 1697.8,497.6 1697.8,496.6 1697.8,494.4 1697.8,493.4 1697.8,492.4 1697.8,491.4 1697.8,490.4 1697.9,490.6 1697.9,489.6 1697.9,487.4 1697.9,486.4 1697.9,486.6 1697.9,484.4 1697.9,483.4 1697.9,483.6 1697.9,482.6 1697.9,480.4 1698.0,480.6 1698.0,478.4 1698.0,478.6 1698.0,477.6 1698.0,476.6 1698.0,475.0 1698.2,476.7 1698.3,476.5 1698.5,478.8 1698.6,479.9 1698.8,479.7 1698.9,480.7 1699.1,483.1 1699.2,482.8 1699.4,485.2 1699.5,485.0 1699.7,486.7 1700.5,485.2 1701.3,485.0 1701.3,486.7 1701.3,487.8 1701.2,488.8 1701.2,488.6 1701.2,491.0 1701.2,492.0 1701.1,491.8 1701.1,494.1 1701.1,493.9 1701.0,496.3 1701.0,496.7 1702.2,497.7 1703.3,497.5 1703.3,499.2 1703.3,500.2 1703.3,501.2 1703.3,502.2 1703.3,503.2 1703.3,502.9 1703.2,505.3 1703.2,505.0 1703.2,506.0 1703.2,508.3 1703.2,509.3 1703.2,509.0 1703.2,510.0 1703.2,511.1 1703.2,512.1 1703.1,513.1 1703.1,514.1 1703.1,516.4 1703.1,517.4 1703.1,518.5 1703.1,518.2 1703.1,519.2 1703.1,520.2 1703.0,522.5 1703.0,522.2 1703.0,524.5 1703.0,524.3 1703.0,526.6 1703.0,526.3 1703.0,527.3 1703.0,528.3 1702.9,529.3 1702.9,530.4 1702.9,531.4 1702.9,533.7 1702.9,534.7 1702.9,534.4 1702.9,535.4 1702.9,536.4 1702.8,537.5 1702.8,538.5 1702.8,540.8 1702.8,540.5 1702.8,542.8 1702.8,542.5 1702.8,543.5 1702.8,545.9 1702.8,545.6 1702.7,547.9 1702.7,547.6 1702.7,549.9 1702.7,550.9 1702.7,552.0 1702.7,551.7 1702.7,553.3 1703.2,554.5 1704.2,556.1 1705.3,556.5 1705.4,556.1 1705.4,553.8 1705.5,554.1 1705.5,551.8 1705.6,550.8 1705.6,549.8 1705.7,550.1 1705.7,549.0 1705.8,548.0 1705.8,547.0 1705.9,546.0 1705.9,545.0 1706.0,543.3 1707.8,543.2 1707.9,544.8 1708.0,544.6 1708.1,546.9 1708.2,547.9 1708.3,549.0 1708.4,550.0 1708.5,549.7 1708.6,550.8 1708.7,553.1 1708.7,554.1 1708.8,554.5 1708.8,556.2 1708.8,555.9 1708.8,556.9 1708.8,559.2 1708.8,560.2 1708.8,560.0 1708.8,562.3 1708.8,563.3 1708.8,564.3 1708.8,564.0 1708.8,566.4 1708.8,566.1 1708.8,567.1 1708.8,569.4 1708.8,569.1 1708.8,570.1 1708.8,571.2 1708.8,573.5 1708.8,573.2 1708.8,574.2 1708.8,576.5 1708.8,577.6 1708.8,577.3 1708.8,579.6 1708.8,579.3 1708.8,580.3 1708.8,581.4 1708.8,582.4 1708.8,584.7 1708.8,585.7 1708.8,586.7 1708.8,586.4 1708.8,587.5 1708.8,588.5 1708.8,590.8 1708.8,591.8 1708.8,592.8 1708.8,593.9 1708.8,593.6 1708.8,595.9 1708.8,596.9 1708.8,596.6 1708.8,598.9 1708.8,600.0 1708.8,600.3 1709.3,602.0 1709.8,601.7 1710.3,603.3 1710.3,605.0 1710.3,604.7 1710.2,607.1 1710.2,608.1 1710.2,607.8 1710.1,608.8 1710.1,609.9 1710.0,612.2 1710.0,611.9 1710.0,614.2 1709.9,615.2 1709.9,615.0 1709.9,616.0 1709.8,617.7 1709.9,617.3 1710.0,616.2 1710.1,615.1 1710.2,612.8 1710.2,611.7 1710.3,610.7 1710.4,610.9 1710.5,608.6 1710.6,607.5 1710.7,606.5 1710.8,606.7 1710.8,605.0 1710.9,605.4 1710.9,607.7 1710.9,607.4 1711.0,608.5 1711.0,609.5 1711.1,610.5 1711.1,612.8 1711.1,612.6 1711.2,614.9 1711.2,614.6 1711.3,616.9 1711.3,616.7 1711.3,618.3 1711.4,620.0 1711.4,621.1 1711.5,620.9 1711.6,623.2 1711.6,624.3 1711.7,625.3 1711.7,626.4 1711.8,626.1 1711.8,627.8 1711.9,626.2 1711.9,626.5 1711.9,625.5 1711.9,623.2 1712.0,622.1 1712.0,621.1 1712.0,621.4 1712.0,620.4 1712.0,619.4 1712.1,617.1 1712.1,617.4 1712.1,616.4 1712.1,614.1 1712.2,613.1 1712.2,613.4 1712.2,611.1 1712.2,611.3 1712.3,609.0 1712.3,608.0 1712.3,607.0 1712.3,606.7 1712.4,608.3 1712.5,609.3 1712.5,610.3 1712.6,610.0 1712.6,611.0 1712.7,612.0 1712.8,614.3 1712.8,614.0 1712.9,616.3 1712.9,616.0 1713.0,617.7 1713.0,616.0 1713.0,615.0 1713.0,614.0 1713.1,614.2 1713.1,611.9 1713.1,610.9 1713.1,609.9 1713.1,608.9 1713.1,607.8 1713.2,606.8 1713.2,605.8 1713.2,606.1 1713.2,605.0 1713.2,602.7 1713.2,603.0 1713.2,602.0 1713.3,601.0 1713.3,598.6 1713.3,597.6 1713.3,597.9 1713.3,595.6 1713.3,594.6 1713.4,593.5 1713.4,593.8 1713.4,592.8 1713.4,591.8 1713.4,590.8 1713.4,589.7 1713.5,587.4 1713.5,587.7 1713.5,585.4 1713.5,585.0 1713.9,585.4 1714.2,587.6 1714.6,587.4 1715.0,589.0 1715.0,588.6 1715.0,587.6 1715.1,585.3 1715.1,584.3 1715.1,584.6 1715.1,582.3 1715.2,581.2 1715.2,580.2 1715.2,579.2 1715.2,579.5 1715.2,578.5 1715.3,576.2 1715.3,575.2 1715.3,574.1 1715.3,573.1 1715.3,573.4 1715.4,571.1 1715.4,570.1 1715.4,570.4 1715.4,568.1 1715.5,567.0 1715.5,566.0 1715.5,565.7 1715.6,567.3 1715.7,568.4 1715.8,568.1 1715.9,569.1 1715.9,571.4 1716.0,572.4 1716.1,573.5 1716.2,574.5 1716.3,575.5 1716.4,576.5 1716.5,577.5 1716.6,578.6 1716.6,578.3 1716.7,580.6 1716.8,581.6 1716.9,582.6 1717.0,583.0 1717.1,582.6 1717.1,581.6 1717.2,580.6 1717.2,579.6 1717.3,578.5 1717.4,576.2 1717.4,575.2 1717.5,575.5 1717.6,574.5 1717.6,572.1 1717.7,572.4 1717.8,570.1 1717.8,570.4 1717.9,569.4 1717.9,568.3 1718.0,567.3 1718.1,565.0 1718.1,564.0 1718.2,563.0 1718.2,561.9 1718.3,560.9 1718.4,561.2 1718.4,558.9 1718.5,558.5 1718.6,560.2 1718.6,561.2 1718.7,562.2 1718.8,563.2 1718.8,564.3 1718.9,565.3 1718.9,565.0 1719.0,566.0 1719.1,568.3 1719.1,569.4 1719.2,570.4 1719.2,570.1 1719.3,572.4 1719.4,572.1 1719.4,574.5 1719.5,574.8 1719.6,573.2 1719.6,572.2 1719.7,571.1 1719.7,571.4 1719.8,570.4 1719.8,569.4 1719.9,567.1 1719.9,566.1 1720.0,565.1 1720.0,565.4 1720.1,563.1 1720.1,563.3 1720.2,561.7 1720.3,563.5 1720.4,564.7 1720.5,564.5 1720.6,565.7 1720.7,566.8 1720.8,568.6 1720.9,568.3 1720.9,566.0 1721.0,565.0 1721.0,565.3 1721.1,564.2 1721.1,561.9 1721.2,560.9 1721.2,559.9 1721.3,558.9 1721.3,557.9 1721.4,556.9 1721.4,557.2 1721.5,555.5 1721.6,553.8 1721.7,552.8 1721.8,553.1 1721.9,550.8 1722.0,551.1 1722.1,550.1 1722.2,547.7 1722.3,546.7 1722.5,545.7 1722.6,544.7 1722.7,544.3 1723.0,544.7 1723.3,547.0 1723.7,548.0 1724.0,549.0 1724.3,550.0 1724.7,550.3 1724.6,548.7 1724.6,549.0 1724.6,546.7 1724.6,545.7 1724.6,546.0 1724.5,545.0 1724.5,542.7 1724.5,543.0 1724.5,542.0 1724.5,539.7 1724.4,540.0 1724.4,539.0 1724.4,536.7 1724.4,537.0 1724.4,536.0 1724.3,535.0 1724.3,534.0 1724.3,533.0 1724.3,532.0 1724.2,529.7 1724.2,528.7 1724.2,529.0 1724.2,528.0 1724.2,527.0 1724.1,524.7 1724.1,525.0 1724.1,522.7 1724.1,523.0 1724.1,520.7 1724.0,519.7 1724.0,518.7 1724.0,518.3 1724.2,518.0 1724.5,515.7 1724.8,516.1 1725.0,515.1 1725.2,512.8 1725.5,512.5 1725.8,514.1 1726.2,515.1 1726.5,514.9 1726.8,517.1 1727.2,517.5 1727.1,519.2 1727.0,518.9 1727.0,521.3 1726.9,522.3 1726.8,522.1 1726.8,524.4 1726.7,525.4 1726.6,525.2 1726.5,526.2 1726.5,527.3 1726.4,528.3 1726.3,530.0 1726.8,530.3 1727.2,532.6 1727.6,532.3 1728.0,534.5 1728.4,535.5 1728.8,535.8 1728.9,534.1 1729.1,533.0 1729.2,533.2 1729.3,530.9 1729.4,529.8 1729.5,530.0 1729.7,527.6 1729.8,526.5 1729.9,525.4 1730.0,525.0 1730.8,523.5 1731.7,523.3 1731.6,523.0 1731.6,520.6 1731.6,519.6 1731.6,519.9 1731.6,517.6 1731.6,516.6 1731.5,515.6 1731.5,514.5 1731.5,513.5 1731.5,512.5 1731.5,511.5 1731.4,510.5 1731.4,509.4 1731.4,508.4 1731.4,508.7 1731.4,507.7 1731.4,505.4 1731.3,505.0 1732.3,503.5 1733.3,503.3 1733.3,503.0 1733.3,502.0 1733.3,501.0 1733.3,500.0 1733.2,497.7 1733.2,498.0 1733.2,495.7 1733.2,494.7 1733.2,493.7 1733.2,492.7 1733.1,493.0 1733.1,490.7 1733.1,489.7 1733.1,490.0 1733.1,487.7 1733.1,488.0 1733.0,487.0 1733.0,486.0 1733.0,483.7 1733.0,483.3 1733.1,485.1 1733.3,484.9 1733.4,486.1 1733.5,488.5 1733.7,488.4 1733.8,490.1 1734.1,488.3 1734.4,487.1 1734.7,486.5 1734.8,488.3 1734.9,489.4 1735.1,490.6 1735.2,491.7 1735.4,491.6 1735.5,493.3 1735.6,492.9 1735.7,491.8 1735.8,490.7 1735.8,488.4 1735.9,488.6 1736.0,486.2 1736.1,486.4 1736.2,484.0 1736.2,482.9 1736.3,482.5 1738.0,481.7 1738.0,480.0 1737.9,479.0 1737.9,477.9 1737.9,476.9 1737.9,475.9 1737.8,474.9 1737.8,473.8 1737.8,472.8 1737.8,473.1 1737.7,470.8 1737.7,469.7 1737.7,470.0 1737.7,468.3 1738.1,466.7 1738.6,465.7 1739.1,464.8 1739.6,465.1 1740.0,462.8 1740.5,462.5 1740.6,462.9 1740.6,463.9 1740.7,464.9 1740.7,465.9 1740.8,468.1 1740.9,467.9 1740.9,470.1 1741.0,469.9 1741.0,470.9 1741.1,471.9 1741.1,474.1 1741.2,473.9 1741.3,474.9 1741.3,475.9 1741.4,476.9 1741.4,479.1 1741.5,479.5 1741.6,479.9 1741.6,480.9 1741.7,481.9 1741.8,482.9 1741.8,484.0 1741.9,486.3 1742.0,486.0 1742.0,488.3 1742.1,489.3 1742.2,490.4 1742.2,491.4 1742.3,491.1 1742.3,492.1 1742.4,494.5 1742.5,494.2 1742.5,496.5 1742.6,496.2 1742.7,497.2 1742.7,499.6 1742.8,499.3 1742.9,501.6 1742.9,501.3 1743.0,503.0 1743.8,502.6 1744.5,501.0 1744.5,499.3 1744.6,498.3 1744.6,498.6 1744.6,497.5 1744.7,495.2 1744.7,494.2 1744.7,494.5 1744.8,492.1 1744.8,492.4 1744.9,491.4 1744.9,490.4 1744.9,488.0 1745.0,488.3 1745.0,486.0 1745.0,485.0 1745.1,485.2 1745.1,482.9 1745.1,481.9 1745.2,481.5 1745.4,483.2 1745.7,482.9 1745.9,485.2 1746.2,485.0 1746.4,486.0 1746.7,487.7 1746.7,487.3 1746.7,486.3 1746.7,485.3 1746.7,484.3 1746.7,483.3 1746.7,481.0 1746.7,481.3 1746.7,479.0 1746.7,479.3 1746.7,478.3 1746.7,477.3 1746.7,475.0 1746.7,474.0 1746.7,474.3 1746.7,472.0 1746.7,472.3 1746.7,470.0 1746.7,470.3 1746.7,468.0 1746.7,468.3 1746.7,467.3 1746.7,466.3 1746.7,464.0 1746.7,464.3 1746.7,462.0 1746.7,461.0 1746.7,460.0 1746.7,460.3 1746.7,458.0 1746.7,458.3 1746.7,457.3 1746.7,455.0 1746.7,454.0 1746.7,453.0 1746.7,452.0 1746.7,451.0 1746.7,451.3 1746.7,450.3 1746.7,448.0 1746.7,448.3 1746.7,447.3 1746.7,445.0 1746.7,444.0 1746.7,444.3 1746.7,443.3 1746.7,442.3 1746.7,440.0 1746.7,440.3 1746.7,438.0 1746.7,437.0 1746.7,437.3 1746.7,436.3 1746.7,434.0 1746.7,433.0 1746.7,433.3 1746.7,431.0 1746.7,430.7 1747.4,429.0 1748.2,428.7 1748.2,430.3 1748.2,430.1 1748.2,431.1 1748.3,433.4 1748.3,434.4 1748.3,434.1 1748.4,435.1 1748.4,436.2 1748.4,437.2 1748.4,438.2 1748.5,439.2 1748.5,441.5 1748.5,441.3 1748.6,442.3 1748.6,443.3 1748.6,444.3 1748.6,446.6 1748.7,447.0 1748.7,446.6 1748.7,444.3 1748.7,444.6 1748.7,443.6 1748.8,442.6 1748.8,441.6 1748.8,439.3 1748.8,438.3 1748.8,438.6 1748.8,437.6 1748.9,435.3 1748.9,435.6 1748.9,434.6 1748.9,432.3 1748.9,431.3 1748.9,430.3 1749.0,429.3 1749.0,428.2 1749.0,427.2 1749.0,426.2 1749.0,425.2 1749.0,425.5 1749.1,424.5 1749.1,423.5 1749.1,421.2 1749.1,420.2 1749.1,419.2 1749.1,418.2 1749.2,417.2 1749.2,416.8 1750.7,416.3 1750.7,418.0 1750.7,419.0 1750.8,420.0 1750.8,419.8 1750.8,420.8 1750.9,423.1 1750.9,424.1 1750.9,423.8 1751.0,426.2 1751.0,425.9 1751.0,426.9 1751.1,429.2 1751.1,428.9 1751.2,431.3 1751.2,431.0 1751.2,433.3 1751.3,434.3 1751.3,434.0 1751.3,435.7 1751.4,434.0 1751.5,434.3 1751.5,432.0 1751.6,432.3 1751.7,429.9 1751.7,430.2 1751.8,427.9 1751.9,428.2 1751.9,427.1 1752.0,425.5 1752.0,425.8 1752.1,426.8 1752.1,427.9 1752.1,428.9 1752.2,431.2 1752.2,432.2 1752.2,431.9 1752.3,434.3 1752.3,434.0 1752.3,435.0 1752.4,437.3 1752.4,438.3 1752.5,438.1 1752.5,439.1 1752.5,441.4 1752.6,442.4 1752.6,442.1 1752.6,444.5 1752.7,444.8 1752.7,443.2 1752.7,443.4 1752.7,441.1 1752.7,441.4 1752.8,439.1 1752.8,439.4 1752.8,438.4 1752.8,436.1 1752.8,436.3 1752.8,434.0 1752.9,434.3 1752.9,433.3 1752.9,431.0 1752.9,431.2 1752.9,428.9 1752.9,427.9 1753.0,426.9 1753.0,425.9 1753.0,424.9 1753.0,425.1 1753.0,424.1 1753.0,423.1 1753.1,420.8 1753.1,421.1 1753.1,418.8 1753.1,419.0 1753.1,416.7 1753.1,417.0 1753.2,414.7 1753.2,414.3 1753.3,412.6 1753.5,412.9 1753.7,411.8 1753.9,410.1 1754.2,411.9 1754.6,412.4 1754.8,410.7 1755.0,409.6 1755.1,408.6 1755.3,408.2 1756.3,408.6 1757.3,407.7 1757.3,408.0 1757.3,409.0 1757.3,411.3 1757.3,411.1 1757.3,413.4 1757.3,414.4 1757.2,415.4 1757.2,415.1 1757.2,416.1 1757.2,417.1 1757.2,418.1 1757.2,419.1 1757.2,420.1 1757.2,421.1 1757.1,423.4 1757.1,423.2 1757.1,425.5 1757.1,425.2 1757.1,427.5 1757.1,428.5 1757.1,428.2 1757.1,429.2 1757.0,431.5 1757.0,431.2 1757.0,433.5 1757.0,433.2 1757.0,435.5 1757.0,436.5 1757.0,436.3 1757.0,437.3 1756.9,439.6 1756.9,439.3 1756.9,441.6 1756.9,441.3 1756.9,443.6 1756.9,443.3 1756.9,445.6 1756.9,445.3 1756.8,447.6 1756.8,448.0 1756.9,446.3 1756.9,445.3 1756.9,444.3 1757.0,443.3 1757.0,442.3 1757.0,442.6 1757.1,441.6 1757.1,440.6 1757.1,438.3 1757.2,437.3 1757.2,436.3 1757.2,435.2 1757.3,435.5 1757.3,433.2 1757.3,433.5 1757.4,432.5 1757.4,431.5 1757.4,430.5 1757.5,429.5 1757.5,427.8 1757.6,429.5 1757.6,429.3 1757.7,431.7 1757.8,432.7 1757.8,432.5 1757.9,433.6 1758.0,436.0 1758.0,437.0 1758.1,436.8 1758.2,438.5 1758.2,436.8 1758.2,437.1 1758.3,434.8 1758.3,435.1 1758.3,432.8 1758.4,433.1 1758.4,432.1 1758.4,429.8 1758.5,430.1 1758.5,427.8 1758.5,426.8 1758.6,425.8 1758.6,426.0 1758.6,423.7 1758.7,424.0 1758.7,421.7 1758.7,420.7 1758.8,421.0 1758.8,420.0 1758.8,418.3 1758.8,418.7 1758.8,419.7 1758.8,422.0 1758.8,421.8 1758.8,424.1 1758.7,425.1 1758.7,426.1 1758.7,425.9 1758.7,428.2 1758.7,429.2 1758.7,430.2 1758.6,431.2 1758.6,432.3 1758.6,433.3 1758.6,433.0 1758.6,435.3 1758.6,436.3 1758.5,437.4 1758.5,438.4 1758.5,438.1 1758.5,440.4 1758.5,441.5 1758.5,442.5 1758.4,443.5 1758.4,444.5 1758.4,445.5 1758.4,445.3 1758.4,447.6 1758.4,447.3 1758.3,448.3 1758.3,450.0 1759.3,449.9 1760.3,451.0 1760.4,449.3 1760.5,449.6 1760.5,448.6 1760.6,447.6 1760.7,445.2 1760.8,445.5 1760.8,443.2 1760.9,443.5 1761.0,442.4 1761.0,440.1 1761.1,440.4 1761.2,439.4 1761.3,437.0 1761.3,436.7 1761.4,438.3 1761.4,438.1 1761.4,440.4 1761.4,440.1 1761.4,441.1 1761.5,442.1 1761.5,443.2 1761.5,445.5 1761.5,445.2 1761.6,447.5 1761.6,448.6 1761.6,448.3 1761.6,450.6 1761.6,451.6 1761.7,451.3 1761.7,453.7 1761.7,454.7 1761.7,455.7 1761.7,455.4 1761.8,457.8 1761.8,458.8 1761.8,458.5 1761.8,460.2 1762.0,460.5 1762.1,461.6 1762.2,463.9 1762.4,463.6 1762.5,465.9 1762.6,465.6 1762.7,466.6 1762.9,469.0 1763.0,469.3 1763.3,471.0 1763.6,470.8 1763.9,471.8 1764.2,474.1 1764.5,474.5 1764.5,472.8 1764.5,473.1 1764.6,472.1 1764.6,471.1 1764.6,468.7 1764.6,469.0 1764.7,466.7 1764.7,467.0 1764.7,464.6 1764.7,463.6 1764.8,462.6 1764.8,462.9 1764.8,460.5 1764.8,459.5 1764.9,459.8 1764.9,458.8 1764.9,457.7 1764.9,456.7 1765.0,455.7 1765.0,453.4 1765.0,453.0 1765.1,453.4 1765.2,455.7 1765.3,455.4 1765.4,456.4 1765.4,457.4 1765.5,458.5 1765.6,460.8 1765.7,460.5 1765.8,461.5 1765.9,462.5 1766.0,463.6 1766.1,465.9 1766.1,466.9 1766.2,466.6 1766.3,467.6 1766.4,468.7 1766.5,470.3 1766.5,468.7 1766.5,469.0 1766.5,466.7 1766.5,465.7 1766.5,464.7 1766.5,463.7 1766.5,462.7 1766.5,463.0 1766.5,462.0 1766.5,461.0 1766.5,458.7 1766.5,459.0 1766.5,456.7 1766.5,455.7 1766.5,456.0 1766.5,453.7 1766.5,452.7 1766.6,453.0 1766.6,452.0 1766.6,451.0 1766.6,450.0 1766.6,449.0 1766.6,448.0 1766.6,447.0 1766.6,446.0 1766.6,443.7 1766.6,444.0 1766.6,441.7 1766.6,442.0 1766.6,439.7 1766.6,440.0 1766.6,439.0 1766.6,438.0 1766.6,435.7 1766.6,434.7 1766.6,435.0 1766.6,432.7 1766.6,433.0 1766.6,430.7 1766.6,429.7 1766.6,430.0 1766.6,427.7 1766.6,426.7 1766.6,425.7 1766.6,424.7 1766.6,423.7 1766.6,422.7 1766.6,421.7 1766.6,420.7 1766.6,421.0 1766.6,420.0 1766.6,417.7 1766.6,418.0 1766.7,415.7 1766.7,416.0 1766.7,413.7 1766.7,412.7 1766.7,411.7 1766.7,411.3 1767.3,409.6 1767.9,409.9 1768.5,408.2 1768.5,409.8 1768.5,409.6 1768.6,411.9 1768.6,412.9 1768.6,412.6 1768.6,414.9 1768.6,416.0 1768.7,417.0 1768.7,416.7 1768.7,419.0 1768.7,420.0 1768.7,419.8 1768.8,420.8 1768.8,421.8 1768.8,422.8 1768.8,423.8 1768.8,426.2 1768.9,427.2 1768.9,428.2 1768.9,429.2 1768.9,428.9 1768.9,430.0 1769.0,432.3 1769.0,433.3 1769.0,433.7 1769.1,434.1 1769.2,435.2 1769.3,437.5 1769.4,437.3 1769.6,439.7 1769.7,439.4 1769.8,440.5 1769.9,442.9 1770.0,443.9 1770.1,445.0 1770.2,444.8 1770.3,446.5 1770.3,446.1 1770.4,445.1 1770.4,442.8 1770.4,443.1 1770.4,440.8 1770.4,439.8 1770.4,440.1 1770.5,439.1 1770.5,438.1 1770.5,435.8 1770.5,434.8 1770.5,433.8 1770.5,434.1 1770.5,431.7 1770.6,430.7 1770.6,431.0 1770.6,430.0 1770.6,429.0 1770.6,428.0 1770.6,427.0 1770.6,424.7 1770.7,423.7 1770.7,424.0 1770.7,423.0 1770.7,422.0 1770.7,421.0 1770.7,419.9 1770.7,417.6 1770.8,417.9 1770.8,415.6 1770.8,414.6 1770.8,413.6 1770.8,412.6 1770.8,411.6 1770.9,410.6 1770.9,410.9 1770.9,409.9 1770.9,407.6 1770.9,406.6 1770.9,406.9 1770.9,405.8 1771.0,404.8 1771.0,402.5 1771.0,401.5 1771.0,401.2 1771.8,400.8 1772.5,399.2 1772.5,400.8 1772.6,400.6 1772.6,401.6 1772.7,403.9 1772.7,403.7 1772.7,406.0 1772.8,405.7 1772.8,406.8 1772.9,409.1 1772.9,408.8 1772.9,409.8 1773.0,410.9 1773.0,411.9 1773.0,414.2 1773.1,414.0 1773.1,416.3 1773.2,416.7 1773.2,416.3 1773.2,414.0 1773.2,414.3 1773.3,413.3 1773.3,412.3 1773.3,410.0 1773.3,409.0 1773.4,408.0 1773.4,408.3 1773.4,407.3 1773.4,405.0 1773.5,405.3 1773.5,404.3 1773.5,403.3 1773.5,402.3 1773.6,400.0 1773.6,399.0 1773.6,399.3 1773.6,398.3 1773.7,396.7 1773.9,397.1 1774.2,398.3 1774.4,399.4 1774.7,401.2 1774.6,402.8 1774.6,403.8 1774.5,404.9 1774.4,404.6 1774.4,405.6 1774.3,406.6 1774.3,408.9 1774.2,409.9 1774.1,410.9 1774.1,410.6 1774.0,413.0 1774.0,414.0 1773.9,415.0 1773.9,416.0 1773.8,417.0 1773.7,416.7 1773.7,417.7 1773.6,418.7 1773.6,419.8 1773.5,420.8 1773.5,421.8 1773.4,424.1 1773.3,425.1 1773.3,426.1 1773.2,427.1 1773.2,427.5 1773.2,429.2 1773.2,430.2 1773.2,429.9 1773.2,432.2 1773.3,431.9 1773.3,434.2 1773.3,433.9 1773.3,434.9 1773.3,437.2 1773.4,438.2 1773.4,438.0 1773.4,440.3 1773.4,440.0 1773.4,442.3 1773.5,442.0 1773.5,443.0 1773.5,445.3 1773.5,446.3 1773.5,446.0 1773.6,448.3 1773.6,449.4 1773.6,450.4 1773.6,450.1 1773.6,451.1 1773.7,452.1 1773.7,454.4 1773.7,454.1 1773.7,455.1 1773.7,457.4 1773.8,458.4 1773.8,459.5 1773.8,460.5 1773.8,460.8 1773.9,459.1 1773.9,459.4 1773.9,457.1 1774.0,456.0 1774.0,456.3 1774.1,455.2 1774.1,454.2 1774.1,453.2 1774.2,450.8 1774.2,449.8 1774.3,448.8 1774.3,447.7 1774.3,446.7 1774.4,445.6 1774.4,444.6 1774.4,444.9 1774.5,443.2 1774.5,443.5 1774.5,445.8 1774.5,445.6 1774.6,446.6 1774.6,447.6 1774.6,449.9 1774.6,449.6 1774.7,451.9 1774.7,452.9 1774.7,452.6 1774.7,453.6 1774.7,454.6 1774.8,455.7 1774.8,456.7 1774.8,459.0 1774.8,458.7 1774.8,459.7 1774.9,462.0 1774.9,463.0 1774.9,464.0 1774.9,465.0 1774.9,466.0 1775.0,465.8 1775.0,468.1 1775.0,467.8 1775.0,470.1 1775.0,469.8 1775.1,470.8 1775.1,473.1 1775.1,472.8 1775.1,473.8 1775.1,474.8 1775.2,476.5 1775.2,476.1 1775.2,475.1 1775.2,472.8 1775.2,471.8 1775.2,472.1 1775.3,469.8 1775.3,470.1 1775.3,469.1 1775.3,468.1 1775.3,465.8 1775.3,466.1 1775.3,465.1 1775.3,462.8 1775.4,463.1 1775.4,460.8 1775.4,461.1 1775.4,458.8 1775.4,459.1 1775.4,458.1 1775.4,455.8 1775.5,456.1 1775.5,455.0 1775.5,454.0 1775.5,453.0 1775.5,450.7 1775.5,449.7 1775.5,450.0 1775.6,447.7 1775.6,446.7 1775.6,447.0 1775.6,444.7 1775.6,445.0 1775.6,444.0 1775.6,443.0 1775.7,442.0 1775.7,439.7 1775.7,440.0 1775.7,439.0 1775.7,436.7 1775.7,435.7 1775.7,434.7 1775.8,435.0 1775.8,432.6 1775.8,431.6 1775.8,430.6 1775.8,430.9 1775.8,429.9 1775.8,428.9 1775.9,426.6 1775.9,426.9 1775.9,424.6 1775.9,423.6 1775.9,422.6 1775.9,422.9 1775.9,421.9 1776.0,420.9 1776.0,419.9 1776.0,418.9 1776.0,416.6 1776.0,415.6 1776.0,414.6 1776.0,413.6 1776.1,412.6 1776.1,412.8 1776.1,410.5 1776.1,409.5 1776.1,408.5 1776.1,407.5 1776.1,407.8 1776.2,405.5 1776.2,405.2 1776.1,406.8 1776.1,406.5 1776.1,407.6 1776.1,408.6 1776.1,410.9 1776.0,410.6 1776.0,412.9 1776.0,412.6 1776.0,415.0 1775.9,416.0 1775.9,417.0 1775.9,416.7 1775.9,419.0 1775.8,420.0 1775.8,419.7 1775.8,420.8 1775.8,421.8 1775.8,424.1 1775.7,423.8 1775.7,424.8 1775.7,425.8 1775.7,427.5 1777.2,426.5 1777.2,426.9 1777.2,429.2 1777.2,428.9 1777.2,429.9 1777.2,430.9 1777.3,433.2 1777.3,432.9 1777.3,435.2 1777.3,434.9 1777.3,435.9 1777.3,436.9 1777.3,437.9 1777.4,438.9 1777.4,441.2 1777.4,442.2 1777.4,443.2 1777.4,442.9 1777.4,443.9 1777.5,446.2 1777.5,446.0 1777.5,447.0 1777.5,449.3 1777.5,449.0 1777.5,450.0 1777.5,452.3 1777.6,452.0 1777.6,453.0 1777.6,454.0 1777.6,456.3 1777.6,456.0 1777.6,458.3 1777.7,458.0 1777.7,459.0 1777.7,461.3 1777.7,461.0 1777.7,462.0 1777.7,464.3 1777.7,464.0 1777.8,466.3 1777.8,467.4 1777.8,468.4 1777.8,469.4 1777.8,469.1 1777.8,471.4 1777.8,471.1 1777.9,472.1 1777.9,473.1 1777.9,475.4 1777.9,476.4 1777.9,476.1 1777.9,478.4 1778.0,479.4 1778.0,480.4 1778.0,481.4 1778.0,482.4 1778.0,482.1 1778.0,483.1 1778.0,484.1 1778.1,486.4 1778.1,487.5 1778.1,488.5 1778.1,489.5 1778.1,489.2 1778.1,491.5 1778.2,492.5 1778.2,492.8 1778.2,491.2 1778.2,491.5 1778.2,489.2 1778.2,489.5 1778.3,487.2 1778.3,486.2 1778.3,486.5 1778.3,485.5 1778.3,483.2 1778.3,482.2 1778.4,481.2 1778.4,480.1 1778.4,480.4 1778.4,479.4 1778.4,477.1 1778.4,476.1 1778.5,476.4 1778.5,474.1 1778.5,473.1 1778.5,473.4 1778.5,472.4 1778.6,471.4 1778.6,469.1 1778.6,469.4 1778.6,467.1 1778.6,466.1 1778.6,466.4 1778.7,464.1 1778.7,463.1 1778.7,463.4 1778.7,462.4 1778.7,460.1 1778.7,459.1 1778.8,459.4 1778.8,457.1 1778.8,456.1 1778.8,456.4 1778.8,455.4 1778.9,454.4 1778.9,453.4 1778.9,451.1 1778.9,450.1 1778.9,449.1 1778.9,448.1 1779.0,447.1 1779.0,446.0 1779.0,446.3 1779.0,445.3 1779.0,443.0 1779.0,443.3 1779.1,441.0 1779.1,440.0 1779.1,439.0 1779.1,439.3 1779.1,437.0 1779.1,436.0 1779.2,435.7 1780.2,435.7 1780.2,435.3 1780.3,434.3 1780.3,432.0 1780.4,432.3 1780.4,431.2 1780.4,430.2 1780.5,427.9 1780.5,428.2 1780.6,427.2 1780.6,424.9 1780.7,423.9 1780.7,422.9 1780.8,423.1 1780.8,420.8 1780.9,421.1 1780.9,420.1 1781.0,419.1 1781.0,416.8 1781.1,415.8 1781.1,416.0 1781.1,413.7 1781.2,414.0 1781.2,411.7 1781.3,410.7 1781.3,410.3 1782.3,408.6 1783.3,408.2 1783.4,407.8 1783.4,405.5 1783.4,404.5 1783.4,403.4 1783.4,402.4 1783.5,402.7 1783.5,401.7 1783.5,400.0 1783.2,400.4 1782.9,402.8 1782.6,403.9 1782.3,403.6 1782.0,406.0 1781.7,407.1 1781.4,406.8 1781.1,407.9 1780.8,409.6 1780.8,407.9 1780.8,406.9 1780.8,405.9 1780.7,406.1 1780.7,403.8 1780.7,404.0 1780.7,403.0 1780.7,401.9 1780.6,399.6 1780.6,398.5 1780.6,398.8 1780.6,397.8 1780.6,396.7 1780.5,395.7 1780.5,393.3 1780.5,392.3 1780.5,391.2 1780.4,390.8 1780.5,391.2 1780.6,392.2 1780.7,393.3 1780.8,394.3 1780.9,396.6 1781.0,396.4 1781.1,397.4 1781.2,399.7 1781.3,400.8 1781.4,401.8 1781.5,401.5 1781.6,402.5 1781.7,403.6 1781.8,404.6 1781.9,405.6 1782.0,408.0 1782.1,408.3 1783.0,408.3 1783.0,406.7 1783.0,407.0 1783.0,404.7 1783.0,403.7 1783.0,404.0 1782.9,403.0 1782.9,400.7 1782.9,401.0 1782.9,400.0 1782.9,399.0 1782.9,398.0 1782.9,397.0 1782.8,396.0 1782.8,395.0 1782.8,392.7 1782.8,391.7 1782.8,392.0 1782.8,389.7 1782.8,390.0 1782.7,387.7 1782.7,388.0 1782.7,385.7 1782.7,384.7 1782.7,385.0 1782.7,384.0 1782.7,381.7 1782.6,380.7 1782.6,379.7 1782.6,380.0 1782.6,377.7 1782.6,378.0 1782.6,375.7 1782.5,374.7 1782.5,375.0 1782.5,373.3 1782.8,375.0 1783.0,374.8 1783.3,375.8 1783.6,378.1 1783.8,378.5 1783.8,376.9 1783.8,377.2 1783.8,374.8 1783.8,373.8 1783.8,374.1 1783.8,373.1 1783.8,370.8 1783.8,369.8 1783.8,368.8 1783.8,367.8 1783.8,366.8 1783.8,365.8 1783.8,366.1 1783.8,363.8 1783.8,364.0 1783.8,361.7 1783.8,362.0 1783.8,361.0 1783.8,360.0 1783.8,359.0 1783.8,356.7 1783.8,357.0 1783.8,354.7 1783.8,353.7 1783.8,352.7 1783.8,351.7 1783.8,351.9 1783.8,350.9 1783.8,349.9 1783.8,348.9 1783.8,346.6 1783.8,346.9 1783.8,345.9 1783.8,343.6 1783.8,343.9 1783.8,342.2 1783.9,342.6 1783.9,344.9 1783.9,346.0 1784.0,345.7 1784.0,346.7 1784.1,347.7 1784.1,350.1 1784.2,349.8 1784.2,352.1 1784.2,351.8 1784.3,354.2 1784.3,353.9 1784.4,354.9 1784.4,355.9 1784.5,358.3 1784.5,359.3 1784.5,360.3 1784.6,361.3 1784.6,361.1 1784.7,363.4 1784.7,363.1 1784.8,365.5 1784.8,366.5 1784.9,366.2 1784.9,368.5 1784.9,369.6 1785.0,370.6 1785.0,370.3 1785.1,371.3 1785.1,372.4 1785.2,374.7 1785.2,375.7 1785.2,375.4 1785.3,376.5 1785.3,377.5 1785.4,379.2 1786.4,378.5 1786.4,378.2 1786.4,377.2 1786.4,374.9 1786.4,373.9 1786.4,372.9 1786.3,371.9 1786.3,370.9 1786.3,371.2 1786.3,370.2 1786.3,369.2 1786.3,368.2 1786.3,367.2 1786.3,364.9 1786.3,365.2 1786.2,364.2 1786.2,363.2 1786.2,360.9 1786.2,359.9 1786.2,360.2 1786.2,359.2 1786.2,358.2 1786.2,357.2 1786.2,354.9 1786.1,355.2 1786.1,354.2 1786.1,353.2 1786.1,350.9 1786.1,349.9 1786.1,350.2 1786.1,347.9 1786.1,348.2 1786.1,345.9 1786.0,344.9 1786.0,343.9 1786.0,343.5 1786.1,343.9 1786.2,344.9 1786.3,346.0 1786.4,347.0 1786.4,348.1 1786.5,349.1 1786.6,351.4 1786.7,351.2 1786.8,353.5 1786.9,354.5 1786.9,355.6 1787.0,356.6 1787.1,357.7 1787.2,358.7 1787.3,359.7 1787.4,359.5 1787.5,360.5 1787.5,361.5 1787.6,362.6 1787.7,364.3 1787.7,362.6 1787.8,362.8 1787.8,361.7 1787.8,359.4 1787.8,359.6 1787.8,357.2 1787.9,356.2 1787.9,355.1 1787.9,354.1 1787.9,353.0 1788.0,352.6 1789.0,351.9 1789.0,350.3 1789.0,350.6 1788.9,348.2 1788.9,348.5 1788.9,346.2 1788.9,346.5 1788.9,344.2 1788.8,344.5 1788.8,342.2 1788.8,341.1 1788.8,340.1 1788.7,339.1 1788.7,338.1 1788.7,338.4 1788.7,337.4 1788.7,335.0 1788.6,334.0 1788.6,333.0 1788.6,332.0 1788.6,332.3 1788.6,331.3 1788.5,330.2 1788.5,327.9 1788.5,328.2 1788.5,325.9 1788.5,326.2 1788.4,323.9 1788.4,324.1 1788.4,323.1 1788.4,322.1 1788.3,321.1 1788.3,318.8 1788.3,317.8 1788.3,316.8 1788.3,317.0 1788.2,316.0 1788.2,314.4 1788.3,316.0 1788.4,315.7 1788.5,318.1 1788.5,319.1 1788.6,318.8 1788.7,321.1 1788.8,320.8 1788.9,323.2 1788.9,324.2 1789.0,325.2 1789.1,324.9 1789.2,325.9 1789.3,328.2 1789.3,329.3 1789.4,330.3 1789.5,331.3 1789.6,332.3 1789.7,333.3 1789.7,333.1 1789.8,334.1 1789.9,335.7 1790.0,334.1 1790.0,333.0 1790.1,333.3 1790.1,332.3 1790.2,330.0 1790.2,328.9 1790.3,327.9 1790.3,326.9 1790.4,327.2 1790.4,324.8 1790.5,323.8 1790.6,324.1 1790.6,321.8 1790.7,322.0 1790.7,319.7 1790.8,320.0 1790.8,318.9 1790.9,317.9 1790.9,315.6 1791.0,315.9 1791.0,313.5 1791.1,313.8 1791.2,312.8 1791.2,311.1 1791.3,312.8 1791.3,313.8 1791.4,313.5 1791.5,314.6 1791.6,316.9 1791.6,317.9 1791.7,317.6 1791.8,318.7 1791.8,321.0 1791.9,320.7 1792.0,323.1 1792.0,322.8 1792.1,325.1 1792.2,324.8 1792.3,327.2 1792.3,328.2 1792.4,329.2 1792.5,330.2 1792.5,331.3 1792.6,331.0 1792.7,333.3 1792.7,334.3 1792.8,335.4 1792.9,335.7 1793.1,337.4 1793.3,338.4 1793.6,339.4 1793.8,339.2 1794.0,340.2 1794.2,342.5 1794.4,342.9 1794.4,341.2 1794.4,340.2 1794.3,340.4 1794.3,339.4 1794.3,338.4 1794.2,336.1 1794.2,335.0 1794.2,334.0 1794.1,334.3 1794.1,333.3 1794.0,330.9 1794.0,331.2 1794.0,328.9 1793.9,329.2 1793.9,328.1 1793.9,325.8 1793.8,324.8 1793.8,323.7 1793.8,322.7 1793.7,323.0 1793.7,322.0 1793.7,320.9 1793.6,318.6 1793.6,317.6 1793.5,317.9 1793.5,316.8 1793.5,315.8 1793.4,314.8 1793.4,312.5 1793.4,312.7 1793.3,311.7 1793.3,309.4 1793.3,309.7 1793.2,308.6 1793.2,306.3 1793.1,305.9 1793.8,306.1 1794.4,308.3 1795.1,308.5 1795.2,310.2 1795.2,311.2 1795.3,312.3 1795.4,312.0 1795.4,314.4 1795.5,315.4 1795.5,316.4 1795.6,317.5 1795.7,317.2 1795.7,319.5 1795.8,320.6 1795.9,320.3 1795.9,321.4 1796.0,322.4 1796.1,323.4 1796.1,324.5 1796.2,325.5 1796.3,327.8 1796.3,328.9 1796.4,329.3 1796.4,327.6 1796.4,326.6 1796.3,325.6 1796.3,324.6 1796.3,323.6 1796.3,323.9 1796.3,321.6 1796.3,321.9 1796.3,320.9 1796.2,318.6 1796.2,318.9 1796.2,316.6 1796.2,315.6 1796.2,315.9 1796.2,313.6 1796.2,313.9 1796.1,311.6 1796.1,310.6 1796.1,310.9 1796.1,308.6 1796.1,308.9 1796.1,306.6 1796.1,305.6 1796.0,305.9 1796.0,303.6 1796.0,303.9 1796.0,302.9 1796.0,301.9 1796.0,299.6 1795.9,298.6 1795.9,298.9 1795.9,297.9 1795.9,296.9 1795.9,295.9 1795.9,293.6 1795.9,293.8 1795.8,292.8 1795.8,290.5 1795.8,289.5 1795.8,288.5 1795.8,287.5 1795.8,286.5 1795.8,285.5 1795.7,285.2 1795.8,283.5 1795.9,283.8 1796.0,282.7 1796.1,280.4 1796.1,279.4 1796.2,278.3 1796.3,278.6 1796.4,276.9 1796.5,278.6 1796.6,279.7 1796.7,279.5 1796.8,281.9 1796.8,283.0 1796.9,284.1 1797.0,285.2 1797.1,285.0 1797.2,287.3 1797.3,287.8 1797.3,288.1 1797.4,289.1 1797.4,291.5 1797.4,291.2 1797.4,292.2 1797.5,293.2 1797.5,295.5 1797.5,296.5 1797.6,296.2 1797.6,297.2 1797.6,298.2 1797.6,299.2 1797.7,300.2 1797.7,302.5 1797.7,303.6 1797.8,304.6 1797.8,304.3 1797.8,305.3 1797.8,307.6 1797.9,307.3 1797.9,309.6 1797.9,310.6 1798.0,310.3 1798.0,311.3 1798.0,312.3 1798.0,314.6 1798.1,315.7 1798.1,315.4 1798.1,317.7 1798.2,317.4 1798.2,318.4 1798.2,319.4 1798.2,321.7 1798.3,322.7 1798.3,322.4 1798.3,324.7 1798.4,324.4 1798.4,326.7 1798.4,326.5 1798.4,328.8 1798.5,329.8 1798.5,330.8 1798.5,330.5 1798.6,331.5 1798.6,333.2 1798.6,332.8 1798.6,330.5 1798.6,330.8 1798.6,328.5 1798.6,328.8 1798.6,327.8 1798.6,326.7 1798.6,324.4 1798.6,324.7 1798.6,323.7 1798.6,321.4 1798.6,320.4 1798.6,320.7 1798.6,319.7 1798.6,317.4 1798.6,317.7 1798.6,315.4 1798.6,315.7 1798.6,314.7 1798.6,312.3 1798.6,311.3 1798.6,310.3 1798.6,310.6 1798.6,308.3 1798.6,308.6 1798.6,306.3 1798.6,306.6 1798.6,305.6 1798.6,303.3 1798.6,302.3 1798.6,301.3 1798.6,300.3 1798.6,299.2 1798.6,299.5 1798.6,297.2 1798.6,297.5 1798.6,295.2 1798.6,294.2 1798.6,294.5 1798.6,293.5 1798.6,291.2 1798.6,290.2 1798.6,289.2 1798.6,289.5 1798.6,288.5 1798.6,287.4 1798.6,286.4 1798.6,284.1 1798.6,283.1 1798.6,283.4 1798.6,281.1 1798.6,280.1 1798.6,279.1 1798.6,278.1 1798.6,278.4 1798.6,277.4 1798.6,275.1 1798.6,275.4 1798.6,274.4 1798.6,273.3 1798.6,272.3 1798.6,270.0 1798.6,270.3 1798.6,268.0 1798.6,268.3 1798.6,267.3 1798.6,265.0 1798.6,265.3 1798.6,263.0 1798.6,263.3 1798.6,261.0 1798.6,261.3 1798.6,258.9 1798.6,259.2 1798.6,258.2 1798.6,257.2 1798.6,256.2 1798.6,255.2 1798.6,252.9 1798.6,251.9 1798.6,250.9 1798.6,249.9 1798.6,248.9 1798.6,249.2 1798.6,248.2 1798.6,247.1 1798.6,246.1 1798.6,244.5 1799.4,243.2 1800.3,243.2 1800.3,244.8 1800.3,245.8 1800.3,245.6 1800.3,247.9 1800.3,247.6 1800.3,249.9 1800.2,249.6 1800.2,250.6 1800.2,252.9 1800.2,252.6 1800.2,253.6 1800.2,254.6 1800.2,255.6 1800.2,256.6 1800.2,258.9 1800.2,260.0 1800.2,261.0 1800.2,262.0 1800.2,263.0 1800.2,264.0 1800.2,263.7 1800.2,266.0 1800.2,267.0 1800.2,268.0 1800.2,269.0 1800.2,268.7 1800.2,269.7 1800.2,272.0 1800.2,273.1 1800.1,274.1 1800.1,273.8 1800.1,274.8 1800.1,275.8 1800.1,278.1 1800.1,277.8 1800.1,280.1 1800.1,281.1 1800.1,282.1 1800.1,281.8 1800.1,284.1 1800.1,283.8 1800.1,286.2 1800.1,287.2 1800.1,288.2 1800.1,289.2 1800.1,290.2 1800.1,291.2 1800.1,290.9 1800.1,291.9 1800.1,294.2 1800.1,295.2 1800.0,296.2 1800.0,295.9 1800.0,298.2 1800.0,299.3 1800.0,299.0 1800.0,301.3 1800.0,302.3 1800.0,303.3 1800.0,304.3 1800.0,304.0 1800.0,305.0 1800.0,307.3 1800.0,308.3 1800.0,308.0 1800.0,310.3 1800.0,311.3 1800.0,311.1 1800.0,313.4 1800.0,313.1 1800.0,314.1 1800.0,315.1 1800.0,316.1 1800.0,318.4 1799.9,318.1 1799.9,320.4 1799.9,320.1 1799.9,322.4 1799.9,323.4 1799.9,324.4 1799.9,325.5 1799.9,326.5 1799.9,326.2 1799.9,327.2 1799.9,328.2 1799.9,330.5 1799.9,331.5 1799.9,331.9 1799.9,331.5 1799.9,329.2 1799.9,329.5 1799.9,327.2 1800.0,327.5 1800.0,325.2 1800.0,325.4 1800.0,323.1 1800.0,322.1 1800.0,322.4 1800.0,320.1 1800.1,319.1 1800.1,319.4 1800.1,317.1 1800.1,316.1 1800.1,316.4 1800.1,315.4 1800.1,314.4 1800.2,312.0 1800.2,311.0 1800.2,310.0 1800.2,309.0 1800.2,309.3 1800.2,307.0 1800.2,307.3 1800.3,305.0 1800.3,304.6 1801.6,305.9 1801.6,305.6 1801.6,303.3 1801.6,303.5 1801.6,301.2 1801.6,300.2 1801.6,299.2 1801.6,298.2 1801.6,298.5 1801.6,297.5 1801.6,295.2 1801.6,295.4 1801.6,294.4 1801.6,293.4 1801.6,292.4 1801.6,291.4 1801.6,290.4 1801.6,288.1 1801.6,287.1 1801.6,287.3 1801.6,286.3 1801.6,284.7 1801.6,283.0 1801.6,282.0 1801.7,282.3 1801.7,280.0 1801.8,279.0 1801.8,279.3 1801.8,278.3 1801.9,277.3 1801.9,276.3 1801.9,274.0 1802.0,273.0 1802.0,273.3 1802.1,272.3 1802.1,271.3 1802.1,270.3 1802.2,269.3 1802.2,268.3 1802.2,266.0 1802.3,265.0 1802.3,264.0 1802.4,264.3 1802.4,262.0 1802.4,261.0 1802.5,260.0 1802.5,259.0 1802.5,258.0 1802.6,258.3 1802.6,256.0 1802.6,256.3 1802.7,255.3 1802.7,253.0 1802.8,253.3 1802.8,251.0 1802.8,251.3 1802.9,249.7 1802.9,250.0 1802.9,251.0 1802.9,253.3 1802.9,254.3 1802.9,255.4 1802.9,255.1 1802.9,257.4 1802.9,258.4 1802.9,258.1 1802.9,259.1 1802.9,261.4 1802.9,262.4 1803.0,262.1 1803.0,264.4 1803.0,265.4 1803.0,265.1 1803.0,267.4 1803.0,268.4 1803.0,268.2 1803.0,269.2 1803.0,271.5 1803.0,271.2 1803.0,272.2 1803.0,274.5 1803.0,274.2 1803.0,275.2 1803.0,276.2 1803.0,277.2 1803.1,279.5 1803.1,280.5 1803.1,280.2 1803.1,282.5 1803.1,282.3 1803.1,284.6 1803.1,284.3 1803.1,285.3 1803.1,287.6 1803.1,287.3 1803.1,289.6 1803.1,290.6 1803.1,290.3 1803.1,291.3 1803.1,292.3 1803.2,293.3 1803.2,295.6 1803.2,295.4 1803.2,296.4 1803.2,298.7 1803.2,299.7 1803.2,300.7 1803.2,301.7 1803.2,302.7 1803.2,302.4 1803.2,304.7 1803.2,305.7 1803.2,306.7 1803.2,306.4 1803.2,308.7 1803.2,308.4 1803.3,309.5 1803.3,311.1 1803.4,310.7 1803.4,308.4 1803.5,308.7 1803.6,306.3 1803.7,306.6 1803.8,304.2 1803.9,304.5 1804.0,303.5 1804.1,301.1 1804.2,300.7 1804.2,300.4 1804.1,299.4 1804.1,297.1 1804.1,296.1 1804.1,295.1 1804.1,295.3 1804.1,294.3 1804.1,292.0 1804.1,291.0 1804.1,290.0 1804.1,290.3 1804.1,288.0 1804.1,288.3 1804.0,286.0 1804.0,285.0 1804.0,284.0 1804.0,283.0 1804.0,283.3 1804.0,281.0 1804.0,280.0 1804.0,280.2 1804.0,277.9 1804.0,278.2 1804.0,277.2 1803.9,276.2 1803.9,275.2 1803.9,272.9 1803.9,273.2 1803.9,270.9 1803.9,271.2 1803.9,270.2 1803.9,267.9 1803.9,268.2 1803.9,267.2 1803.9,264.8 1803.8,265.1 1803.8,264.1 1803.8,263.1 1803.8,262.1 1803.8,261.1 1803.8,258.8 1803.8,259.1 1803.8,257.4 1803.8,259.1 1803.8,258.8 1803.8,259.8 1803.8,260.8 1803.9,261.8 1803.9,262.8 1803.9,263.9 1803.9,266.2 1803.9,267.2 1803.9,266.9 1803.9,269.2 1804.0,270.2 1804.0,271.2 1804.0,272.2 1804.0,273.2 1804.0,274.2 1804.0,275.2 1804.0,274.9 1804.1,277.3 1804.1,277.0 1804.1,279.3 1804.1,280.3 1804.1,280.0 1804.1,282.3 1804.1,283.3 1804.2,283.0 1804.2,284.7 1804.2,283.0 1804.3,283.3 1804.3,282.2 1804.3,279.9 1804.4,280.2 1804.4,279.2 1804.5,276.9 1804.5,275.8 1804.6,274.8 1804.6,273.8 1804.7,272.8 1804.7,273.0 1804.7,272.0 1804.8,269.7 1804.8,268.7 1804.9,267.6 1804.9,267.9 1805.0,265.6 1805.0,265.9 1805.1,263.5 1805.1,262.5 1805.1,261.5 1805.2,260.5 1805.2,260.8 1805.3,258.4 1805.3,257.4 1805.4,256.4 1805.4,255.4 1805.5,255.6 1805.5,254.6 1805.5,253.6 1805.6,251.3 1805.6,250.2 1805.7,250.5 1805.7,248.2 1805.8,248.5 1805.8,246.1 1805.9,245.8 1806.8,244.5 1806.7,246.1 1806.7,247.1 1806.7,246.9 1806.7,249.2 1806.7,250.2 1806.7,251.2 1806.7,252.2 1806.6,253.2 1806.6,252.9 1806.6,255.2 1806.6,254.9 1806.6,255.9 1806.6,256.9 1806.6,257.9 1806.5,259.0 1806.5,260.0 1806.5,262.3 1806.5,262.0 1806.5,263.0 1806.5,264.0 1806.5,266.3 1806.4,267.3 1806.4,268.3 1806.4,268.0 1806.4,270.3 1806.4,271.3 1806.4,271.7 1806.4,271.3 1806.5,270.3 1806.6,268.0 1806.7,267.0 1806.7,266.0 1806.8,266.3 1806.9,265.3 1807.0,264.2 1807.0,261.9 1807.1,260.9 1807.2,261.2 1807.3,258.9 1807.3,259.2 1807.4,256.8 1807.5,255.8 1807.5,256.1 1807.6,255.1 1807.7,254.1 1807.8,251.8 1807.8,250.8 1807.9,251.0 1808.0,248.7 1808.1,248.4 1808.0,248.0 1808.0,247.0 1808.0,244.7 1808.0,243.7 1808.0,244.0 1808.0,241.7 1808.0,241.9 1808.0,239.6 1807.9,239.9 1807.9,238.9 1807.9,237.9 1807.9,236.9 1807.9,235.9 1807.9,233.6 1807.9,233.9 1807.8,231.5 1807.8,230.5 1807.8,230.8 1807.8,229.8 1807.8,227.5 1807.8,227.8 1807.8,226.8 1807.8,225.8 1807.7,223.5 1807.7,222.4 1807.7,222.7 1807.7,221.7 1807.7,220.7 1807.7,218.4 1807.7,217.4 1807.7,217.7 1807.6,215.4 1807.6,214.4 1807.6,214.6 1807.6,212.3 1807.6,212.6 1807.6,210.3 1807.6,210.6 1807.6,208.3 1807.5,207.3 1807.5,207.6 1807.5,206.6 1807.5,205.5 1807.5,204.5 1807.5,203.5 1807.5,202.5 1807.4,200.2 1807.4,199.2 1807.4,198.2 1807.4,197.8 1807.5,197.5 1807.6,196.5 1807.7,194.2 1807.8,193.2 1807.9,192.2 1808.0,192.5 1808.1,190.2 1808.2,190.5 1808.3,189.5 1808.4,187.2 1808.5,186.2 1808.6,186.5 1808.7,184.8 1808.7,186.5 1808.8,187.5 1808.8,187.2 1808.8,189.5 1808.9,190.5 1808.9,191.5 1808.9,191.2 1809.0,193.5 1809.0,193.2 1809.0,195.5 1809.1,195.2 1809.1,196.2 1809.1,197.2 1809.2,198.2 1809.2,199.3 1809.2,200.3 1809.3,202.6 1809.3,203.6 1809.3,203.3 1809.4,205.6 1809.4,206.6 1809.4,207.6 1809.5,208.6 1809.5,208.3 1809.5,210.6 1809.6,210.3 1809.6,211.3 1809.6,213.6 1809.7,214.6 1809.7,214.3 1809.7,216.0 1809.8,215.6 1809.8,213.3 1809.8,213.6 1809.8,211.3 1809.8,210.3 1809.8,210.6 1809.8,208.3 1809.9,207.2 1809.9,206.2 1809.9,205.2 1809.9,204.2 1809.9,203.2 1809.9,202.2 1809.9,201.2 1810.0,200.2 1810.0,200.5 1810.0,198.2 1810.0,197.2 1810.0,197.5 1810.0,195.1 1810.0,195.4 1810.1,194.4 1810.1,193.4 1810.1,191.1 1810.1,190.1 1810.1,190.4 1810.1,189.4 1810.1,188.4 1810.2,186.1 1810.2,186.4 1810.2,184.1 1810.2,184.3 1810.2,182.0 1810.2,181.0 1810.2,181.3 1810.3,179.7 1810.3,180.0 1810.4,181.0 1810.4,182.0 1810.5,183.0 1810.5,184.0 1810.6,185.0 1810.6,187.3 1810.7,188.3 1810.7,188.0 1810.8,190.3 1810.9,190.1 1810.9,191.1 1811.0,192.1 1811.0,194.4 1811.1,195.4 1811.1,195.1 1811.2,197.4 1811.2,197.1 1811.3,198.1 1811.3,199.1 1811.4,200.1 1811.5,202.4 1811.5,203.4 1811.6,204.4 1811.6,205.4 1811.7,205.1 1811.7,207.4 1811.8,208.4 1811.8,208.1 1811.9,210.4 1811.9,210.8 1812.0,209.1 1812.0,209.4 1812.0,207.1 1812.0,206.1 1812.0,205.0 1812.1,204.0 1812.1,204.3 1812.1,202.0 1812.1,202.3 1812.1,201.3 1812.1,200.2 1812.2,199.2 1812.2,198.2 1812.2,197.2 1812.2,196.2 1812.2,193.9 1812.2,192.9 1812.3,191.8 1812.3,190.8 1812.3,191.1 1812.3,190.1 1812.3,189.1 1812.3,188.1 1812.4,185.7 1812.4,184.7 1812.4,185.0 1812.4,184.0 1812.4,181.7 1812.5,180.7 1812.5,179.6 1812.5,179.9 1812.5,177.6 1812.5,177.9 1812.5,176.9 1812.6,175.9 1812.6,174.8 1812.6,173.2 1812.8,171.5 1812.9,171.7 1813.1,170.7 1813.2,168.3 1813.4,168.6 1813.6,167.5 1813.7,166.5 1813.9,164.8 1814.0,166.5 1814.1,167.5 1814.1,167.3 1814.2,168.3 1814.3,169.4 1814.4,170.4 1814.5,172.8 1814.5,173.2 1814.5,173.5 1814.5,175.9 1814.5,176.9 1814.5,176.6 1814.5,178.9 1814.5,179.9 1814.5,179.6 1814.4,180.6 1814.4,181.6 1814.4,182.6 1814.4,184.9 1814.4,184.6 1814.4,187.0 1814.4,188.0 1814.4,187.7 1814.3,188.7 1814.3,189.7 1814.3,192.0 1814.3,193.0 1814.3,194.0 1814.3,193.7 1814.3,196.0 1814.3,195.8 1814.2,196.8 1814.2,199.1 1814.2,198.8 1814.2,201.1 1814.2,202.1 1814.2,203.1 1814.2,204.1 1814.2,205.1 1814.1,204.8 1814.1,205.8 1814.1,206.9 1814.1,207.9 1814.1,210.2 1814.1,211.2 1814.1,210.9 1814.1,211.9 1814.0,214.2 1814.0,215.2 1814.0,216.2 1814.0,217.2 1814.0,217.0 1814.0,218.0 1814.0,220.3 1814.0,220.0 1813.9,221.0 1813.9,223.3 1813.9,223.0 1813.9,224.0 1813.9,225.7 1813.9,224.0 1814.0,223.0 1814.0,223.3 1814.0,221.0 1814.0,221.3 1814.1,220.3 1814.1,218.0 1814.1,217.0 1814.2,217.3 1814.2,215.0 1814.2,215.3 1814.3,213.0 1814.3,213.3 1814.3,212.3 1814.3,210.0 1814.4,210.3 1814.4,209.3 1814.4,207.0 1814.5,206.0 1814.5,206.3 1814.5,205.2 1814.6,202.9 1814.6,203.2 1814.6,200.9 1814.7,201.2 1814.7,198.9 1814.7,197.9 1814.7,198.2 1814.8,197.2 1814.8,196.2 1814.8,193.9 1814.9,192.9 1814.9,191.9 1814.9,190.9 1815.0,191.2 1815.0,190.2 1815.0,189.2 1815.0,188.2 1815.1,185.9 1815.1,186.2 1815.1,185.2 1815.2,182.9 1815.2,183.2 1815.2,182.2 1815.3,181.2 1815.3,178.8 1815.3,179.1 1815.4,176.8 1815.4,177.1 1815.4,174.8 1815.4,174.5 1815.5,174.8 1815.5,175.9 1815.5,178.2 1815.5,179.2 1815.5,178.9 1815.5,180.0 1815.6,182.3 1815.6,183.3 1815.6,184.3 1815.6,184.0 1815.6,185.1 1815.6,186.1 1815.7,188.4 1815.7,188.1 1815.7,189.1 1815.7,191.5 1815.7,192.5 1815.7,192.2 1815.8,193.2 1815.8,195.5 1815.8,196.6 1815.8,197.6 1815.8,198.6 1815.8,199.6 1815.9,200.6 1815.9,200.4 1815.9,201.4 1815.9,202.4 1815.9,204.7 1815.9,204.4 1816.0,205.5 1816.0,206.5 1816.0,207.5 1816.0,208.5 1816.0,209.5 1816.0,210.6 1816.1,211.6 1816.1,212.6 1816.1,214.9 1816.1,215.9 1816.1,215.7 1816.1,218.0 1816.2,219.0 1816.2,220.0 1816.2,219.8 1816.2,220.8 1816.2,222.4 1816.2,222.8 1816.2,225.1 1816.3,226.2 1816.3,227.2 1816.3,228.2 1816.3,227.9 1816.3,230.2 1816.3,230.0 1816.3,231.0 1816.4,233.3 1816.4,234.3 1816.4,235.3 1816.4,236.4 1816.4,237.4 1816.4,238.4 1816.4,238.1 1816.4,239.1 1816.5,240.2 1816.5,242.5 1816.5,242.2 1816.5,244.5 1816.5,244.3 1816.5,245.3 1816.5,246.3 1816.5,248.6 1816.6,249.6 1816.6,250.7 1816.6,251.7 1816.6,251.4 1816.6,253.7 1816.6,254.7 1816.6,254.5 1816.7,255.5 1816.7,256.5 1816.7,258.8 1816.7,258.5 1816.7,260.9 1816.7,260.6 1816.7,262.9 1816.7,263.3 1816.8,261.6 1816.8,260.6 1816.8,260.9 1816.8,259.9 1816.9,257.5 1816.9,257.8 1816.9,255.5 1816.9,255.8 1817.0,254.8 1817.0,252.5 1817.0,251.5 1817.1,251.7 1817.1,250.7 1817.1,249.7 1817.1,247.4 1817.2,246.4 1817.2,246.7 1817.2,245.6 1817.2,243.3 1817.3,242.3 1817.3,241.3 1817.3,241.6 1817.3,240.6 1817.4,238.3 1817.4,237.2 1817.4,237.5 1817.4,235.2 1817.5,234.2 1817.5,233.2 1817.5,232.8 1817.5,231.1 1817.6,231.4 1817.6,229.1 1817.6,228.1 1817.7,227.0 1817.7,226.0 1817.7,226.3 1817.8,225.3 1817.8,224.2 1817.8,223.2 1817.8,220.9 1817.9,221.2 1817.9,220.1 1817.9,219.1 1818.0,218.1 1818.0,217.1 1818.0,216.0 1818.0,213.7 1818.1,214.0 1818.1,211.7 1818.1,210.6 1818.2,210.9 1818.2,209.9 1818.2,208.9 1818.3,207.8 1818.3,205.5 1818.3,204.5 1818.3,203.5 1818.4,202.5 1818.4,202.7 1818.4,201.1 1818.5,202.7 1818.5,203.8 1818.6,204.8 1818.6,205.8 1818.7,206.9 1818.7,207.9 1818.8,208.9 1818.8,208.7 1818.9,211.0 1818.9,210.7 1819.0,213.1 1819.0,214.1 1819.1,213.8 1819.1,214.9 1819.1,217.2 1819.2,216.9 1819.2,219.3 1819.3,219.0 1819.3,220.0 1819.4,221.0 1819.4,223.4 1819.5,224.4 1819.5,224.1 1819.6,225.2 1819.6,227.5 1819.7,228.5 1819.7,228.9 1820.6,228.9 1820.6,228.5 1820.6,226.2 1820.6,225.1 1820.5,224.0 1820.5,224.3 1820.5,223.2 1820.5,222.1 1820.4,219.8 1820.4,218.7 1820.4,217.7 1820.4,217.3 1820.4,218.9 1820.4,220.0 1820.4,221.0 1820.4,220.7 1820.4,223.0 1820.4,224.1 1820.4,223.8 1820.5,226.1 1820.5,227.1 1820.5,226.9 1820.5,229.2 1820.5,229.6" fill="none" stroke="#0000ff" stroke-width="3.0" stroke-linejoin="round" stroke-linecap="round"/>
<line x1="49.5" x2="58" y1="962" y2="962" stroke="#111" stroke-width="1.7"/>
<line x1="1863" x2="1871.5" y1="962" y2="962" stroke="#111" stroke-width="1.7"/>
<line x1="54" x2="58" y1="936.0" y2="936.0" stroke="#111" stroke-width="1.5"/>
<line x1="1863" x2="1867" y1="936.0" y2="936.0" stroke="#111" stroke-width="1.5"/>
<line x1="54" x2="58" y1="909.5" y2="909.5" stroke="#111" stroke-width="1.5"/>
<line x1="1863" x2="1867" y1="909.5" y2="909.5" stroke="#111" stroke-width="1.5"/>
<line x1="54" x2="58" y1="883.5" y2="883.5" stroke="#111" stroke-width="1.5"/>
<line x1="1863" x2="1867" y1="883.5" y2="883.5" stroke="#111" stroke-width="1.5"/>
<line x1="54" x2="58" y1="857.5" y2="857.5" stroke="#111" stroke-width="1.5"/>
<line x1="1863" x2="1867" y1="857.5" y2="857.5" stroke="#111" stroke-width="1.5"/>
<line x1="49.5" x2="58" y1="831.5" y2="831.5" stroke="#111" stroke-width="1.7"/>
<line x1="1863" x2="1871.5" y1="831.5" y2="831.5" stroke="#111" stroke-width="1.7"/>
<line x1="54" x2="58" y1="805.0" y2="805.0" stroke="#111" stroke-width="1.5"/>
<line x1="1863" x2="1867" y1="805.0" y2="805.0" stroke="#111" stroke-width="1.5"/>
<line x1="54" x2="58" y1="779.0" y2="779.0" stroke="#111" stroke-width="1.5"/>
<line x1="1863" x2="1867" y1="779.0" y2="779.0" stroke="#111" stroke-width="1.5"/>
<line x1="54" x2="58" y1="753.0" y2="753.0" stroke="#111" stroke-width="1.5"/>
<line x1="1863" x2="1867" y1="753.0" y2="753.0" stroke="#111" stroke-width="1.5"/>
<line x1="54" x2="58" y1="726.5" y2="726.5" stroke="#111" stroke-width="1.5"/>
<line x1="1863" x2="1867" y1="726.5" y2="726.5" stroke="#111" stroke-width="1.5"/>
<line x1="49.5" x2="58" y1="701" y2="701" stroke="#111" stroke-width="1.7"/>
<line x1="1863" x2="1871.5" y1="701" y2="701" stroke="#111" stroke-width="1.7"/>
<line x1="54" x2="58" y1="674.5" y2="674.5" stroke="#111" stroke-width="1.5"/>
<line x1="1863" x2="1867" y1="674.5" y2="674.5" stroke="#111" stroke-width="1.5"/>
<line x1="54" x2="58" y1="648.5" y2="648.5" stroke="#111" stroke-width="1.5"/>
<line x1="1863" x2="1867" y1="648.5" y2="648.5" stroke="#111" stroke-width="1.5"/>
<line x1="54" x2="58" y1="622.0" y2="622.0" stroke="#111" stroke-width="1.5"/>
<line x1="1863" x2="1867" y1="622.0" y2="622.0" stroke="#111" stroke-width="1.5"/>
<line x1="54" x2="58" y1="596.0" y2="596.0" stroke="#111" stroke-width="1.5"/>
<line x1="1863" x2="1867" y1="596.0" y2="596.0" stroke="#111" stroke-width="1.5"/>
<line x1="49.5" x2="58" y1="570.5" y2="570.5" stroke="#111" stroke-width="1.7"/>
<line x1="1863" x2="1871.5" y1="570.5" y2="570.5" stroke="#111" stroke-width="1.7"/>
<line x1="54" x2="58" y1="543.5" y2="543.5" stroke="#111" stroke-width="1.5"/>
<line x1="1863" x2="1867" y1="543.5" y2="543.5" stroke="#111" stroke-width="1.5"/>
<line x1="54" x2="58" y1="517.5" y2="517.5" stroke="#111" stroke-width="1.5"/>
<line x1="1863" x2="1867" y1="517.5" y2="517.5" stroke="#111" stroke-width="1.5"/>
<line x1="54" x2="58" y1="491.5" y2="491.5" stroke="#111" stroke-width="1.5"/>
<line x1="1863" x2="1867" y1="491.5" y2="491.5" stroke="#111" stroke-width="1.5"/>
<line x1="54" x2="58" y1="465.5" y2="465.5" stroke="#111" stroke-width="1.5"/>
<line x1="1863" x2="1867" y1="465.5" y2="465.5" stroke="#111" stroke-width="1.5"/>
<line x1="49.5" x2="58" y1="438.5" y2="438.5" stroke="#111" stroke-width="1.7"/>
<line x1="1863" x2="1871.5" y1="438.5" y2="438.5" stroke="#111" stroke-width="1.7"/>
<line x1="54" x2="58" y1="413.0" y2="413.0" stroke="#111" stroke-width="1.5"/>
<line x1="1863" x2="1867" y1="413.0" y2="413.0" stroke="#111" stroke-width="1.5"/>
<line x1="54" x2="58" y1="387.0" y2="387.0" stroke="#111" stroke-width="1.5"/>
<line x1="1863" x2="1867" y1="387.0" y2="387.0" stroke="#111" stroke-width="1.5"/>
<line x1="54" x2="58" y1="360.5" y2="360.5" stroke="#111" stroke-width="1.5"/>
<line x1="1863" x2="1867" y1="360.5" y2="360.5" stroke="#111" stroke-width="1.5"/>
<line x1="54" x2="58" y1="334.5" y2="334.5" stroke="#111" stroke-width="1.5"/>
<line x1="1863" x2="1867" y1="334.5" y2="334.5" stroke="#111" stroke-width="1.5"/>
<line x1="49.5" x2="58" y1="308" y2="308" stroke="#111" stroke-width="1.7"/>
<line x1="1863" x2="1871.5" y1="308" y2="308" stroke="#111" stroke-width="1.7"/>
<line x1="54" x2="58" y1="282.5" y2="282.5" stroke="#111" stroke-width="1.5"/>
<line x1="1863" x2="1867" y1="282.5" y2="282.5" stroke="#111" stroke-width="1.5"/>
<line x1="54" x2="58" y1="256.0" y2="256.0" stroke="#111" stroke-width="1.5"/>
<line x1="1863" x2="1867" y1="256.0" y2="256.0" stroke="#111" stroke-width="1.5"/>
<line x1="54" x2="58" y1="230.0" y2="230.0" stroke="#111" stroke-width="1.5"/>
<line x1="1863" x2="1867" y1="230.0" y2="230.0" stroke="#111" stroke-width="1.5"/>
<line x1="54" x2="58" y1="204.0" y2="204.0" stroke="#111" stroke-width="1.5"/>
<line x1="1863" x2="1867" y1="204.0" y2="204.0" stroke="#111" stroke-width="1.5"/>
<line x1="49.5" x2="58" y1="177.5" y2="177.5" stroke="#111" stroke-width="1.7"/>
<line x1="1863" x2="1871.5" y1="177.5" y2="177.5" stroke="#111" stroke-width="1.7"/>
<line x1="54" x2="58" y1="151.5" y2="151.5" stroke="#111" stroke-width="1.5"/>
<line x1="1863" x2="1867" y1="151.5" y2="151.5" stroke="#111" stroke-width="1.5"/>
<line x1="54" x2="58" y1="125.5" y2="125.5" stroke="#111" stroke-width="1.5"/>
<line x1="1863" x2="1867" y1="125.5" y2="125.5" stroke="#111" stroke-width="1.5"/>
<line x1="54" x2="58" y1="99.5" y2="99.5" stroke="#111" stroke-width="1.5"/>
<line x1="1863" x2="1867" y1="99.5" y2="99.5" stroke="#111" stroke-width="1.5"/>
<line x1="54" x2="58" y1="73.0" y2="73.0" stroke="#111" stroke-width="1.5"/>
<line x1="1863" x2="1867" y1="73.0" y2="73.0" stroke="#111" stroke-width="1.5"/>
<line x1="49.5" x2="58" y1="47" y2="47" stroke="#111" stroke-width="1.7"/>
<line x1="1863" x2="1871.5" y1="47" y2="47" stroke="#111" stroke-width="1.7"/>
<line x1="59" x2="59" y1="963" y2="971.5" stroke="#111" stroke-width="1.7"/>
<line x1="101.5" x2="101.5" y1="963" y2="967" stroke="#111" stroke-width="1.5"/>
<line x1="144.5" x2="144.5" y1="963" y2="967" stroke="#111" stroke-width="1.5"/>
<line x1="187.0" x2="187.0" y1="963" y2="967" stroke="#111" stroke-width="1.5"/>
<line x1="229.5" x2="229.5" y1="963" y2="967" stroke="#111" stroke-width="1.5"/>
<line x1="272" x2="272" y1="963" y2="971.5" stroke="#111" stroke-width="1.7"/>
<line x1="315.0" x2="315.0" y1="963" y2="967" stroke="#111" stroke-width="1.5"/>
<line x1="357.5" x2="357.5" y1="963" y2="967" stroke="#111" stroke-width="1.5"/>
<line x1="400.0" x2="400.0" y1="963" y2="967" stroke="#111" stroke-width="1.5"/>
<line x1="443.0" x2="443.0" y1="963" y2="967" stroke="#111" stroke-width="1.5"/>
<line x1="485" x2="485" y1="963" y2="971.5" stroke="#111" stroke-width="1.7"/>
<line x1="528.0" x2="528.0" y1="963" y2="967" stroke="#111" stroke-width="1.5"/>
<line x1="570.5" x2="570.5" y1="963" y2="967" stroke="#111" stroke-width="1.5"/>
<line x1="613.5" x2="613.5" y1="963" y2="967" stroke="#111" stroke-width="1.5"/>
<line x1="656.0" x2="656.0" y1="963" y2="967" stroke="#111" stroke-width="1.5"/>
<line x1="698" x2="698" y1="963" y2="971.5" stroke="#111" stroke-width="1.7"/>
<line x1="741.0" x2="741.0" y1="963" y2="967" stroke="#111" stroke-width="1.5"/>
<line x1="784.0" x2="784.0" y1="963" y2="967" stroke="#111" stroke-width="1.5"/>
<line x1="826.5" x2="826.5" y1="963" y2="967" stroke="#111" stroke-width="1.5"/>
<line x1="869.0" x2="869.0" y1="963" y2="967" stroke="#111" stroke-width="1.5"/>
<line x1="912.5" x2="912.5" y1="963" y2="971.5" stroke="#111" stroke-width="1.7"/>
<line x1="954.5" x2="954.5" y1="963" y2="967" stroke="#111" stroke-width="1.5"/>
<line x1="997.0" x2="997.0" y1="963" y2="967" stroke="#111" stroke-width="1.5"/>
<line x1="1039.5" x2="1039.5" y1="963" y2="967" stroke="#111" stroke-width="1.5"/>
<line x1="1082.5" x2="1082.5" y1="963" y2="967" stroke="#111" stroke-width="1.5"/>
<line x1="1125.5" x2="1125.5" y1="963" y2="971.5" stroke="#111" stroke-width="1.7"/>
<line x1="1167.5" x2="1167.5" y1="963" y2="967" stroke="#111" stroke-width="1.5"/>
<line x1="1210.5" x2="1210.5" y1="963" y2="967" stroke="#111" stroke-width="1.5"/>
<line x1="1253.0" x2="1253.0" y1="963" y2="967" stroke="#111" stroke-width="1.5"/>
<line x1="1295.5" x2="1295.5" y1="963" y2="967" stroke="#111" stroke-width="1.5"/>
<line x1="1338.5" x2="1338.5" y1="963" y2="971.5" stroke="#111" stroke-width="1.7"/>
<line x1="1381.0" x2="1381.0" y1="963" y2="967" stroke="#111" stroke-width="1.5"/>
<line x1="1423.5" x2="1423.5" y1="963" y2="967" stroke="#111" stroke-width="1.5"/>
<line x1="1466.0" x2="1466.0" y1="963" y2="967" stroke="#111" stroke-width="1.5"/>
<line x1="1509.0" x2="1509.0" y1="963" y2="967" stroke="#111" stroke-width="1.5"/>
<line x1="1551.5" x2="1551.5" y1="963" y2="971.5" stroke="#111" stroke-width="1.7"/>
<line x1="1594.0" x2="1594.0" y1="963" y2="967" stroke="#111" stroke-width="1.5"/>
<line x1="1636.5" x2="1636.5" y1="963" y2="967" stroke="#111" stroke-width="1.5"/>
<line x1="1679.5" x2="1679.5" y1="963" y2="967" stroke="#111" stroke-width="1.5"/>
<line x1="1722.0" x2="1722.0" y1="963" y2="967" stroke="#111" stroke-width="1.5"/>
<line x1="1764.5" x2="1764.5" y1="963" y2="971.5" stroke="#111" stroke-width="1.7"/>
<line x1="1807.0" x2="1807.0" y1="963" y2="967" stroke="#111" stroke-width="1.5"/>
<line x1="1850.0" x2="1850.0" y1="963" y2="967" stroke="#111" stroke-width="1.5"/>
<rect x="59" y="47" width="1803" height="915" fill="none" stroke="#000" stroke-width="4"/>
</svg>
<div id="title"><span>RTX CORPORATION: FORWARD P/E<br>(daily)</span></div>
<div id="legend"><div class="ln"></div><div class="tx">Forward P/E* (Apr 15 = 28.0)</div></div>
<div class="yl" style="top:945.6px;width:40.4px">0</div><div class="yr" style="top:945.6px">0</div><div class="yl" style="top:815.1px;width:40.4px">5</div><div class="yr" style="top:815.1px">5</div><div class="yl" style="top:684.6px">10</div><div class="yr" style="top:684.6px">10</div><div class="yl" style="top:554.1px">15</div><div class="yr" style="top:554.1px">15</div><div class="yl" style="top:422.1px">20</div><div class="yr" style="top:422.1px">20</div><div class="yl" style="top:291.6px">25</div><div class="yr" style="top:291.6px">25</div><div class="yl" style="top:161.1px">30</div><div class="yr" style="top:161.1px">30</div><div class="yl" style="top:30.6px">35</div><div class="yr" style="top:30.6px">35</div><div class="xl" style="left:19.0px">1985</div><div class="xl" style="left:232.0px">1990</div><div class="xl" style="left:445.0px">1995</div><div class="xl" style="left:658.0px">2000</div><div class="xl" style="left:872.5px">2005</div><div class="xl" style="left:1085.5px">2010</div><div class="xl" style="left:1298.5px">2015</div><div class="xl" style="left:1511.5px">2020</div><div class="xl" style="left:1724.5px">2025</div>
<div class="ft" style="top:1013px">Source: LSEG Datastream and © Yardeni Research.</div>
<div class="ft" style="top:1046px">* Price divided by 12-month forward consensus expected operating earnings per share.</div>
</body></html>
